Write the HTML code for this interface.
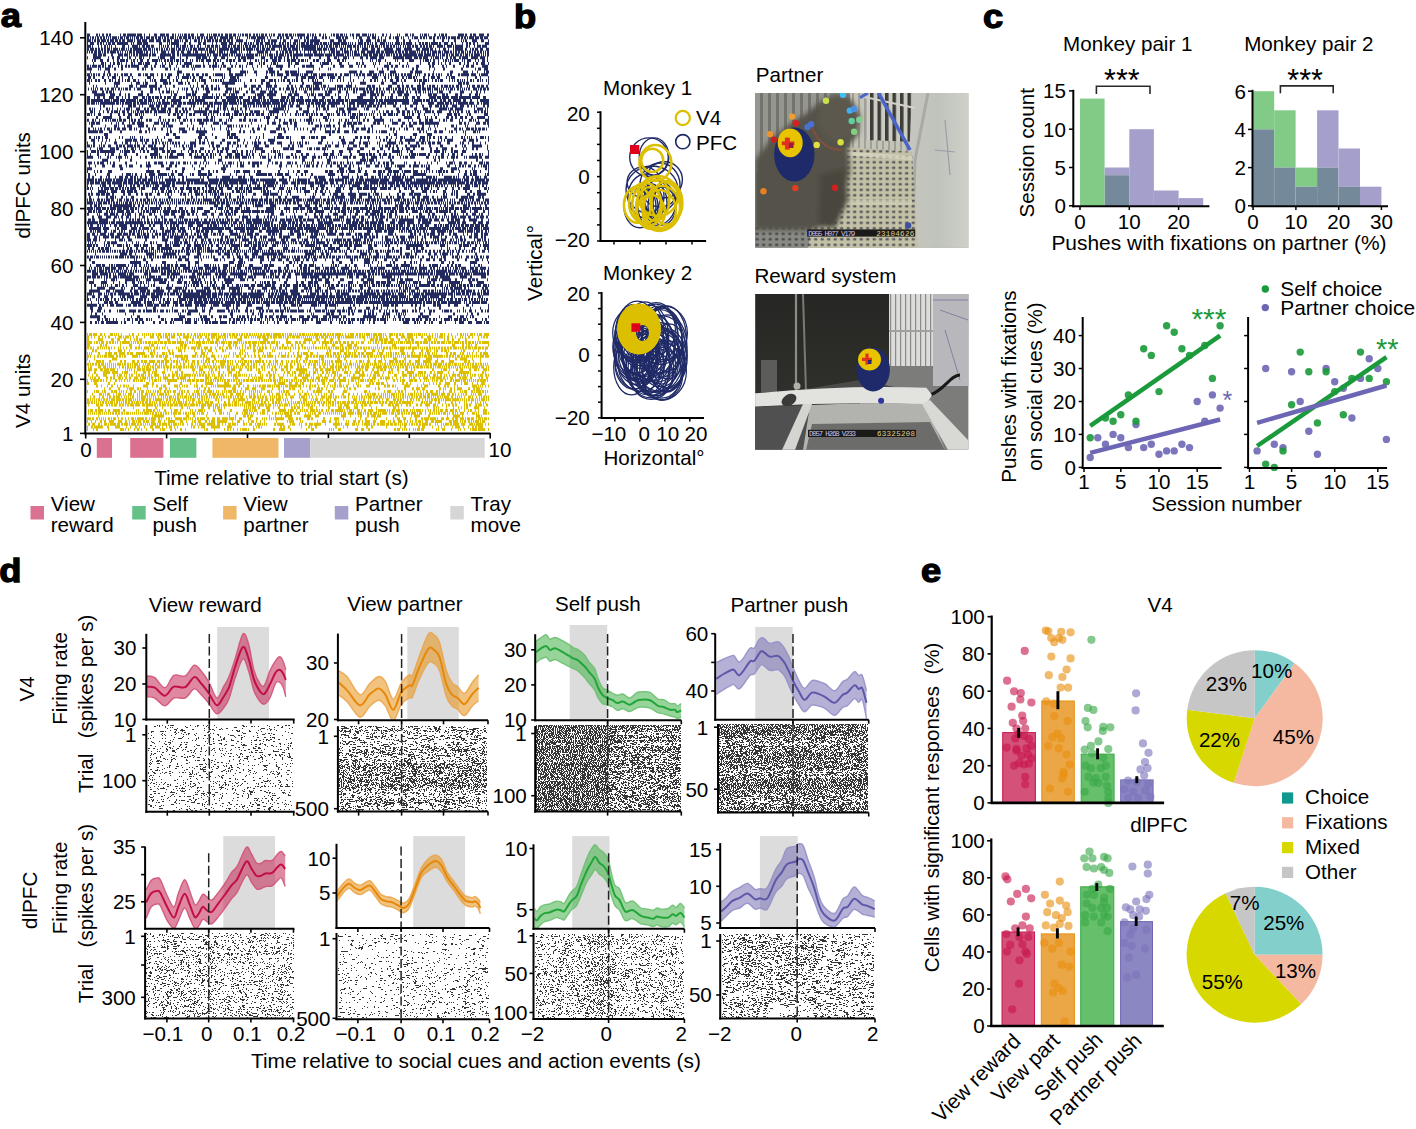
<!DOCTYPE html>
<html><head><meta charset="utf-8"><style>
html,body{margin:0;padding:0;background:#fff;}
body{width:1416px;height:1129px;overflow:hidden;}
svg{display:block;font-family:"Liberation Sans",sans-serif;font-size:20.6px;}
</style></head><body>
<svg width="1416" height="1129" viewBox="0 0 1416 1129">
<text transform="translate(0.7,27) scale(1.1,1)" font-size="33" font-weight="bold" stroke="#000" stroke-width="1.3">a</text>
<path d="M90 322.4h2m3 0h2m1 0h1m2 0h3m2 0h12m3 0h1m2 0h2m6 0h1m5 0h2m2 0h2m9 0h2m4 0h2m4 0h2m3 0h2m1 0h1m8 0h1m2 0h6m3 0h3m5 0h1m2 0h3m1 0h2m1 0h6m2 0h7m2 0h1m2 0h3m1 0h1m3 0h1m3 0h1m5 0h2m8 0h2m1 0h1m3 0h1m6 0h1m2 0h2m6 0h3m3 0h1m10 0h2m1 0h1m10 0h5m9 0h2m7 0h1m1 0h2m1 0h2m2 0h3m1 0h1m7 0h1m1 0h2m5 0h1m3 0h2m9 0h2m17 0h6m5 0h2m1 0h1m1 0h1m4 0h2m3 0h1m1 0h2m6 0h3m3 0h1m9 0h1m3 0h5m4 0h4m4 0h6m2 0h1m1 0h3M97 319.6h3m2 0h1m2 0h3m1 0h1m3 0h1m2 0h1m7 0h1m2 0h3m2 0h1m2 0h3m1 0h4m3 0h2m1 0h1m1 0h1m9 0h3m1 0h1m5 0h2m1 0h9m2 0h1m1 0h4m3 0h1m1 0h1m1 0h1m2 0h2m1 0h6m5 0h1m4 0h1m8 0h2m2 0h2m1 0h4m1 0h2m1 0h2m2 0h1m1 0h3m1 0h2m1 0h3m1 0h1m3 0h1m1 0h1m1 0h1m2 0h2m3 0h1m1 0h3m2 0h1m1 0h1m1 0h1m2 0h5m1 0h1m1 0h1m2 0h7m2 0h2m3 0h2m1 0h1m1 0h6m1 0h1m1 0h1m1 0h1m3 0h1m2 0h2m2 0h1m2 0h1m1 0h2m1 0h4m2 0h2m1 0h5m2 0h1m1 0h2m2 0h3m1 0h2m1 0h6m1 0h1m5 0h1m1 0h1m3 0h2m1 0h2m1 0h5m2 0h3m1 0h3m1 0h2m3 0h3m1 0h2m2 0h2m1 0h1m4 0h1m2 0h6m1 0h1m2 0h4m1 0h3m1 0h3m1 0h1m7 0h2m5 0h1m2 0h2M90 316.7h10m4 0h2m25 0h1m5 0h3m18 0h2m19 0h6m15 0h2m1 0h4m4 0h2m6 0h3m1 0h4m4 0h2m4 0h1m1 0h2m1 0h3m2 0h2m2 0h1m3 0h1m4 0h3m2 0h2m2 0h4m3 0h3m1 0h7m3 0h2m7 0h5m3 0h3m2 0h6m5 0h4m2 0h2m1 0h7m2 0h1m1 0h3m17 0h13m6 0h2m1 0h1m1 0h1m1 0h1m4 0h1m3 0h3m3 0h1m13 0h3m1 0h7m10 0h1m8 0h4m5 0h1m2 0h4m2 0h1m3 0h1m1 0h2m14 0h1M91 313.9h1m3 0h2m5 0h1m22 0h1m7 0h1m44 0h1m1 0h1m6 0h4m8 0h1m9 0h1m20 0h3m14 0h1m4 0h2m4 0h1m1 0h3m10 0h1m7 0h2m28 0h1m1 0h1m12 0h4m1 0h3m5 0h2m7 0h2m2 0h2m10 0h2m2 0h3m1 0h2m2 0h1m6 0h2m1 0h4m6 0h1m1 0h2m1 0h1m1 0h1m1 0h1m14 0h3m6 0h2m22 0h2m12 0h1m3 0h2m4 0h2M91 311h2m4 0h4m3 0h1m4 0h2m6 0h1m1 0h6m4 0h7m2 0h3m2 0h2m1 0h6m1 0h3m1 0h1m2 0h4m2 0h2m1 0h1m2 0h1m1 0h4m4 0h2m1 0h1m2 0h10m4 0h3m4 0h2m6 0h8m3 0h2m1 0h2m1 0h1m1 0h1m1 0h2m5 0h3m2 0h2m1 0h1m5 0h2m1 0h2m2 0h2m1 0h4m2 0h4m1 0h4m1 0h1m1 0h2m1 0h7m1 0h6m3 0h1m1 0h2m4 0h6m1 0h3m1 0h1m1 0h1m1 0h5m2 0h4m1 0h3m1 0h1m1 0h2m1 0h2m1 0h1m3 0h4m2 0h2m2 0h1m1 0h1m1 0h2m5 0h2m3 0h1m1 0h1m2 0h1m2 0h2m1 0h3m4 0h4m1 0h1m4 0h2m1 0h2m2 0h1m4 0h1m4 0h3m1 0h2m7 0h1m1 0h5m1 0h2m5 0h1m1 0h1m3 0h1m1 0h1m3 0h3m3 0h1m5 0h2m2 0h1m1 0h2M90 308.2h3m5 0h4m44 0h1m6 0h3m16 0h1m14 0h1m7 0h2m5 0h1m1 0h1m5 0h3m13 0h3m4 0h1m2 0h2m8 0h2m8 0h7m5 0h1m11 0h1m3 0h2m1 0h1m1 0h1m8 0h1m11 0h1m3 0h1m10 0h2m8 0h1m7 0h1m4 0h4m3 0h1m10 0h4m3 0h2m1 0h2m3 0h1m5 0h1m7 0h1m19 0h1m3 0h2m7 0h1m10 0h2m22 0h1m6 0h1m9 0h1m7 0h1M87 305.3h10m2 0h2m1 0h2m3 0h1m2 0h4m2 0h7m3 0h1m1 0h3m2 0h4m1 0h5m2 0h1m1 0h6m1 0h5m2 0h5m1 0h2m4 0h1m1 0h3m2 0h4m1 0h7m3 0h4m1 0h6m5 0h1m1 0h6m3 0h9m2 0h1m2 0h4m7 0h5m10 0h1m3 0h4m9 0h2m2 0h2m6 0h5m1 0h1m1 0h3m9 0h6m1 0h1m1 0h1m4 0h3m1 0h7m1 0h1m12 0h1m2 0h2m4 0h1m13 0h1m3 0h1m3 0h1m1 0h6m2 0h3m1 0h3m4 0h1m8 0h2m2 0h2m3 0h1m2 0h2m8 0h3m1 0h4m7 0h2m4 0h4m8 0h3m3 0h1m15 0h1M91 302.5h1m6 0h1m5 0h4m1 0h4m2 0h3m13 0h10m3 0h2m1 0h5m1 0h1m5 0h2m2 0h1m1 0h5m3 0h5m1 0h3m3 0h2m1 0h4m2 0h9m1 0h4m1 0h11m1 0h2m2 0h10m1 0h4m1 0h5m1 0h4m1 0h3m1 0h4m1 0h1m1 0h7m1 0h4m1 0h7m1 0h4m1 0h5m1 0h1m1 0h3m1 0h16m1 0h9m1 0h3m1 0h2m1 0h18m1 0h1m1 0h7m1 0h4m1 0h12m1 0h40m1 0h2m1 0h6m1 0h3m1 0h3m1 0h6m1 0h13m3 0h1m1 0h1m2 0h2m1 0h8m1 0h6M87 299.6h2m1 0h1m5 0h1m1 0h1m1 0h2m1 0h1m1 0h4m2 0h1m2 0h2m2 0h1m2 0h2m1 0h2m1 0h1m2 0h1m1 0h2m2 0h2m1 0h4m1 0h2m2 0h1m3 0h3m1 0h1m1 0h1m1 0h1m2 0h2m2 0h2m1 0h1m2 0h1m3 0h1m1 0h7m1 0h1m1 0h4m1 0h3m1 0h4m1 0h4m1 0h1m1 0h3m1 0h1m1 0h2m1 0h2m1 0h1m1 0h1m1 0h1m1 0h1m1 0h4m1 0h2m1 0h4m1 0h3m1 0h1m1 0h1m1 0h1m1 0h2m1 0h2m1 0h1m1 0h2m1 0h1m1 0h2m1 0h1m1 0h1m1 0h2m1 0h2m1 0h5m1 0h2m1 0h3m1 0h4m1 0h4m1 0h1m1 0h1m1 0h1m1 0h1m1 0h1m1 0h2m1 0h5m1 0h4m1 0h1m1 0h1m1 0h2m1 0h1m1 0h1m1 0h3m1 0h3m1 0h7m1 0h2m1 0h8m1 0h2m1 0h1m1 0h1m1 0h1m1 0h1m1 0h1m1 0h2m1 0h4m1 0h3m1 0h2m1 0h1m1 0h3m1 0h2m1 0h1m1 0h1m1 0h2m1 0h4m1 0h2m1 0h1m1 0h5m1 0h2m1 0h2m1 0h1m1 0h1m2 0h1m1 0h5m1 0h1m2 0h2m1 0h3m2 0h2m1 0h3m1 0h1m1 0h3m2 0h1m1 0h2m1 0h2m1 0h1m1 0h1m1 0h2m1 0h1m1 0h2M87 296.8h1m4 0h3m3 0h2m4 0h4m3 0h2m7 0h1m1 0h3m2 0h7m6 0h7m4 0h8m1 0h2m6 0h1m9 0h3m2 0h23m1 0h4m1 0h5m1 0h1m2 0h1m2 0h1m1 0h2m1 0h2m1 0h4m2 0h2m1 0h8m1 0h12m1 0h1m4 0h5m1 0h2m1 0h7m1 0h7m1 0h4m1 0h4m1 0h12m1 0h12m1 0h6m1 0h7m1 0h2m1 0h4m1 0h4m1 0h11m1 0h2m1 0h6m1 0h6m1 0h2m1 0h1m1 0h7m1 0h7m1 0h1m1 0h1m3 0h6m1 0h1m1 0h5m1 0h1m1 0h9m2 0h5m5 0h2m1 0h1m6 0h1m3 0h1m2 0h2m2 0h1m5 0h3m1 0h1M87 293.9h5m1 0h1m4 0h4m2 0h1m1 0h1m1 0h1m1 0h3m1 0h2m2 0h12m1 0h2m1 0h5m1 0h1m1 0h3m1 0h4m1 0h4m1 0h7m1 0h2m1 0h2m1 0h5m1 0h3m1 0h2m1 0h17m1 0h10m1 0h5m1 0h5m1 0h5m1 0h12m1 0h4m1 0h16m4 0h2m1 0h3m1 0h2m1 0h1m1 0h8m3 0h9m7 0h1m2 0h6m1 0h2m3 0h3m1 0h2m2 0h2m4 0h4m1 0h8m11 0h3m1 0h12m1 0h3m2 0h9m1 0h2m1 0h1m2 0h6m1 0h1m3 0h2m1 0h1m1 0h6m1 0h3m1 0h22m1 0h5m1 0h1m1 0h5m1 0h3m1 0h3m1 0h1m1 0h4m1 0h3m1 0h1m1 0h6M89 291.1h11m6 0h4m3 0h1m1 0h9m6 0h2m2 0h4m2 0h6m1 0h3m3 0h11m4 0h2m3 0h5m1 0h1m2 0h4m2 0h2m1 0h2m3 0h10m1 0h4m4 0h1m3 0h2m1 0h1m6 0h1m2 0h4m1 0h3m1 0h1m9 0h2m2 0h1m1 0h4m3 0h1m1 0h1m2 0h1m2 0h1m1 0h1m1 0h2m1 0h2m1 0h3m1 0h1m3 0h8m3 0h3m2 0h1m1 0h1m1 0h2m3 0h4m1 0h1m1 0h1m2 0h3m2 0h1m4 0h1m1 0h3m1 0h1m1 0h2m1 0h1m1 0h3m1 0h2m1 0h2m1 0h2m1 0h1m2 0h2m1 0h3m1 0h2m1 0h1m1 0h3m2 0h1m1 0h2m1 0h1m1 0h2m1 0h2m1 0h1m1 0h2m1 0h1m1 0h1m1 0h3m1 0h1m1 0h1m1 0h4m2 0h1m1 0h1m3 0h4m1 0h2m1 0h3m1 0h1m1 0h1m1 0h2m1 0h1m1 0h1m1 0h1m1 0h1m2 0h4m1 0h1m1 0h2m1 0h4m1 0h6m1 0h2m3 0h1m2 0h1m1 0h3m1 0h2M91 288.3h1m5 0h8m4 0h6m6 0h2m1 0h1m6 0h2m1 0h1m3 0h10m8 0h4m1 0h1m4 0h6m3 0h7m1 0h1m1 0h2m8 0h1m6 0h1m1 0h6m3 0h3m1 0h3m1 0h4m4 0h11m1 0h1m6 0h3m1 0h2m8 0h5m4 0h5m3 0h3m3 0h2m6 0h5m6 0h4m1 0h3m3 0h1m1 0h4m6 0h1m1 0h6m9 0h1m3 0h4m8 0h3m5 0h3m16 0h1m11 0h2m2 0h1m1 0h3m1 0h2m4 0h4m16 0h1m6 0h1m1 0h1m1 0h2m2 0h3m1 0h8m2 0h2m2 0h1m13 0h2m1 0h3M91 285.4h1m2 0h2m5 0h1m1 0h1m1 0h1m1 0h1m3 0h1m3 0h3m1 0h1m2 0h2m2 0h1m6 0h5m2 0h1m3 0h1m3 0h1m2 0h1m1 0h2m12 0h2m3 0h1m11 0h1m1 0h1m1 0h1m2 0h1m1 0h2m1 0h3m2 0h2m4 0h1m2 0h1m1 0h3m1 0h1m5 0h3m2 0h2m3 0h1m3 0h3m1 0h1m1 0h1m1 0h5m2 0h4m2 0h6m2 0h6m1 0h3m5 0h2m1 0h2m1 0h4m3 0h5m1 0h2m1 0h4m2 0h3m1 0h1m1 0h2m1 0h2m4 0h1m1 0h1m2 0h2m1 0h3m2 0h3m2 0h2m1 0h1m1 0h1m1 0h2m1 0h1m1 0h1m1 0h1m3 0h4m1 0h2m1 0h1m1 0h1m2 0h3m1 0h1m1 0h2m1 0h1m1 0h2m1 0h4m1 0h2m1 0h1m1 0h1m1 0h2m1 0h1m1 0h1m1 0h2m1 0h1m1 0h1m1 0h1m1 0h1m1 0h1m2 0h11m1 0h4m2 0h2m1 0h3m2 0h1m1 0h1m1 0h1m1 0h5m1 0h1m1 0h3m1 0h3m1 0h2m1 0h3m1 0h1m1 0h5m2 0h4m1 0h1M89 282.6h5m7 0h6m6 0h1m5 0h1m5 0h2m5 0h3m3 0h1m1 0h2m1 0h1m2 0h1m1 0h1m5 0h1m4 0h7m2 0h1m8 0h5m2 0h3m2 0h1m2 0h7m1 0h2m3 0h1m1 0h1m2 0h2m2 0h2m6 0h1m2 0h7m23 0h1m4 0h1m1 0h1m1 0h2m1 0h3m2 0h4m8 0h3m9 0h2m3 0h3m4 0h5m1 0h4m7 0h5m8 0h2m8 0h5m4 0h1m5 0h5m1 0h1m1 0h3m2 0h4m1 0h5m1 0h4m6 0h1m1 0h6m1 0h1m2 0h1m3 0h5m1 0h2m6 0h4m2 0h2m6 0h2m6 0h11m1 0h1m7 0h3m5 0h7M87 279.7h1m5 0h1m10 0h1m1 0h1m4 0h4m1 0h1m8 0h10m1 0h2m1 0h1m6 0h5m2 0h10m1 0h3m4 0h3m4 0h3m1 0h1m8 0h3m1 0h2m1 0h3m3 0h1m5 0h1m2 0h2m3 0h1m5 0h10m6 0h5m2 0h1m4 0h2m18 0h1m6 0h1m6 0h2m8 0h1m8 0h1m5 0h2m2 0h2m1 0h4m3 0h4m4 0h1m6 0h4m8 0h1m8 0h3m3 0h7m13 0h3m1 0h4m2 0h1m2 0h3m2 0h8m5 0h1m8 0h1m1 0h1m1 0h6m2 0h1m2 0h9m4 0h2m5 0h1m5 0h3m1 0h3m1 0h2m9 0h1M87 276.9h4m1 0h4m1 0h3m1 0h1m2 0h1m1 0h2m1 0h2m2 0h4m1 0h1m1 0h12m1 0h6m2 0h1m1 0h1m1 0h1m1 0h1m1 0h6m1 0h1m1 0h3m6 0h2m1 0h2m1 0h2m1 0h1m3 0h3m1 0h1m1 0h1m2 0h7m1 0h1m1 0h1m2 0h2m2 0h1m3 0h1m2 0h1m2 0h1m1 0h3m1 0h4m2 0h2m4 0h1m1 0h1m1 0h5m2 0h1m2 0h5m1 0h2m7 0h2m1 0h1m1 0h1m1 0h2m1 0h1m1 0h4m3 0h3m2 0h4m5 0h1m5 0h5m1 0h1m1 0h9m3 0h4m2 0h2m1 0h1m4 0h2m9 0h1m1 0h4m3 0h3m4 0h4m1 0h2m1 0h1m1 0h1m8 0h10m2 0h1m3 0h1m1 0h1m6 0h1m10 0h1m2 0h1m1 0h1m4 0h2m3 0h1m1 0h3m2 0h10m10 0h7m3 0h2m9 0h5M92 274h6m2 0h8m1 0h2m2 0h1m1 0h1m2 0h8m1 0h1m1 0h5m10 0h4m1 0h2m10 0h5m1 0h3m1 0h9m12 0h3m2 0h5m1 0h8m4 0h3m1 0h8m3 0h17m4 0h1m1 0h13m4 0h4m1 0h1m2 0h2m3 0h3m2 0h3m4 0h5m1 0h12m1 0h32m1 0h6m1 0h1m1 0h10m2 0h3m1 0h2m1 0h2m1 0h2m1 0h4m1 0h18m1 0h12m1 0h11m1 0h3m1 0h1m1 0h9m1 0h2m1 0h6m1 0h2m1 0h4m1 0h6m1 0h1m1 0h13m1 0h2M87 271.2h4m1 0h4m1 0h1m1 0h5m1 0h2m1 0h2m1 0h2m1 0h1m1 0h3m1 0h1m1 0h1m1 0h3m1 0h1m1 0h2m1 0h1m1 0h2m1 0h1m1 0h2m1 0h1m1 0h3m1 0h1m1 0h7m1 0h1m1 0h2m1 0h2m1 0h5m1 0h3m1 0h1m1 0h1m1 0h1m1 0h1m1 0h2m1 0h4m1 0h5m1 0h1m1 0h1m1 0h1m1 0h2m1 0h1m1 0h5m1 0h1m1 0h3m1 0h4m1 0h1m1 0h1m1 0h1m1 0h2m1 0h1m1 0h1m1 0h3m1 0h1m1 0h1m1 0h1m1 0h2m1 0h1m1 0h2m1 0h1m1 0h1m1 0h3m1 0h3m1 0h3m1 0h3m1 0h4m1 0h1m1 0h3m1 0h1m1 0h2m1 0h2m1 0h1m1 0h1m1 0h1m1 0h4m1 0h2m1 0h3m1 0h1m1 0h1m1 0h1m1 0h2m1 0h2m1 0h2m1 0h2m1 0h3m1 0h2m1 0h1m1 0h3m1 0h1m1 0h4m1 0h4m1 0h3m1 0h2m1 0h1m1 0h3m1 0h4m1 0h1m1 0h2m1 0h1m1 0h1m1 0h2m1 0h2m1 0h1m1 0h2m1 0h1m1 0h2m1 0h5m1 0h2m1 0h1m1 0h1m1 0h2m1 0h1m1 0h3m1 0h2m1 0h1m1 0h2m1 0h2m1 0h1m1 0h11m1 0h3m1 0h1m1 0h3m1 0h1m1 0h1m1 0h2m1 0h2m1 0h1m1 0h1m1 0h6m1 0h1m1 0h2m1 0h1m2 0h2M89 268.3h1m1 0h1m2 0h2m1 0h1m1 0h3m1 0h1m1 0h5m1 0h5m2 0h4m1 0h1m2 0h2m3 0h1m2 0h1m1 0h1m4 0h1m1 0h1m1 0h1m1 0h2m2 0h3m1 0h2m1 0h2m1 0h9m1 0h1m1 0h1m1 0h2m1 0h2m3 0h7m2 0h1m1 0h1m1 0h1m1 0h5m2 0h6m1 0h5m1 0h2m3 0h4m2 0h1m1 0h1m1 0h2m2 0h4m4 0h2m1 0h3m1 0h10m2 0h3m1 0h2m8 0h3m3 0h2m1 0h2m8 0h1m2 0h2m1 0h4m1 0h2m5 0h5m3 0h1m1 0h4m1 0h5m2 0h1m3 0h8m2 0h1m3 0h1m1 0h1m12 0h3m1 0h3m1 0h7m7 0h7m1 0h1m3 0h1m1 0h1m1 0h1m1 0h4m1 0h2m2 0h8m3 0h2m1 0h2m2 0h1m1 0h1m2 0h2m1 0h2m1 0h1m1 0h1m2 0h1m1 0h3m1 0h1m1 0h5m4 0h4m1 0h3m2 0h6m2 0h1M90 265.5h1m5 0h5m1 0h3m4 0h1m1 0h2m1 0h1m1 0h10m2 0h1m3 0h1m1 0h3m2 0h2m3 0h1m1 0h1m1 0h1m1 0h1m5 0h1m4 0h1m2 0h2m1 0h3m1 0h2m2 0h3m2 0h6m2 0h2m5 0h1m2 0h1m5 0h5m1 0h1m2 0h1m1 0h1m2 0h1m4 0h5m1 0h1m5 0h1m1 0h5m1 0h1m5 0h4m9 0h1m1 0h4m1 0h5m12 0h3m4 0h1m5 0h3m2 0h3m2 0h5m1 0h1m6 0h1m8 0h1m1 0h1m1 0h2m1 0h1m6 0h2m2 0h1m4 0h3m7 0h1m3 0h1m1 0h1m6 0h1m3 0h1m4 0h6m2 0h1m1 0h2m3 0h9m1 0h1m7 0h2m2 0h1m5 0h2m1 0h6m2 0h1m6 0h2m2 0h2m2 0h2m1 0h3m9 0h1m3 0h1m3 0h2m1 0h1M92 262.6h3m35 0h11m5 0h2m14 0h4m10 0h1m11 0h2m5 0h4m30 0h5m4 0h5m1 0h1m15 0h2m8 0h1m12 0h1m5 0h3m2 0h1m2 0h1m3 0h2m10 0h1m18 0h2m5 0h3m9 0h2m11 0h6m2 0h1m5 0h1m2 0h1m8 0h1m2 0h2m9 0h2m4 0h2m2 0h1m1 0h1m3 0h1m20 0h3m5 0h1m2 0h2m16 0h7m11 0h1M89 259.8h2m43 0h1m1 0h1m6 0h3m5 0h2m25 0h4m3 0h4m9 0h1m2 0h1m12 0h4m2 0h1m3 0h1m8 0h2m4 0h4m5 0h1m1 0h3m7 0h4m4 0h1m2 0h4m3 0h4m4 0h3m4 0h1m1 0h5m3 0h1m2 0h3m3 0h1m1 0h3m8 0h1m6 0h1m3 0h3m11 0h3m1 0h1m2 0h1m6 0h6m3 0h1m1 0h2m7 0h3m5 0h1m2 0h3m13 0h1m8 0h2m4 0h4m3 0h2m4 0h3m2 0h2m11 0h2m6 0h2m8 0h4m3 0h1m4 0h1M87 256.9h2m1 0h3m1 0h1m1 0h3m1 0h1m1 0h1m1 0h1m1 0h1m1 0h2m1 0h1m1 0h1m1 0h3m1 0h5m1 0h1m1 0h2m1 0h5m1 0h2m1 0h1m1 0h1m2 0h1m2 0h1m1 0h3m1 0h1m1 0h1m1 0h2m1 0h1m1 0h4m1 0h2m1 0h2m1 0h1m1 0h2m2 0h2m1 0h4m2 0h1m5 0h5m1 0h1m2 0h1m2 0h1m1 0h1m2 0h1m1 0h2m7 0h2m3 0h3m3 0h1m3 0h4m1 0h1m2 0h4m3 0h3m1 0h1m1 0h6m3 0h2m2 0h1m1 0h3m1 0h1m1 0h1m1 0h5m1 0h1m1 0h1m2 0h1m1 0h2m1 0h3m1 0h2m1 0h3m1 0h2m1 0h1m1 0h3m1 0h1m1 0h3m1 0h2m1 0h2m1 0h2m1 0h3m1 0h1m1 0h3m1 0h1m1 0h1m1 0h5m1 0h1m1 0h4m1 0h2m1 0h2m1 0h1m1 0h1m1 0h1m1 0h1m1 0h6m1 0h1m1 0h1m1 0h1m1 0h6m1 0h2m1 0h1m1 0h2m1 0h1m1 0h2m1 0h3m1 0h4m1 0h1m2 0h1m3 0h2m5 0h1m1 0h2m1 0h1m2 0h1m3 0h1m1 0h3m6 0h2m1 0h3m1 0h1m1 0h1m4 0h3m2 0h2m1 0h1m1 0h2m2 0h2m1 0h1m2 0h3M95 254.1h1m24 0h7m2 0h3m3 0h1m10 0h8m1 0h1m7 0h13m2 0h1m7 0h4m7 0h4m10 0h1m6 0h3m3 0h6m2 0h1m3 0h2m1 0h1m4 0h3m5 0h6m4 0h15m1 0h5m22 0h9m1 0h1m5 0h3m2 0h3m1 0h1m14 0h2m13 0h7m2 0h2m5 0h3m7 0h3m11 0h2m3 0h5m1 0h1m3 0h2m11 0h3m3 0h3m3 0h1m1 0h6m2 0h1m1 0h1m4 0h2m16 0h2M87 251.3h1m1 0h1m1 0h1m1 0h1m1 0h1m1 0h1m1 0h2m1 0h3m1 0h3m1 0h1m1 0h1m1 0h2m1 0h1m1 0h2m1 0h3m1 0h2m1 0h4m1 0h1m1 0h1m1 0h2m1 0h2m1 0h4m1 0h1m1 0h1m1 0h1m1 0h1m1 0h1m1 0h1m1 0h2m1 0h1m1 0h2m1 0h2m1 0h2m1 0h2m1 0h2m1 0h2m1 0h1m1 0h3m1 0h1m1 0h2m1 0h1m1 0h3m1 0h1m1 0h1m1 0h1m1 0h7m1 0h4m1 0h1m1 0h2m1 0h1m1 0h3m1 0h1m1 0h3m1 0h2m1 0h1m1 0h1m1 0h1m1 0h1m1 0h1m1 0h1m1 0h1m1 0h5m1 0h1m1 0h1m1 0h1m1 0h1m1 0h2m1 0h3m1 0h1m1 0h3m1 0h1m1 0h2m1 0h1m1 0h2m1 0h4m1 0h1m1 0h1m1 0h1m1 0h1m1 0h4m1 0h2m1 0h4m2 0h1m1 0h1m1 0h1m2 0h2m1 0h1m2 0h2m1 0h3m2 0h2m1 0h1m1 0h1m1 0h1m3 0h2m1 0h1m3 0h2m1 0h2m1 0h1m2 0h1m1 0h2m1 0h1m1 0h1m1 0h3m2 0h2m1 0h1m1 0h1m1 0h4m1 0h1m1 0h1m1 0h3m1 0h2m9 0h1m2 0h1m1 0h5m1 0h1m2 0h2m2 0h2m2 0h2m2 0h1m1 0h2m2 0h2m2 0h2m1 0h1m1 0h2m2 0h1m1 0h2m2 0h2m2 0h1m2 0h1m1 0h2m1 0h1m4 0h1m2 0h3m3 0h1M88 248.4h2m2 0h2m4 0h2m1 0h3m1 0h4m1 0h1m12 0h1m3 0h2m1 0h2m4 0h2m3 0h3m2 0h1m2 0h1m1 0h3m3 0h3m1 0h11m10 0h2m2 0h4m2 0h1m1 0h2m1 0h5m1 0h1m1 0h1m1 0h3m1 0h1m6 0h4m2 0h2m4 0h2m2 0h4m1 0h1m9 0h2m1 0h4m2 0h4m7 0h4m10 0h5m4 0h1m1 0h1m3 0h1m12 0h1m1 0h1m1 0h6m3 0h1m3 0h7m1 0h4m7 0h3m4 0h2m12 0h5m15 0h1m3 0h2m6 0h2m4 0h4m3 0h2m1 0h2m3 0h3m17 0h1m5 0h1m1 0h1m5 0h1m3 0h2m3 0h1m7 0h4m3 0h1m4 0h2m1 0h2M87 245.6h5m1 0h2m1 0h2m6 0h1m1 0h1m1 0h2m3 0h1m3 0h5m1 0h1m2 0h2m1 0h1m4 0h5m1 0h1m2 0h5m3 0h1m5 0h5m3 0h4m1 0h1m2 0h7m4 0h1m2 0h4m3 0h7m1 0h2m1 0h1m2 0h1m2 0h2m3 0h3m3 0h1m2 0h1m3 0h1m1 0h9m1 0h1m2 0h5m2 0h1m1 0h4m1 0h3m1 0h2m1 0h2m5 0h4m1 0h1m4 0h1m1 0h1m1 0h1m1 0h1m12 0h2m2 0h10m1 0h1m2 0h1m3 0h5m2 0h2m7 0h4m1 0h4m1 0h3m2 0h8m6 0h4m2 0h3m5 0h1m2 0h2m1 0h2m7 0h1m8 0h17m3 0h3m11 0h5m2 0h1m11 0h3m1 0h6m1 0h1m4 0h2m3 0h1m2 0h6M88 242.7h1m1 0h1m1 0h1m2 0h1m8 0h1m2 0h3m1 0h6m9 0h1m5 0h1m3 0h1m1 0h1m5 0h1m5 0h2m1 0h1m2 0h1m8 0h2m3 0h1m1 0h1m1 0h5m1 0h2m2 0h4m1 0h1m4 0h2m1 0h1m3 0h2m1 0h1m1 0h1m2 0h3m2 0h1m3 0h1m1 0h2m1 0h2m1 0h3m1 0h3m1 0h1m4 0h1m1 0h1m3 0h1m2 0h4m1 0h1m1 0h2m1 0h3m1 0h1m1 0h1m1 0h2m3 0h1m1 0h1m1 0h4m1 0h1m1 0h4m2 0h1m2 0h1m1 0h1m1 0h2m2 0h3m1 0h2m1 0h3m2 0h1m1 0h2m1 0h9m2 0h2m4 0h3m1 0h3m1 0h1m1 0h1m1 0h3m1 0h3m1 0h1m1 0h3m1 0h1m1 0h1m1 0h3m1 0h1m1 0h1m1 0h1m2 0h1m1 0h1m1 0h1m1 0h1m1 0h1m1 0h1m1 0h3m1 0h3m1 0h3m1 0h1m1 0h3m1 0h2m1 0h2m1 0h1m1 0h1m1 0h2m1 0h2m1 0h2m1 0h1m1 0h3m1 0h1m1 0h2m1 0h3m1 0h1m1 0h1m1 0h2m1 0h1m1 0h1m1 0h2m1 0h1m1 0h3m1 0h1m2 0h1m1 0h2m2 0h3m1 0h3m1 0h1m1 0h1m1 0h1m3 0h1m1 0h2m1 0h1M87 239.9h4m2 0h4m2 0h1m5 0h1m9 0h1m3 0h4m1 0h1m3 0h4m13 0h2m15 0h6m6 0h6m3 0h1m1 0h2m2 0h1m2 0h1m2 0h2m4 0h3m1 0h1m2 0h3m2 0h1m1 0h1m1 0h2m1 0h3m2 0h1m1 0h2m1 0h4m1 0h2m2 0h1m2 0h7m2 0h1m2 0h3m2 0h1m1 0h1m1 0h1m1 0h1m2 0h8m5 0h4m1 0h2m3 0h5m2 0h1m3 0h1m1 0h4m4 0h1m1 0h1m1 0h3m2 0h1m4 0h2m1 0h1m2 0h1m1 0h8m1 0h3m1 0h4m2 0h8m3 0h2m1 0h2m1 0h3m9 0h1m2 0h6m1 0h1m1 0h1m2 0h2m2 0h4m1 0h1m2 0h1m1 0h1m3 0h1m1 0h1m3 0h2m2 0h1m7 0h1m1 0h1m1 0h2m2 0h5m4 0h2m1 0h1m2 0h1m1 0h1m1 0h3m1 0h2m8 0h1m2 0h4m1 0h1m1 0h2m2 0h1M87 237h3m4 0h3m2 0h1m3 0h6m2 0h3m1 0h5m2 0h2m3 0h3m5 0h1m1 0h4m1 0h1m1 0h5m3 0h3m2 0h1m4 0h3m2 0h2m1 0h3m1 0h9m1 0h1m2 0h1m1 0h2m1 0h2m3 0h5m2 0h4m13 0h2m2 0h3m1 0h1m5 0h1m1 0h4m1 0h1m1 0h2m4 0h3m1 0h2m4 0h2m1 0h4m4 0h2m1 0h1m4 0h3m1 0h7m7 0h4m6 0h1m2 0h7m5 0h1m1 0h1m12 0h1m4 0h1m9 0h2m2 0h1m1 0h1m1 0h3m1 0h3m2 0h2m1 0h3m1 0h2m4 0h1m2 0h3m5 0h1m2 0h2m2 0h5m3 0h6m1 0h1m1 0h1m4 0h1m1 0h2m4 0h2m1 0h6m2 0h1m3 0h2m5 0h1m2 0h3m2 0h2m2 0h1m4 0h3m2 0h4m3 0h2m1 0h2M87 234.2h3m2 0h3m2 0h1m2 0h6m2 0h1m1 0h4m3 0h5m1 0h5m1 0h2m1 0h3m2 0h3m1 0h1m1 0h3m1 0h2m3 0h1m2 0h3m1 0h2m1 0h5m1 0h1m1 0h1m1 0h2m1 0h1m1 0h1m3 0h3m1 0h3m3 0h1m2 0h2m1 0h2m1 0h1m2 0h5m3 0h1m1 0h3m1 0h1m1 0h2m1 0h2m6 0h8m1 0h1m3 0h1m1 0h1m1 0h6m2 0h4m9 0h3m1 0h3m1 0h1m2 0h3m6 0h1m1 0h4m3 0h4m1 0h2m1 0h1m5 0h2m1 0h4m1 0h1m1 0h1m1 0h1m3 0h9m3 0h5m2 0h5m4 0h2m1 0h4m2 0h6m2 0h1m3 0h2m10 0h5m2 0h1m14 0h3m1 0h2m3 0h2m3 0h2m1 0h2m1 0h5m3 0h2m1 0h3m5 0h2m2 0h4m6 0h1m3 0h1m3 0h1m2 0h4m3 0h2m1 0h4M90 231.3h2m1 0h1m1 0h1m1 0h4m3 0h3m4 0h1m1 0h3m3 0h1m1 0h2m1 0h1m4 0h3m1 0h2m1 0h1m1 0h2m1 0h1m1 0h1m3 0h1m2 0h1m2 0h2m1 0h1m5 0h2m1 0h6m1 0h3m3 0h3m1 0h4m5 0h1m4 0h4m1 0h3m1 0h4m2 0h2m5 0h4m7 0h4m3 0h1m3 0h5m2 0h2m1 0h4m5 0h3m4 0h13m1 0h2m8 0h3m1 0h6m2 0h1m3 0h2m1 0h10m7 0h2m1 0h4m2 0h2m5 0h1m6 0h1m1 0h1m1 0h1m13 0h4m4 0h7m2 0h3m1 0h6m5 0h1m1 0h2m1 0h1m1 0h1m1 0h4m2 0h2m1 0h2m1 0h1m2 0h2m1 0h1m4 0h4m2 0h9m1 0h1m1 0h3m1 0h1m4 0h6m1 0h1m1 0h6m1 0h1m1 0h4m1 0h2m2 0h2m1 0h1M89 228.5h12m2 0h6m6 0h1m1 0h2m2 0h6m4 0h6m2 0h2m1 0h7m2 0h2m7 0h4m3 0h1m2 0h6m1 0h2m1 0h5m3 0h1m1 0h1m2 0h2m1 0h2m1 0h1m2 0h22m1 0h6m3 0h11m1 0h12m1 0h1m2 0h4m1 0h4m1 0h6m1 0h7m1 0h9m1 0h6m1 0h12m1 0h9m1 0h1m1 0h5m1 0h1m1 0h1m1 0h1m1 0h7m1 0h4m1 0h3m1 0h4m1 0h10m1 0h2m1 0h7m1 0h1m1 0h8m1 0h2m1 0h2m1 0h3m1 0h3m1 0h1m1 0h3m1 0h2m1 0h7m1 0h1m1 0h12m1 0h7m1 0h1m1 0h2m1 0h6m1 0h4m1 0h1m1 0h4m1 0h6m1 0h1m1 0h6M88 225.6h1m1 0h3m4 0h2m1 0h1m1 0h1m1 0h2m4 0h1m3 0h3m2 0h8m3 0h2m2 0h2m1 0h1m2 0h4m5 0h2m2 0h2m5 0h3m3 0h1m3 0h2m1 0h2m1 0h3m3 0h1m5 0h5m4 0h6m4 0h2m1 0h2m1 0h4m1 0h1m3 0h1m1 0h2m2 0h1m2 0h2m1 0h1m2 0h1m1 0h1m1 0h2m1 0h1m1 0h1m1 0h1m1 0h4m1 0h2m1 0h1m1 0h1m1 0h1m1 0h6m1 0h2m1 0h2m1 0h1m1 0h1m1 0h6m1 0h1m1 0h1m1 0h2m1 0h3m1 0h3m1 0h2m1 0h4m1 0h2m1 0h1m1 0h1m1 0h6m1 0h1m1 0h4m1 0h2m1 0h2m1 0h3m1 0h1m1 0h2m1 0h1m1 0h8m1 0h2m1 0h3m1 0h1m1 0h2m1 0h2m1 0h3m1 0h4m1 0h2m1 0h1m1 0h3m1 0h1m1 0h2m1 0h2m1 0h4m1 0h1m2 0h3m3 0h2m1 0h1m1 0h1m1 0h3m2 0h4m5 0h3m1 0h1m1 0h2m1 0h1m1 0h4m1 0h2m1 0h2m1 0h1m1 0h2m1 0h3m1 0h4m1 0h4m1 0h5m1 0h3m1 0h3M87 222.8h11m1 0h9m1 0h1m1 0h4m1 0h8m1 0h18m1 0h2m1 0h3m1 0h2m1 0h9m1 0h2m1 0h2m1 0h7m1 0h6m1 0h2m1 0h7m1 0h5m1 0h8m1 0h5m1 0h2m1 0h8m1 0h1m1 0h1m1 0h4m2 0h3m1 0h1m2 0h6m1 0h9m1 0h7m1 0h2m6 0h2m1 0h4m2 0h3m1 0h3m1 0h2m2 0h3m3 0h1m5 0h2m4 0h5m1 0h9m9 0h1m3 0h5m1 0h6m1 0h4m2 0h4m1 0h7m1 0h6m6 0h5m3 0h7m2 0h7m4 0h2m2 0h9m8 0h1m8 0h8m1 0h3m2 0h4m7 0h3m2 0h5m3 0h3M88 219.9h3m1 0h3m4 0h9m5 0h2m4 0h1m2 0h1m3 0h1m2 0h2m1 0h2m1 0h1m1 0h3m1 0h1m2 0h1m2 0h2m2 0h1m2 0h1m1 0h1m1 0h2m2 0h1m1 0h3m2 0h4m3 0h1m1 0h1m1 0h1m1 0h1m1 0h4m1 0h2m1 0h1m1 0h5m2 0h1m2 0h3m2 0h2m1 0h1m1 0h1m1 0h2m1 0h2m1 0h2m1 0h1m1 0h3m1 0h2m2 0h4m3 0h2m2 0h5m1 0h10m1 0h1m1 0h2m1 0h1m1 0h1m1 0h2m1 0h2m3 0h5m1 0h6m1 0h1m1 0h3m1 0h3m1 0h3m1 0h7m3 0h3m1 0h1m1 0h2m1 0h1m2 0h3m1 0h7m1 0h1m1 0h1m2 0h5m2 0h2m1 0h3m2 0h3m1 0h1m1 0h1m4 0h2m2 0h2m1 0h4m3 0h2m4 0h3m1 0h1m2 0h15m4 0h3m1 0h6m1 0h3m2 0h5m2 0h3m3 0h2m2 0h3m1 0h5m3 0h2m4 0h8m4 0h2m5 0h1M92 217.1h2m4 0h4m4 0h5m3 0h3m1 0h1m2 0h2m3 0h3m1 0h1m4 0h1m3 0h1m2 0h3m2 0h1m7 0h2m4 0h2m1 0h1m9 0h2m3 0h5m13 0h1m9 0h1m5 0h1m4 0h1m7 0h2m3 0h1m7 0h1m2 0h6m2 0h1m5 0h3m5 0h1m2 0h2m1 0h2m2 0h1m1 0h1m9 0h1m3 0h1m1 0h1m1 0h2m2 0h5m5 0h1m5 0h4m2 0h3m2 0h6m4 0h1m1 0h1m1 0h5m3 0h1m2 0h1m1 0h4m3 0h1m1 0h3m4 0h2m2 0h2m1 0h2m1 0h1m1 0h5m2 0h1m1 0h3m3 0h1m1 0h1m1 0h1m1 0h2m2 0h1m1 0h1m5 0h1m2 0h2m1 0h6m3 0h1m1 0h1m1 0h2m1 0h2m2 0h1m2 0h1m1 0h1m1 0h1m1 0h1m2 0h6m1 0h1m1 0h6m2 0h3m3 0h1m1 0h3m1 0h4m2 0h2M87 214.3h2m8 0h1m1 0h1m4 0h4m2 0h5m1 0h2m4 0h2m1 0h1m1 0h4m4 0h1m3 0h3m1 0h1m5 0h3m2 0h1m5 0h1m3 0h5m2 0h4m6 0h4m2 0h3m2 0h2m2 0h1m5 0h5m4 0h3m5 0h4m2 0h2m1 0h3m1 0h1m1 0h2m7 0h1m5 0h1m7 0h1m10 0h1m2 0h3m6 0h4m10 0h1m10 0h2m7 0h2m3 0h1m1 0h2m5 0h1m4 0h5m5 0h3m4 0h1m4 0h3m7 0h3m2 0h6m1 0h2m1 0h3m4 0h1m1 0h3m3 0h2m12 0h1m9 0h3m6 0h2m2 0h3m9 0h2m5 0h2m1 0h2m1 0h1m5 0h1m2 0h2m4 0h4m3 0h1m1 0h2m5 0h1M88 211.4h4m1 0h2m1 0h1m1 0h4m4 0h2m1 0h1m1 0h2m1 0h1m2 0h7m2 0h4m1 0h3m4 0h1m2 0h1m1 0h2m1 0h3m1 0h1m1 0h4m1 0h1m2 0h1m2 0h7m1 0h6m1 0h2m1 0h4m1 0h2m3 0h4m2 0h1m6 0h6m5 0h1m5 0h1m2 0h1m1 0h3m2 0h2m1 0h4m3 0h10m1 0h8m1 0h3m1 0h9m7 0h2m3 0h1m2 0h1m3 0h1m2 0h1m4 0h1m5 0h1m1 0h4m2 0h9m6 0h2m3 0h1m2 0h2m1 0h5m2 0h1m1 0h2m1 0h1m2 0h4m2 0h1m3 0h4m2 0h8m1 0h2m1 0h2m2 0h1m1 0h4m1 0h2m2 0h5m2 0h2m4 0h6m2 0h1m2 0h1m1 0h3m1 0h3m4 0h2m1 0h9m1 0h2m3 0h2m5 0h5m4 0h1m3 0h4m5 0h2m3 0h1M87 208.6h6m1 0h1m1 0h5m1 0h4m1 0h2m1 0h6m1 0h5m1 0h6m1 0h4m1 0h2m1 0h1m2 0h2m2 0h2m1 0h1m1 0h10m1 0h1m2 0h2m1 0h4m4 0h1m3 0h4m2 0h1m5 0h2m1 0h1m2 0h6m7 0h3m3 0h1m1 0h5m2 0h1m1 0h1m1 0h4m2 0h5m1 0h1m2 0h1m1 0h4m7 0h1m8 0h8m1 0h1m3 0h1m4 0h6m3 0h6m1 0h5m2 0h5m1 0h5m4 0h1m1 0h6m1 0h2m1 0h6m2 0h4m1 0h3m1 0h1m1 0h6m1 0h8m1 0h3m1 0h2m1 0h1m1 0h5m1 0h7m1 0h4m1 0h1m1 0h5m1 0h2m1 0h2m1 0h4m1 0h1m1 0h5m1 0h1m1 0h5m1 0h1m1 0h4m1 0h1m1 0h1m1 0h1m1 0h3m1 0h5m1 0h4m1 0h2m1 0h6m1 0h1m1 0h10m1 0h1m1 0h4M90 205.7h2m2 0h3m1 0h2m1 0h1m8 0h2m1 0h19m1 0h2m3 0h2m2 0h2m4 0h1m7 0h1m2 0h2m8 0h1m6 0h1m37 0h4m3 0h2m3 0h4m9 0h3m4 0h1m6 0h1m1 0h8m7 0h6m10 0h1m11 0h4m3 0h5m5 0h2m2 0h3m5 0h1m1 0h1m2 0h1m3 0h1m6 0h3m19 0h2m3 0h2m1 0h1m2 0h1m2 0h2m14 0h3m1 0h4m3 0h3m4 0h1m3 0h1m2 0h3m3 0h1m13 0h1m3 0h2m1 0h1m3 0h3m9 0h4m1 0h2m5 0h1m4 0h1m4 0h2M87 202.9h6m1 0h1m1 0h1m1 0h4m1 0h4m1 0h2m1 0h1m1 0h2m1 0h2m1 0h1m1 0h1m1 0h1m1 0h3m1 0h3m1 0h1m1 0h1m1 0h1m1 0h1m1 0h1m1 0h1m1 0h3m1 0h1m1 0h2m1 0h1m1 0h1m1 0h1m1 0h4m1 0h1m1 0h2m1 0h1m1 0h1m1 0h1m1 0h1m1 0h3m1 0h1m1 0h1m1 0h3m1 0h1m1 0h2m1 0h1m1 0h2m1 0h2m1 0h1m1 0h1m1 0h1m1 0h7m1 0h3m1 0h4m1 0h3m1 0h1m1 0h1m1 0h1m1 0h3m1 0h4m1 0h2m1 0h1m1 0h1m1 0h2m1 0h2m1 0h3m1 0h1m1 0h1m1 0h2m1 0h5m1 0h1m1 0h1m1 0h2m1 0h2m1 0h3m1 0h2m2 0h3m1 0h2m5 0h1m1 0h2m1 0h1m1 0h1m1 0h5m1 0h1m1 0h1m1 0h1m2 0h4m1 0h1m2 0h2m3 0h3m1 0h3m1 0h1m2 0h3m1 0h1m1 0h2m1 0h2m1 0h1m2 0h1m1 0h2m1 0h1m1 0h2m1 0h1m1 0h1m1 0h2m3 0h3m1 0h2m1 0h1m3 0h1m2 0h1m1 0h4m1 0h1m1 0h3m1 0h1m1 0h1m1 0h4m1 0h2m1 0h1m1 0h1m1 0h3m1 0h2m1 0h3m1 0h2m1 0h1m1 0h1m1 0h1m1 0h1m1 0h2m1 0h1m1 0h2m1 0h3m1 0h2m1 0h1m1 0h1m1 0h2m1 0h2m1 0h2m1 0h1m1 0h1m1 0h2m1 0h2m1 0h2M87 200h1m1 0h3m1 0h1m3 0h3m1 0h2m1 0h1m1 0h4m1 0h3m3 0h1m1 0h3m2 0h1m1 0h3m1 0h1m1 0h2m2 0h2m2 0h2m1 0h3m1 0h3m1 0h1m1 0h1m1 0h2m2 0h2m1 0h1m1 0h1m1 0h2m1 0h1m1 0h2m1 0h1m1 0h1m1 0h1m1 0h1m1 0h2m1 0h1m1 0h3m1 0h1m1 0h2m1 0h1m1 0h2m1 0h1m1 0h9m1 0h1m1 0h4m1 0h2m1 0h2m1 0h2m1 0h1m1 0h1m1 0h3m1 0h1m1 0h2m1 0h1m1 0h1m1 0h1m1 0h2m1 0h7m1 0h4m1 0h4m1 0h3m1 0h1m1 0h3m1 0h3m1 0h3m1 0h5m1 0h2m1 0h6m1 0h1m1 0h1m1 0h7m1 0h5m1 0h1m1 0h3m1 0h3m1 0h4m1 0h1m1 0h1m1 0h3m1 0h1m1 0h1m1 0h1m1 0h4m1 0h1m1 0h3m1 0h1m1 0h1m1 0h5m1 0h5m1 0h2m1 0h1m1 0h4m1 0h3m1 0h1m2 0h6m1 0h1m1 0h3m1 0h2m1 0h1m1 0h1m2 0h1m1 0h3m1 0h4m1 0h3m1 0h1m2 0h3m1 0h6m1 0h1m2 0h1m2 0h1m1 0h1m1 0h1m4 0h5m1 0h2m1 0h1m1 0h1m1 0h2m2 0h4m3 0h1m1 0h4M89 197.2h2m7 0h1m7 0h2m2 0h4m1 0h1m5 0h2m3 0h1m4 0h3m12 0h2m6 0h1m13 0h3m14 0h1m5 0h2m3 0h1m6 0h1m2 0h1m7 0h2m1 0h3m5 0h2m2 0h2m6 0h2m1 0h1m1 0h2m8 0h1m8 0h1m4 0h2m5 0h1m4 0h3m4 0h2m5 0h7m11 0h1m1 0h3m5 0h1m7 0h1m3 0h2m1 0h10m5 0h6m3 0h3m6 0h4m2 0h1m2 0h1m1 0h1m1 0h1m4 0h2m2 0h2m1 0h1m3 0h4m1 0h2m8 0h3m2 0h3m3 0h6m3 0h2m3 0h1m3 0h1m1 0h4m9 0h2m3 0h7m1 0h5m4 0h3m1 0h2M88 194.3h2m1 0h2m3 0h4m1 0h4m1 0h4m2 0h2m9 0h2m3 0h3m5 0h2m3 0h2m2 0h3m1 0h3m5 0h3m5 0h1m1 0h2m2 0h1m8 0h2m1 0h3m2 0h1m2 0h1m3 0h5m1 0h2m3 0h1m3 0h1m1 0h1m1 0h3m1 0h1m1 0h4m1 0h1m1 0h1m1 0h2m9 0h1m1 0h1m3 0h1m6 0h3m7 0h6m1 0h8m3 0h1m5 0h1m2 0h1m14 0h1m7 0h1m1 0h1m6 0h3m5 0h1m2 0h5m3 0h3m4 0h8m3 0h8m1 0h2m3 0h1m1 0h4m2 0h1m7 0h1m7 0h2m3 0h3m4 0h4m1 0h7m5 0h1m16 0h2m1 0h1m4 0h2m1 0h1m1 0h2m9 0h3m3 0h2m2 0h9M91 191.5h1m6 0h8m1 0h1m3 0h6m4 0h4m2 0h6m1 0h3m4 0h1m10 0h1m2 0h1m2 0h1m2 0h3m2 0h1m1 0h4m2 0h1m3 0h1m2 0h2m6 0h3m2 0h4m1 0h1m3 0h1m1 0h2m1 0h4m1 0h3m1 0h2m2 0h2m9 0h2m2 0h4m1 0h1m1 0h2m1 0h1m1 0h4m9 0h1m1 0h3m1 0h2m1 0h1m7 0h1m2 0h1m4 0h1m1 0h3m6 0h1m2 0h1m3 0h6m5 0h2m3 0h3m2 0h1m3 0h1m5 0h6m9 0h2m6 0h1m12 0h1m2 0h2m23 0h2m10 0h3m8 0h5m3 0h1m2 0h2m1 0h1m6 0h3m6 0h1m1 0h1m1 0h2m7 0h2m3 0h2m5 0h4m6 0h1M87 188.6h2m1 0h1m1 0h1m5 0h1m2 0h2m1 0h5m1 0h4m1 0h3m1 0h2m1 0h2m1 0h1m1 0h2m1 0h6m3 0h1m1 0h4m7 0h6m2 0h5m2 0h2m1 0h1m2 0h1m1 0h2m3 0h4m2 0h6m1 0h3m1 0h3m2 0h2m2 0h1m2 0h5m1 0h2m2 0h4m4 0h5m3 0h3m1 0h4m1 0h1m1 0h3m1 0h2m1 0h9m1 0h2m1 0h2m5 0h2m4 0h5m3 0h1m1 0h1m1 0h1m2 0h1m1 0h2m2 0h1m1 0h4m5 0h1m1 0h1m2 0h2m3 0h3m2 0h2m8 0h5m2 0h1m5 0h4m4 0h5m1 0h6m1 0h7m3 0h7m1 0h3m3 0h2m3 0h1m4 0h3m1 0h1m1 0h2m4 0h2m3 0h2m1 0h5m2 0h1m5 0h2m6 0h2m5 0h2m4 0h2m3 0h7m9 0h1m4 0h3m1 0h1M87 185.8h1m3 0h1m8 0h1m1 0h4m3 0h2m3 0h1m3 0h4m1 0h1m2 0h1m3 0h2m1 0h2m2 0h3m3 0h2m1 0h3m1 0h1m2 0h1m1 0h4m3 0h8m2 0h3m8 0h1m3 0h2m16 0h2m1 0h3m5 0h1m1 0h2m1 0h1m1 0h1m1 0h4m2 0h2m4 0h1m3 0h2m4 0h1m1 0h2m4 0h1m1 0h3m3 0h3m1 0h7m1 0h1m4 0h1m1 0h1m1 0h1m9 0h2m1 0h1m7 0h1m4 0h4m4 0h1m1 0h5m6 0h1m2 0h1m3 0h1m1 0h3m1 0h1m4 0h1m2 0h8m4 0h5m1 0h2m2 0h1m2 0h1m1 0h1m2 0h2m1 0h2m3 0h3m1 0h1m1 0h4m2 0h3m1 0h1m1 0h3m1 0h1m1 0h3m1 0h1m1 0h3m1 0h1m2 0h3m1 0h1m1 0h1m1 0h3m1 0h1m1 0h2m1 0h1m2 0h1m3 0h1m1 0h1m1 0h1m1 0h2m2 0h1m3 0h5m2 0h1m1 0h4m1 0h1m2 0h2m2 0h1M87 183h2m1 0h4m1 0h5m1 0h5m1 0h4m1 0h10m1 0h4m1 0h5m1 0h5m1 0h4m1 0h5m1 0h7m1 0h6m1 0h5m1 0h3m1 0h10m1 0h3m1 0h2m1 0h14m1 0h9m1 0h3m1 0h5m1 0h9m1 0h8m3 0h1m1 0h5m2 0h1m3 0h1m1 0h10m1 0h2m4 0h6m3 0h5m1 0h3m1 0h6m1 0h6m1 0h8m1 0h4m2 0h4m2 0h2m4 0h2m1 0h2m1 0h4m1 0h1m1 0h7m1 0h4m1 0h1m1 0h8m1 0h8m1 0h7m1 0h3m1 0h5m1 0h3m1 0h25m1 0h6m1 0h4m1 0h8m1 0h8m1 0h3m1 0h3m1 0h3m1 0h3m1 0h6M87 180.1h7m1 0h2m1 0h4m1 0h1m1 0h7m1 0h2m1 0h7m1 0h3m1 0h5m1 0h2m1 0h4m1 0h5m1 0h5m1 0h1m1 0h1m2 0h1m2 0h1m2 0h11m2 0h2m2 0h2m2 0h14m1 0h3m4 0h11m1 0h27m1 0h1m1 0h5m1 0h3m1 0h16m3 0h8m2 0h1m3 0h1m1 0h1m1 0h10m1 0h2m5 0h3m1 0h7m3 0h5m1 0h9m1 0h2m1 0h1m1 0h4m2 0h2m1 0h5m1 0h14m1 0h9m3 0h11m2 0h7m2 0h1m1 0h12m1 0h2m1 0h5m1 0h23m1 0h1m1 0h5m2 0h3m1 0h10m1 0h3M88 177.3h2m2 0h2m6 0h2m4 0h1m1 0h2m5 0h1m3 0h4m2 0h3m2 0h3m1 0h2m1 0h1m2 0h2m3 0h2m3 0h3m1 0h1m1 0h1m1 0h1m1 0h1m1 0h1m6 0h2m1 0h1m1 0h1m7 0h2m2 0h1m13 0h1m2 0h1m3 0h2m7 0h1m5 0h8m2 0h1m5 0h4m1 0h2m5 0h3m19 0h1m9 0h2m5 0h2m7 0h1m11 0h1m3 0h3m1 0h7m5 0h1m1 0h1m5 0h1m3 0h7m3 0h1m4 0h2m1 0h3m4 0h1m3 0h3m1 0h1m3 0h2m1 0h1m1 0h3m2 0h1m2 0h9m1 0h2m1 0h1m1 0h1m2 0h4m8 0h1m3 0h6m1 0h2m1 0h1m7 0h8m1 0h2m1 0h1m1 0h1m4 0h2m1 0h3m3 0h1m2 0h4m1 0h1m3 0h3M88 174.4h2m5 0h1m11 0h3m12 0h1m3 0h5m1 0h1m2 0h2m4 0h1m3 0h1m3 0h6m3 0h9m1 0h1m2 0h3m4 0h5m7 0h1m1 0h2m4 0h9m1 0h4m18 0h1m5 0h1m7 0h1m4 0h1m6 0h11m1 0h4m3 0h1m1 0h6m2 0h4m7 0h1m4 0h2m2 0h1m5 0h2m15 0h7m6 0h2m5 0h1m8 0h1m6 0h4m10 0h3m1 0h1m4 0h2m1 0h1m3 0h2m1 0h1m2 0h1m2 0h2m8 0h13m13 0h1m2 0h1m15 0h1m5 0h3m3 0h2m1 0h4m8 0h1m1 0h2M87 171.6h1m6 0h1m2 0h1m2 0h2m6 0h4m34 0h8m3 0h3m12 0h1m2 0h2m5 0h2m14 0h3m7 0h2m3 0h1m2 0h2m5 0h2m9 0h1m1 0h4m3 0h7m4 0h1m2 0h4m17 0h2m8 0h1m4 0h1m3 0h3m4 0h4m17 0h3m1 0h4m4 0h2m1 0h4m2 0h1m2 0h6m3 0h3m4 0h2m6 0h3m2 0h4m1 0h2m3 0h4m1 0h6m3 0h1m1 0h7m2 0h5m3 0h1m2 0h1m1 0h1m2 0h1m2 0h1m3 0h1m1 0h4m1 0h2m1 0h2m3 0h3m5 0h1m5 0h2m3 0h1m2 0h4m3 0h1m7 0h1M87 168.7h5m28 0h3m25 0h1m17 0h4m12 0h3m9 0h1m6 0h3m17 0h5m54 0h1m58 0h5m4 0h3m7 0h2m1 0h1m23 0h6m8 0h3m11 0h1m12 0h4m10 0h3m8 0h6m1 0h1m13 0h1m1 0h1m10 0h2m1 0h1M89 165.9h1m5 0h1m6 0h3m7 0h3m4 0h3m4 0h1m2 0h4m7 0h2m4 0h5m10 0h3m5 0h3m3 0h2m15 0h1m6 0h1m5 0h1m17 0h2m1 0h2m2 0h1m6 0h1m2 0h4m8 0h3m2 0h2m8 0h1m11 0h3m4 0h1m4 0h1m5 0h1m2 0h1m3 0h1m1 0h4m2 0h2m2 0h2m3 0h1m4 0h1m3 0h2m5 0h3m1 0h1m2 0h3m2 0h2m2 0h1m4 0h1m7 0h4m5 0h4m2 0h1m2 0h1m1 0h3m2 0h1m3 0h1m1 0h8m4 0h2m2 0h6m2 0h2m1 0h1m1 0h1m1 0h2m17 0h3m5 0h1m3 0h2m1 0h2m1 0h1m2 0h3m3 0h2m2 0h1m2 0h1m1 0h4m1 0h1M88 163h4m2 0h1m2 0h2m1 0h4m3 0h1m2 0h1m2 0h2m10 0h2m9 0h1m9 0h1m1 0h2m4 0h3m1 0h5m3 0h1m3 0h4m2 0h1m1 0h2m3 0h3m1 0h1m2 0h1m3 0h3m3 0h1m2 0h1m2 0h1m1 0h1m6 0h1m2 0h1m3 0h1m2 0h1m2 0h4m1 0h1m3 0h1m2 0h2m1 0h1m4 0h2m2 0h7m1 0h2m6 0h1m3 0h1m2 0h3m2 0h2m5 0h4m1 0h1m2 0h2m5 0h1m2 0h1m1 0h1m1 0h1m1 0h1m1 0h1m3 0h2m3 0h1m4 0h3m1 0h1m1 0h3m1 0h1m2 0h2m1 0h1m3 0h2m1 0h1m1 0h1m3 0h6m2 0h1m1 0h1m3 0h2m2 0h1m3 0h2m3 0h2m1 0h3m2 0h3m10 0h1m1 0h1m7 0h2m3 0h1m7 0h1m3 0h1m5 0h1m8 0h1m2 0h4m1 0h1m4 0h3m2 0h3m4 0h1m7 0h4m1 0h1m1 0h3M102 160.2h6m11 0h1m10 0h2m72 0h2m12 0h4m17 0h1m28 0h3m31 0h3m7 0h2m13 0h4m16 0h1m12 0h6m1 0h1m1 0h5m2 0h1m13 0h2m42 0h2m3 0h1m13 0h1m22 0h2m4 0h1M87 157.3h6m5 0h1m1 0h1m6 0h2m1 0h1m5 0h1m1 0h4m3 0h1m1 0h1m3 0h1m8 0h1m4 0h2m4 0h2m1 0h2m1 0h1m1 0h3m3 0h1m1 0h1m1 0h9m5 0h1m7 0h1m2 0h8m1 0h3m2 0h1m1 0h2m1 0h1m7 0h1m3 0h3m1 0h3m1 0h1m1 0h5m2 0h5m1 0h1m1 0h1m2 0h1m6 0h1m1 0h4m2 0h1m2 0h1m2 0h2m2 0h1m1 0h1m1 0h1m3 0h4m3 0h1m1 0h2m2 0h1m2 0h5m5 0h4m2 0h2m1 0h1m4 0h1m2 0h2m1 0h1m1 0h1m1 0h1m6 0h5m1 0h2m2 0h3m6 0h3m2 0h1m3 0h6m3 0h1m1 0h1m5 0h3m1 0h2m6 0h1m2 0h1m1 0h3m2 0h5m11 0h3m4 0h1m1 0h1m2 0h2m1 0h3m3 0h1m3 0h4m1 0h2m6 0h1m1 0h1m2 0h9m1 0h3m3 0h4M87 154.5h1m2 0h1m6 0h2m6 0h1m2 0h1m2 0h3m5 0h1m4 0h3m9 0h2m12 0h8m1 0h1m7 0h1m2 0h3m4 0h7m5 0h3m3 0h1m1 0h1m3 0h3m2 0h2m2 0h2m1 0h1m1 0h1m3 0h2m6 0h5m3 0h5m1 0h2m3 0h2m1 0h1m2 0h2m5 0h1m1 0h1m6 0h1m6 0h1m2 0h3m1 0h1m8 0h2m2 0h1m5 0h2m3 0h3m5 0h1m8 0h5m2 0h4m4 0h1m1 0h2m8 0h2m7 0h6m1 0h2m1 0h3m1 0h2m4 0h2m2 0h4m2 0h2m6 0h1m1 0h1m1 0h1m7 0h1m1 0h5m1 0h1m1 0h7m2 0h2m6 0h1m4 0h3m4 0h1m3 0h3m2 0h1m3 0h2m9 0h1m2 0h2m2 0h2m1 0h1m5 0h1M87 151.6h1m3 0h5m1 0h2m1 0h15m5 0h1m1 0h1m1 0h6m2 0h3m5 0h1m2 0h2m2 0h2m5 0h4m4 0h3m2 0h3m1 0h5m5 0h1m6 0h1m2 0h3m1 0h2m2 0h2m4 0h1m2 0h2m2 0h1m4 0h2m1 0h3m3 0h2m4 0h4m1 0h1m3 0h2m3 0h2m2 0h1m1 0h1m2 0h1m5 0h4m6 0h1m1 0h3m1 0h1m1 0h1m16 0h5m23 0h1m7 0h2m5 0h4m6 0h2m6 0h3m9 0h1m7 0h2m5 0h1m7 0h8m1 0h1m5 0h1m2 0h3m17 0h2m2 0h6m2 0h2m1 0h1m5 0h2m1 0h4m4 0h4m22 0h1M90 148.8h1m6 0h1m1 0h4m7 0h5m1 0h3m5 0h2m1 0h1m3 0h3m1 0h1m3 0h1m1 0h3m2 0h1m4 0h7m1 0h5m3 0h1m2 0h1m12 0h2m4 0h4m7 0h4m9 0h2m2 0h1m4 0h2m1 0h4m7 0h1m16 0h1m1 0h8m10 0h1m9 0h6m1 0h4m13 0h1m1 0h3m2 0h1m1 0h4m2 0h4m1 0h1m19 0h6m7 0h4m8 0h3m5 0h3m5 0h2m2 0h2m3 0h2m3 0h1m3 0h4m3 0h2m6 0h3m6 0h2m4 0h2m4 0h5m4 0h2m10 0h1m2 0h1m5 0h2m2 0h2m9 0h1M87 146h3m1 0h1m1 0h2m4 0h1m1 0h1m1 0h2m3 0h3m5 0h2m1 0h3m1 0h2m2 0h6m1 0h2m1 0h3m3 0h2m3 0h5m1 0h2m7 0h2m2 0h1m6 0h1m1 0h1m2 0h1m2 0h2m2 0h1m1 0h1m1 0h3m1 0h2m13 0h1m2 0h2m2 0h4m7 0h2m3 0h1m4 0h2m1 0h1m4 0h2m7 0h5m6 0h4m12 0h1m6 0h2m2 0h2m4 0h1m1 0h3m22 0h2m1 0h3m4 0h4m4 0h1m4 0h1m4 0h4m2 0h1m5 0h3m11 0h1m2 0h1m2 0h3m1 0h2m2 0h1m2 0h2m7 0h2m3 0h7m1 0h2m9 0h2m9 0h3m12 0h2m5 0h1m1 0h2m6 0h10m5 0h1M87 143.1h1m5 0h2m6 0h1m3 0h1m8 0h3m5 0h1m2 0h3m2 0h1m4 0h1m1 0h1m4 0h1m2 0h2m5 0h2m1 0h2m2 0h1m2 0h2m1 0h1m1 0h1m2 0h1m1 0h2m1 0h2m1 0h2m4 0h1m5 0h6m3 0h2m1 0h3m3 0h1m2 0h3m6 0h2m5 0h4m2 0h3m1 0h1m5 0h1m3 0h1m4 0h1m1 0h3m1 0h3m3 0h2m4 0h4m3 0h5m8 0h2m1 0h1m3 0h1m1 0h2m1 0h1m2 0h2m1 0h1m9 0h4m5 0h1m4 0h1m5 0h1m3 0h4m3 0h5m5 0h2m2 0h5m1 0h1m7 0h1m1 0h1m7 0h9m3 0h1m1 0h2m5 0h2m6 0h3m2 0h3m1 0h1m2 0h3m1 0h3m2 0h4m6 0h3m10 0h1m1 0h2m4 0h1m3 0h2m6 0h1m4 0h1M91 140.3h4m3 0h1m3 0h1m3 0h1m2 0h1m5 0h1m9 0h7m1 0h4m3 0h3m1 0h1m1 0h3m3 0h1m2 0h2m1 0h1m2 0h1m6 0h4m23 0h1m3 0h2m3 0h1m2 0h1m14 0h3m12 0h3m4 0h1m10 0h1m2 0h1m9 0h7m15 0h1m11 0h1m18 0h2m18 0h4m8 0h2m5 0h1m7 0h1m11 0h1m2 0h2m1 0h1m2 0h2m4 0h1m4 0h2m3 0h10m4 0h2m1 0h3m2 0h1m1 0h1m8 0h1m2 0h1m2 0h1m2 0h6m10 0h3m3 0h5m2 0h2m10 0h1M89 137.4h2m3 0h1m1 0h1m1 0h2m2 0h1m2 0h3m11 0h1m2 0h1m7 0h1m1 0h1m1 0h1m5 0h1m1 0h1m14 0h1m6 0h1m10 0h5m18 0h4m3 0h2m8 0h2m10 0h1m1 0h4m1 0h4m12 0h1m5 0h1m2 0h1m3 0h1m10 0h1m2 0h7m2 0h3m1 0h1m10 0h4m4 0h1m1 0h4m1 0h2m3 0h5m13 0h2m2 0h1m11 0h3m2 0h2m2 0h2m1 0h3m6 0h1m2 0h1m6 0h2m3 0h1m4 0h1m3 0h3m1 0h1m5 0h2m3 0h1m4 0h5m2 0h1m1 0h2m2 0h2m3 0h1m1 0h2m3 0h2m5 0h1m8 0h2m1 0h1m2 0h1m1 0h1m1 0h1m4 0h1m3 0h4m1 0h1m2 0h1M104 134.6h4m58 0h3m4 0h3m23 0h6m7 0h1m14 0h3m1 0h5m27 0h1m14 0h4m47 0h2m58 0h1m4 0h3m16 0h4m10 0h5m33 0h1M88 131.7h10m1 0h4m6 0h3m8 0h2m17 0h3m3 0h2m2 0h1m17 0h1m2 0h2m7 0h1m2 0h5m9 0h11m20 0h3m9 0h2m2 0h2m5 0h1m2 0h2m15 0h6m8 0h2m24 0h2m2 0h1m10 0h6m1 0h3m2 0h3m4 0h5m3 0h1m1 0h3m10 0h3m2 0h1m3 0h1m2 0h1m1 0h6m6 0h1m2 0h1m22 0h2m2 0h1m2 0h1m7 0h3m2 0h4m6 0h1m1 0h2m3 0h1m6 0h1m1 0h1m7 0h3m1 0h1m1 0h1M88 128.9h2m3 0h1m1 0h1m2 0h1m1 0h2m2 0h1m2 0h3m1 0h1m2 0h2m1 0h3m2 0h4m3 0h3m2 0h1m1 0h1m3 0h1m7 0h2m2 0h1m1 0h2m5 0h2m4 0h1m2 0h1m8 0h6m4 0h1m2 0h2m3 0h1m2 0h1m3 0h1m7 0h1m1 0h1m5 0h1m5 0h1m1 0h1m2 0h1m8 0h1m11 0h2m3 0h3m4 0h2m10 0h4m1 0h1m1 0h2m3 0h1m5 0h1m2 0h1m2 0h1m2 0h1m3 0h1m4 0h4m4 0h1m4 0h1m4 0h1m4 0h1m2 0h2m12 0h2m2 0h3m2 0h5m2 0h2m2 0h1m17 0h2m1 0h2m4 0h1m4 0h1m1 0h2m5 0h1m3 0h3m1 0h3m4 0h1m1 0h1m4 0h1m9 0h1m8 0h3m2 0h2m1 0h1m3 0h4m1 0h3m1 0h2m1 0h3m1 0h3m1 0h1M91 126h2m12 0h1m8 0h3m1 0h1m5 0h1m2 0h5m6 0h6m2 0h2m5 0h1m9 0h2m1 0h1m1 0h5m14 0h1m5 0h1m8 0h1m8 0h1m8 0h1m6 0h5m1 0h1m2 0h1m2 0h1m1 0h2m2 0h1m2 0h1m9 0h1m2 0h1m3 0h1m12 0h3m6 0h1m6 0h3m18 0h4m1 0h2m2 0h1m1 0h5m2 0h2m4 0h1m3 0h3m2 0h1m2 0h3m10 0h1m6 0h2m12 0h1m2 0h1m12 0h2m3 0h1m2 0h4m9 0h2m5 0h1m4 0h1m2 0h1m13 0h3m2 0h1m8 0h1m1 0h1m7 0h1m12 0h1M89 123.2h1m1 0h4m1 0h4m11 0h1m4 0h1m1 0h1m3 0h2m5 0h1m2 0h3m2 0h7m10 0h5m2 0h2m1 0h1m1 0h3m11 0h3m8 0h1m7 0h5m2 0h1m6 0h6m3 0h1m1 0h3m24 0h1m15 0h2m3 0h4m3 0h1m3 0h5m2 0h2m2 0h3m11 0h2m1 0h2m7 0h1m8 0h1m8 0h2m4 0h2m1 0h5m1 0h4m1 0h4m11 0h3m1 0h3m3 0h1m8 0h6m4 0h3m4 0h2m2 0h4m2 0h5m1 0h14m20 0h3m2 0h2m2 0h1m7 0h4m3 0h3m1 0h2M87 120.3h2m3 0h2m1 0h1m3 0h1m2 0h1m2 0h2m1 0h1m1 0h1m1 0h4m1 0h1m1 0h3m1 0h3m3 0h1m1 0h2m1 0h2m2 0h2m1 0h1m4 0h2m1 0h3m6 0h1m1 0h1m2 0h1m1 0h1m2 0h2m2 0h2m1 0h1m3 0h1m3 0h3m1 0h1m2 0h2m2 0h1m2 0h5m1 0h6m1 0h3m1 0h1m4 0h3m4 0h1m1 0h1m1 0h2m7 0h3m1 0h3m3 0h2m1 0h1m1 0h3m3 0h1m6 0h2m5 0h1m4 0h2m3 0h1m4 0h3m1 0h1m1 0h1m4 0h1m3 0h1m1 0h6m1 0h1m2 0h1m2 0h1m5 0h3m2 0h1m2 0h1m5 0h1m1 0h1m3 0h2m1 0h1m3 0h1m4 0h1m1 0h1m3 0h2m2 0h2m5 0h10m6 0h1m1 0h1m5 0h3m7 0h1m3 0h1m6 0h2m4 0h3m1 0h4m6 0h1m3 0h2m1 0h1m3 0h3m6 0h1m2 0h1m6 0h3m1 0h1m1 0h1m2 0h1m6 0h4M96 117.5h2m5 0h9m7 0h2m6 0h3m1 0h1m8 0h3m16 0h2m16 0h4m5 0h1m19 0h2m3 0h2m1 0h1m14 0h1m1 0h2m11 0h2m18 0h1m1 0h4m5 0h3m31 0h3m11 0h4m1 0h1m21 0h5m1 0h2m1 0h1m5 0h1m7 0h2m5 0h2m22 0h8m5 0h3m5 0h1m1 0h1m3 0h1m3 0h2m9 0h3m2 0h2m2 0h2m3 0h3m2 0h2m4 0h2m4 0h8m3 0h1M87 114.6h3m1 0h1m2 0h1m3 0h3m9 0h2m6 0h2m3 0h2m3 0h4m3 0h3m1 0h1m1 0h1m1 0h1m10 0h1m1 0h1m11 0h2m3 0h3m1 0h2m2 0h2m3 0h1m2 0h3m1 0h2m5 0h1m2 0h4m1 0h1m2 0h1m1 0h1m3 0h1m2 0h1m2 0h2m1 0h4m2 0h1m1 0h4m1 0h3m1 0h1m1 0h3m1 0h2m1 0h2m2 0h4m1 0h3m4 0h1m1 0h2m1 0h1m3 0h1m4 0h1m2 0h1m4 0h1m4 0h2m1 0h1m1 0h1m1 0h2m2 0h2m1 0h1m1 0h2m1 0h1m1 0h2m2 0h3m4 0h3m1 0h1m1 0h1m3 0h3m2 0h1m1 0h2m2 0h1m1 0h1m1 0h4m1 0h1m1 0h4m1 0h1m1 0h1m2 0h1m1 0h1m1 0h1m3 0h1m2 0h1m2 0h3m2 0h5m1 0h1m1 0h2m4 0h3m2 0h1m1 0h1m2 0h2m4 0h2m4 0h1m9 0h1m3 0h1m8 0h5m2 0h3m1 0h2m7 0h1m1 0h2m13 0h4M90 111.8h3m1 0h1m4 0h1m3 0h1m3 0h2m2 0h2m1 0h4m1 0h1m2 0h3m2 0h2m2 0h1m1 0h1m1 0h1m1 0h2m1 0h4m1 0h4m1 0h2m2 0h3m1 0h8m1 0h1m1 0h2m4 0h3m1 0h2m2 0h2m1 0h2m6 0h13m2 0h3m1 0h6m5 0h1m3 0h1m5 0h5m3 0h1m2 0h1m4 0h3m1 0h6m3 0h1m5 0h10m5 0h1m2 0h1m8 0h2m5 0h6m4 0h1m2 0h1m9 0h1m9 0h2m1 0h1m2 0h3m3 0h3m8 0h1m12 0h1m1 0h1m4 0h1m3 0h1m2 0h3m2 0h2m4 0h3m2 0h3m2 0h3m2 0h1m2 0h1m1 0h2m1 0h1m4 0h6m1 0h2m3 0h5m7 0h2m2 0h1m1 0h1m1 0h2m2 0h2m3 0h1m1 0h2m4 0h3m1 0h1m2 0h2m1 0h2m1 0h1M89 109h2m1 0h1m1 0h1m5 0h1m5 0h2m1 0h1m2 0h1m4 0h1m2 0h1m3 0h1m1 0h4m1 0h1m4 0h4m4 0h2m1 0h2m2 0h5m1 0h2m2 0h5m2 0h3m4 0h3m4 0h2m1 0h2m2 0h2m2 0h1m5 0h1m1 0h1m3 0h4m5 0h1m2 0h2m1 0h1m2 0h3m1 0h1m3 0h3m1 0h1m1 0h1m2 0h2m3 0h2m2 0h1m16 0h1m1 0h1m4 0h11m1 0h1m2 0h1m10 0h3m5 0h2m7 0h2m1 0h1m3 0h3m1 0h2m8 0h1m1 0h5m3 0h10m7 0h1m1 0h3m7 0h2m18 0h3m6 0h2m7 0h3m6 0h5m2 0h1m8 0h8m1 0h1m1 0h3m2 0h8m11 0h1m2 0h6m2 0h1m1 0h1M100 106.1h1m2 0h2m7 0h1m9 0h1m5 0h4m1 0h3m3 0h1m2 0h1m6 0h5m2 0h4m1 0h1m2 0h3m4 0h3m3 0h4m10 0h1m1 0h2m8 0h1m3 0h3m1 0h2m1 0h1m3 0h1m1 0h1m2 0h4m5 0h1m4 0h1m5 0h4m1 0h1m1 0h1m2 0h2m1 0h1m1 0h1m1 0h2m1 0h3m1 0h2m2 0h1m2 0h1m1 0h1m1 0h2m1 0h5m2 0h1m1 0h3m3 0h4m7 0h3m3 0h1m2 0h1m1 0h2m1 0h4m2 0h2m2 0h4m1 0h1m7 0h1m2 0h1m1 0h2m2 0h2m2 0h2m2 0h3m1 0h1m1 0h5m1 0h3m1 0h2m1 0h2m3 0h1m7 0h3m4 0h1m4 0h1m4 0h3m3 0h1m5 0h2m5 0h3m3 0h4m1 0h2m1 0h2m1 0h2m4 0h5m3 0h4m3 0h2m2 0h1m2 0h1m1 0h1m6 0h2m2 0h2M87 103.3h3m1 0h4m1 0h1m1 0h1m1 0h15m1 0h3m1 0h1m1 0h2m1 0h7m1 0h3m1 0h2m1 0h7m1 0h1m1 0h1m1 0h1m1 0h1m1 0h1m1 0h3m1 0h8m1 0h1m1 0h4m1 0h4m1 0h3m1 0h9m1 0h2m1 0h2m1 0h5m1 0h4m1 0h8m1 0h5m1 0h8m1 0h1m1 0h2m1 0h3m1 0h8m1 0h5m1 0h9m1 0h8m1 0h2m1 0h3m2 0h2m1 0h2m3 0h1m1 0h5m2 0h1m1 0h2m1 0h3m1 0h6m1 0h4m2 0h12m2 0h2m3 0h1m1 0h6m2 0h10m2 0h5m2 0h1m1 0h2m1 0h5m1 0h7m1 0h2m5 0h7m4 0h5m3 0h1m6 0h6m3 0h7m1 0h4m1 0h2m1 0h1m2 0h1m1 0h10m1 0h5m3 0h2m2 0h1m1 0h6M87 100.4h3m1 0h12m1 0h6m1 0h1m1 0h6m1 0h5m1 0h10m1 0h1m1 0h4m1 0h3m1 0h4m1 0h1m3 0h1m1 0h1m2 0h3m2 0h1m3 0h10m8 0h2m1 0h2m1 0h10m10 0h2m5 0h4m1 0h9m1 0h2m1 0h1m2 0h7m2 0h8m1 0h1m1 0h3m1 0h2m1 0h9m1 0h5m1 0h2m1 0h1m1 0h4m1 0h8m1 0h6m1 0h6m1 0h5m1 0h1m1 0h4m1 0h3m1 0h8m1 0h3m1 0h1m1 0h24m1 0h2m1 0h4m1 0h25m3 0h1m1 0h8m1 0h2m1 0h4m1 0h2m1 0h3m3 0h2m1 0h3m2 0h3m2 0h8m2 0h3m4 0h2m5 0h1m2 0h9M87 97.6h3m4 0h1m2 0h3m3 0h2m4 0h5m2 0h3m3 0h1m2 0h1m2 0h2m3 0h5m4 0h3m1 0h1m1 0h3m1 0h2m1 0h4m1 0h2m2 0h2m1 0h4m2 0h3m3 0h3m1 0h2m1 0h2m3 0h1m1 0h1m1 0h2m1 0h2m2 0h11m1 0h1m1 0h3m2 0h1m4 0h12m1 0h4m5 0h2m1 0h1m1 0h3m2 0h4m1 0h2m4 0h4m8 0h5m1 0h2m2 0h4m3 0h1m1 0h3m5 0h1m5 0h2m6 0h3m6 0h2m5 0h3m4 0h1m2 0h1m8 0h6m7 0h3m2 0h2m4 0h1m3 0h1m2 0h1m1 0h3m3 0h1m6 0h1m1 0h3m4 0h3m2 0h3m9 0h7m1 0h4m1 0h7m2 0h7m1 0h12m1 0h8m3 0h3M94 94.7h11m5 0h5m4 0h2m4 0h1m2 0h2m8 0h5m4 0h2m11 0h1m10 0h1m2 0h3m9 0h5m1 0h4m7 0h5m4 0h1m3 0h1m2 0h1m3 0h3m3 0h1m1 0h4m1 0h1m6 0h2m10 0h1m1 0h7m3 0h9m5 0h1m6 0h4m2 0h5m8 0h1m1 0h1m1 0h3m1 0h1m2 0h5m2 0h5m5 0h1m2 0h1m7 0h1m1 0h1m11 0h6m4 0h6m1 0h2m2 0h3m7 0h2m5 0h4m2 0h5m7 0h1m3 0h1m7 0h4m1 0h4m5 0h3m1 0h2m7 0h3m2 0h2m7 0h2m4 0h3m1 0h1M92 91.9h5m5 0h2m2 0h2m1 0h3m1 0h1m6 0h1m20 0h2m7 0h3m6 0h1m2 0h2m2 0h4m1 0h1m1 0h1m3 0h1m8 0h1m5 0h2m1 0h2m9 0h4m15 0h3m2 0h1m2 0h1m1 0h4m7 0h2m3 0h4m5 0h6m3 0h4m1 0h3m8 0h1m4 0h1m1 0h2m1 0h2m7 0h3m4 0h1m1 0h1m11 0h2m1 0h4m6 0h3m5 0h2m5 0h2m1 0h1m6 0h3m1 0h2m1 0h4m2 0h2m1 0h1m1 0h2m1 0h1m4 0h1m3 0h2m2 0h7m2 0h2m2 0h1m4 0h2m1 0h3m2 0h1m1 0h1m2 0h1m1 0h1m1 0h1m4 0h1m1 0h4m6 0h2m9 0h4m7 0h1m4 0h2m2 0h1m3 0h1M88 89h1m2 0h1m1 0h1m1 0h1m1 0h1m2 0h3m2 0h1m1 0h2m2 0h3m1 0h1m2 0h2m1 0h1m1 0h1m1 0h3m1 0h2m3 0h1m2 0h4m9 0h3m2 0h2m1 0h2m6 0h1m2 0h1m8 0h1m3 0h1m1 0h1m1 0h2m3 0h2m3 0h1m1 0h1m4 0h1m1 0h4m2 0h2m1 0h3m1 0h2m6 0h6m1 0h1m1 0h1m3 0h1m1 0h1m7 0h1m1 0h2m3 0h3m2 0h1m4 0h1m1 0h1m1 0h1m1 0h3m4 0h2m2 0h1m2 0h4m1 0h3m2 0h1m2 0h1m1 0h1m1 0h1m1 0h1m1 0h1m1 0h3m1 0h7m2 0h1m1 0h1m2 0h1m1 0h7m1 0h1m1 0h2m1 0h1m1 0h2m1 0h1m1 0h1m1 0h1m1 0h2m1 0h2m1 0h6m1 0h2m1 0h3m1 0h2m1 0h2m1 0h2m2 0h1m2 0h4m1 0h1m1 0h1m1 0h2m1 0h3m1 0h2m1 0h1m1 0h1m1 0h1m2 0h4m1 0h4m1 0h4m1 0h4m1 0h1m1 0h4m1 0h1m1 0h1m1 0h1m2 0h1m1 0h1m1 0h3m1 0h1m2 0h2m1 0h1m1 0h1m1 0h1m1 0h1m1 0h2m3 0h4m1 0h1m1 0h2m1 0h3m1 0h2M93 86.2h1m2 0h1m17 0h1m1 0h2m11 0h4m3 0h1m3 0h7m2 0h8m3 0h2m3 0h1m7 0h2m15 0h1m2 0h1m3 0h1m3 0h3m2 0h2m3 0h2m3 0h1m1 0h1m6 0h3m16 0h3m4 0h5m2 0h3m5 0h6m2 0h3m10 0h2m2 0h2m2 0h1m4 0h3m3 0h4m1 0h1m1 0h1m1 0h4m2 0h1m1 0h3m2 0h1m6 0h1m1 0h6m3 0h6m3 0h1m11 0h4m1 0h3m4 0h1m8 0h4m5 0h3m2 0h2m2 0h3m2 0h2m4 0h4m1 0h2m3 0h1m1 0h2m1 0h3m2 0h1m3 0h2m1 0h4m1 0h2m1 0h2m2 0h3m1 0h2m5 0h1m1 0h1m2 0h3m2 0h3m1 0h3m2 0h2M89 83.3h1m15 0h1m8 0h6m11 0h1m4 0h4m3 0h1m1 0h3m7 0h2m6 0h5m1 0h2m7 0h5m2 0h1m2 0h2m7 0h1m6 0h2m16 0h13m9 0h1m16 0h2m3 0h4m5 0h1m13 0h2m11 0h2m9 0h9m26 0h1m2 0h1m8 0h6m15 0h3m8 0h5m5 0h1m16 0h1m2 0h3m33 0h4m1 0h2m1 0h3m19 0h1M87 80.5h3m1 0h1m3 0h2m1 0h2m4 0h2m3 0h2m1 0h1m2 0h1m2 0h2m2 0h1m2 0h1m1 0h3m3 0h3m2 0h1m6 0h1m4 0h1m1 0h1m1 0h2m4 0h7m2 0h1m3 0h1m2 0h2m3 0h1m5 0h1m4 0h2m1 0h1m3 0h1m1 0h5m5 0h1m1 0h1m1 0h2m1 0h1m1 0h2m1 0h1m5 0h8m1 0h1m1 0h1m9 0h2m3 0h1m5 0h4m4 0h4m1 0h2m2 0h1m2 0h1m1 0h2m2 0h3m2 0h1m1 0h1m1 0h2m3 0h2m5 0h1m3 0h2m1 0h1m1 0h1m5 0h1m6 0h1m1 0h1m4 0h1m2 0h1m2 0h1m6 0h1m2 0h1m9 0h1m6 0h2m2 0h2m1 0h1m4 0h1m2 0h1m4 0h3m3 0h3m2 0h1m2 0h2m8 0h2m1 0h1m1 0h3m1 0h4m1 0h1m3 0h1m2 0h2m1 0h1m1 0h3m6 0h1m2 0h1m1 0h1m2 0h2m1 0h1m1 0h1m1 0h1m2 0h1m2 0h2m1 0h1m3 0h2m1 0h1m1 0h1m3 0h1m1 0h1M88 77.6h3m2 0h2m7 0h2m4 0h1m3 0h4m3 0h1m2 0h1m5 0h2m2 0h1m14 0h4m2 0h1m7 0h2m4 0h3m6 0h1m1 0h1m3 0h7m1 0h1m2 0h2m4 0h4m6 0h2m11 0h1m1 0h1m5 0h6m1 0h2m26 0h3m13 0h1m2 0h3m9 0h2m3 0h5m2 0h7m1 0h1m2 0h4m5 0h1m1 0h5m3 0h3m2 0h1m6 0h1m7 0h1m5 0h1m7 0h6m6 0h2m2 0h1m2 0h1m3 0h4m3 0h2m2 0h1m1 0h4m1 0h2m1 0h1m6 0h2m3 0h1m2 0h4m2 0h3m6 0h1m2 0h1m1 0h4m12 0h1m7 0h2m3 0h1m7 0h1M87 74.8h3m1 0h1m1 0h2m1 0h1m1 0h2m3 0h2m2 0h1m1 0h2m3 0h2m1 0h1m3 0h2m1 0h4m2 0h2m6 0h3m2 0h1m1 0h3m2 0h4m3 0h1m3 0h2m2 0h1m2 0h4m5 0h2m4 0h1m2 0h4m2 0h2m2 0h3m3 0h2m1 0h3m5 0h1m1 0h8m1 0h1m4 0h4m2 0h8m2 0h1m10 0h1m9 0h1m4 0h2m1 0h1m2 0h6m3 0h3m2 0h8m1 0h1m1 0h1m1 0h4m3 0h1m1 0h4m2 0h1m1 0h5m1 0h7m1 0h2m3 0h2m2 0h5m1 0h1m3 0h1m1 0h2m1 0h2m1 0h3m2 0h5m1 0h4m1 0h1m1 0h1m2 0h1m1 0h1m2 0h1m1 0h2m1 0h1m1 0h2m1 0h1m2 0h2m1 0h2m1 0h5m3 0h1m1 0h1m1 0h1m4 0h2m2 0h2m2 0h2m2 0h1m1 0h2m1 0h1m5 0h2m1 0h2m6 0h2m1 0h8m2 0h5m3 0h1m1 0h7M90 72h1m13 0h1m3 0h2m67 0h5m47 0h2m9 0h6m1 0h1m6 0h3m9 0h2m1 0h6m2 0h2m6 0h4m1 0h7m1 0h1m7 0h7m36 0h8m3 0h2m7 0h5m5 0h5m6 0h6m14 0h3m2 0h7m11 0h1m16 0h3m10 0h5m4 0h1m4 0h1m6 0h1m1 0h3M87 69.1h5m6 0h1m1 0h1m4 0h5m4 0h2m5 0h2m14 0h2m3 0h2m1 0h1m5 0h2m12 0h3m2 0h1m3 0h1m3 0h1m13 0h1m1 0h1m18 0h1m6 0h1m6 0h4m11 0h1m10 0h1m14 0h5m7 0h2m16 0h1m14 0h1m5 0h1m8 0h1m1 0h1m46 0h1m4 0h1m4 0h2m5 0h1m17 0h2m2 0h2m11 0h1m4 0h1m8 0h2m16 0h2m12 0h1m2 0h3m3 0h4M87 66.3h2m1 0h1m1 0h5m1 0h3m1 0h2m1 0h1m2 0h3m1 0h1m5 0h1m2 0h2m2 0h2m1 0h2m1 0h8m5 0h4m3 0h1m2 0h2m4 0h1m1 0h3m4 0h2m5 0h1m5 0h3m1 0h3m2 0h1m1 0h1m1 0h6m2 0h2m4 0h2m1 0h5m1 0h1m2 0h1m1 0h3m5 0h2m2 0h1m3 0h2m1 0h1m3 0h1m5 0h1m4 0h1m3 0h1m5 0h1m2 0h1m5 0h7m5 0h2m4 0h1m7 0h3m1 0h8m7 0h2m10 0h2m5 0h4m5 0h4m5 0h1m2 0h1m2 0h2m8 0h1m9 0h5m2 0h2m2 0h3m4 0h2m2 0h1m1 0h1m7 0h3m10 0h2m1 0h2m8 0h2m2 0h1m6 0h2m8 0h1m2 0h3m2 0h3m8 0h6M93 63.4h1m7 0h3m1 0h1m4 0h1m2 0h2m2 0h3m1 0h1m4 0h1m4 0h2m1 0h1m3 0h4m1 0h1m1 0h5m5 0h2m5 0h1m2 0h1m3 0h1m1 0h2m4 0h1m2 0h1m3 0h8m11 0h1m4 0h1m4 0h1m1 0h2m5 0h2m6 0h1m5 0h1m10 0h1m1 0h4m6 0h1m1 0h1m1 0h2m6 0h1m1 0h3m1 0h1m10 0h2m1 0h1m3 0h4m11 0h2m8 0h1m1 0h7m2 0h1m7 0h3m6 0h1m7 0h2m1 0h1m2 0h2m9 0h1m1 0h1m3 0h1m7 0h1m1 0h2m8 0h1m7 0h1m12 0h1m7 0h2m2 0h3m3 0h1m2 0h1m3 0h1m3 0h2m8 0h2m3 0h1m2 0h2m4 0h1m2 0h2m3 0h4m3 0h1M92 60.6h1m1 0h2m4 0h3m4 0h2m4 0h1m3 0h2m1 0h5m1 0h2m3 0h1m1 0h2m2 0h1m2 0h3m4 0h2m3 0h6m1 0h1m1 0h1m2 0h2m1 0h2m1 0h3m1 0h1m1 0h3m1 0h1m1 0h2m2 0h1m3 0h1m1 0h1m3 0h2m1 0h1m1 0h3m2 0h5m2 0h3m1 0h2m1 0h1m5 0h2m1 0h3m1 0h2m3 0h3m2 0h3m4 0h1m4 0h2m1 0h1m2 0h1m2 0h1m1 0h2m4 0h5m1 0h3m3 0h1m2 0h3m1 0h5m2 0h2m1 0h3m1 0h1m1 0h1m5 0h2m1 0h3m5 0h1m2 0h4m6 0h3m2 0h2m1 0h1m16 0h1m7 0h1m1 0h1m3 0h1m1 0h3m4 0h1m9 0h1m1 0h1m4 0h2m5 0h5m6 0h1m2 0h1m1 0h4m1 0h1m2 0h2m3 0h1m4 0h1m1 0h2m1 0h1m1 0h1m1 0h1m1 0h5m3 0h1m1 0h1m2 0h4m4 0h1m2 0h1m3 0h3m2 0h1M87 57.7h1m5 0h8m7 0h1m3 0h2m3 0h3m2 0h1m4 0h1m1 0h2m4 0h1m3 0h3m1 0h1m5 0h1m8 0h1m1 0h5m5 0h5m5 0h1m5 0h2m8 0h5m1 0h5m2 0h1m4 0h3m4 0h4m2 0h1m7 0h1m2 0h2m1 0h5m1 0h7m7 0h4m5 0h3m1 0h3m1 0h4m2 0h1m2 0h2m2 0h1m1 0h2m1 0h2m11 0h2m8 0h2m6 0h3m4 0h3m1 0h1m4 0h4m1 0h1m4 0h1m6 0h3m3 0h2m2 0h7m2 0h5m9 0h11m1 0h7m2 0h4m1 0h3m1 0h5m3 0h1m1 0h1m1 0h4m1 0h1m1 0h1m3 0h2m2 0h2m1 0h3m3 0h2m1 0h6m3 0h7m2 0h5m2 0h1M93 54.9h4m1 0h4m1 0h3m5 0h2m5 0h5m1 0h4m1 0h1m1 0h1m1 0h2m1 0h2m1 0h9m1 0h2m1 0h4m4 0h11m1 0h3m2 0h2m1 0h1m1 0h24m1 0h2m1 0h1m2 0h5m1 0h2m1 0h6m1 0h1m1 0h2m1 0h1m1 0h5m1 0h1m1 0h1m1 0h8m1 0h3m1 0h1m1 0h1m1 0h1m1 0h1m1 0h1m1 0h4m1 0h1m1 0h2m1 0h5m1 0h1m1 0h2m1 0h2m1 0h10m1 0h9m1 0h10m1 0h7m1 0h2m1 0h8m1 0h1m1 0h2m1 0h1m1 0h1m1 0h6m1 0h1m1 0h5m1 0h3m1 0h5m1 0h4m1 0h1m1 0h4m1 0h1m1 0h2m1 0h2m1 0h3m1 0h14m1 0h5m1 0h7m1 0h3m1 0h1m1 0h1m1 0h1m1 0h3m1 0h2m1 0h1m1 0h3m1 0h4m1 0h2m1 0h1m1 0h3m1 0h1m1 0h2m1 0h6m1 0h1m1 0h1m1 0h1m1 0h2M87 52h1m1 0h1m1 0h2m1 0h3m1 0h3m1 0h1m1 0h2m1 0h2m1 0h6m1 0h2m1 0h1m1 0h1m2 0h1m1 0h1m1 0h3m1 0h2m1 0h7m1 0h1m1 0h2m2 0h1m1 0h1m1 0h1m2 0h1m3 0h5m2 0h1m2 0h4m2 0h2m2 0h3m3 0h4m2 0h1m1 0h3m3 0h1m3 0h1m1 0h1m1 0h6m2 0h1m1 0h4m1 0h1m2 0h1m2 0h7m2 0h1m1 0h1m5 0h1m1 0h2m6 0h7m1 0h3m2 0h1m5 0h2m2 0h1m1 0h2m1 0h3m1 0h3m1 0h1m2 0h2m2 0h1m3 0h1m3 0h1m1 0h1m2 0h4m2 0h1m1 0h1m2 0h1m4 0h1m1 0h4m1 0h4m2 0h1m1 0h5m1 0h1m1 0h1m1 0h3m1 0h1m2 0h4m2 0h8m1 0h4m1 0h3m1 0h9m1 0h2m1 0h3m1 0h2m1 0h3m1 0h7m1 0h1m1 0h1m1 0h2m1 0h2m1 0h2m1 0h1m1 0h5m1 0h3m1 0h1m1 0h5m1 0h2m1 0h1m1 0h2m1 0h2m1 0h3m1 0h1m1 0h1m1 0h2m1 0h1m1 0h2m1 0h2m1 0h2m1 0h1m1 0h1m1 0h2M87 49.2h2m1 0h4m1 0h2m1 0h2m1 0h2m1 0h2m1 0h3m1 0h1m1 0h5m1 0h1m1 0h4m1 0h1m1 0h1m1 0h2m1 0h9m1 0h4m1 0h3m1 0h1m1 0h1m1 0h2m1 0h1m1 0h2m1 0h1m1 0h2m1 0h1m1 0h4m1 0h1m1 0h3m1 0h3m1 0h1m1 0h1m1 0h2m1 0h4m1 0h7m1 0h2m1 0h3m1 0h1m1 0h1m1 0h1m1 0h10m1 0h3m1 0h6m1 0h1m1 0h2m1 0h7m1 0h1m1 0h3m1 0h1m1 0h3m1 0h4m1 0h4m4 0h1m1 0h1m1 0h4m1 0h3m1 0h6m1 0h1m2 0h1m1 0h12m1 0h5m1 0h4m1 0h1m1 0h5m1 0h1m3 0h3m1 0h2m1 0h1m2 0h2m3 0h1m1 0h2m3 0h6m3 0h4m2 0h3m4 0h9m3 0h5m3 0h8m4 0h4m2 0h7m1 0h3m2 0h1m3 0h1m3 0h3m2 0h1m4 0h1m1 0h8m2 0h2m3 0h1m1 0h2m1 0h3m2 0h3m3 0h3M87 46.3h4m1 0h1m5 0h1m2 0h1m2 0h2m1 0h1m1 0h1m1 0h1m3 0h1m6 0h3m3 0h1m3 0h6m1 0h1m2 0h3m1 0h4m1 0h3m5 0h1m1 0h1m1 0h1m1 0h1m1 0h2m2 0h1m2 0h1m1 0h3m1 0h1m1 0h4m1 0h1m2 0h3m1 0h1m2 0h2m1 0h1m4 0h1m1 0h3m1 0h3m1 0h3m1 0h1m2 0h5m1 0h2m1 0h1m1 0h3m1 0h3m1 0h1m1 0h1m1 0h3m1 0h2m1 0h4m1 0h2m1 0h1m1 0h2m1 0h1m1 0h1m1 0h2m1 0h10m1 0h3m1 0h2m1 0h5m1 0h2m1 0h1m1 0h15m1 0h1m1 0h1m1 0h2m1 0h1m1 0h2m1 0h3m1 0h1m1 0h3m1 0h1m1 0h1m1 0h1m1 0h1m1 0h5m1 0h3m1 0h2m1 0h1m1 0h1m1 0h2m1 0h1m1 0h1m1 0h3m1 0h3m1 0h1m1 0h1m1 0h2m1 0h3m1 0h2m1 0h2m1 0h1m1 0h1m1 0h1m2 0h1m1 0h1m1 0h4m1 0h2m1 0h3m2 0h2m1 0h2m1 0h2m1 0h3m1 0h1m3 0h6m1 0h1m2 0h5m1 0h1m1 0h8m3 0h2m1 0h1m4 0h1m2 0h4m1 0h5M87 43.5h1m2 0h4m3 0h2m1 0h2m1 0h1m2 0h1m1 0h3m1 0h3m2 0h11m3 0h1m1 0h1m3 0h5m1 0h5m11 0h3m5 0h1m1 0h1m1 0h8m5 0h2m3 0h2m7 0h3m2 0h3m6 0h1m3 0h1m4 0h6m2 0h4m2 0h1m3 0h1m1 0h1m2 0h3m1 0h1m1 0h2m1 0h1m2 0h3m1 0h3m2 0h5m1 0h2m1 0h2m3 0h2m1 0h2m1 0h1m1 0h2m1 0h1m2 0h3m1 0h1m1 0h1m1 0h4m1 0h3m1 0h3m1 0h5m1 0h2m1 0h4m1 0h1m1 0h2m1 0h7m1 0h6m1 0h1m1 0h1m1 0h1m2 0h1m2 0h5m1 0h2m1 0h2m1 0h1m1 0h1m2 0h2m3 0h5m1 0h1m1 0h1m1 0h1m1 0h1m2 0h5m1 0h1m1 0h2m1 0h6m3 0h1m3 0h2m1 0h2m1 0h3m1 0h1m1 0h7m1 0h2m3 0h4m3 0h2m2 0h1m6 0h1m3 0h2m1 0h2m2 0h2m2 0h1m7 0h4M87 40.7h4m1 0h1m1 0h2m1 0h3m1 0h5m1 0h2m1 0h4m1 0h3m1 0h2m1 0h3m2 0h6m1 0h1m2 0h4m1 0h5m2 0h5m2 0h5m2 0h3m1 0h3m1 0h1m2 0h5m1 0h1m1 0h1m2 0h3m2 0h1m3 0h3m1 0h2m1 0h1m2 0h2m1 0h4m1 0h2m1 0h3m1 0h3m1 0h3m1 0h3m1 0h2m3 0h7m3 0h1m7 0h1m1 0h4m1 0h2m1 0h1m3 0h2m1 0h6m3 0h1m2 0h3m4 0h1m3 0h4m1 0h1m4 0h2m1 0h2m1 0h10m10 0h4m4 0h4m1 0h3m12 0h1m1 0h3m3 0h5m4 0h1m1 0h3m1 0h1m1 0h3m10 0h3m4 0h2m4 0h2m7 0h1m14 0h2m7 0h2m4 0h1m5 0h2m5 0h1m1 0h1m1 0h2m5 0h5m4 0h3m4 0h1M87 37.8h2m1 0h1m1 0h2m1 0h1m1 0h2m1 0h2m1 0h2m1 0h1m1 0h1m1 0h1m1 0h5m1 0h1m1 0h3m1 0h1m1 0h3m1 0h1m1 0h1m1 0h1m1 0h3m1 0h3m1 0h1m1 0h4m1 0h3m1 0h2m1 0h3m1 0h1m1 0h2m1 0h2m1 0h4m1 0h1m1 0h1m1 0h3m1 0h4m1 0h3m1 0h2m1 0h1m1 0h3m1 0h2m1 0h1m1 0h2m1 0h4m1 0h2m1 0h1m2 0h8m1 0h4m2 0h1m1 0h1m1 0h1m7 0h1m1 0h1m1 0h5m1 0h8m2 0h1m2 0h1m6 0h2m1 0h2m1 0h1m2 0h3m2 0h2m5 0h1m1 0h2m2 0h1m1 0h3m3 0h1m1 0h3m5 0h2m1 0h2m2 0h1m6 0h5m1 0h2m1 0h3m5 0h1m2 0h1m2 0h3m5 0h3m2 0h4m2 0h1m2 0h1m3 0h1m3 0h2m2 0h1m1 0h4m2 0h1m1 0h1m4 0h1m3 0h1m1 0h4m2 0h2m1 0h2m1 0h1m2 0h3m1 0h2m2 0h2m1 0h1m1 0h3m1 0h1m1 0h2m1 0h5m1 0h3m1 0h2m1 0h2m1 0h1m1 0h5m1 0h4m1 0h3m1 0h4M87 35h3m6 0h2m1 0h1m2 0h2m2 0h2m1 0h2m9 0h1m2 0h3m1 0h9m1 0h5m2 0h1m4 0h1m4 0h3m3 0h5m1 0h3m3 0h2m1 0h1m2 0h1m1 0h1m1 0h1m1 0h3m1 0h2m1 0h3m3 0h1m2 0h4m3 0h1m1 0h1m1 0h1m1 0h4m1 0h2m1 0h2m2 0h3m1 0h3m1 0h3m2 0h1m1 0h1m1 0h2m1 0h3m1 0h2m2 0h2m1 0h2m1 0h1m1 0h3m1 0h2m2 0h1m1 0h1m1 0h2m3 0h3m1 0h2m1 0h3m1 0h3m1 0h1m1 0h1m1 0h8m2 0h2m1 0h1m1 0h2m1 0h1m3 0h2m2 0h1m1 0h1m5 0h1m1 0h2m1 0h3m1 0h3m1 0h1m1 0h1m3 0h1m1 0h2m2 0h4m2 0h5m1 0h1m1 0h1m1 0h2m1 0h1m6 0h2m2 0h1m3 0h1m6 0h1m1 0h1m5 0h3m2 0h1m1 0h2m6 0h1m1 0h1m1 0h3m1 0h1m5 0h2m3 0h1m1 0h3m1 0h2m11 0h6m1 0h2m3 0h2m1 0h3m3 0h5m3 0h2" stroke="#232a5e" stroke-width="3" fill="none"/>
<path d="M87 429.6h1m5 0h1m2 0h2m10 0h1m11 0h4m1 0h1m2 0h1m5 0h1m2 0h2m2 0h1m4 0h1m5 0h2m6 0h1m1 0h3m5 0h2m3 0h1m4 0h2m3 0h1m18 0h1m1 0h2m6 0h1m9 0h1m2 0h2m1 0h1m2 0h1m3 0h1m2 0h1m1 0h5m1 0h1m4 0h2m18 0h2m4 0h6m5 0h1m15 0h1m4 0h3m15 0h1m1 0h1m1 0h1m4 0h3m14 0h3m3 0h3m4 0h2m24 0h2m1 0h3m2 0h1m1 0h1m1 0h1m2 0h1m3 0h1m1 0h1m1 0h3m1 0h3m12 0h1m1 0h1m3 0h3m6 0h1m6 0h1m1 0h1m3 0h1m5 0h1m1 0h5m1 0h7m3 0h1M87 426.9h1m3 0h2m1 0h9m4 0h2m6 0h5m6 0h1m3 0h1m4 0h2m2 0h1m4 0h1m5 0h3m2 0h5m2 0h1m3 0h1m2 0h3m2 0h1m2 0h1m13 0h1m1 0h2m3 0h1m2 0h4m6 0h9m7 0h5m21 0h1m2 0h1m1 0h2m1 0h1m18 0h2m1 0h2m3 0h2m11 0h1m6 0h2m1 0h1m3 0h2m18 0h2m6 0h1m3 0h1m9 0h1m8 0h2m3 0h2m13 0h1m13 0h1m3 0h2m12 0h2m2 0h3m7 0h1m5 0h1m2 0h1m2 0h1m7 0h1m2 0h5m3 0h1m4 0h1m3 0h2m1 0h2m1 0h5M88 424.2h2m2 0h3m3 0h2m1 0h1m2 0h3m1 0h1m1 0h6m1 0h3m1 0h2m1 0h4m1 0h1m1 0h5m1 0h2m1 0h2m1 0h1m1 0h1m1 0h1m1 0h1m1 0h5m1 0h1m1 0h2m1 0h5m1 0h2m1 0h1m1 0h4m1 0h1m1 0h1m1 0h2m3 0h1m3 0h2m2 0h1m1 0h1m1 0h6m2 0h8m2 0h3m2 0h1m2 0h1m2 0h3m1 0h4m1 0h1m5 0h2m1 0h1m2 0h3m3 0h1m1 0h4m1 0h1m1 0h1m1 0h1m7 0h2m1 0h7m6 0h1m1 0h3m4 0h1m1 0h1m3 0h2m2 0h4m1 0h7m4 0h1m7 0h7m1 0h1m3 0h4m3 0h3m1 0h1m1 0h1m3 0h1m1 0h6m1 0h1m1 0h2m2 0h2m1 0h5m1 0h3m1 0h3m1 0h3m1 0h1m1 0h1m1 0h1m1 0h3m2 0h1m1 0h2m1 0h1m1 0h2m1 0h2m1 0h6m1 0h2m4 0h1m1 0h1m3 0h1m1 0h1m1 0h4m1 0h2m1 0h6m2 0h4m4 0h4m1 0h1m1 0h7m2 0h1m2 0h1M87 421.4h1m3 0h1m3 0h1m4 0h2m2 0h2m3 0h5m4 0h4m3 0h2m2 0h1m2 0h3m1 0h1m1 0h3m2 0h2m1 0h3m2 0h4m3 0h3m3 0h1m3 0h7m5 0h3m3 0h1m5 0h1m1 0h2m2 0h3m4 0h2m2 0h1m1 0h4m2 0h10m5 0h1m4 0h3m3 0h1m4 0h1m2 0h3m2 0h1m3 0h1m3 0h1m11 0h1m10 0h1m1 0h5m6 0h1m1 0h1m14 0h1m4 0h4m3 0h2m4 0h2m1 0h1m7 0h1m1 0h1m4 0h3m2 0h2m2 0h1m2 0h5m3 0h3m4 0h5m3 0h1m1 0h1m2 0h2m3 0h4m2 0h1m2 0h1m2 0h1m1 0h1m2 0h2m1 0h3m1 0h1m2 0h3m3 0h3m1 0h7m7 0h3m1 0h5m2 0h1m1 0h1m1 0h2m2 0h2m1 0h1m1 0h1m1 0h4m1 0h1m1 0h3M87 418.7h4m1 0h2m2 0h2m1 0h1m1 0h1m1 0h1m1 0h1m2 0h2m1 0h1m1 0h3m2 0h1m2 0h2m2 0h1m2 0h1m2 0h3m1 0h1m1 0h7m1 0h2m2 0h1m1 0h5m2 0h2m1 0h1m4 0h1m1 0h2m1 0h1m3 0h7m1 0h4m1 0h1m1 0h1m1 0h1m2 0h1m1 0h2m1 0h5m2 0h2m3 0h3m2 0h3m2 0h6m1 0h5m1 0h1m3 0h3m6 0h3m5 0h2m4 0h1m1 0h1m1 0h1m2 0h1m1 0h1m1 0h1m1 0h9m4 0h5m3 0h2m1 0h2m6 0h3m1 0h2m10 0h2m5 0h1m3 0h5m4 0h1m11 0h1m4 0h1m4 0h2m7 0h1m1 0h1m9 0h1m6 0h1m3 0h3m3 0h3m4 0h1m4 0h2m4 0h2m1 0h5m1 0h6m1 0h1m3 0h3m2 0h3m3 0h2m1 0h3m2 0h4m1 0h1m1 0h3m1 0h3m2 0h1m1 0h3m1 0h1m1 0h3m1 0h1M98 416h1m18 0h1m34 0h1m1 0h10m10 0h1m11 0h3m4 0h2m11 0h1m22 0h1m5 0h1m7 0h3m1 0h2m1 0h3m16 0h1m5 0h1m5 0h1m3 0h7m12 0h7m4 0h4m22 0h5m4 0h1m7 0h1m1 0h2m5 0h2m2 0h5m1 0h4m14 0h2m5 0h1m8 0h1m2 0h6m8 0h2m17 0h1m5 0h7m2 0h1m13 0h4m1 0h1M88 413.3h1m1 0h1m1 0h1m1 0h1m1 0h1m1 0h3m1 0h1m1 0h1m1 0h1m1 0h1m1 0h1m1 0h2m1 0h2m1 0h2m1 0h2m1 0h1m1 0h3m1 0h1m1 0h1m1 0h1m1 0h1m1 0h1m1 0h1m1 0h1m1 0h5m1 0h1m1 0h2m1 0h2m1 0h1m1 0h2m1 0h1m1 0h2m1 0h1m2 0h1m1 0h4m1 0h3m2 0h1m1 0h2m1 0h1m1 0h1m1 0h3m2 0h1m1 0h1m1 0h3m3 0h1m7 0h1m3 0h3m1 0h1m3 0h1m1 0h1m6 0h2m4 0h1m1 0h4m1 0h1m1 0h1m1 0h1m3 0h1m2 0h1m1 0h3m2 0h1m4 0h1m2 0h2m1 0h1m1 0h1m1 0h1m1 0h5m1 0h2m2 0h2m1 0h3m5 0h1m2 0h1m1 0h1m1 0h1m1 0h2m2 0h3m2 0h1m1 0h1m1 0h1m1 0h1m1 0h1m1 0h1m1 0h1m1 0h1m1 0h1m1 0h1m1 0h3m2 0h6m1 0h1m1 0h5m1 0h1m1 0h1m1 0h2m1 0h2m1 0h4m1 0h1m1 0h1m1 0h5m2 0h1m1 0h3m1 0h1m1 0h3m1 0h2m1 0h1m1 0h1m1 0h2m1 0h5m1 0h1m1 0h3m3 0h1m3 0h2m1 0h1m1 0h1m1 0h1m1 0h2m1 0h1m1 0h3m1 0h1m1 0h1m2 0h2m1 0h1m1 0h1m2 0h4m3 0h1m4 0h3m1 0h1m1 0h1m4 0h4m1 0h1M88 410.6h1m1 0h3m2 0h2m1 0h5m2 0h1m2 0h2m3 0h7m3 0h2m11 0h1m1 0h1m4 0h2m1 0h6m1 0h2m2 0h1m1 0h1m4 0h2m5 0h1m2 0h4m2 0h1m9 0h1m1 0h1m2 0h1m2 0h5m1 0h1m8 0h2m3 0h4m8 0h2m11 0h5m1 0h2m1 0h1m1 0h3m5 0h3m2 0h3m9 0h7m2 0h1m1 0h4m2 0h1m3 0h1m1 0h1m1 0h1m1 0h2m2 0h5m1 0h2m1 0h1m1 0h2m3 0h1m1 0h1m2 0h3m1 0h8m1 0h1m2 0h1m1 0h3m1 0h1m3 0h3m1 0h1m2 0h2m2 0h5m3 0h1m1 0h8m1 0h1m1 0h1m2 0h3m1 0h4m1 0h1m1 0h2m1 0h2m2 0h1m1 0h1m1 0h1m1 0h5m1 0h1m2 0h1m2 0h1m1 0h1m2 0h2m1 0h1m1 0h1m1 0h3m2 0h3m2 0h4m1 0h2m2 0h1m4 0h1m3 0h1m1 0h2m3 0h1m2 0h1m4 0h4M98 407.8h2m21 0h1m11 0h1m12 0h2m7 0h2m5 0h1m7 0h1m10 0h2m4 0h1m1 0h1m11 0h3m4 0h2m3 0h1m1 0h1m1 0h3m1 0h1m2 0h1m19 0h1m1 0h1m1 0h1m1 0h1m1 0h4m2 0h2m6 0h4m3 0h1m4 0h2m4 0h1m6 0h2m1 0h2m1 0h3m2 0h1m5 0h1m1 0h3m3 0h1m11 0h2m8 0h4m1 0h1m2 0h4m4 0h4m4 0h1m8 0h1m4 0h1m16 0h3m2 0h1m14 0h1m13 0h1m5 0h2m1 0h1m1 0h1m7 0h1m6 0h1m4 0h1m2 0h1m2 0h1m1 0h2m6 0h5m5 0h1M88 405.1h1m7 0h3m1 0h3m3 0h2m1 0h1m1 0h2m1 0h3m2 0h2m1 0h2m1 0h1m1 0h2m1 0h4m1 0h5m2 0h3m1 0h7m1 0h2m1 0h1m1 0h2m1 0h4m1 0h2m1 0h3m1 0h4m1 0h4m1 0h3m1 0h1m1 0h5m1 0h2m1 0h1m1 0h5m1 0h5m1 0h1m1 0h3m1 0h1m1 0h1m1 0h4m1 0h3m1 0h1m1 0h3m1 0h1m1 0h1m1 0h1m1 0h1m1 0h1m1 0h3m1 0h2m1 0h1m1 0h1m1 0h5m1 0h2m1 0h3m2 0h1m1 0h1m1 0h1m1 0h2m1 0h1m1 0h4m1 0h1m1 0h1m2 0h1m1 0h1m2 0h1m2 0h1m1 0h1m1 0h4m1 0h2m1 0h1m4 0h1m2 0h2m2 0h1m1 0h1m1 0h1m1 0h2m1 0h1m2 0h1m1 0h2m2 0h5m5 0h1m1 0h2m3 0h2m1 0h3m2 0h2m10 0h2m5 0h3m1 0h2m1 0h4m2 0h1m4 0h2m1 0h2m5 0h2m2 0h2m3 0h5m3 0h3m1 0h1m4 0h1m3 0h1m1 0h2m2 0h2m1 0h2m7 0h1m1 0h2m1 0h2m4 0h2m1 0h4m1 0h1m2 0h2M87 402.4h3m1 0h2m1 0h1m1 0h1m1 0h1m1 0h1m1 0h2m1 0h2m1 0h1m1 0h3m1 0h1m1 0h2m1 0h1m1 0h1m1 0h1m1 0h2m1 0h2m1 0h2m1 0h1m1 0h3m1 0h1m1 0h2m1 0h3m1 0h2m1 0h1m1 0h1m1 0h1m2 0h2m1 0h1m1 0h1m1 0h1m1 0h1m1 0h1m2 0h2m1 0h1m1 0h4m1 0h1m1 0h2m2 0h1m2 0h2m2 0h1m1 0h3m1 0h1m2 0h4m1 0h3m5 0h1m5 0h2m2 0h2m2 0h1m1 0h3m1 0h1m3 0h1m2 0h6m1 0h1m1 0h1m1 0h1m1 0h1m2 0h2m1 0h2m2 0h1m3 0h2m1 0h2m1 0h2m1 0h1m3 0h1m2 0h1m2 0h1m1 0h1m1 0h1m1 0h3m1 0h1m1 0h2m1 0h1m1 0h1m1 0h1m1 0h1m1 0h2m1 0h3m1 0h1m1 0h2m1 0h1m1 0h3m1 0h2m1 0h1m1 0h2m1 0h1m1 0h4m1 0h3m1 0h3m1 0h2m1 0h1m1 0h1m1 0h4m1 0h2m1 0h3m1 0h4m1 0h2m1 0h2m1 0h2m2 0h4m1 0h1m1 0h2m1 0h2m1 0h9m1 0h1m8 0h2m1 0h1m1 0h2m1 0h3m3 0h1m2 0h2m5 0h1m5 0h2m2 0h1m3 0h1m4 0h1m1 0h1m4 0h1m3 0h1m1 0h1m2 0h1m2 0h1m1 0h1M87 399.7h2m1 0h1m1 0h1m1 0h1m1 0h1m1 0h2m1 0h1m1 0h2m1 0h2m1 0h1m1 0h4m1 0h5m1 0h2m1 0h2m1 0h4m1 0h1m1 0h1m1 0h1m1 0h1m1 0h4m1 0h2m1 0h2m2 0h1m1 0h7m1 0h1m2 0h2m1 0h2m1 0h1m1 0h2m1 0h3m3 0h1m2 0h1m1 0h1m1 0h1m1 0h3m3 0h2m1 0h2m1 0h1m1 0h1m1 0h1m6 0h2m1 0h1m2 0h1m6 0h2m3 0h2m1 0h1m1 0h7m2 0h1m4 0h3m3 0h2m1 0h2m2 0h3m2 0h1m1 0h2m2 0h5m2 0h1m1 0h1m1 0h1m3 0h1m8 0h1m2 0h4m4 0h1m1 0h1m1 0h3m2 0h1m1 0h1m3 0h3m1 0h1m3 0h2m12 0h1m4 0h4m2 0h1m1 0h1m1 0h2m3 0h1m1 0h1m2 0h1m1 0h1m2 0h2m2 0h1m3 0h3m4 0h3m1 0h2m1 0h2m1 0h1m3 0h1m2 0h2m1 0h1m2 0h1m1 0h2m2 0h1m2 0h1m1 0h1m1 0h1m1 0h2m1 0h3m1 0h2m1 0h1m1 0h1m1 0h6m1 0h7m1 0h1m1 0h1m1 0h1m1 0h1m1 0h2m1 0h3m1 0h1m1 0h1m1 0h1m1 0h4m1 0h1m1 0h1M90 397h1m2 0h2m4 0h1m2 0h2m3 0h1m1 0h2m2 0h2m1 0h4m1 0h1m2 0h1m1 0h1m1 0h1m1 0h1m1 0h2m3 0h1m1 0h1m1 0h5m1 0h1m1 0h1m1 0h1m1 0h1m1 0h1m2 0h1m2 0h1m1 0h1m1 0h1m1 0h1m1 0h3m1 0h1m1 0h1m1 0h2m1 0h1m1 0h1m1 0h3m1 0h1m1 0h2m1 0h1m1 0h1m1 0h1m1 0h1m1 0h2m1 0h1m1 0h2m1 0h1m1 0h1m1 0h2m1 0h2m1 0h1m1 0h1m1 0h2m1 0h1m1 0h1m1 0h2m1 0h1m1 0h1m1 0h2m1 0h3m3 0h1m2 0h3m1 0h3m1 0h2m1 0h1m1 0h2m1 0h2m3 0h1m1 0h1m1 0h1m1 0h1m1 0h3m1 0h1m3 0h1m3 0h4m5 0h1m1 0h4m1 0h1m2 0h1m2 0h1m3 0h1m4 0h4m1 0h1m1 0h4m1 0h1m1 0h2m1 0h1m2 0h1m1 0h3m2 0h1m3 0h1m1 0h1m1 0h1m2 0h1m1 0h2m1 0h1m1 0h1m1 0h4m1 0h2m1 0h2m1 0h3m1 0h1m1 0h1m1 0h1m1 0h1m1 0h1m1 0h2m1 0h1m1 0h1m1 0h1m1 0h2m1 0h1m1 0h1m1 0h1m1 0h2m1 0h1m1 0h2m1 0h3m1 0h3m1 0h3m1 0h1m1 0h1m1 0h1m1 0h2m1 0h1m1 0h1m1 0h5m2 0h2m2 0h1m1 0h1m1 0h1m1 0h1m2 0h1m3 0h3m1 0h1m3 0h1m2 0h1m1 0h1m1 0h2m1 0h1m1 0h1M92 394.2h1m6 0h3m1 0h1m1 0h1m1 0h3m3 0h1m2 0h1m1 0h3m2 0h1m1 0h1m2 0h4m1 0h1m3 0h1m1 0h1m1 0h2m2 0h3m1 0h1m1 0h2m1 0h1m2 0h1m1 0h5m1 0h2m1 0h1m5 0h1m2 0h3m1 0h2m3 0h1m2 0h1m2 0h2m1 0h1m1 0h3m1 0h1m1 0h1m1 0h2m2 0h2m1 0h4m1 0h2m1 0h1m1 0h2m2 0h1m3 0h3m3 0h5m1 0h2m5 0h1m1 0h1m1 0h2m2 0h1m2 0h1m3 0h1m4 0h1m2 0h1m3 0h4m2 0h1m2 0h2m1 0h2m4 0h1m4 0h2m3 0h3m1 0h1m2 0h1m3 0h1m2 0h1m2 0h1m2 0h1m1 0h1m3 0h2m1 0h1m8 0h2m4 0h2m3 0h1m3 0h1m3 0h1m3 0h1m1 0h2m1 0h1m1 0h4m2 0h1m2 0h1m1 0h1m1 0h1m1 0h1m1 0h1m1 0h4m1 0h1m1 0h1m1 0h1m1 0h2m1 0h1m2 0h1m1 0h3m1 0h1m1 0h1m1 0h1m1 0h2m1 0h1m1 0h1m1 0h3m1 0h7m1 0h1m1 0h4m2 0h3m2 0h2m1 0h1m2 0h1m2 0h1m1 0h1m1 0h2m4 0h1m1 0h1m1 0h1m2 0h4m3 0h1M87 391.5h1m6 0h1m1 0h3m3 0h1m1 0h2m5 0h2m1 0h3m2 0h1m1 0h1m1 0h1m2 0h1m3 0h2m2 0h2m3 0h1m1 0h3m2 0h1m1 0h1m1 0h1m2 0h1m1 0h1m1 0h2m1 0h1m3 0h2m1 0h2m1 0h1m2 0h3m3 0h1m1 0h2m1 0h1m2 0h2m5 0h1m1 0h3m2 0h1m1 0h2m2 0h5m1 0h1m2 0h1m1 0h1m3 0h1m1 0h1m1 0h1m1 0h4m1 0h3m1 0h1m2 0h1m2 0h1m1 0h1m3 0h1m1 0h1m1 0h1m1 0h1m1 0h1m1 0h1m1 0h1m5 0h3m1 0h1m7 0h1m1 0h1m1 0h2m1 0h3m9 0h1m3 0h1m4 0h1m5 0h2m1 0h6m6 0h2m1 0h2m10 0h4m17 0h3m2 0h1m14 0h1m2 0h4m4 0h1m2 0h2m1 0h2m2 0h1m8 0h1m2 0h1m2 0h1m2 0h1m2 0h2m2 0h3m3 0h2m1 0h1m3 0h1m5 0h3m2 0h1m5 0h1m1 0h1m1 0h3m4 0h2m1 0h1m1 0h5m1 0h2m1 0h1m1 0h1M104 388.8h1m4 0h2m7 0h2m7 0h1m1 0h5m3 0h2m1 0h1m6 0h1m11 0h3m3 0h2m2 0h1m7 0h1m2 0h1m16 0h1m1 0h1m4 0h2m2 0h2m14 0h2m6 0h4m5 0h1m3 0h4m3 0h4m5 0h4m7 0h1m5 0h2m3 0h1m5 0h2m1 0h3m5 0h1m8 0h2m6 0h3m1 0h2m3 0h1m6 0h2m9 0h1m2 0h1m1 0h2m3 0h2m19 0h1m2 0h2m17 0h1m6 0h2m6 0h2m2 0h4m2 0h3m14 0h2m2 0h1m1 0h1m4 0h2m2 0h1m2 0h5m6 0h2m3 0h2m1 0h4m1 0h1M96 386.1h2m3 0h1m5 0h1m3 0h2m4 0h1m2 0h1m2 0h2m1 0h1m1 0h1m4 0h1m9 0h5m4 0h1m3 0h2m3 0h1m1 0h3m8 0h4m1 0h1m2 0h1m1 0h1m1 0h2m6 0h1m1 0h2m3 0h2m3 0h1m4 0h1m1 0h1m1 0h1m1 0h14m2 0h3m2 0h2m3 0h1m3 0h2m4 0h1m1 0h1m1 0h1m1 0h2m1 0h4m1 0h4m1 0h1m1 0h1m1 0h4m1 0h1m1 0h1m1 0h3m1 0h8m1 0h3m2 0h1m2 0h1m2 0h2m1 0h1m1 0h2m2 0h1m5 0h1m2 0h1m2 0h1m1 0h1m1 0h2m1 0h1m1 0h3m1 0h1m2 0h2m5 0h1m3 0h2m1 0h1m5 0h4m8 0h1m5 0h2m1 0h3m2 0h2m1 0h1m8 0h6m7 0h1m3 0h1m2 0h4m10 0h2m4 0h2m1 0h2m5 0h1m2 0h1m14 0h5m1 0h1m1 0h1m1 0h1m2 0h1m2 0h1M87 383.4h2m5 0h3m11 0h2m4 0h1m31 0h3m3 0h2m14 0h2m10 0h2m8 0h1m5 0h1m8 0h8m4 0h1m6 0h5m7 0h2m1 0h3m32 0h2m2 0h7m4 0h3m3 0h3m2 0h1m1 0h2m6 0h1m6 0h1m4 0h3m3 0h1m5 0h2m3 0h2m7 0h1m7 0h1m1 0h1m10 0h2m1 0h2m2 0h4m1 0h3m3 0h1m14 0h2m2 0h2m2 0h1m12 0h1m5 0h1m3 0h1m2 0h1m2 0h2m4 0h5m4 0h2m5 0h1m2 0h4m4 0h1m4 0h1m3 0h4M87 380.6h1m3 0h1m1 0h6m1 0h2m1 0h1m2 0h1m3 0h1m4 0h2m2 0h1m1 0h1m2 0h1m2 0h1m1 0h1m3 0h2m1 0h1m1 0h1m1 0h3m1 0h1m4 0h1m2 0h1m1 0h3m1 0h1m1 0h1m4 0h1m1 0h10m4 0h1m1 0h1m1 0h1m1 0h4m1 0h3m1 0h3m1 0h4m1 0h2m1 0h1m1 0h2m1 0h1m1 0h1m1 0h2m1 0h1m1 0h1m1 0h2m1 0h3m1 0h1m1 0h2m1 0h1m1 0h2m1 0h1m1 0h2m1 0h3m1 0h4m1 0h2m1 0h2m1 0h2m1 0h1m1 0h1m1 0h1m1 0h2m1 0h3m1 0h1m1 0h2m1 0h1m1 0h1m1 0h2m1 0h1m1 0h2m1 0h1m1 0h1m1 0h1m1 0h2m1 0h3m1 0h2m1 0h1m1 0h2m1 0h1m2 0h2m1 0h4m1 0h1m2 0h5m1 0h1m1 0h1m1 0h7m2 0h1m2 0h3m1 0h1m2 0h1m1 0h4m1 0h1m1 0h2m1 0h3m1 0h1m3 0h1m7 0h1m6 0h2m2 0h1m2 0h1m1 0h3m4 0h4m1 0h3m3 0h1m3 0h1m1 0h1m1 0h1m3 0h1m1 0h1m1 0h2m2 0h3m2 0h1m4 0h2m1 0h1m1 0h5m1 0h1m1 0h3m1 0h1m1 0h1m1 0h1m1 0h1m1 0h1m1 0h2m1 0h6m1 0h1M90 377.9h1m1 0h1m1 0h2m2 0h2m6 0h2m2 0h2m1 0h2m3 0h3m1 0h1m2 0h2m2 0h2m3 0h4m2 0h1m1 0h4m1 0h1m1 0h1m1 0h2m2 0h1m2 0h1m1 0h1m2 0h5m4 0h2m3 0h2m1 0h6m3 0h1m4 0h1m10 0h4m1 0h1m3 0h3m1 0h1m1 0h2m1 0h1m9 0h1m1 0h3m10 0h1m3 0h1m1 0h1m1 0h1m1 0h5m6 0h2m2 0h2m4 0h4m11 0h3m5 0h6m3 0h1m1 0h1m2 0h4m2 0h1m1 0h4m5 0h2m3 0h2m3 0h3m5 0h9m2 0h1m6 0h1m2 0h4m4 0h2m1 0h1m1 0h5m2 0h1m3 0h1m3 0h1m2 0h1m5 0h1m1 0h1m1 0h2m4 0h1m3 0h5m2 0h1m1 0h3m1 0h6m1 0h2m2 0h1m2 0h3m2 0h1m3 0h2m1 0h5m3 0h2m7 0h1m1 0h2m3 0h2M88 375.2h1m3 0h1m3 0h2m5 0h4m6 0h2m2 0h1m1 0h3m2 0h1m1 0h1m2 0h1m1 0h2m3 0h1m1 0h2m1 0h3m1 0h1m2 0h2m1 0h1m2 0h5m4 0h1m1 0h1m2 0h2m2 0h3m1 0h2m1 0h1m1 0h2m1 0h7m1 0h1m1 0h2m1 0h1m1 0h2m1 0h2m1 0h2m1 0h2m2 0h1m1 0h1m3 0h2m1 0h2m2 0h1m2 0h1m2 0h1m1 0h4m1 0h3m1 0h1m1 0h1m1 0h1m2 0h1m1 0h1m3 0h1m4 0h1m1 0h1m3 0h2m1 0h3m1 0h2m3 0h1m4 0h1m3 0h1m2 0h1m1 0h1m2 0h1m2 0h4m1 0h1m1 0h5m3 0h1m4 0h1m1 0h2m3 0h1m2 0h1m2 0h1m2 0h2m1 0h1m1 0h3m5 0h1m1 0h1m3 0h2m4 0h6m2 0h1m2 0h1m2 0h3m1 0h3m2 0h1m5 0h1m5 0h3m5 0h5m2 0h3m1 0h1m1 0h2m1 0h1m1 0h1m1 0h1m1 0h1m2 0h1m1 0h1m3 0h3m1 0h1m2 0h2m2 0h1m1 0h1m2 0h1m2 0h4m1 0h3m1 0h1m1 0h3m1 0h1m2 0h1m1 0h1m1 0h2m2 0h1m1 0h3m2 0h2m1 0h1M89 372.5h1m4 0h2m7 0h7m2 0h6m4 0h1m1 0h4m6 0h1m1 0h1m6 0h3m2 0h2m2 0h1m1 0h3m5 0h3m7 0h1m2 0h3m3 0h2m10 0h1m2 0h1m2 0h1m1 0h1m1 0h2m3 0h1m2 0h1m1 0h1m4 0h2m3 0h1m4 0h4m4 0h1m1 0h2m18 0h3m7 0h2m3 0h1m1 0h1m8 0h1m2 0h3m2 0h1m1 0h2m3 0h6m1 0h1m2 0h1m3 0h3m1 0h1m4 0h2m2 0h2m1 0h1m2 0h4m1 0h1m6 0h4m2 0h1m4 0h5m2 0h2m7 0h1m2 0h5m4 0h1m4 0h3m1 0h1m5 0h1m3 0h2m3 0h7m4 0h5m1 0h2m4 0h2m2 0h1m2 0h6m5 0h1m4 0h1m5 0h10m1 0h1m11 0h2m1 0h1M88 369.8h4m2 0h3m3 0h3m1 0h5m1 0h5m2 0h1m7 0h1m1 0h1m1 0h1m1 0h1m2 0h1m2 0h4m1 0h3m1 0h5m2 0h1m1 0h2m7 0h1m2 0h1m2 0h1m6 0h1m1 0h2m11 0h3m4 0h4m6 0h1m1 0h2m2 0h2m2 0h1m7 0h3m1 0h4m4 0h3m5 0h2m1 0h2m4 0h1m1 0h2m2 0h1m1 0h1m6 0h2m2 0h2m4 0h3m2 0h2m2 0h1m5 0h11m6 0h1m1 0h3m2 0h3m2 0h6m1 0h2m2 0h1m1 0h2m2 0h2m1 0h1m2 0h1m7 0h2m1 0h2m1 0h1m2 0h3m4 0h2m3 0h2m1 0h3m1 0h2m3 0h1m1 0h2m4 0h2m6 0h3m3 0h1m2 0h1m17 0h2m7 0h1m1 0h4m2 0h1m6 0h2m2 0h3m6 0h2m3 0h3m1 0h1m4 0h4m1 0h1M88 367h1m1 0h2m6 0h3m2 0h3m1 0h1m1 0h1m1 0h1m1 0h1m1 0h1m3 0h1m2 0h2m1 0h1m1 0h2m1 0h1m1 0h1m1 0h2m1 0h3m2 0h1m1 0h1m1 0h3m1 0h1m1 0h2m1 0h1m1 0h3m1 0h1m1 0h2m1 0h3m1 0h2m1 0h2m1 0h1m1 0h4m1 0h2m1 0h1m1 0h1m1 0h4m1 0h1m1 0h1m1 0h2m1 0h1m1 0h3m1 0h1m1 0h2m1 0h2m1 0h1m1 0h2m1 0h3m1 0h1m1 0h3m1 0h1m1 0h2m1 0h1m1 0h1m1 0h1m1 0h1m2 0h2m1 0h1m1 0h2m1 0h2m1 0h1m4 0h2m1 0h1m2 0h1m1 0h1m2 0h1m1 0h2m3 0h1m1 0h1m2 0h4m2 0h3m4 0h2m1 0h2m1 0h1m4 0h1m4 0h3m3 0h2m2 0h2m2 0h1m2 0h4m1 0h2m1 0h4m2 0h3m1 0h1m2 0h1m3 0h1m1 0h3m1 0h3m1 0h4m4 0h2m1 0h6m1 0h4m1 0h1m1 0h2m1 0h1m1 0h1m1 0h2m1 0h1m1 0h2m1 0h3m1 0h1m1 0h1m1 0h2m1 0h3m1 0h3m1 0h1m1 0h3m1 0h2m1 0h1m1 0h1m1 0h4m1 0h1m1 0h1m1 0h1m1 0h2m1 0h1m1 0h1m1 0h1m1 0h1m1 0h2m1 0h1m1 0h1m1 0h1m1 0h1m1 0h1m1 0h6m1 0h1m1 0h3m2 0h1m1 0h1M87 364.3h2m1 0h1m1 0h2m1 0h2m1 0h2m1 0h3m1 0h1m1 0h1m1 0h1m1 0h1m1 0h1m1 0h1m1 0h4m1 0h1m1 0h2m1 0h2m1 0h1m1 0h1m1 0h4m1 0h1m3 0h1m1 0h1m1 0h3m3 0h1m1 0h2m2 0h1m1 0h1m1 0h1m1 0h2m3 0h2m4 0h2m2 0h1m2 0h2m3 0h1m2 0h2m1 0h1m2 0h2m4 0h2m2 0h1m1 0h1m3 0h1m1 0h1m4 0h5m2 0h2m1 0h1m1 0h1m3 0h2m3 0h4m2 0h2m2 0h1m1 0h2m1 0h1m2 0h1m3 0h2m3 0h2m1 0h1m1 0h1m1 0h1m1 0h1m2 0h1m1 0h1m3 0h2m2 0h2m2 0h1m2 0h2m1 0h1m4 0h1m2 0h2m1 0h1m1 0h3m1 0h1m1 0h1m2 0h1m1 0h2m1 0h1m1 0h1m2 0h2m2 0h1m1 0h1m1 0h2m1 0h1m1 0h1m1 0h1m1 0h3m1 0h1m1 0h1m1 0h1m1 0h1m2 0h1m1 0h1m1 0h3m1 0h1m1 0h1m1 0h3m1 0h1m1 0h1m1 0h1m1 0h2m1 0h1m1 0h2m1 0h1m1 0h1m1 0h1m1 0h1m1 0h3m1 0h2m1 0h2m1 0h1m1 0h2m1 0h1m1 0h3m1 0h1m1 0h1m1 0h2m1 0h1m1 0h2m1 0h4m1 0h4m1 0h1m1 0h2m1 0h3m1 0h1m1 0h3m1 0h1m1 0h1m1 0h2m1 0h1m1 0h2m1 0h1m1 0h2m1 0h2m1 0h1m1 0h2m1 0h1m1 0h1m1 0h1M89 361.6h1m6 0h5m1 0h2m5 0h2m9 0h2m2 0h2m6 0h3m2 0h2m2 0h2m1 0h3m2 0h6m2 0h3m1 0h3m1 0h4m2 0h1m1 0h2m1 0h2m1 0h1m3 0h1m1 0h2m1 0h1m3 0h3m2 0h2m2 0h1m1 0h1m1 0h2m1 0h2m2 0h2m2 0h1m1 0h1m1 0h6m1 0h2m1 0h1m1 0h1m2 0h1m2 0h1m1 0h1m1 0h1m1 0h3m1 0h1m1 0h2m1 0h1m1 0h6m1 0h2m2 0h1m2 0h2m2 0h1m1 0h3m3 0h2m3 0h1m1 0h1m2 0h2m1 0h1m1 0h2m1 0h1m3 0h2m1 0h1m2 0h2m1 0h1m1 0h4m1 0h1m2 0h2m1 0h1m1 0h1m1 0h1m1 0h2m2 0h7m4 0h1m3 0h1m5 0h1m2 0h3m1 0h1m3 0h3m4 0h2m2 0h4m3 0h1m3 0h5m1 0h3m1 0h2m1 0h2m1 0h1m3 0h2m4 0h5m3 0h8m4 0h3m3 0h3m5 0h5m10 0h3m1 0h2m3 0h1m6 0h1M87 358.9h1m6 0h1m17 0h5m47 0h3m3 0h1m6 0h1m3 0h4m1 0h2m15 0h1m2 0h4m4 0h2m7 0h1m1 0h1m15 0h3m15 0h2m14 0h1m20 0h2m2 0h1m4 0h3m11 0h1m1 0h3m13 0h3m4 0h2m22 0h1m6 0h1m5 0h1m2 0h1m8 0h4m7 0h2m12 0h2m6 0h6m5 0h1m11 0h1m5 0h2m3 0h7m5 0h1m7 0h1M87 356.2h2m1 0h1m3 0h1m2 0h2m1 0h1m1 0h1m1 0h3m1 0h6m2 0h2m1 0h2m1 0h1m1 0h2m6 0h6m1 0h1m2 0h1m1 0h3m1 0h1m2 0h3m2 0h2m1 0h3m1 0h1m1 0h3m5 0h1m1 0h8m1 0h4m4 0h4m1 0h1m2 0h2m1 0h2m1 0h1m4 0h4m3 0h1m2 0h1m2 0h1m1 0h1m1 0h1m4 0h1m2 0h3m1 0h1m3 0h2m2 0h1m2 0h1m2 0h2m2 0h2m2 0h1m1 0h2m1 0h6m2 0h1m2 0h1m2 0h5m1 0h2m2 0h1m2 0h1m2 0h5m4 0h3m1 0h2m1 0h2m1 0h2m1 0h5m1 0h1m1 0h2m1 0h2m1 0h1m1 0h2m1 0h2m1 0h1m1 0h1m1 0h5m1 0h2m1 0h4m1 0h1m1 0h1m1 0h3m1 0h2m1 0h3m1 0h1m1 0h1m1 0h1m1 0h2m1 0h2m1 0h1m1 0h1m1 0h2m1 0h1m1 0h1m1 0h1m1 0h1m1 0h1m1 0h1m1 0h1m1 0h3m1 0h10m1 0h1m1 0h3m1 0h4m1 0h10m1 0h1m1 0h2m1 0h2m1 0h2m1 0h1m1 0h3m1 0h2m1 0h1m1 0h3m1 0h1m1 0h1m1 0h1m1 0h1m1 0h1m1 0h4m1 0h4M87 353.4h1m1 0h1m1 0h1m6 0h2m5 0h2m1 0h4m2 0h3m2 0h6m2 0h2m1 0h3m3 0h9m5 0h3m1 0h1m2 0h1m4 0h3m1 0h1m2 0h2m1 0h2m7 0h1m13 0h2m4 0h4m2 0h1m4 0h1m16 0h1m3 0h1m1 0h1m3 0h2m1 0h1m2 0h1m1 0h1m6 0h1m3 0h1m4 0h1m3 0h1m1 0h2m8 0h1m1 0h1m3 0h1m2 0h1m4 0h1m3 0h2m2 0h1m1 0h5m2 0h3m4 0h1m8 0h3m1 0h1m2 0h3m1 0h2m1 0h1m3 0h3m1 0h3m1 0h1m1 0h2m2 0h2m1 0h3m2 0h7m4 0h1m1 0h4m3 0h1m1 0h1m1 0h2m1 0h1m1 0h2m1 0h1m2 0h4m2 0h1m3 0h2m1 0h1m4 0h2m1 0h1m2 0h1m1 0h3m2 0h1m1 0h1m1 0h1m9 0h2m2 0h2m1 0h3m4 0h1m1 0h2m3 0h1m1 0h1m2 0h1m3 0h1m3 0h2m1 0h5M92 350.7h2m1 0h2m12 0h1m8 0h4m2 0h1m4 0h1m13 0h1m4 0h1m2 0h1m1 0h2m13 0h2m2 0h1m5 0h4m2 0h1m9 0h1m6 0h2m2 0h1m2 0h4m4 0h1m5 0h2m1 0h1m14 0h1m1 0h1m1 0h1m8 0h3m2 0h5m9 0h1m1 0h1m15 0h1m7 0h1m9 0h1m18 0h1m1 0h2m9 0h4m2 0h1m1 0h1m5 0h1m1 0h1m7 0h2m6 0h3m3 0h1m3 0h2m6 0h1m9 0h4m8 0h2m7 0h2m3 0h3m1 0h1m3 0h1m1 0h2m3 0h2m1 0h3m1 0h1m12 0h1m1 0h2m8 0h1m4 0h1m6 0h1M87 348h2m1 0h2m1 0h1m3 0h2m1 0h1m1 0h1m1 0h1m1 0h1m1 0h2m1 0h1m2 0h1m3 0h1m1 0h1m2 0h1m2 0h1m3 0h2m3 0h2m1 0h2m1 0h1m2 0h5m1 0h1m3 0h1m1 0h2m1 0h1m2 0h1m1 0h1m2 0h1m8 0h1m1 0h1m1 0h1m1 0h1m1 0h2m2 0h1m2 0h5m1 0h3m1 0h1m2 0h4m2 0h2m3 0h1m3 0h2m1 0h1m3 0h2m1 0h3m3 0h1m1 0h1m1 0h1m2 0h1m2 0h1m1 0h2m1 0h1m2 0h2m2 0h1m1 0h2m1 0h2m1 0h2m3 0h1m2 0h1m1 0h1m1 0h1m1 0h2m1 0h1m1 0h3m1 0h1m1 0h1m2 0h1m1 0h1m2 0h2m2 0h1m1 0h2m1 0h1m1 0h1m1 0h1m1 0h1m1 0h2m1 0h1m1 0h1m1 0h1m1 0h1m1 0h1m1 0h2m1 0h1m1 0h1m1 0h4m1 0h1m1 0h2m1 0h2m1 0h4m1 0h1m1 0h1m1 0h2m1 0h2m1 0h2m1 0h1m1 0h2m1 0h1m1 0h1m1 0h1m1 0h1m1 0h1m1 0h1m1 0h2m1 0h2m1 0h2m1 0h1m1 0h3m1 0h1m1 0h5m1 0h1m1 0h3m1 0h5m1 0h1m1 0h1m1 0h1m1 0h1m1 0h2m1 0h2m1 0h1m1 0h1m1 0h1m1 0h2m1 0h2m1 0h2m1 0h2m1 0h2m1 0h4m1 0h1m1 0h1m1 0h2m1 0h2m1 0h3m1 0h1m1 0h3m1 0h3m1 0h2m1 0h3M87 345.3h3m10 0h2m1 0h1m1 0h2m13 0h1m8 0h3m7 0h1m9 0h1m1 0h3m3 0h1m7 0h1m14 0h3m1 0h3m9 0h1m1 0h3m16 0h1m5 0h1m4 0h3m2 0h1m1 0h2m5 0h1m2 0h1m3 0h2m2 0h3m2 0h1m3 0h1m2 0h1m4 0h1m5 0h2m4 0h2m3 0h1m3 0h2m2 0h1m2 0h1m2 0h2m10 0h1m8 0h1m2 0h2m5 0h3m5 0h3m4 0h5m2 0h3m20 0h1m3 0h1m10 0h4m14 0h1m6 0h2m10 0h1m22 0h3m7 0h2m2 0h1m1 0h2m1 0h1m3 0h2m11 0h1M87 342.6h5m2 0h1m1 0h2m1 0h1m1 0h3m2 0h2m1 0h2m1 0h2m1 0h1m1 0h1m2 0h1m1 0h8m1 0h1m1 0h1m1 0h1m1 0h2m1 0h2m1 0h1m1 0h2m1 0h3m1 0h1m1 0h3m1 0h1m1 0h3m1 0h3m1 0h3m1 0h4m1 0h7m1 0h1m1 0h1m1 0h2m1 0h1m1 0h1m1 0h5m1 0h3m1 0h1m1 0h1m1 0h4m1 0h3m1 0h1m1 0h4m1 0h1m1 0h4m1 0h5m1 0h1m1 0h1m1 0h1m1 0h2m1 0h3m1 0h5m1 0h1m1 0h6m1 0h3m1 0h4m1 0h2m1 0h1m6 0h5m4 0h3m1 0h2m2 0h3m3 0h1m2 0h1m1 0h2m3 0h1m2 0h7m1 0h2m1 0h1m1 0h3m1 0h2m2 0h3m1 0h2m2 0h3m2 0h1m1 0h1m2 0h3m4 0h1m1 0h1m2 0h1m1 0h2m1 0h1m2 0h2m1 0h3m1 0h5m1 0h1m1 0h1m1 0h1m1 0h3m1 0h1m1 0h5m1 0h2m1 0h4m1 0h2m1 0h5m1 0h1m1 0h2m1 0h2m1 0h3m1 0h4m1 0h1m1 0h3m1 0h1m1 0h5m1 0h1m1 0h2m1 0h2m1 0h3m1 0h2m1 0h1m1 0h1m1 0h2m1 0h7M87 339.8h2m9 0h5m8 0h3m3 0h3m4 0h2m4 0h1m3 0h1m1 0h2m1 0h3m16 0h2m7 0h3m7 0h1m2 0h1m5 0h2m4 0h2m5 0h1m3 0h1m3 0h3m2 0h1m3 0h3m4 0h1m1 0h1m11 0h5m17 0h1m3 0h5m6 0h1m11 0h2m16 0h8m4 0h3m5 0h2m4 0h3m5 0h2m24 0h1m5 0h4m1 0h3m1 0h4m1 0h4m2 0h4m4 0h2m5 0h2m1 0h2m1 0h3m10 0h3m1 0h3m3 0h1m1 0h1m7 0h1m2 0h2m3 0h2m4 0h2m5 0h2m11 0h1M87 337.1h2m2 0h1m2 0h1m3 0h2m2 0h1m2 0h1m2 0h2m5 0h1m2 0h4m1 0h1m1 0h4m1 0h1m2 0h1m2 0h2m6 0h1m5 0h4m3 0h2m1 0h2m1 0h1m1 0h3m1 0h1m1 0h4m4 0h1m3 0h6m1 0h1m2 0h1m1 0h1m1 0h2m1 0h2m3 0h2m1 0h1m2 0h4m1 0h1m1 0h3m1 0h1m1 0h2m1 0h1m2 0h1m1 0h1m1 0h3m3 0h2m2 0h3m1 0h1m2 0h1m1 0h1m1 0h1m1 0h4m1 0h4m1 0h2m1 0h2m1 0h4m1 0h4m1 0h1m1 0h1m1 0h2m1 0h1m1 0h3m1 0h4m1 0h1m1 0h1m1 0h1m1 0h1m1 0h1m1 0h1m1 0h1m1 0h3m1 0h1m1 0h3m1 0h3m1 0h1m1 0h1m1 0h1m1 0h1m1 0h3m1 0h1m1 0h1m1 0h9m1 0h1m1 0h1m1 0h2m1 0h3m2 0h1m1 0h1m1 0h1m1 0h2m1 0h2m1 0h3m1 0h1m2 0h1m2 0h2m5 0h2m3 0h4m2 0h6m3 0h1m4 0h2m4 0h4m1 0h1m2 0h1m1 0h1m1 0h4m1 0h1m2 0h2m3 0h1m2 0h1m4 0h1m1 0h1m2 0h1m2 0h2m2 0h1m5 0h1m2 0h1m1 0h2m1 0h2M87 334.4h1m1 0h3m1 0h4m3 0h2m2 0h1m5 0h3m1 0h1m1 0h1m1 0h1m2 0h1m7 0h1m2 0h2m4 0h1m3 0h1m1 0h1m1 0h1m1 0h1m1 0h1m1 0h2m2 0h1m1 0h3m2 0h1m1 0h2m1 0h2m1 0h1m1 0h2m2 0h2m1 0h2m1 0h2m2 0h2m2 0h1m2 0h2m1 0h1m1 0h2m1 0h1m1 0h1m1 0h1m1 0h2m1 0h6m1 0h1m2 0h1m1 0h3m1 0h1m1 0h2m1 0h3m1 0h2m1 0h1m1 0h2m1 0h1m1 0h2m1 0h2m1 0h1m1 0h1m1 0h1m1 0h1m1 0h2m1 0h2m1 0h4m1 0h1m1 0h8m1 0h2m1 0h1m1 0h1m1 0h3m1 0h1m1 0h1m1 0h1m1 0h2m1 0h3m1 0h1m1 0h1m1 0h1m1 0h1m1 0h5m1 0h2m1 0h3m1 0h2m1 0h1m1 0h2m1 0h6m1 0h1m2 0h1m2 0h1m1 0h4m2 0h2m1 0h2m1 0h1m1 0h1m1 0h4m1 0h1m1 0h4m1 0h4m1 0h1m1 0h1m3 0h4m1 0h1m1 0h2m1 0h2m1 0h2m3 0h6m1 0h1m1 0h1m1 0h3m1 0h1m1 0h1m1 0h1m2 0h1m2 0h1m2 0h1m1 0h1m2 0h3m1 0h1m3 0h1m2 0h1m5 0h1m2 0h2m1 0h1m1 0h1m1 0h1m2 0h3m1 0h1m2 0h1m1 0h3m2 0h5" stroke="#dcbf00" stroke-width="3" fill="none"/>
<path d="M85.3 22L85.3 434.4" stroke="#000" stroke-width="2"/>
<path d="M84.3 433.4L490.3 433.4" stroke="#000" stroke-width="2"/>
<path d="M80 433.4L85 433.4" stroke="#000" stroke-width="1.6"/>
<text x="73.5" y="440.8" text-anchor="end">1</text>
<path d="M80 379.3L85 379.3" stroke="#000" stroke-width="1.6"/>
<text x="73.5" y="386.7" text-anchor="end">20</text>
<path d="M80 322.4L85 322.4" stroke="#000" stroke-width="1.6"/>
<text x="73.5" y="329.8" text-anchor="end">40</text>
<path d="M80 265.5L85 265.5" stroke="#000" stroke-width="1.6"/>
<text x="73.5" y="272.9" text-anchor="end">60</text>
<path d="M80 208.6L85 208.6" stroke="#000" stroke-width="1.6"/>
<text x="73.5" y="216" text-anchor="end">80</text>
<path d="M80 151.6L85 151.6" stroke="#000" stroke-width="1.6"/>
<text x="73.5" y="159" text-anchor="end">100</text>
<path d="M80 94.7L85 94.7" stroke="#000" stroke-width="1.6"/>
<text x="73.5" y="102.1" text-anchor="end">120</text>
<path d="M80 37.8L85 37.8" stroke="#000" stroke-width="1.6"/>
<text x="73.5" y="45.2" text-anchor="end">140</text>
<path d="M85.7 433L85.7 438.5" stroke="#000" stroke-width="1.6"/>
<path d="M166.6 433L166.6 438.5" stroke="#000" stroke-width="1.6"/>
<path d="M247.5 433L247.5 438.5" stroke="#000" stroke-width="1.6"/>
<path d="M328.4 433L328.4 438.5" stroke="#000" stroke-width="1.6"/>
<path d="M409.3 433L409.3 438.5" stroke="#000" stroke-width="1.6"/>
<path d="M490.2 433L490.2 438.5" stroke="#000" stroke-width="1.6"/>
<text x="80.2" y="456.5">0</text>
<text x="488.5" y="456.5">10</text>
<rect x="96.8" y="438" width="15.2" height="19.8" fill="#db7190"/>
<rect x="130.2" y="438" width="33.2" height="19.8" fill="#db7190"/>
<rect x="170" y="438" width="26.4" height="19.8" fill="#66c189"/>
<rect x="212.4" y="438" width="66.1" height="19.8" fill="#f0b768"/>
<rect x="284" y="438" width="26.3" height="19.8" fill="#a6a0cc"/>
<rect x="310.3" y="438" width="174.4" height="19.8" fill="#d6d6d6"/>
<text x="154.2" y="484.6">Time relative to trial start (s)</text>
<text transform="translate(30,185.3) rotate(-90)" text-anchor="middle">dlPFC units</text>
<text transform="translate(30,390.8) rotate(-90)" text-anchor="middle">V4 units</text>
<rect x="30.5" y="506" width="13.5" height="13.5" fill="#db7190"/>
<text x="50.7" y="511">View</text>
<text x="50.7" y="531.6">reward</text>
<rect x="132.2" y="506" width="13.5" height="13.5" fill="#66c189"/>
<text x="152.4" y="511">Self</text>
<text x="152.4" y="531.6">push</text>
<rect x="223.1" y="506" width="13.5" height="13.5" fill="#f0b768"/>
<text x="243.3" y="511">View</text>
<text x="243.3" y="531.6">partner</text>
<rect x="334.8" y="506" width="13.5" height="13.5" fill="#a6a0cc"/>
<text x="355" y="511">Partner</text>
<text x="355" y="531.6">push</text>
<rect x="450.3" y="506" width="13.5" height="13.5" fill="#d6d6d6"/>
<text x="470.5" y="511">Tray</text>
<text x="470.5" y="531.6">move</text>
<text transform="translate(514.1,27.8) scale(1.1,1)" font-size="33" font-weight="bold" stroke="#000" stroke-width="1.3">b</text>
<text x="603" y="94.8">Monkey 1</text>
<text x="603" y="280.4">Monkey 2</text>
<text transform="translate(542,263) rotate(-90)" text-anchor="middle">Vertical°</text>
<path d="M600.5 111.2L600.5 241" stroke="#000" stroke-width="2"/>
<path d="M599.5 241L706.1 241" stroke="#000" stroke-width="2"/>
<path d="M597 112.2L600 112.2" stroke="#000" stroke-width="1.5"/>
<path d="M597 128.3L600 128.3" stroke="#000" stroke-width="1.5"/>
<path d="M597 144.4L600 144.4" stroke="#000" stroke-width="1.5"/>
<path d="M597 160.5L600 160.5" stroke="#000" stroke-width="1.5"/>
<path d="M597 176.6L600 176.6" stroke="#000" stroke-width="1.5"/>
<path d="M597 192.7L600 192.7" stroke="#000" stroke-width="1.5"/>
<path d="M597 208.8L600 208.8" stroke="#000" stroke-width="1.5"/>
<path d="M597 224.9L600 224.9" stroke="#000" stroke-width="1.5"/>
<path d="M597 241L600 241" stroke="#000" stroke-width="1.5"/>
<path d="M614 241L614 244.5" stroke="#000" stroke-width="1.5"/>
<path d="M640 241L640 244.5" stroke="#000" stroke-width="1.5"/>
<path d="M666 241L666 244.5" stroke="#000" stroke-width="1.5"/>
<path d="M692 241L692 244.5" stroke="#000" stroke-width="1.5"/>
<text x="589.8" y="120.8" text-anchor="end">20</text>
<text x="589.8" y="183.8" text-anchor="end">0</text>
<text x="589.8" y="247.4" text-anchor="end">−20</text>
<path d="M601.6 292L601.6 418" stroke="#000" stroke-width="2"/>
<path d="M600.6 418L704 418" stroke="#000" stroke-width="2"/>
<path d="M598 293L601 293" stroke="#000" stroke-width="1.5"/>
<path d="M598 308.6L601 308.6" stroke="#000" stroke-width="1.5"/>
<path d="M598 324.2L601 324.2" stroke="#000" stroke-width="1.5"/>
<path d="M598 339.8L601 339.8" stroke="#000" stroke-width="1.5"/>
<path d="M598 355.4L601 355.4" stroke="#000" stroke-width="1.5"/>
<path d="M598 371L601 371" stroke="#000" stroke-width="1.5"/>
<path d="M598 386.6L601 386.6" stroke="#000" stroke-width="1.5"/>
<path d="M598 402.2L601 402.2" stroke="#000" stroke-width="1.5"/>
<path d="M598 417.8L601 417.8" stroke="#000" stroke-width="1.5"/>
<path d="M614.8 418L614.8 421.5" stroke="#000" stroke-width="1.5"/>
<path d="M639.7 418L639.7 421.5" stroke="#000" stroke-width="1.5"/>
<path d="M664.8 418L664.8 421.5" stroke="#000" stroke-width="1.5"/>
<path d="M689.8 418L689.8 421.5" stroke="#000" stroke-width="1.5"/>
<text x="589.8" y="301" text-anchor="end">20</text>
<text x="589.8" y="362.1" text-anchor="end">0</text>
<text x="589.8" y="425.1" text-anchor="end">−20</text>
<text x="591.4" y="441">−10</text>
<text x="638.6" y="441">0</text>
<text x="656.2" y="441">10</text>
<text x="684.5" y="441">20</text>
<text x="603.5" y="465.3">Horizontal°</text>
<ellipse cx="682.8" cy="118" rx="7.1" ry="7.1" stroke="#dcbf00" stroke-width="2.2" fill="none"/>
<ellipse cx="682.8" cy="141.7" rx="7.1" ry="7.1" stroke="#1f2a66" stroke-width="1.6" fill="none"/>
<text x="696" y="125.1">V4</text>
<text x="696" y="149.5">PFC</text>
<ellipse cx="649" cy="157.2" rx="19.3" ry="19.3" stroke="#1f2a66" stroke-width="1.4" fill="none"/>
<ellipse cx="654.1" cy="156.5" rx="14.8" ry="18.6" stroke="#1f2a66" stroke-width="1.4" fill="none"/>
<ellipse cx="664.4" cy="179.7" rx="18" ry="18" stroke="#1f2a66" stroke-width="1.4" fill="none"/>
<ellipse cx="643.8" cy="182.2" rx="16.7" ry="15.4" stroke="#1f2a66" stroke-width="1.4" fill="none"/>
<ellipse cx="640" cy="206.6" rx="16" ry="21.2" stroke="#1f2a66" stroke-width="1.4" fill="none"/>
<ellipse cx="654.1" cy="202.8" rx="21.8" ry="23.1" stroke="#1f2a66" stroke-width="1.4" fill="none"/>
<ellipse cx="654" cy="205" rx="9" ry="18" stroke="#1f2a66" stroke-width="1.4" fill="none"/>
<ellipse cx="660" cy="203" rx="7" ry="16" stroke="#1f2a66" stroke-width="1.4" fill="none"/>
<ellipse cx="648" cy="207" rx="10" ry="17" stroke="#1f2a66" stroke-width="1.4" fill="none"/>
<ellipse cx="657" cy="200" rx="12" ry="20" stroke="#1f2a66" stroke-width="1.4" fill="none"/>
<ellipse cx="662" cy="206" rx="14" ry="19" stroke="#1f2a66" stroke-width="1.4" fill="none"/>
<ellipse cx="652" cy="198" rx="8" ry="14" stroke="#1f2a66" stroke-width="1.4" fill="none"/>
<ellipse cx="652" cy="190" rx="26" ry="24" stroke="#1f2a66" stroke-width="1.4" fill="none"/>
<ellipse cx="660" cy="185" rx="20" ry="22" stroke="#1f2a66" stroke-width="1.4" fill="none"/>
<ellipse cx="646" cy="196" rx="18" ry="22" stroke="#1f2a66" stroke-width="1.4" fill="none"/>
<ellipse cx="655.4" cy="163" rx="16" ry="18" stroke="#dcbf00" stroke-width="2.5" fill="none"/>
<ellipse cx="652.2" cy="160.4" rx="11" ry="11.6" stroke="#dcbf00" stroke-width="2.5" fill="none"/>
<ellipse cx="637.4" cy="204.7" rx="13.5" ry="18" stroke="#dcbf00" stroke-width="2.5" fill="none"/>
<ellipse cx="656.7" cy="204.1" rx="24.4" ry="24.4" stroke="#dcbf00" stroke-width="2.5" fill="none"/>
<ellipse cx="659.2" cy="210.5" rx="16.7" ry="20.6" stroke="#dcbf00" stroke-width="2.5" fill="none"/>
<ellipse cx="655.4" cy="199" rx="14" ry="21.8" stroke="#dcbf00" stroke-width="2.5" fill="none"/>
<ellipse cx="667" cy="202.8" rx="15.4" ry="21.8" stroke="#dcbf00" stroke-width="2.5" fill="none"/>
<ellipse cx="649" cy="206.6" rx="12.8" ry="19.3" stroke="#dcbf00" stroke-width="2.5" fill="none"/>
<ellipse cx="645" cy="203" rx="16" ry="20" stroke="#dcbf00" stroke-width="2.5" fill="none"/>
<ellipse cx="662" cy="208" rx="18" ry="22" stroke="#dcbf00" stroke-width="2.5" fill="none"/>
<ellipse cx="651" cy="212" rx="14" ry="17" stroke="#dcbf00" stroke-width="2.5" fill="none"/>
<ellipse cx="658" cy="196" rx="20" ry="20" stroke="#dcbf00" stroke-width="2.5" fill="none"/>
<rect x="630" y="145" width="9.3" height="9" fill="#e0001b"/>
<ellipse cx="655.8" cy="329.6" rx="19.6" ry="25.5" stroke="#1f2a66" stroke-width="1.25" fill="none"/>
<ellipse cx="635.9" cy="350.9" rx="21.3" ry="27.7" stroke="#1f2a66" stroke-width="1.25" fill="none"/>
<ellipse cx="632.8" cy="332.9" rx="17.3" ry="28.3" stroke="#1f2a66" stroke-width="1.25" fill="none"/>
<ellipse cx="637.4" cy="340.8" rx="20.4" ry="32.3" stroke="#1f2a66" stroke-width="1.25" fill="none"/>
<ellipse cx="652.8" cy="347.1" rx="22" ry="33.5" stroke="#1f2a66" stroke-width="1.25" fill="none"/>
<ellipse cx="659.6" cy="339.8" rx="24.8" ry="24.5" stroke="#1f2a66" stroke-width="1.25" fill="none"/>
<ellipse cx="642.9" cy="366.2" rx="18.2" ry="25.2" stroke="#1f2a66" stroke-width="1.25" fill="none"/>
<ellipse cx="655.7" cy="345.4" rx="18.4" ry="29.8" stroke="#1f2a66" stroke-width="1.25" fill="none"/>
<ellipse cx="636" cy="335.7" rx="21.4" ry="24.6" stroke="#1f2a66" stroke-width="1.25" fill="none"/>
<ellipse cx="644.7" cy="354.3" rx="22.4" ry="28.3" stroke="#1f2a66" stroke-width="1.25" fill="none"/>
<ellipse cx="660.4" cy="359.7" rx="20.6" ry="27" stroke="#1f2a66" stroke-width="1.25" fill="none"/>
<ellipse cx="651.3" cy="365.7" rx="19" ry="29.7" stroke="#1f2a66" stroke-width="1.25" fill="none"/>
<ellipse cx="664.6" cy="332.9" rx="22.8" ry="26.9" stroke="#1f2a66" stroke-width="1.25" fill="none"/>
<ellipse cx="638.3" cy="350.1" rx="20.3" ry="31.6" stroke="#1f2a66" stroke-width="1.25" fill="none"/>
<ellipse cx="661.1" cy="353.4" rx="17.3" ry="30.7" stroke="#1f2a66" stroke-width="1.25" fill="none"/>
<ellipse cx="655.7" cy="354.9" rx="24" ry="27.1" stroke="#1f2a66" stroke-width="1.25" fill="none"/>
<ellipse cx="661.2" cy="369.6" rx="21.6" ry="28.6" stroke="#1f2a66" stroke-width="1.25" fill="none"/>
<ellipse cx="635.5" cy="358.3" rx="20.8" ry="30.6" stroke="#1f2a66" stroke-width="1.25" fill="none"/>
<ellipse cx="660.3" cy="343.6" rx="22.2" ry="33.9" stroke="#1f2a66" stroke-width="1.25" fill="none"/>
<ellipse cx="633.6" cy="349.1" rx="20.1" ry="30.7" stroke="#1f2a66" stroke-width="1.25" fill="none"/>
<ellipse cx="633.3" cy="363.8" rx="18.3" ry="25.2" stroke="#1f2a66" stroke-width="1.25" fill="none"/>
<ellipse cx="646.1" cy="368" rx="18" ry="26.5" stroke="#1f2a66" stroke-width="1.25" fill="none"/>
<ellipse cx="652.3" cy="367" rx="17.6" ry="28.5" stroke="#1f2a66" stroke-width="1.25" fill="none"/>
<ellipse cx="644.1" cy="347.6" rx="23.6" ry="32.6" stroke="#1f2a66" stroke-width="1.25" fill="none"/>
<ellipse cx="666.6" cy="338.6" rx="19.9" ry="32.8" stroke="#1f2a66" stroke-width="1.25" fill="none"/>
<ellipse cx="640.1" cy="349.8" rx="18.4" ry="26.3" stroke="#1f2a66" stroke-width="1.25" fill="none"/>
<ellipse cx="634.5" cy="346.8" rx="21.7" ry="26.6" stroke="#1f2a66" stroke-width="1.25" fill="none"/>
<ellipse cx="666.4" cy="358.3" rx="20" ry="29.7" stroke="#1f2a66" stroke-width="1.25" fill="none"/>
<ellipse cx="656.2" cy="332.9" rx="21.1" ry="30.2" stroke="#1f2a66" stroke-width="1.25" fill="none"/>
<ellipse cx="660.4" cy="361.4" rx="24.2" ry="31.8" stroke="#1f2a66" stroke-width="1.25" fill="none"/>
<ellipse cx="636.5" cy="356.4" rx="20.1" ry="28" stroke="#1f2a66" stroke-width="1.25" fill="none"/>
<ellipse cx="638.6" cy="333.5" rx="17.5" ry="24.7" stroke="#1f2a66" stroke-width="1.25" fill="none"/>
<ellipse cx="632.4" cy="332.8" rx="19.7" ry="24.5" stroke="#1f2a66" stroke-width="1.25" fill="none"/>
<ellipse cx="631.5" cy="367.3" rx="17.8" ry="27.6" stroke="#1f2a66" stroke-width="1.25" fill="none"/>
<ellipse cx="642.6" cy="343.1" rx="21.9" ry="25.5" stroke="#1f2a66" stroke-width="1.25" fill="none"/>
<ellipse cx="662.7" cy="374.9" rx="19.9" ry="25.2" stroke="#1f2a66" stroke-width="1.25" fill="none"/>
<ellipse cx="636.3" cy="333.8" rx="20.7" ry="28.8" stroke="#1f2a66" stroke-width="1.25" fill="none"/>
<ellipse cx="662.1" cy="334.8" rx="19.7" ry="26.6" stroke="#1f2a66" stroke-width="1.25" fill="none"/>
<ellipse cx="651.5" cy="338.9" rx="17.2" ry="33.5" stroke="#1f2a66" stroke-width="1.25" fill="none"/>
<ellipse cx="651.3" cy="375.1" rx="21.3" ry="24.3" stroke="#1f2a66" stroke-width="1.25" fill="none"/>
<ellipse cx="643.8" cy="345.5" rx="23.9" ry="31" stroke="#1f2a66" stroke-width="1.25" fill="none"/>
<ellipse cx="651.6" cy="360.7" rx="18.3" ry="31.7" stroke="#1f2a66" stroke-width="1.25" fill="none"/>
<ellipse cx="661.6" cy="373.6" rx="19.6" ry="26.2" stroke="#1f2a66" stroke-width="1.25" fill="none"/>
<ellipse cx="659.2" cy="359.1" rx="23.8" ry="32.1" stroke="#1f2a66" stroke-width="1.25" fill="none"/>
<ellipse cx="644.9" cy="331" rx="18.8" ry="29.2" stroke="#1f2a66" stroke-width="1.25" fill="none"/>
<ellipse cx="640.5" cy="359.5" rx="17.2" ry="26.8" stroke="#1f2a66" stroke-width="1.25" fill="none"/>
<ellipse cx="661.7" cy="371.5" rx="24.7" ry="28.5" stroke="#1f2a66" stroke-width="1.25" fill="none"/>
<ellipse cx="643.1" cy="338.4" rx="24.6" ry="27.6" stroke="#1f2a66" stroke-width="1.25" fill="none"/>
<ellipse cx="655.1" cy="369.7" rx="18.6" ry="26" stroke="#1f2a66" stroke-width="1.25" fill="none"/>
<ellipse cx="654.6" cy="363.2" rx="23.7" ry="28.8" stroke="#1f2a66" stroke-width="1.25" fill="none"/>
<ellipse cx="666.7" cy="361.5" rx="17.7" ry="30.6" stroke="#1f2a66" stroke-width="1.25" fill="none"/>
<ellipse cx="640.9" cy="362.8" rx="23" ry="28.8" stroke="#1f2a66" stroke-width="1.25" fill="none"/>
<ellipse cx="667.3" cy="346.8" rx="19.7" ry="32" stroke="#1f2a66" stroke-width="1.25" fill="none"/>
<ellipse cx="658.2" cy="339.7" rx="20.2" ry="33.5" stroke="#1f2a66" stroke-width="1.25" fill="none"/>
<ellipse cx="666.2" cy="365.5" rx="18" ry="25.5" stroke="#1f2a66" stroke-width="1.25" fill="none"/>
<ellipse cx="669.1" cy="356.1" rx="18.2" ry="32.3" stroke="#1f2a66" stroke-width="1.25" fill="none"/>
<ellipse cx="637.2" cy="330.7" rx="19.8" ry="29.5" stroke="#1f2a66" stroke-width="1.25" fill="none"/>
<ellipse cx="651" cy="367.4" rx="24.8" ry="30.5" stroke="#1f2a66" stroke-width="1.25" fill="none"/>
<ellipse cx="661.6" cy="340.6" rx="20.5" ry="32.7" stroke="#1f2a66" stroke-width="1.25" fill="none"/>
<ellipse cx="640.7" cy="354.5" rx="19" ry="26.9" stroke="#1f2a66" stroke-width="1.25" fill="none"/>
<path d="M617 329a22 25.5 0 1 0 44 0a22 25.5 0 1 0 -44 0ZM636 333a6.5 8 0 1 1 13 0a6.5 8 0 1 1 -13 0Z" fill="#dcbf00" fill-rule="evenodd"/>
<ellipse cx="636" cy="328.7" rx="15.7" ry="23.6" stroke="#dcbf00" stroke-width="2" fill="none"/>
<ellipse cx="636.4" cy="328.8" rx="17.9" ry="23.5" stroke="#dcbf00" stroke-width="2" fill="none"/>
<ellipse cx="636.7" cy="330.7" rx="17.5" ry="21.7" stroke="#dcbf00" stroke-width="2" fill="none"/>
<ellipse cx="637.1" cy="327.1" rx="17.2" ry="19.9" stroke="#dcbf00" stroke-width="2" fill="none"/>
<ellipse cx="635" cy="330.2" rx="15.9" ry="21.4" stroke="#dcbf00" stroke-width="2" fill="none"/>
<ellipse cx="637.9" cy="329.2" rx="16.6" ry="21.6" stroke="#dcbf00" stroke-width="2" fill="none"/>
<rect x="631.4" y="323.3" width="8.9" height="8.5" fill="#e0001b"/>
<text x="755.8" y="82">Partner</text>
<text x="754.5" y="283.3">Reward system</text>
<defs><clipPath id="cp1"><rect x="755.1" y="93.1" width="213.4" height="154.6"/></clipPath><pattern id="grid1" width="6.5" height="5.5" patternUnits="userSpaceOnUse"><rect width="6.5" height="5.5" fill="#c4c2a6"/><rect x="1.6" y="1.6" width="3.2" height="2.4" fill="#5e5c62"/></pattern><pattern id="grid0" width="6.5" height="5.5" patternUnits="userSpaceOnUse"><rect width="6.5" height="5.5" fill="#8a8a84"/><rect x="1.6" y="1.6" width="3.2" height="2.4" fill="#4e4c50"/></pattern><pattern id="bars1" width="7.5" height="10" patternUnits="userSpaceOnUse"><rect width="7.5" height="10" fill="#ccccc2"/><rect x="0" width="3.5" height="10" fill="#3c3c38"/></pattern><pattern id="bars2" width="6" height="10" patternUnits="userSpaceOnUse"><rect width="6" height="10" fill="#c4c4b8"/><rect x="0" width="2" height="10" fill="#a0a096"/></pattern><pattern id="bars0" width="8" height="10" patternUnits="userSpaceOnUse"><rect width="8" height="10" fill="#96968f"/><rect x="0" width="3" height="10" fill="#74746e"/></pattern><linearGradient id="wall1" x1="0" x2="1"><stop offset="0" stop-color="#c6c8be"/><stop offset="0.5" stop-color="#c0c2bc"/><stop offset="1" stop-color="#cfd0ca"/></linearGradient><filter id="bl1" x="-0.2" y="-0.2" width="1.4" height="1.4"><feGaussianBlur stdDeviation="2.5"/></filter></defs>
<g clip-path="url(#cp1)">
<rect x="755.1" y="93.1" width="213.4" height="154.6" fill="#7c7c74"/>
<rect x="755" y="93" width="75" height="80" fill="url(#bars0)"/>
<rect x="850" y="93" width="70" height="80" fill="url(#bars2)"/>
<path d="M866 93L922 93L918 142L866 140Z" fill="url(#bars1)"/>
<path d="M912 93L969 93L969 248L905 248Z" fill="url(#wall1)"/>
<path d="M928 93L915 160L912 248" stroke="#a8aaa4" stroke-width="3" fill="none"/><path d="M935 150L955 152M945 120L950 175" stroke="#9a9ca8" stroke-width="1.2" fill="none"/>
<path d="M832 146L912 152L918 248L806 248Z" fill="url(#grid1)"/>
<path d="M826 150L912 156L912 160L826 154Z" fill="#d8d6c0" opacity="0.8"/><path d="M830 200L912 200L912 205L830 205Z" fill="#d0ceb8" opacity="0.7"/>
<path d="M755 224L812 226L808 248L755 248Z" fill="url(#grid0)"/>
<g filter="url(#bl1)" fill="#55524a"><path d="M755 160L770 140L790 124L808 112L822 100L836 95L852 100L860 115L858 135L848 146L850 170L846 190L838 210L830 224L812 230L755 230Z"/><ellipse cx="838" cy="118" rx="20" ry="23" fill="#5c584e"/><path d="M820 175L845 168L848 200L835 228L818 226Z" fill="#48463e"/></g>
<path d="M812 128C820 145 832 150 842 150" stroke="#8a5040" stroke-width="2" fill="none" opacity="0.8"/>
<path d="M860 96L915 108" stroke="#d2d2ca" stroke-width="2" fill="none"/>
<path d="M878.5 93L910 150" stroke="#4a64c8" stroke-width="3.6"/>
<path d="M860 97.6L868 93" stroke="#4a64c8" stroke-width="3"/>
<ellipse cx="794.3" cy="154.5" rx="20.2" ry="27" fill="#1f2a6a"/>
<ellipse cx="790.2" cy="142.8" rx="12.5" ry="14.4" fill="#e8c400"/>
<rect x="781.8" y="141.4" width="12.5" height="3.8" fill="#e03020"/>
<rect x="784.9" y="137.6" width="4.9" height="12" fill="#e03020"/>
<rect x="789" y="143" width="4.5" height="5" fill="#9a1a40"/>
<circle cx="792.1" cy="116.6" r="3.2" fill="#f0a030"/>
<circle cx="795.8" cy="123.3" r="3.2" fill="#d82020"/>
<circle cx="811.2" cy="124.2" r="3.2" fill="#4a70d0"/>
<circle cx="807.5" cy="126.9" r="3.2" fill="#4a70d0"/>
<circle cx="769.9" cy="134.1" r="3.2" fill="#f0922a"/>
<circle cx="773.8" cy="139.6" r="3.2" fill="#c82020"/>
<circle cx="816.7" cy="144.9" r="3.2" fill="#e0e040"/>
<circle cx="826" cy="100.7" r="3.2" fill="#c8e050"/>
<circle cx="843" cy="94.7" r="3.2" fill="#40c0f0"/>
<circle cx="849.8" cy="110.6" r="3.2" fill="#40b0f0"/>
<circle cx="854.1" cy="109" r="3.2" fill="#5090e0"/>
<circle cx="851.7" cy="121" r="3.2" fill="#60d0a0"/>
<circle cx="859.3" cy="119.8" r="3.2" fill="#80d090"/>
<circle cx="854.1" cy="131.7" r="3.2" fill="#80d080"/>
<circle cx="840.6" cy="142.3" r="3.2" fill="#d8e040"/>
<circle cx="763.5" cy="191.3" r="3.2" fill="#e88020"/>
<circle cx="795.3" cy="188.1" r="3.2" fill="#e04020"/>
<circle cx="835" cy="187.8" r="3.2" fill="#d02020"/>
<circle cx="908.1" cy="225.5" r="3.2" fill="#4050a0"/>
<rect x="807.2" y="229.4" width="108" height="7.2" fill="#1a1a18"/>
<text x="808.2" y="235.7" font-size="7.5" font-family="Liberation Mono" fill="#c8c0f0" textLength="47">D055 H077 V179</text>
<text x="876.2" y="235.7" font-size="7.5" font-family="Liberation Mono" fill="#e0d090" textLength="38">23104626</text>
</g>
<defs><clipPath id="cp2"><rect x="755.1" y="294" width="213.4" height="155.7"/></clipPath><pattern id="cage2" width="5" height="10" patternUnits="userSpaceOnUse"><rect width="5" height="10" fill="#dcdcda"/><rect width="1.2" height="10" fill="#8a8a88"/></pattern><linearGradient id="dk2" x1="0" x2="0" y1="0" y2="1"><stop offset="0" stop-color="#262624"/><stop offset="1" stop-color="#34342f"/></linearGradient></defs>
<g clip-path="url(#cp2)">
<rect x="755.1" y="294" width="213.4" height="155.7" fill="url(#dk2)"/>
<rect x="889" y="294" width="44" height="72" fill="url(#cage2)"/>
<rect x="889" y="330" width="44" height="2" fill="#a0a0a0"/>
<rect x="933" y="294" width="36" height="92" fill="#b8b8bc"/>
<path d="M933 300L968 300M940 310L968 320M945 330L960 380" stroke="#8080a0" stroke-width="1" fill="none"/>
<path d="M860 388L889 366L933 366L933 386L968 386L968 450L860 450Z" fill="#7c7c7a"/>
<path d="M770 395L860 380L900 388L900 398Z" fill="#4a4a48"/>
<path d="M930 395C945 390 950 375 960 375" stroke="#181818" stroke-width="3" fill="none"/>
<path d="M796 294L796 392" stroke="#8c8c84" stroke-width="2.2"/>
<path d="M803 294L806 392" stroke="#7a7a72" stroke-width="2"/>
<rect x="761" y="360" width="16" height="32" fill="#5c5c5a"/>
<path d="M755 393.3Q840 385 926.4 387.7L932 395L926.4 404.4Q840 401 755 406.8Z" fill="#e2e2de"/>
<path d="M755 406.8L810 405L803 450L755 450Z" fill="#505050"/>
<path d="M810 405Q870 402 926 404L945 450L803 450Z" fill="#b2b2ae"/>
<path d="M812 424L930 422L945 450L806 450Z" fill="#6c6c6a"/>
<path d="M803 404L812 404L795 450L782 450Z" fill="#d4d4d0"/>
<path d="M922 404L930 400L968 440L968 450L948 450Z" fill="#d8d8d4"/>
<ellipse cx="789" cy="400" rx="8" ry="5.5" transform="rotate(-30 789 400)" fill="#3a3a38"/>
<circle cx="797" cy="386" r="3.5" fill="#b0b0a8"/>
<ellipse cx="873.2" cy="369.5" rx="16.7" ry="22" fill="#1f2a6a"/>
<ellipse cx="869.5" cy="359.5" rx="11.5" ry="11" fill="#e8c400"/>
<rect x="862" y="357.8" width="10" height="3.2" fill="#e03020"/>
<rect x="865.4" y="353.6" width="3.2" height="11" fill="#e03020"/>
<rect x="868" y="360" width="3.5" height="4" fill="#1f2a6a"/>
<circle cx="881.1" cy="400.8" r="3" fill="#3038a0"/>
<rect x="808" y="429.8" width="108" height="7.2" fill="#1a1a18"/>
<text x="809" y="436.1" font-size="7.5" font-family="Liberation Mono" fill="#c8c0f0" textLength="47">D057 H268 V233</text>
<text x="877" y="436.1" font-size="7.5" font-family="Liberation Mono" fill="#e0d090" textLength="38">63325208</text>
</g>
<text transform="translate(983.1,27.7) scale(1.1,1)" font-size="33" font-weight="bold" stroke="#000" stroke-width="1.3">c</text>
<text x="1063.1" y="50.8">Monkey pair 1</text>
<text x="1244.2" y="50.8">Monkey pair 2</text>
<text transform="translate(1034,152.8) rotate(-90)" text-anchor="middle">Session count</text>
<rect x="1080" y="98.6" width="24.6" height="107.2" fill="#82cb87"/>
<rect x="1104.7" y="167.5" width="24.6" height="7.7" fill="#a59fcc"/>
<rect x="1104.7" y="175.2" width="24.6" height="30.6" fill="#748a9a"/>
<rect x="1129.3" y="129.2" width="24.6" height="76.6" fill="#a59fcc"/>
<rect x="1154" y="190.5" width="24.6" height="15.3" fill="#a59fcc"/>
<rect x="1178.6" y="198.1" width="24.6" height="7.7" fill="#a59fcc"/>
<path d="M1073.3 89.8L1073.3 207.3" stroke="#000" stroke-width="2"/>
<path d="M1072.3 206.3L1209.4 206.3" stroke="#000" stroke-width="2"/>
<path d="M1069 205.8L1073 205.8" stroke="#000" stroke-width="1.5"/>
<text x="1066" y="213.2" text-anchor="end">0</text>
<path d="M1069 167.5L1073 167.5" stroke="#000" stroke-width="1.5"/>
<text x="1066" y="174.9" text-anchor="end">5</text>
<path d="M1069 129.2L1073 129.2" stroke="#000" stroke-width="1.5"/>
<text x="1066" y="136.6" text-anchor="end">10</text>
<path d="M1069 90.9L1073 90.9" stroke="#000" stroke-width="1.5"/>
<text x="1066" y="98.3" text-anchor="end">15</text>
<path d="M1080 206L1080 210" stroke="#000" stroke-width="1.5"/>
<text x="1080" y="229.4" text-anchor="middle">0</text>
<path d="M1129.3 206L1129.3 210" stroke="#000" stroke-width="1.5"/>
<text x="1129.3" y="229.4" text-anchor="middle">10</text>
<path d="M1178.6 206L1178.6 210" stroke="#000" stroke-width="1.5"/>
<text x="1178.6" y="229.4" text-anchor="middle">20</text>
<rect x="1252.8" y="91.2" width="21.4" height="38.2" fill="#82cb87"/>
<rect x="1252.8" y="129.4" width="21.4" height="76.4" fill="#748a9a"/>
<rect x="1274.2" y="110.3" width="21.4" height="57.3" fill="#82cb87"/>
<rect x="1274.2" y="167.6" width="21.4" height="38.2" fill="#748a9a"/>
<rect x="1295.7" y="167.6" width="21.4" height="19.1" fill="#82cb87"/>
<rect x="1295.7" y="186.7" width="21.4" height="19.1" fill="#748a9a"/>
<rect x="1317.1" y="110.3" width="21.4" height="57.3" fill="#a59fcc"/>
<rect x="1317.1" y="167.6" width="21.4" height="38.2" fill="#748a9a"/>
<rect x="1338.6" y="148.5" width="21.4" height="38.2" fill="#a59fcc"/>
<rect x="1338.6" y="186.7" width="21.4" height="19.1" fill="#748a9a"/>
<rect x="1360" y="186.7" width="21.4" height="19.1" fill="#a59fcc"/>
<path d="M1252.5 89.8L1252.5 207.3" stroke="#000" stroke-width="2"/>
<path d="M1251.5 206.3L1388 206.3" stroke="#000" stroke-width="2"/>
<path d="M1248 205.8L1252 205.8" stroke="#000" stroke-width="1.5"/>
<text x="1246" y="213.2" text-anchor="end">0</text>
<path d="M1248 167.6L1252 167.6" stroke="#000" stroke-width="1.5"/>
<text x="1246" y="175" text-anchor="end">2</text>
<path d="M1248 129.4L1252 129.4" stroke="#000" stroke-width="1.5"/>
<text x="1246" y="136.8" text-anchor="end">4</text>
<path d="M1248 91.2L1252 91.2" stroke="#000" stroke-width="1.5"/>
<text x="1246" y="98.6" text-anchor="end">6</text>
<path d="M1253.1 206L1253.1 210" stroke="#000" stroke-width="1.5"/>
<text x="1253.1" y="229.4" text-anchor="middle">0</text>
<path d="M1295.9 206L1295.9 210" stroke="#000" stroke-width="1.5"/>
<text x="1295.9" y="229.4" text-anchor="middle">10</text>
<path d="M1338.7 206L1338.7 210" stroke="#000" stroke-width="1.5"/>
<text x="1338.7" y="229.4" text-anchor="middle">20</text>
<path d="M1381.4 206L1381.4 210" stroke="#000" stroke-width="1.5"/>
<text x="1381.4" y="229.4" text-anchor="middle">30</text>
<path d="M1096.4 93.9V86.2H1150V93.9M1280.4 93.3V85.9H1333.2V93.3" stroke="#2a2a2a" stroke-width="1.6" fill="none"/>
<text x="1104.1" y="91" font-size="30.5">***</text>
<text x="1287.3" y="91" font-size="30.5">***</text>
<text x="1051.4" y="250" font-size="20.95">Pushes with fixations on partner (%)</text>
<circle cx="1090.2" cy="457.5" r="3.7" fill="#6d66b4" fill-opacity="0.9"/>
<circle cx="1097.8" cy="437.7" r="3.7" fill="#6d66b4" fill-opacity="0.9"/>
<circle cx="1105.5" cy="444.3" r="3.7" fill="#6d66b4" fill-opacity="0.9"/>
<circle cx="1113.1" cy="434.4" r="3.7" fill="#6d66b4" fill-opacity="0.9"/>
<circle cx="1120.8" cy="437.7" r="3.7" fill="#6d66b4" fill-opacity="0.9"/>
<circle cx="1128.4" cy="447.6" r="3.7" fill="#6d66b4" fill-opacity="0.9"/>
<circle cx="1136" cy="424.6" r="3.7" fill="#6d66b4" fill-opacity="0.9"/>
<circle cx="1143.7" cy="447.6" r="3.7" fill="#6d66b4" fill-opacity="0.9"/>
<circle cx="1151.3" cy="444.3" r="3.7" fill="#6d66b4" fill-opacity="0.9"/>
<circle cx="1159" cy="454.2" r="3.7" fill="#6d66b4" fill-opacity="0.9"/>
<circle cx="1166.6" cy="450.9" r="3.7" fill="#6d66b4" fill-opacity="0.9"/>
<circle cx="1174.2" cy="450.9" r="3.7" fill="#6d66b4" fill-opacity="0.9"/>
<circle cx="1181.9" cy="444.3" r="3.7" fill="#6d66b4" fill-opacity="0.9"/>
<circle cx="1189.5" cy="447.6" r="3.7" fill="#6d66b4" fill-opacity="0.9"/>
<circle cx="1197.2" cy="401.5" r="3.7" fill="#6d66b4" fill-opacity="0.9"/>
<circle cx="1204.8" cy="421.3" r="3.7" fill="#6d66b4" fill-opacity="0.9"/>
<circle cx="1212.4" cy="394.9" r="3.7" fill="#6d66b4" fill-opacity="0.9"/>
<circle cx="1220.1" cy="408.1" r="3.7" fill="#6d66b4" fill-opacity="0.9"/>
<circle cx="1090.2" cy="437.7" r="3.7" fill="#1a9a3a" fill-opacity="0.9"/>
<circle cx="1105.5" cy="418" r="3.7" fill="#1a9a3a" fill-opacity="0.9"/>
<circle cx="1113.1" cy="421.3" r="3.7" fill="#1a9a3a" fill-opacity="0.9"/>
<circle cx="1120.8" cy="414.7" r="3.7" fill="#1a9a3a" fill-opacity="0.9"/>
<circle cx="1128.4" cy="394.9" r="3.7" fill="#1a9a3a" fill-opacity="0.9"/>
<circle cx="1136" cy="421.3" r="3.7" fill="#1a9a3a" fill-opacity="0.9"/>
<circle cx="1143.7" cy="348.8" r="3.7" fill="#1a9a3a" fill-opacity="0.9"/>
<circle cx="1151.3" cy="355.4" r="3.7" fill="#1a9a3a" fill-opacity="0.9"/>
<circle cx="1159" cy="391.6" r="3.7" fill="#1a9a3a" fill-opacity="0.9"/>
<circle cx="1166.6" cy="325.7" r="3.7" fill="#1a9a3a" fill-opacity="0.9"/>
<circle cx="1174.2" cy="332.3" r="3.7" fill="#1a9a3a" fill-opacity="0.9"/>
<circle cx="1181.9" cy="348.8" r="3.7" fill="#1a9a3a" fill-opacity="0.9"/>
<circle cx="1189.5" cy="355.4" r="3.7" fill="#1a9a3a" fill-opacity="0.9"/>
<circle cx="1204.8" cy="345.5" r="3.7" fill="#1a9a3a" fill-opacity="0.9"/>
<circle cx="1212.4" cy="378.4" r="3.7" fill="#1a9a3a" fill-opacity="0.9"/>
<circle cx="1220.1" cy="325.7" r="3.7" fill="#1a9a3a" fill-opacity="0.9"/>
<circle cx="1257.1" cy="450.9" r="3.7" fill="#6d66b4" fill-opacity="0.9"/>
<circle cx="1265.7" cy="368.5" r="3.7" fill="#6d66b4" fill-opacity="0.9"/>
<circle cx="1274.3" cy="444.3" r="3.7" fill="#6d66b4" fill-opacity="0.9"/>
<circle cx="1283" cy="447.6" r="3.7" fill="#6d66b4" fill-opacity="0.9"/>
<circle cx="1291.6" cy="371.8" r="3.7" fill="#6d66b4" fill-opacity="0.9"/>
<circle cx="1300.2" cy="401.5" r="3.7" fill="#6d66b4" fill-opacity="0.9"/>
<circle cx="1308.8" cy="431.2" r="3.7" fill="#6d66b4" fill-opacity="0.9"/>
<circle cx="1317.4" cy="454.2" r="3.7" fill="#6d66b4" fill-opacity="0.9"/>
<circle cx="1326.1" cy="368.5" r="3.7" fill="#6d66b4" fill-opacity="0.9"/>
<circle cx="1334.7" cy="381.7" r="3.7" fill="#6d66b4" fill-opacity="0.9"/>
<circle cx="1343.3" cy="388.3" r="3.7" fill="#6d66b4" fill-opacity="0.9"/>
<circle cx="1351.9" cy="418" r="3.7" fill="#6d66b4" fill-opacity="0.9"/>
<circle cx="1360.5" cy="378.4" r="3.7" fill="#6d66b4" fill-opacity="0.9"/>
<circle cx="1369.2" cy="358.7" r="3.7" fill="#6d66b4" fill-opacity="0.9"/>
<circle cx="1377.8" cy="368.5" r="3.7" fill="#6d66b4" fill-opacity="0.9"/>
<circle cx="1386.4" cy="439.4" r="3.7" fill="#6d66b4" fill-opacity="0.9"/>
<circle cx="1265.7" cy="464.1" r="3.7" fill="#1a9a3a" fill-opacity="0.9"/>
<circle cx="1274.3" cy="467.4" r="3.7" fill="#1a9a3a" fill-opacity="0.9"/>
<circle cx="1283" cy="450.9" r="3.7" fill="#1a9a3a" fill-opacity="0.9"/>
<circle cx="1291.6" cy="404.8" r="3.7" fill="#1a9a3a" fill-opacity="0.9"/>
<circle cx="1300.2" cy="352.1" r="3.7" fill="#1a9a3a" fill-opacity="0.9"/>
<circle cx="1308.8" cy="371.8" r="3.7" fill="#1a9a3a" fill-opacity="0.9"/>
<circle cx="1317.4" cy="422.9" r="3.7" fill="#1a9a3a" fill-opacity="0.9"/>
<circle cx="1326.1" cy="371.8" r="3.7" fill="#1a9a3a" fill-opacity="0.9"/>
<circle cx="1334.7" cy="391.6" r="3.7" fill="#1a9a3a" fill-opacity="0.9"/>
<circle cx="1343.3" cy="414.7" r="3.7" fill="#1a9a3a" fill-opacity="0.9"/>
<circle cx="1351.9" cy="378.4" r="3.7" fill="#1a9a3a" fill-opacity="0.9"/>
<circle cx="1360.5" cy="352.1" r="3.7" fill="#1a9a3a" fill-opacity="0.9"/>
<circle cx="1369.2" cy="378.4" r="3.7" fill="#1a9a3a" fill-opacity="0.9"/>
<circle cx="1386.4" cy="381.7" r="3.7" fill="#1a9a3a" fill-opacity="0.9"/>
<path d="M1090.2 425.8L1220.1 335.6" stroke="#1a9a3a" stroke-width="4.5"/>
<path d="M1090.2 452.9L1220.1 419.5" stroke="#6d66b4" stroke-width="4.5"/>
<path d="M1257.1 446L1386.5 357.2" stroke="#1a9a3a" stroke-width="4.5"/>
<path d="M1257.1 422.8L1386.5 385.5" stroke="#6d66b4" stroke-width="4.5"/>
<path d="M1082.7 317L1082.7 469" stroke="#000" stroke-width="2"/>
<path d="M1081.7 468L1221.6 468" stroke="#000" stroke-width="2"/>
<path d="M1078.7 467.4L1082.7 467.4" stroke="#000" stroke-width="1.5"/>
<path d="M1078.7 434.4L1082.7 434.4" stroke="#000" stroke-width="1.5"/>
<path d="M1078.7 401.5L1082.7 401.5" stroke="#000" stroke-width="1.5"/>
<path d="M1078.7 368.5L1082.7 368.5" stroke="#000" stroke-width="1.5"/>
<path d="M1078.7 335.6L1082.7 335.6" stroke="#000" stroke-width="1.5"/>
<path d="M1248.1 317L1248.1 469" stroke="#000" stroke-width="2"/>
<path d="M1247.1 468L1387.1 468" stroke="#000" stroke-width="2"/>
<path d="M1244.1 467.4L1248.1 467.4" stroke="#000" stroke-width="1.5"/>
<path d="M1244.1 434.4L1248.1 434.4" stroke="#000" stroke-width="1.5"/>
<path d="M1244.1 401.5L1248.1 401.5" stroke="#000" stroke-width="1.5"/>
<path d="M1244.1 368.5L1248.1 368.5" stroke="#000" stroke-width="1.5"/>
<path d="M1244.1 335.6L1248.1 335.6" stroke="#000" stroke-width="1.5"/>
<text x="1076" y="474.8" text-anchor="end">0</text>
<text x="1076" y="441.8" text-anchor="end">10</text>
<text x="1076" y="408.9" text-anchor="end">20</text>
<text x="1076" y="375.9" text-anchor="end">30</text>
<text x="1076" y="343" text-anchor="end">40</text>
<path d="M1084 468L1084 472" stroke="#000" stroke-width="1.5"/>
<text x="1084" y="488.7" text-anchor="middle">1</text>
<path d="M1249.5 468L1249.5 472" stroke="#000" stroke-width="1.5"/>
<text x="1249.5" y="488.7" text-anchor="middle">1</text>
<path d="M1120.8 468L1120.8 472" stroke="#000" stroke-width="1.5"/>
<text x="1120.8" y="488.7" text-anchor="middle">5</text>
<path d="M1291.6 468L1291.6 472" stroke="#000" stroke-width="1.5"/>
<text x="1291.6" y="488.7" text-anchor="middle">5</text>
<path d="M1159 468L1159 472" stroke="#000" stroke-width="1.5"/>
<text x="1159" y="488.7" text-anchor="middle">10</text>
<path d="M1334.7 468L1334.7 472" stroke="#000" stroke-width="1.5"/>
<text x="1334.7" y="488.7" text-anchor="middle">10</text>
<path d="M1197.2 468L1197.2 472" stroke="#000" stroke-width="1.5"/>
<text x="1197.2" y="488.7" text-anchor="middle">15</text>
<path d="M1377.8 468L1377.8 472" stroke="#000" stroke-width="1.5"/>
<text x="1377.8" y="488.7" text-anchor="middle">15</text>
<text x="1191.4" y="328.5" fill="#1a9a3a" font-size="30">***</text>
<text x="1222.5" y="408.7" fill="#6d66b4" font-size="25">*</text>
<text x="1376" y="358.9" fill="#1a9a3a" font-size="28.8">**</text>
<circle cx="1265.3" cy="289" r="3.7" fill="#1a9a3a"/><circle cx="1265.3" cy="307.6" r="3.7" fill="#6d66b4"/>
<text x="1280.3" y="295.6" font-size="20.9">Self choice</text>
<text x="1280.3" y="314.5" font-size="20.9">Partner choice</text>
<text transform="translate(1015.5,386.5) rotate(-90)" text-anchor="middle">Pushes with fixations</text>
<text transform="translate(1041.5,386.5) rotate(-90)" text-anchor="middle">on social cues (%)</text>
<text x="1151.6" y="510.7" font-size="20.8">Session number</text>
<text transform="translate(-0.8,581.7) scale(1.1,1)" font-size="33" font-weight="bold" stroke="#000" stroke-width="1.3">d</text>
<text x="148.8" y="611.5">View reward</text>
<text x="347.3" y="611.3">View partner</text>
<text x="554.9" y="611.3">Self push</text>
<text x="730.4" y="612.1">Partner push</text>
<text transform="translate(33.5,689) rotate(-90)" text-anchor="middle">V4</text>
<text transform="translate(66.5,678.5) rotate(-90)" text-anchor="middle">Firing rate</text>
<text transform="translate(92.5,676.5) rotate(-90)" text-anchor="middle">(spikes per s)</text>
<text transform="translate(92.5,773.3) rotate(-90)" text-anchor="middle">Trial</text>
<text transform="translate(36.5,900.3) rotate(-90)" text-anchor="middle">dlPFC</text>
<text transform="translate(66.5,888) rotate(-90)" text-anchor="middle">Firing rate</text>
<text transform="translate(92.5,885.6) rotate(-90)" text-anchor="middle">(spikes per s)</text>
<text transform="translate(92.5,983.5) rotate(-90)" text-anchor="middle">Trial</text>
<text x="251" y="1068.4" font-size="20.85">Time relative to social cues and action events (s)</text>
<rect x="217.2" y="627" width="51.8" height="92.4" fill="#dcdcdc"/>
<clipPath id="cl1"><rect x="147" y="620" width="153" height="99"/></clipPath><g clip-path="url(#cl1)">
<path d="M146.8 675.9C148.1 676.2 151.7 675.6 154.7 677.6C157.7 679.6 161.7 688.2 164.9 687.8C168.1 687.4 170.5 677.3 173.9 675.4C177.3 673.4 181.8 677.6 185.2 675.9C188.6 674.2 191.6 666 194.2 665.2C196.9 664.4 198.6 668 201 670.8C203.5 673.7 206.3 677.6 208.9 682.1C211.6 686.7 214.4 697.2 216.8 698C219.3 698.7 221.5 690.3 223.6 686.7C225.7 683 227.4 680.5 229.3 675.9C231.1 671.4 232.7 666.5 234.9 659.5C237.2 652.6 240.6 636.8 242.8 634.1C245.1 631.5 246.6 637.6 248.5 643.7C250.4 649.8 252.2 664.3 254.1 670.8C256 677.4 258.1 680.8 259.8 683.3C261.5 685.7 262.6 687.6 264.3 685.5C266 683.5 268.1 675 269.9 670.8C271.8 666.7 274 663 275.6 660.7C277.2 658.3 278.3 656.7 279.5 656.7C280.8 656.7 281.9 658.5 282.9 660.7C284 662.8 285.3 668.2 285.8 669.7L285.8 696.8C285.3 695.1 284 689.1 282.9 686.7C281.9 684.2 280.8 682.7 279.5 682.1C278.3 681.6 277.2 680.6 275.6 683.3C274 685.9 271.8 694.5 269.9 698C268.1 701.5 266 703.6 264.3 704.2C262.6 704.7 261.5 703.5 259.8 701.4C258.1 699.2 256 696.3 254.1 691.2C252.2 686.1 250.4 676.2 248.5 670.8C246.6 665.5 245.1 657.7 242.8 659C240.6 660.3 237.2 672.3 234.9 678.8C232.7 685.3 231.1 693.1 229.3 698C227.4 702.9 225.7 705.5 223.6 708.1C221.5 710.8 219.3 714.5 216.8 713.8C214.4 713 211.6 706.8 208.9 703.6C206.3 700.4 203.5 697 201 694.6C198.6 692.1 196.9 688.4 194.2 688.9C191.6 689.5 188.6 696.5 185.2 698C181.8 699.5 177.3 696.6 173.9 698C170.5 699.3 168.1 705.9 164.9 705.9C161.7 705.9 157.7 699.5 154.7 698C151.7 696.5 148.1 697 146.8 696.8Z" fill="#c52654" fill-opacity="0.55"/>
<path d="M146.8 675.9C148.1 676.2 151.7 675.6 154.7 677.6C157.7 679.6 161.7 688.2 164.9 687.8C168.1 687.4 170.5 677.3 173.9 675.4C177.3 673.4 181.8 677.6 185.2 675.9C188.6 674.2 191.6 666 194.2 665.2C196.9 664.4 198.6 668 201 670.8C203.5 673.7 206.3 677.6 208.9 682.1C211.6 686.7 214.4 697.2 216.8 698C219.3 698.7 221.5 690.3 223.6 686.7C225.7 683 227.4 680.5 229.3 675.9C231.1 671.4 232.7 666.5 234.9 659.5C237.2 652.6 240.6 636.8 242.8 634.1C245.1 631.5 246.6 637.6 248.5 643.7C250.4 649.8 252.2 664.3 254.1 670.8C256 677.4 258.1 680.8 259.8 683.3C261.5 685.7 262.6 687.6 264.3 685.5C266 683.5 268.1 675 269.9 670.8C271.8 666.7 274 663 275.6 660.7C277.2 658.3 278.3 656.7 279.5 656.7C280.8 656.7 281.9 658.5 282.9 660.7C284 662.8 285.3 668.2 285.8 669.7M285.8 696.8C285.3 695.1 284 689.1 282.9 686.7C281.9 684.2 280.8 682.7 279.5 682.1C278.3 681.6 277.2 680.6 275.6 683.3C274 685.9 271.8 694.5 269.9 698C268.1 701.5 266 703.6 264.3 704.2C262.6 704.7 261.5 703.5 259.8 701.4C258.1 699.2 256 696.3 254.1 691.2C252.2 686.1 250.4 676.2 248.5 670.8C246.6 665.5 245.1 657.7 242.8 659C240.6 660.3 237.2 672.3 234.9 678.8C232.7 685.3 231.1 693.1 229.3 698C227.4 702.9 225.7 705.5 223.6 708.1C221.5 710.8 219.3 714.5 216.8 713.8C214.4 713 211.6 706.8 208.9 703.6C206.3 700.4 203.5 697 201 694.6C198.6 692.1 196.9 688.4 194.2 688.9C191.6 689.5 188.6 696.5 185.2 698C181.8 699.5 177.3 696.6 173.9 698C170.5 699.3 168.1 705.9 164.9 705.9C161.7 705.9 157.7 699.5 154.7 698C151.7 696.5 148.1 697 146.8 696.8" stroke="#d25278" stroke-width="1.4" fill="none" stroke-opacity="0.9"/>
<path d="M146.8 686.7C148.1 686.8 151.7 686.1 154.7 687.6C157.7 689.1 161.7 695.9 164.9 695.7C168.1 695.6 170.5 688.1 173.9 686.7C177.3 685.3 181.8 688.8 185.2 687.2C188.6 685.6 191.6 677.7 194.2 677.1C196.9 676.4 198.6 680.5 201 683.3C203.5 686 206.3 689.8 208.9 693.4C211.6 697.1 214.4 704.7 216.8 705.3C219.3 705.9 221.5 699.9 223.6 696.8C225.7 693.7 227.4 691.6 229.3 686.7C231.1 681.8 232.7 674 234.9 667.5C237.2 660.9 240.6 648.6 242.8 647.1C245.1 645.6 246.6 653 248.5 658.4C250.4 663.9 252.2 674.4 254.1 679.9C256 685.3 258.1 688.8 259.8 691.2C261.5 693.5 262.6 695.1 264.3 694C266 692.9 268.1 688 269.9 684.4C271.8 680.8 274 675 275.6 672.5C277.2 670.1 278.3 669.6 279.5 669.7C280.8 669.8 281.9 671.4 282.9 673.1C284 674.8 285.3 678.8 285.8 679.9" stroke="#c20f48" stroke-width="2" fill="none"/>
</g>
<path d="M209.3 634V811" stroke="#222" stroke-width="1.5" stroke-dasharray="9 3.5"/>
<path d="M146.3 633.8L146.3 720.6" stroke="#000" stroke-width="2"/>
<path d="M145.3 719.6L294.7 719.6" stroke="#000" stroke-width="2"/>
<path d="M142.3 648L146.3 648" stroke="#000" stroke-width="1.6"/>
<text x="136.4" y="655.4" text-anchor="end">30</text>
<path d="M142.3 684L146.3 684" stroke="#000" stroke-width="1.6"/>
<text x="136.4" y="691.4" text-anchor="end">20</text>
<path d="M142.3 719.4L146.3 719.4" stroke="#000" stroke-width="1.6"/>
<text x="136.4" y="726.8" text-anchor="end">10</text>
<path d="M167.3 719.6L167.3 723.6" stroke="#000" stroke-width="1.6"/>
<path d="M209.3 719.6L209.3 723.6" stroke="#000" stroke-width="1.6"/>
<path d="M251 719.6L251 723.6" stroke="#000" stroke-width="1.6"/>
<path d="M293.7 719.6L293.7 723.6" stroke="#000" stroke-width="1.6"/>
<path d="M157 725.5h1m1 0h1m2 0h1m5 0h1m1 0h4m16 0h1m6 0h2m4 0h1m3 0h1m6 0h1m27 0h2m23 0h1m9 0h2m6 0h2m1 0h2M154 726.5h2m3 0h1m5 0h1m19 0h1m9 0h1m1 0h1m8 0h1m36 0h2m1 0h1m4 0h2m1 0h1m3 0h1m10 0h1m12 0h1M165 727.5h1m4 0h1m1 0h1m13 0h2m20 0h1m7 0h1m17 0h3m37 0h1m6 0h2m9 0h1M167 728.5h1m9 0h1m26 0h1m16 0h1m4 0h2m14 0h1m18 0h4m4 0h1m19 0h1M174 729.5h3m4 0h2m9 0h2m16 0h1m1 0h2m5 0h2m1 0h1m37 0h1m6 0h1m2 0h2m2 0h1M170 730.5h1m5 0h1m3 0h5m19 0h1m9 0h1m17 0h1m3 0h2m1 0h1m9 0h1m8 0h1m11 0h1m5 0h1M151 731.5h3m6 0h4m1 0h1m9 0h1m6 0h1m25 0h2m27 0h3m9 0h2m10 0h1m23 0h1M151 732.5h1m22 0h2m2 0h1m5 0h2m21 0h2m33 0h1m13 0h1m31 0h1M148 733.5h1m13 0h1m13 0h1m4 0h1m6 0h2m6 0h1m13 0h1m2 0h1m29 0h3m11 0h1m7 0h1m2 0h2m1 0h1m19 0h2M161 734.5h1m2 0h1m10 0h1m7 0h1m2 0h1m1 0h1m5 0h1m22 0h2m9 0h1m33 0h3m8 0h2M151 735.5h1m10 0h1m2 0h1m5 0h1m23 0h1m8 0h2m2 0h2m8 0h1m11 0h4m4 0h2m1 0h1m15 0h1m12 0h1m11 0h1M183 736.5h1m25 0h1m10 0h1m13 0h1m9 0h1m8 0h1M153 737.5h1m20 0h1m7 0h1m15 0h1m10 0h2m9 0h1m3 0h1m10 0h1m5 0h2m14 0h2m5 0h2m4 0h1m1 0h3M148 738.5h1m1 0h1m11 0h1m2 0h1m12 0h4m6 0h1m7 0h1m1 0h1m4 0h1m3 0h1m5 0h1m9 0h2m16 0h1m32 0h1m15 0h1M173 739.5h1m22 0h1m16 0h1m7 0h1m1 0h2m6 0h1m9 0h1m14 0h1m6 0h1m2 0h2m2 0h2m6 0h2m6 0h1M170 740.5h1m21 0h1m2 0h1m22 0h2m1 0h1m9 0h3m17 0h1m2 0h3m2 0h2m5 0h1m1 0h2M151 741.5h1m7 0h1m5 0h1m6 0h1m32 0h1m7 0h1m12 0h1m10 0h2m24 0h1m9 0h2M152 742.5h2m14 0h3m10 0h1m2 0h1m1 0h2m53 0h1m9 0h1m39 0h1M154 743.5h1m9 0h1m5 0h1m36 0h1m1 0h1m3 0h2m4 0h3m14 0h1m23 0h1m1 0h1m16 0h2m7 0h1m1 0h2M165 744.5h2m2 0h1m10 0h2m3 0h2m9 0h1m12 0h3m9 0h1m3 0h2m14 0h1m1 0h2m6 0h1m3 0h2m2 0h2m3 0h2m14 0h1m3 0h1M150 745.5h2m28 0h1m16 0h3m4 0h1m19 0h1m6 0h3m8 0h5m18 0h1m5 0h2m15 0h1m1 0h1M155 746.5h1m6 0h1m4 0h1m5 0h1m5 0h1m6 0h1m7 0h1m60 0h2m10 0h1m5 0h1m2 0h1m3 0h1m9 0h1M169 747.5h2m10 0h1m3 0h2m14 0h1m33 0h1m2 0h2m3 0h1m9 0h1m4 0h2m27 0h2M148 748.5h2m3 0h2m5 0h1m5 0h1m3 0h1m1 0h1m4 0h2m17 0h1m4 0h1m11 0h2m4 0h1m2 0h1m2 0h1m27 0h3m2 0h3m27 0h1m3 0h1M157 749.5h1m8 0h2m8 0h1m6 0h1m1 0h1m9 0h1m5 0h1m10 0h1m6 0h1m11 0h1m7 0h1m8 0h2m14 0h1m13 0h1m1 0h2m4 0h1m1 0h1M148 750.5h1m18 0h1m4 0h3m7 0h1m7 0h2m2 0h1m11 0h1m2 0h1m1 0h1m2 0h1m5 0h1m1 0h1m7 0h1m10 0h1m2 0h2m9 0h3m3 0h1m11 0h1m10 0h1M151 751.5h1m5 0h1m1 0h1m6 0h1m5 0h3m12 0h2m5 0h1m5 0h2m3 0h1m20 0h1m24 0h1m21 0h6M162 752.5h2m11 0h1m15 0h1m1 0h1m21 0h1m33 0h1m1 0h2m2 0h2m2 0h4m19 0h3M151 753.5h1m2 0h2m39 0h1m25 0h1m3 0h1m2 0h1m1 0h2m8 0h2m46 0h2M151 754.5h1m1 0h1m7 0h1m7 0h1m14 0h1m15 0h1m22 0h1m12 0h1m3 0h1m1 0h1m19 0h1m5 0h3m4 0h1m3 0h1m1 0h2m6 0h1M150 755.5h1m11 0h1m9 0h3m17 0h2m11 0h1m7 0h1m10 0h1m12 0h1m12 0h1m9 0h1m3 0h1m4 0h1m5 0h2m2 0h2m3 0h1m4 0h1M160 756.5h1m15 0h1m4 0h2m4 0h1m1 0h2m3 0h1m26 0h1m7 0h2m2 0h1m5 0h1m2 0h1m3 0h3m4 0h1m7 0h1m3 0h1m14 0h1m6 0h1m1 0h2M150 757.5h1m5 0h1m3 0h1m10 0h1m12 0h2m1 0h1m5 0h1m3 0h3m38 0h2m7 0h1m12 0h3m9 0h1m9 0h1m5 0h3M156 758.5h1m6 0h2m8 0h2m28 0h1m4 0h1m35 0h4m10 0h2m2 0h1m19 0h1m8 0h2M151 759.5h1m13 0h1m1 0h1m3 0h2m2 0h1m10 0h1m17 0h1m3 0h1m6 0h1m17 0h1m6 0h1m6 0h1m6 0h2m6 0h1m11 0h1m7 0h1M150 760.5h1m6 0h3m11 0h1m14 0h2m7 0h1m1 0h3m3 0h2m6 0h2m16 0h1m9 0h1m3 0h1m22 0h1m24 0h1M152 761.5h1m3 0h3m1 0h2m9 0h1m42 0h1m14 0h1m9 0h1m8 0h1m13 0h1M150 762.5h1m19 0h1m18 0h1m21 0h1m5 0h2m2 0h2m37 0h1m15 0h1M149 763.5h1m1 0h1m5 0h3m17 0h1m8 0h2m17 0h1m20 0h1m1 0h1m10 0h2m28 0h1m15 0h1m4 0h1m1 0h1M150 764.5h1m26 0h1m21 0h4m3 0h1m1 0h1m5 0h2m21 0h1m5 0h1m14 0h1m17 0h1m5 0h1m4 0h1M162 765.5h1m6 0h2m10 0h1m41 0h1m2 0h1m3 0h2m16 0h1m3 0h1m1 0h1m8 0h5m8 0h1M149 766.5h1m19 0h1m6 0h3m17 0h2m2 0h1m4 0h1m7 0h1m3 0h2m5 0h1m1 0h1m4 0h1m32 0h2m10 0h2m8 0h1m3 0h1M157 767.5h2m8 0h1m1 0h1m12 0h1m6 0h1m2 0h1m10 0h3m5 0h1m6 0h1m10 0h1m1 0h2m4 0h2m27 0h1m11 0h2M164 768.5h1m10 0h2m17 0h1m5 0h1m1 0h1m6 0h1m6 0h2m10 0h2m9 0h1m12 0h1m25 0h1M150 769.5h2m5 0h1m4 0h1m23 0h2m12 0h6m6 0h1m12 0h1m5 0h2m10 0h1m4 0h1m15 0h3m11 0h1m2 0h1M155 770.5h3m1 0h1m24 0h1m7 0h1m10 0h1m19 0h2m3 0h1m1 0h1m5 0h1m6 0h1m5 0h2m12 0h1m2 0h1m20 0h3M152 771.5h1m16 0h2m21 0h1m10 0h3m5 0h2m8 0h2m3 0h1m1 0h1m1 0h1m17 0h1m5 0h1m16 0h1m1 0h1m2 0h1M148 772.5h1m4 0h2m7 0h1m2 0h2m5 0h1m6 0h1m2 0h2m1 0h1m3 0h1m2 0h1m5 0h1m11 0h2m27 0h2m9 0h1m5 0h1m13 0h1m6 0h1m1 0h1m6 0h1m4 0h1M148 773.5h1m5 0h2m4 0h1m3 0h1m4 0h2m19 0h1m1 0h1m3 0h1m9 0h1m19 0h1m8 0h1m17 0h1m1 0h1m16 0h2m4 0h2M189 774.5h3m2 0h1m1 0h1m10 0h1m41 0h1m17 0h1m1 0h1m4 0h1m2 0h2m8 0h2M150 775.5h2m1 0h1m16 0h1m28 0h2m17 0h1m3 0h2m9 0h1m12 0h1m34 0h1M149 776.5h1m9 0h1m19 0h1m1 0h1m7 0h3m1 0h1m16 0h1m8 0h1m1 0h1m23 0h1m16 0h1m14 0h1m3 0h1M152 777.5h1m48 0h2m3 0h2m7 0h1m5 0h2m30 0h1m21 0h1m14 0h1M149 778.5h1m40 0h1m5 0h1m25 0h1m6 0h2m4 0h1m23 0h2m6 0h1M150 779.5h1m1 0h1m1 0h1m6 0h1m15 0h1m9 0h1m9 0h1m37 0h1m1 0h1m4 0h2m42 0h1M148 780.5h1m3 0h1m21 0h2m7 0h1m41 0h1m27 0h2m8 0h1m3 0h2m1 0h1m7 0h2m7 0h1M190 781.5h2m11 0h1m6 0h1m2 0h1m3 0h1m1 0h1m9 0h2m13 0h2m18 0h4m1 0h1m10 0h1m11 0h1M151 782.5h1m4 0h1m4 0h1m3 0h1m17 0h1m1 0h1m12 0h1m16 0h1m8 0h2m9 0h1m2 0h1m22 0h2m16 0h2M150 783.5h1m2 0h2m9 0h1m12 0h1m7 0h1m4 0h1m2 0h2m4 0h1m13 0h1m2 0h1m8 0h1m6 0h1m3 0h2m4 0h1m4 0h1m8 0h1m1 0h1m6 0h1m4 0h1m2 0h1m18 0h1M156 784.5h1m2 0h1m3 0h1m3 0h2m1 0h1m12 0h1m6 0h1m4 0h1m23 0h1m3 0h1m1 0h2m1 0h1m12 0h1m16 0h1m19 0h1m2 0h1m4 0h2M148 785.5h1m21 0h1m9 0h1m7 0h1m5 0h2m23 0h1m2 0h1m2 0h1m2 0h1m5 0h1m3 0h1m1 0h1m23 0h1m10 0h1m4 0h1m6 0h1M154 786.5h1m3 0h1m8 0h2m6 0h3m7 0h1m4 0h1m1 0h2m17 0h1m1 0h1m7 0h1m10 0h1m4 0h1m17 0h1m1 0h2m2 0h2m1 0h2m2 0h1m3 0h1m2 0h1m4 0h3m2 0h5m2 0h1M150 787.5h1m12 0h1m18 0h1m8 0h1m5 0h2m1 0h2m17 0h5m23 0h2m1 0h1m9 0h1M157 788.5h1m2 0h5m11 0h1m2 0h1m1 0h4m12 0h1m23 0h1m3 0h1m6 0h2m13 0h1m5 0h2m24 0h1M150 789.5h2m6 0h1m7 0h1m6 0h1m15 0h1m22 0h1m1 0h1m5 0h1m6 0h1m4 0h1m2 0h1m8 0h1M177 790.5h1m2 0h1m1 0h1m2 0h1m11 0h1m1 0h1m35 0h1m6 0h1m6 0h1m3 0h1m6 0h2m6 0h1m12 0h1m2 0h1m5 0h1M153 791.5h3m15 0h1m9 0h4m13 0h1m4 0h1m39 0h2m4 0h4m11 0h2M165 792.5h1m4 0h5m20 0h1m1 0h1m9 0h4m4 0h3m16 0h1m15 0h3m1 0h1m11 0h2m1 0h2m11 0h3m4 0h1M154 793.5h2m2 0h2m16 0h1m7 0h1m16 0h4m3 0h3m11 0h1m3 0h1m6 0h1m2 0h1m6 0h1m3 0h1m2 0h1m18 0h1m2 0h1m1 0h1m8 0h1m1 0h1M150 794.5h2m20 0h2m21 0h3m5 0h1m2 0h1m2 0h1m2 0h3m5 0h1m16 0h2m9 0h1m1 0h2m36 0h1M164 795.5h1m6 0h1m21 0h1m7 0h1m2 0h1m4 0h1m4 0h1m7 0h1m19 0h1m5 0h1m19 0h1m3 0h4m12 0h3M149 796.5h1m3 0h1m7 0h2m7 0h1m3 0h1m4 0h2m3 0h1m2 0h4m16 0h1m5 0h1m8 0h1m19 0h1m5 0h1m15 0h1m5 0h1M150 797.5h3m15 0h1m24 0h1m7 0h1m19 0h1m15 0h2m9 0h1m23 0h1m6 0h1M167 798.5h1m25 0h1m4 0h1m20 0h1m1 0h1m11 0h1m13 0h1m6 0h3m1 0h1m3 0h1m2 0h2m4 0h1m5 0h2M151 799.5h1m1 0h1m7 0h1m1 0h1m12 0h1m12 0h2m4 0h2m6 0h1m10 0h1m42 0h1m13 0h2M149 800.5h1m2 0h2m3 0h1m11 0h1m6 0h1m2 0h1m1 0h4m6 0h1m3 0h1m12 0h1m10 0h1m12 0h1m4 0h1m16 0h1m1 0h2m3 0h1m6 0h1m3 0h1m3 0h1m8 0h1M152 801.5h1m9 0h2m11 0h1m11 0h2m5 0h1m11 0h1m52 0h1m8 0h1m21 0h1M156 802.5h1m1 0h2m14 0h2m15 0h4m10 0h1m22 0h2m20 0h1m4 0h1m6 0h2m10 0h1m7 0h1M176 803.5h1m2 0h1m17 0h3m2 0h1m12 0h2m5 0h2m5 0h1m20 0h1m5 0h1m9 0h1m3 0h1m6 0h2m6 0h1M148 804.5h2m21 0h3m11 0h1m16 0h1m1 0h1m2 0h1m4 0h1m17 0h2m4 0h2m3 0h1m10 0h2m3 0h3m12 0h1m11 0h1m1 0h1m1 0h1M150 805.5h2m3 0h1m5 0h1m1 0h1m38 0h1m17 0h1m6 0h1m16 0h1m4 0h1m7 0h3m31 0h1M150 806.5h2m7 0h2m26 0h1m1 0h1m14 0h1m17 0h1m11 0h1m4 0h1m2 0h3m6 0h2m10 0h3m5 0h2m12 0h1M153 807.5h1m22 0h1m34 0h1m30 0h1m4 0h1m21 0h2m7 0h1M159 808.5h4m18 0h1m7 0h1m4 0h1m10 0h2m6 0h1m12 0h1m1 0h3m5 0h1m6 0h1m13 0h3m8 0h3M179 809.5h1m6 0h2m2 0h1m9 0h2m6 0h1m20 0h1m18 0h1m15 0h1m3 0h2m3 0h1m6 0h1m3 0h1m4 0h1M167 810.5h1m5 0h2m12 0h1m3 0h2m2 0h2m12 0h1m4 0h1m10 0h2m9 0h1m9 0h1m9 0h3m10 0h1m4 0h2" stroke="#353535" stroke-width="1" fill="none"/>
<path d="M146.3 724.9L146.3 812.7" stroke="#000" stroke-width="2"/>
<path d="M145.3 811.7L294.7 811.7" stroke="#000" stroke-width="2"/>
<path d="M142.3 734.8L146.3 734.8" stroke="#000" stroke-width="1.6"/>
<text x="136.4" y="742.2" text-anchor="end">1</text>
<path d="M142.3 780.7L146.3 780.7" stroke="#000" stroke-width="1.6"/>
<text x="136.4" y="788.1" text-anchor="end">100</text>
<path d="M167.3 811.7L167.3 815.7" stroke="#000" stroke-width="1.6"/>
<path d="M209.3 811.7L209.3 815.7" stroke="#000" stroke-width="1.6"/>
<path d="M251 811.7L251 815.7" stroke="#000" stroke-width="1.6"/>
<path d="M293.7 811.7L293.7 815.7" stroke="#000" stroke-width="1.6"/>
<rect x="407.3" y="627" width="51.5" height="93" fill="#dcdcdc"/>
<clipPath id="cl2"><rect x="339" y="620" width="151" height="99.5"/></clipPath><g clip-path="url(#cl2)">
<path d="M338.8 670.8C340.2 671.8 343.4 672.5 346.9 676.5C350.5 680.5 356.2 693.4 359.9 694.6C363.7 695.8 366.4 686.9 369.5 683.8C372.7 680.8 376 676.9 378.6 676.5C381.2 676.1 382.9 677.8 385.4 681.6C387.8 685.3 390.6 698.8 393.3 699.1C395.9 699.4 398.5 687.3 401.2 683.3C403.8 679.2 407.2 676.1 409.1 674.8C411 673.5 410.8 678.5 412.5 675.4C414.2 672.3 416.6 663 419.3 656.2C421.9 649.3 425.9 637.7 428.3 634.1C430.8 630.5 432.1 633.3 434 634.7C435.8 636.1 437.5 636.6 439.6 642.6C441.7 648.6 444.3 664.2 446.4 670.8C448.5 677.5 450.2 680.1 452 682.7C453.9 685.3 455.6 684.9 457.7 686.7C459.8 688.5 462 694.2 464.5 693.4C466.9 692.7 470 685.3 472.4 682.1C474.7 679 477.6 676 478.6 674.8L478.6 700.8C477.6 701.6 474.7 703.4 472.4 705.9C470 708.3 466.9 714.9 464.5 715.5C462 716 459.8 710.9 457.7 709.3C455.6 707.7 453.9 707.9 452 705.9C450.2 703.8 448.5 702.7 446.4 696.8C444.3 691 441.7 676.4 439.6 670.8C437.5 665.3 435.8 664.8 434 663.5C432.1 662.2 430.8 660.3 428.3 662.9C425.9 665.6 421.9 673.7 419.3 679.3C416.6 685 414.2 693.7 412.5 696.8C410.8 699.9 411 696.6 409.1 698C407.2 699.3 403.8 701 401.2 704.7C398.5 708.5 395.9 720.4 393.3 720.6C390.6 720.8 387.8 709.3 385.4 705.9C382.9 702.5 381.2 700.1 378.6 700.2C376 700.3 372.7 703.6 369.5 706.4C366.4 709.3 363.7 718 359.9 717.2C356.2 716.3 350.5 705 346.9 701.4C343.4 697.7 340.2 696.2 338.8 695.1Z" fill="#e79016" fill-opacity="0.55"/>
<path d="M338.8 670.8C340.2 671.8 343.4 672.5 346.9 676.5C350.5 680.5 356.2 693.4 359.9 694.6C363.7 695.8 366.4 686.9 369.5 683.8C372.7 680.8 376 676.9 378.6 676.5C381.2 676.1 382.9 677.8 385.4 681.6C387.8 685.3 390.6 698.8 393.3 699.1C395.9 699.4 398.5 687.3 401.2 683.3C403.8 679.2 407.2 676.1 409.1 674.8C411 673.5 410.8 678.5 412.5 675.4C414.2 672.3 416.6 663 419.3 656.2C421.9 649.3 425.9 637.7 428.3 634.1C430.8 630.5 432.1 633.3 434 634.7C435.8 636.1 437.5 636.6 439.6 642.6C441.7 648.6 444.3 664.2 446.4 670.8C448.5 677.5 450.2 680.1 452 682.7C453.9 685.3 455.6 684.9 457.7 686.7C459.8 688.5 462 694.2 464.5 693.4C466.9 692.7 470 685.3 472.4 682.1C474.7 679 477.6 676 478.6 674.8M478.6 700.8C477.6 701.6 474.7 703.4 472.4 705.9C470 708.3 466.9 714.9 464.5 715.5C462 716 459.8 710.9 457.7 709.3C455.6 707.7 453.9 707.9 452 705.9C450.2 703.8 448.5 702.7 446.4 696.8C444.3 691 441.7 676.4 439.6 670.8C437.5 665.3 435.8 664.8 434 663.5C432.1 662.2 430.8 660.3 428.3 662.9C425.9 665.6 421.9 673.7 419.3 679.3C416.6 685 414.2 693.7 412.5 696.8C410.8 699.9 411 696.6 409.1 698C407.2 699.3 403.8 701 401.2 704.7C398.5 708.5 395.9 720.4 393.3 720.6C390.6 720.8 387.8 709.3 385.4 705.9C382.9 702.5 381.2 700.1 378.6 700.2C376 700.3 372.7 703.6 369.5 706.4C366.4 709.3 363.7 718 359.9 717.2C356.2 716.3 350.5 705 346.9 701.4C343.4 697.7 340.2 696.2 338.8 695.1" stroke="#eaa54a" stroke-width="1.4" fill="none" stroke-opacity="0.9"/>
<path d="M338.8 682.7C340.2 683.9 343.4 686.3 346.9 690.1C350.5 693.8 356.2 704.6 359.9 705.3C363.7 706.1 366.4 697.4 369.5 694.6C372.7 691.8 376 688.4 378.6 688.4C381.2 688.4 382.9 691 385.4 694.6C387.8 698.2 390.6 710.2 393.3 709.8C395.9 709.5 398.5 696.4 401.2 692.3C403.8 688.3 407.2 686.8 409.1 685.5C411 684.3 410.8 688 412.5 685C414.2 682 416.6 673.5 419.3 667.5C421.9 661.4 425.9 651.7 428.3 648.8C430.8 645.9 432.1 648.5 434 649.9C435.8 651.4 437.5 651.5 439.6 657.3C441.7 663 444.3 678.2 446.4 684.4C448.5 690.6 450.2 692.3 452 694.6C453.9 696.8 455.6 696.4 457.7 698C459.8 699.6 462 704.8 464.5 704.2C466.9 703.5 470 696.7 472.4 694C474.7 691.3 477.6 688.8 478.6 687.8" stroke="#e6890a" stroke-width="2" fill="none"/>
</g>
<path d="M401.6 634V811" stroke="#222" stroke-width="1.5" stroke-dasharray="9 3.5"/>
<path d="M337.9 633.6L337.9 721.3" stroke="#000" stroke-width="2"/>
<path d="M336.9 720.3L488 720.3" stroke="#000" stroke-width="2"/>
<path d="M333.9 663L337.9 663" stroke="#000" stroke-width="1.6"/>
<text x="329" y="670.4" text-anchor="end">30</text>
<path d="M333.9 719.5L337.9 719.5" stroke="#000" stroke-width="1.6"/>
<text x="329" y="726.9" text-anchor="end">20</text>
<path d="M358.6 720.3L358.6 724.3" stroke="#000" stroke-width="1.6"/>
<path d="M401.6 720.3L401.6 724.3" stroke="#000" stroke-width="1.6"/>
<path d="M443.5 720.3L443.5 724.3" stroke="#000" stroke-width="1.6"/>
<path d="M488 720.3L488 724.3" stroke="#000" stroke-width="1.6"/>
<path d="M341 726.5h4m5 0h3m1 0h1m1 0h1m4 0h2m2 0h1m2 0h4m1 0h1m1 0h2m6 0h1m8 0h3m3 0h1m7 0h1m1 0h1m1 0h3m1 0h4m4 0h1m2 0h1m2 0h2m3 0h2m4 0h2m10 0h2m11 0h1m19 0h1M344 727.5h3m4 0h1m7 0h3m5 0h1m2 0h1m5 0h6m3 0h2m21 0h2m2 0h1m8 0h1m12 0h3m2 0h1m6 0h1m2 0h1m1 0h5m2 0h3m2 0h1M341 728.5h8m6 0h2m2 0h1m5 0h1m10 0h2m9 0h1m3 0h2m1 0h1m5 0h1m2 0h1m10 0h6m7 0h1m1 0h2m3 0h3m1 0h2m12 0h1m8 0h1m5 0h1m5 0h6m5 0h2M342 729.5h1m7 0h1m1 0h1m4 0h1m3 0h1m10 0h1m4 0h2m9 0h3m1 0h1m1 0h1m2 0h1m3 0h2m10 0h2m2 0h1m12 0h2m3 0h2m1 0h3m7 0h1m4 0h4m12 0h7m7 0h1M339 730.5h1m1 0h2m1 0h2m3 0h2m4 0h1m3 0h2m1 0h1m2 0h3m4 0h1m1 0h3m1 0h2m1 0h1m1 0h4m3 0h3m2 0h2m1 0h3m3 0h1m1 0h1m9 0h2m2 0h1m2 0h4m8 0h1m1 0h2m6 0h1m5 0h4m2 0h10m5 0h2m3 0h1m2 0h2m2 0h2M340 731.5h2m2 0h7m4 0h4m1 0h1m3 0h1m16 0h1m3 0h3m1 0h1m3 0h1m3 0h1m7 0h1m1 0h1m2 0h1m7 0h1m5 0h2m1 0h1m1 0h2m1 0h2m2 0h2m1 0h1m5 0h2m1 0h1m7 0h1m4 0h2m3 0h3m1 0h1m2 0h2m3 0h1m5 0h2M343 732.5h1m1 0h1m4 0h1m5 0h3m7 0h3m5 0h1m1 0h1m4 0h1m1 0h1m10 0h1m8 0h2m2 0h1m1 0h1m1 0h1m4 0h2m21 0h1m4 0h1m3 0h1m3 0h1m1 0h1m4 0h2m5 0h1m5 0h2m3 0h1m4 0h1m3 0h1M349 733.5h1m4 0h1m2 0h2m4 0h1m7 0h1m1 0h2m6 0h2m2 0h2m20 0h1m1 0h1m3 0h2m2 0h1m1 0h2m4 0h1m9 0h1m11 0h1m11 0h1m7 0h2m2 0h2m5 0h1m1 0h1M341 734.5h5m7 0h1m1 0h1m11 0h1m2 0h1m1 0h1m10 0h1m7 0h2m15 0h2m46 0h2m3 0h1m4 0h2m2 0h3M341 735.5h1m2 0h5m5 0h2m5 0h1m10 0h1m9 0h1m2 0h1m4 0h2m3 0h2m5 0h1m11 0h4m3 0h1m1 0h4m5 0h2m7 0h3m4 0h1m1 0h2m1 0h3m4 0h1m14 0h1m1 0h4M348 736.5h1m17 0h3m1 0h1m1 0h1m1 0h3m1 0h2m2 0h4m5 0h2m8 0h4m15 0h2m7 0h3m2 0h1m5 0h3m1 0h1m10 0h1m2 0h3m6 0h1m3 0h1m2 0h1m1 0h2M340 737.5h1m4 0h1m2 0h2m1 0h1m2 0h4m12 0h3m2 0h2m4 0h2m5 0h1m6 0h1m11 0h1m4 0h1m6 0h1m6 0h2m6 0h1m1 0h2m9 0h3m6 0h2m1 0h3m12 0h1m1 0h2m5 0h2M342 738.5h1m9 0h5m2 0h1m6 0h4m7 0h1m3 0h1m2 0h1m16 0h1m6 0h6m1 0h3m9 0h3m2 0h1m12 0h3m1 0h1m2 0h3m6 0h4m5 0h1m8 0h3m1 0h4M358 739.5h2m11 0h3m12 0h2m1 0h1m1 0h1m1 0h1m4 0h1m15 0h1m7 0h5m3 0h4m5 0h2m2 0h1m12 0h3m2 0h1m1 0h2m6 0h7m2 0h1m1 0h1M342 740.5h1m12 0h1m1 0h1m1 0h3m1 0h1m30 0h1m1 0h3m2 0h2m2 0h2m14 0h1m6 0h3m31 0h2m1 0h2m8 0h1m3 0h1M343 741.5h3m3 0h4m11 0h1m9 0h1m2 0h3m19 0h7m7 0h1m1 0h1m8 0h1m3 0h1m4 0h1m19 0h1m23 0h1m6 0h2M340 742.5h1m4 0h1m2 0h2m3 0h2m5 0h7m3 0h1m3 0h1m6 0h1m7 0h1m2 0h1m8 0h1m13 0h2m3 0h2m7 0h1m16 0h2m3 0h3m3 0h3m4 0h2m4 0h2m2 0h2m6 0h3M340 743.5h1m1 0h1m3 0h3m15 0h1m12 0h2m13 0h2m3 0h1m4 0h1m2 0h1m10 0h2m16 0h3m16 0h1m3 0h2m7 0h2m2 0h3m1 0h3m7 0h1m1 0h1M343 744.5h2m1 0h2m2 0h2m1 0h3m6 0h1m4 0h1m2 0h3m10 0h5m2 0h2m2 0h2m6 0h1m5 0h1m1 0h3m6 0h1m5 0h1m1 0h2m5 0h1m10 0h1m2 0h2m3 0h2m1 0h3m1 0h2m11 0h1m7 0h1M372 745.5h1m6 0h1m1 0h3m4 0h1m24 0h1m2 0h1m4 0h4m4 0h1m17 0h4m5 0h1m12 0h3m10 0h1m2 0h1M340 746.5h1m8 0h1m7 0h4m2 0h2m1 0h2m2 0h1m13 0h6m11 0h2m6 0h2m10 0h1m1 0h1m2 0h4m4 0h2m3 0h1m1 0h1m10 0h1m3 0h2m1 0h1m5 0h4m14 0h1M342 747.5h1m9 0h4m16 0h4m4 0h1m4 0h1m4 0h1m2 0h2m1 0h1m1 0h1m5 0h3m10 0h1m4 0h2m1 0h2m1 0h2m1 0h1m2 0h1m1 0h1m6 0h1m4 0h4m3 0h1m2 0h1m1 0h1m2 0h1m6 0h1m8 0h2m2 0h2m1 0h1M339 748.5h1m1 0h1m13 0h1m16 0h1m1 0h3m3 0h1m1 0h2m1 0h1m3 0h2m2 0h3m5 0h1m4 0h2m8 0h1m12 0h3m2 0h5m2 0h3m8 0h3m3 0h1m3 0h1m4 0h2m3 0h3m2 0h1m4 0h1m1 0h1M339 749.5h1m9 0h1m2 0h3m2 0h3m5 0h3m8 0h4m5 0h1m7 0h2m2 0h1m2 0h3m1 0h1m5 0h7m1 0h2m2 0h1m2 0h1m1 0h2m3 0h3m5 0h1m1 0h1m1 0h2m5 0h2m1 0h1m2 0h5m1 0h5m3 0h5m5 0h1m1 0h1M340 750.5h1m1 0h1m6 0h2m2 0h1m2 0h1m3 0h2m2 0h1m1 0h2m5 0h1m4 0h1m1 0h1m1 0h1m3 0h1m1 0h3m2 0h1m1 0h1m3 0h2m3 0h3m13 0h3m4 0h1m3 0h3m1 0h2m2 0h2m4 0h2m3 0h1m1 0h8m1 0h1m2 0h6m1 0h1m6 0h3m2 0h1M349 751.5h2m8 0h1m1 0h2m1 0h1m1 0h2m3 0h3m6 0h5m7 0h3m11 0h2m3 0h1m3 0h1m5 0h1m6 0h1m4 0h1m3 0h2m6 0h2m8 0h1m2 0h4m1 0h4m5 0h3m7 0h3m1 0h1M339 752.5h3m10 0h3m1 0h6m2 0h3m1 0h1m2 0h2m1 0h1m1 0h2m1 0h2m1 0h4m2 0h2m1 0h1m7 0h1m9 0h2m1 0h1m6 0h4m1 0h2m3 0h1m1 0h2m11 0h3m5 0h1m2 0h1m2 0h1m2 0h1m4 0h1m3 0h1m4 0h2m2 0h1m2 0h1m1 0h1m1 0h1M339 753.5h1m2 0h1m3 0h3m7 0h2m4 0h5m6 0h1m4 0h1m1 0h1m1 0h1m4 0h2m3 0h4m1 0h1m1 0h1m2 0h2m9 0h1m9 0h1m1 0h2m8 0h1m1 0h1m3 0h1m5 0h2m1 0h1m2 0h1m6 0h1m4 0h1m1 0h1m7 0h1m4 0h4M346 754.5h1m1 0h1m1 0h3m7 0h1m3 0h1m1 0h1m1 0h1m1 0h2m1 0h1m9 0h10m5 0h4m2 0h1m1 0h1m1 0h6m5 0h1m8 0h2m2 0h1m1 0h2m11 0h1m6 0h2m4 0h1m1 0h2m2 0h1m2 0h1m1 0h1m1 0h1m2 0h1m5 0h1m1 0h3M339 755.5h1m2 0h1m2 0h1m3 0h3m1 0h1m1 0h1m8 0h2m2 0h1m3 0h1m5 0h1m2 0h1m6 0h1m1 0h2m16 0h3m3 0h1m1 0h3m2 0h1m6 0h2m2 0h1m3 0h9m1 0h4m2 0h1m1 0h1m5 0h3m3 0h2m9 0h1m2 0h2m2 0h1M351 756.5h2m1 0h4m6 0h1m2 0h1m8 0h2m3 0h1m1 0h1m1 0h1m7 0h4m11 0h2m1 0h4m7 0h1m10 0h1m2 0h1m1 0h1m6 0h1m1 0h4m3 0h1m14 0h2m5 0h2M343 757.5h4m4 0h1m13 0h3m1 0h1m4 0h3m14 0h2m1 0h1m1 0h1m4 0h1m9 0h1m2 0h1m3 0h2m1 0h1m5 0h2m2 0h2m1 0h1m4 0h1m16 0h4m6 0h1m1 0h1m3 0h2m4 0h1m4 0h1m1 0h1M354 758.5h1m5 0h2m8 0h2m25 0h2m5 0h3m2 0h1m1 0h2m1 0h2m6 0h1m3 0h2m2 0h3m3 0h1m1 0h2m2 0h1m7 0h1m9 0h1m7 0h2m1 0h2m2 0h2m3 0h1M339 759.5h3m2 0h4m3 0h1m3 0h2m2 0h3m4 0h2m1 0h1m4 0h2m2 0h2m4 0h2m4 0h1m2 0h1m7 0h2m1 0h1m3 0h3m4 0h1m5 0h4m13 0h2m15 0h1m3 0h3m4 0h2m1 0h1m2 0h2m2 0h2m4 0h2m1 0h1M340 760.5h5m7 0h6m3 0h1m10 0h1m1 0h1m2 0h5m4 0h1m8 0h3m6 0h2m1 0h2m1 0h1m1 0h1m17 0h1m2 0h4m6 0h1m3 0h1m1 0h1m2 0h2m8 0h1m1 0h2m2 0h1m2 0h2m1 0h1m2 0h2m4 0h2m1 0h1M339 761.5h2m2 0h1m2 0h1m1 0h1m4 0h3m1 0h1m1 0h1m2 0h2m1 0h1m3 0h1m4 0h1m1 0h1m7 0h2m2 0h2m2 0h3m1 0h1m2 0h3m2 0h4m2 0h1m5 0h1m3 0h1m1 0h3m2 0h2m2 0h4m2 0h1m6 0h1m4 0h1m1 0h2m2 0h1m1 0h1m1 0h2m2 0h1m2 0h2m1 0h1m3 0h4m1 0h1m1 0h1m2 0h2M341 762.5h2m3 0h2m4 0h1m2 0h2m2 0h1m12 0h3m18 0h1m1 0h1m10 0h5m5 0h1m17 0h1m9 0h2m9 0h1m15 0h4m7 0h2m2 0h1M339 763.5h1m8 0h1m3 0h2m1 0h1m3 0h1m4 0h1m1 0h2m6 0h1m1 0h1m1 0h1m1 0h1m1 0h4m2 0h2m1 0h1m1 0h1m2 0h2m1 0h1m3 0h2m2 0h5m2 0h3m4 0h3m1 0h1m1 0h1m1 0h1m1 0h1m4 0h1m3 0h5m4 0h1m3 0h2m5 0h2m2 0h1m2 0h1m4 0h1m1 0h9m1 0h2M341 764.5h1m3 0h4m4 0h1m1 0h1m1 0h1m1 0h1m6 0h4m2 0h1m1 0h1m2 0h1m2 0h1m1 0h2m1 0h2m3 0h1m2 0h1m2 0h1m1 0h2m2 0h3m2 0h3m1 0h1m1 0h5m2 0h2m2 0h2m3 0h2m1 0h1m1 0h1m1 0h1m2 0h2m1 0h3m2 0h7m1 0h2m1 0h2m7 0h2m3 0h1m4 0h3m1 0h1M339 765.5h2m1 0h1m1 0h1m2 0h1m3 0h1m1 0h3m2 0h1m1 0h1m3 0h3m1 0h5m3 0h1m3 0h2m2 0h1m1 0h1m3 0h1m5 0h2m1 0h3m1 0h3m2 0h1m1 0h4m6 0h1m2 0h2m1 0h1m2 0h1m4 0h2m1 0h4m3 0h1m1 0h2m3 0h2m3 0h1m5 0h1m1 0h2m1 0h1m4 0h3m1 0h2m2 0h1m4 0h1M339 766.5h1m1 0h4m3 0h2m1 0h1m2 0h2m2 0h3m2 0h3m1 0h1m6 0h2m3 0h2m1 0h3m2 0h2m1 0h2m2 0h1m1 0h2m3 0h2m1 0h1m2 0h2m1 0h1m1 0h3m1 0h1m1 0h4m1 0h2m1 0h1m1 0h1m1 0h1m1 0h1m2 0h4m2 0h1m2 0h1m1 0h2m1 0h1m2 0h3m2 0h1m1 0h4m3 0h1m1 0h4m4 0h1m2 0h2m1 0h2m1 0h2M339 767.5h2m1 0h1m1 0h1m1 0h2m1 0h1m2 0h2m1 0h1m1 0h3m1 0h3m1 0h2m2 0h2m1 0h4m1 0h2m5 0h2m1 0h5m2 0h2m3 0h1m1 0h1m4 0h1m2 0h1m1 0h3m2 0h6m3 0h1m1 0h1m2 0h1m3 0h3m1 0h6m1 0h5m6 0h4m3 0h2m2 0h2m1 0h2m6 0h1m1 0h1m5 0h1M340 768.5h3m4 0h3m3 0h2m1 0h1m1 0h2m3 0h3m3 0h2m1 0h2m2 0h2m2 0h1m2 0h3m3 0h2m3 0h4m1 0h1m2 0h2m1 0h1m3 0h1m2 0h3m1 0h1m1 0h1m4 0h1m1 0h1m1 0h6m1 0h2m3 0h2m1 0h2m1 0h2m1 0h1m1 0h2m1 0h1m4 0h1m1 0h3m1 0h4m1 0h1m1 0h1m1 0h1m1 0h1m4 0h1m1 0h2m2 0h1M339 769.5h1m5 0h1m3 0h1m1 0h1m3 0h4m4 0h3m5 0h1m2 0h2m1 0h1m2 0h1m1 0h1m5 0h1m1 0h1m2 0h2m1 0h1m1 0h3m5 0h1m5 0h6m6 0h1m7 0h1m3 0h2m2 0h1m2 0h1m6 0h2m6 0h1m10 0h3m2 0h2m1 0h2m4 0h1m1 0h2M339 770.5h1m1 0h1m1 0h2m1 0h1m2 0h1m2 0h1m1 0h1m7 0h4m2 0h2m1 0h2m1 0h1m2 0h1m1 0h1m3 0h3m1 0h3m1 0h2m2 0h1m4 0h6m2 0h1m2 0h1m2 0h2m1 0h1m1 0h2m3 0h4m2 0h2m1 0h1m1 0h2m2 0h2m3 0h1m3 0h2m2 0h1m1 0h1m3 0h1m1 0h1m1 0h9m1 0h1m1 0h6m2 0h3m1 0h1M339 771.5h1m3 0h1m1 0h1m5 0h3m2 0h1m1 0h2m1 0h1m5 0h5m5 0h1m11 0h2m4 0h1m4 0h2m6 0h2m1 0h6m1 0h2m3 0h4m1 0h1m4 0h9m1 0h1m6 0h1m1 0h1m1 0h1m2 0h3m2 0h2m2 0h2m2 0h2m1 0h1m1 0h1m3 0h1m3 0h1m1 0h1M339 772.5h1m1 0h3m2 0h1m1 0h1m4 0h3m1 0h1m1 0h1m4 0h4m1 0h1m2 0h1m2 0h1m4 0h7m1 0h1m1 0h1m2 0h2m1 0h3m1 0h6m6 0h1m2 0h2m1 0h2m1 0h1m7 0h1m2 0h3m2 0h1m1 0h4m1 0h1m4 0h1m3 0h1m4 0h1m3 0h1m1 0h2m2 0h1m4 0h1m1 0h3m2 0h1m3 0h1m1 0h1M340 773.5h1m2 0h2m2 0h1m4 0h2m1 0h1m7 0h1m2 0h1m3 0h1m1 0h2m2 0h1m3 0h1m1 0h1m1 0h6m2 0h1m1 0h2m3 0h1m2 0h1m5 0h3m1 0h5m3 0h1m1 0h1m2 0h2m1 0h4m2 0h1m1 0h1m1 0h5m2 0h1m1 0h1m1 0h1m1 0h1m5 0h3m1 0h3m1 0h3m2 0h3m1 0h2m2 0h3m1 0h2m1 0h1M339 774.5h3m1 0h1m1 0h1m1 0h1m1 0h1m5 0h1m1 0h1m1 0h2m2 0h4m1 0h4m3 0h5m3 0h2m5 0h1m1 0h1m1 0h2m2 0h4m3 0h1m3 0h1m3 0h3m1 0h3m1 0h3m10 0h1m1 0h2m1 0h1m8 0h2m1 0h1m1 0h3m3 0h1m1 0h1m2 0h3m2 0h2m2 0h1m5 0h1m3 0h4M342 775.5h2m2 0h1m2 0h3m1 0h1m3 0h2m1 0h4m1 0h1m1 0h1m1 0h3m1 0h1m1 0h4m3 0h1m3 0h1m1 0h1m3 0h7m2 0h1m1 0h2m2 0h1m5 0h3m5 0h1m1 0h3m3 0h1m1 0h1m2 0h1m2 0h2m5 0h3m1 0h2m4 0h2m2 0h5m2 0h3m1 0h3m1 0h2m3 0h3m2 0h1M342 776.5h3m5 0h1m2 0h1m2 0h1m11 0h2m1 0h1m8 0h2m3 0h1m2 0h1m2 0h2m9 0h4m3 0h4m1 0h2m2 0h2m1 0h2m4 0h2m8 0h2m13 0h2m3 0h5m3 0h2m6 0h1m1 0h1m1 0h2m1 0h1m1 0h2M340 777.5h1m1 0h2m1 0h2m1 0h1m1 0h2m2 0h1m1 0h2m1 0h1m1 0h2m1 0h3m1 0h2m1 0h1m4 0h2m4 0h1m2 0h1m1 0h2m1 0h1m4 0h9m3 0h1m3 0h1m4 0h1m5 0h1m3 0h1m6 0h1m2 0h1m2 0h1m2 0h1m3 0h3m2 0h1m2 0h1m1 0h1m1 0h1m3 0h1m4 0h3m1 0h2m1 0h3m1 0h1m4 0h1m1 0h1M339 778.5h2m2 0h1m3 0h4m3 0h1m2 0h2m1 0h1m1 0h1m8 0h1m3 0h1m1 0h1m3 0h1m4 0h3m1 0h3m2 0h7m4 0h7m2 0h1m1 0h1m1 0h1m2 0h5m1 0h2m3 0h1m4 0h5m1 0h5m6 0h3m2 0h2m2 0h3m4 0h1m4 0h3m2 0h1m4 0h1M339 779.5h1m1 0h1m1 0h1m1 0h1m3 0h6m2 0h1m2 0h3m2 0h2m1 0h1m1 0h1m2 0h1m1 0h3m4 0h1m2 0h1m1 0h3m3 0h1m1 0h2m6 0h1m1 0h1m3 0h2m1 0h3m1 0h1m2 0h1m2 0h2m1 0h3m1 0h1m2 0h3m2 0h1m3 0h2m2 0h1m1 0h1m1 0h1m1 0h2m1 0h3m4 0h1m1 0h3m4 0h2m1 0h1m1 0h1m1 0h1m1 0h2m2 0h4M339 780.5h1m1 0h1m1 0h1m1 0h2m1 0h1m1 0h1m1 0h3m1 0h1m1 0h4m2 0h1m1 0h3m1 0h3m1 0h1m1 0h1m1 0h1m1 0h4m1 0h1m1 0h1m1 0h1m1 0h2m1 0h1m1 0h1m1 0h2m1 0h1m1 0h1m1 0h1m1 0h1m1 0h3m1 0h4m1 0h1m1 0h3m1 0h1m1 0h1m1 0h2m1 0h2m2 0h2m1 0h2m1 0h2m1 0h1m2 0h1m1 0h2m1 0h5m1 0h2m1 0h1m1 0h1m2 0h3m2 0h2m1 0h1m1 0h1m2 0h3m1 0h4M340 781.5h2m2 0h1m1 0h1m1 0h4m1 0h2m4 0h6m1 0h2m1 0h1m1 0h1m9 0h1m3 0h1m4 0h10m1 0h1m3 0h1m2 0h1m1 0h5m1 0h2m1 0h1m3 0h2m4 0h2m1 0h5m3 0h1m4 0h2m1 0h1m3 0h2m1 0h2m1 0h2m2 0h1m2 0h1m1 0h2m3 0h1m2 0h4m1 0h1m3 0h1M339 782.5h1m1 0h1m1 0h1m3 0h5m5 0h1m1 0h1m1 0h1m3 0h5m2 0h2m1 0h2m4 0h3m2 0h2m5 0h2m3 0h3m7 0h1m2 0h4m4 0h1m1 0h1m2 0h2m1 0h1m1 0h9m5 0h1m1 0h3m2 0h1m2 0h1m3 0h7m2 0h2m5 0h1m4 0h3M341 783.5h1m1 0h2m2 0h1m3 0h3m1 0h1m4 0h2m6 0h1m2 0h1m1 0h1m2 0h3m2 0h2m2 0h1m1 0h2m1 0h1m1 0h1m3 0h2m3 0h1m1 0h1m1 0h1m1 0h1m4 0h1m1 0h2m1 0h1m3 0h1m3 0h5m1 0h2m1 0h1m1 0h1m1 0h4m1 0h4m1 0h2m1 0h4m1 0h1m2 0h1m2 0h4m2 0h1m1 0h1m2 0h1m1 0h1m1 0h1m3 0h1m1 0h1m1 0h2M339 784.5h1m1 0h1m1 0h1m4 0h1m1 0h1m3 0h1m2 0h2m1 0h1m3 0h5m2 0h4m1 0h1m2 0h1m1 0h3m1 0h1m2 0h5m1 0h2m1 0h3m1 0h1m1 0h2m1 0h4m3 0h1m1 0h1m2 0h2m3 0h4m4 0h1m2 0h1m1 0h1m4 0h2m1 0h1m2 0h2m1 0h4m3 0h1m1 0h1m2 0h1m3 0h1m1 0h2m1 0h1m2 0h4m1 0h1m1 0h3m2 0h1M339 785.5h1m1 0h1m1 0h1m2 0h1m1 0h1m2 0h1m1 0h1m1 0h1m1 0h2m1 0h2m1 0h5m2 0h1m1 0h1m2 0h1m1 0h1m1 0h1m1 0h1m1 0h4m1 0h1m1 0h5m1 0h1m2 0h5m1 0h4m1 0h1m2 0h1m1 0h2m1 0h1m1 0h1m1 0h3m2 0h4m1 0h1m2 0h2m1 0h5m1 0h1m1 0h1m2 0h3m1 0h4m1 0h3m1 0h4m1 0h3m3 0h1m1 0h1m1 0h2m1 0h1m1 0h1m1 0h3M339 786.5h1m1 0h1m1 0h1m1 0h4m3 0h1m2 0h4m3 0h1m2 0h1m1 0h1m7 0h1m3 0h1m1 0h2m1 0h1m1 0h8m8 0h4m1 0h2m1 0h2m2 0h2m2 0h1m1 0h3m7 0h2m1 0h1m2 0h2m2 0h5m1 0h1m1 0h1m1 0h1m1 0h1m5 0h3m1 0h1m1 0h2m2 0h2m1 0h1m2 0h4m1 0h1m2 0h4M341 787.5h2m2 0h2m2 0h1m1 0h4m1 0h1m1 0h2m1 0h1m4 0h1m2 0h1m2 0h2m5 0h5m1 0h1m2 0h1m2 0h2m1 0h3m3 0h2m3 0h1m2 0h2m1 0h3m3 0h1m1 0h2m1 0h1m4 0h2m4 0h1m1 0h1m3 0h1m4 0h1m1 0h1m1 0h2m1 0h1m1 0h3m1 0h2m1 0h3m1 0h1m3 0h1m2 0h1m1 0h2m1 0h1m1 0h2m1 0h1m2 0h2M339 788.5h2m2 0h3m1 0h3m2 0h4m5 0h1m3 0h1m1 0h2m1 0h2m2 0h2m5 0h1m4 0h1m1 0h1m1 0h2m1 0h3m1 0h1m1 0h4m4 0h2m1 0h1m4 0h2m9 0h1m1 0h1m7 0h1m3 0h1m1 0h1m2 0h1m3 0h1m1 0h2m1 0h1m2 0h2m1 0h2m6 0h2m1 0h1m1 0h1m3 0h1M342 789.5h1m2 0h1m3 0h2m2 0h1m4 0h1m2 0h2m1 0h2m2 0h4m6 0h2m1 0h5m4 0h1m3 0h3m2 0h1m4 0h5m2 0h2m6 0h1m1 0h1m1 0h2m1 0h1m4 0h1m3 0h2m5 0h1m2 0h1m1 0h1m1 0h1m1 0h1m3 0h2m3 0h1m1 0h1m3 0h2m5 0h1m1 0h3m3 0h1m1 0h1M341 790.5h1m4 0h1m2 0h2m6 0h2m2 0h1m3 0h1m1 0h1m1 0h2m4 0h1m2 0h1m6 0h2m1 0h1m3 0h1m2 0h2m6 0h7m2 0h1m5 0h2m4 0h1m1 0h1m3 0h1m3 0h2m6 0h4m1 0h3m2 0h1m10 0h1m6 0h3m2 0h1m8 0h3M339 791.5h2m1 0h1m10 0h1m2 0h2m6 0h2m4 0h1m6 0h1m4 0h2m19 0h1m1 0h1m14 0h1m3 0h1m10 0h1m1 0h1m1 0h1m2 0h4m4 0h2m6 0h1m2 0h1m1 0h1m3 0h1m1 0h1m5 0h3m1 0h2m1 0h2m2 0h1M341 792.5h1m11 0h3m3 0h2m6 0h1m2 0h2m3 0h2m3 0h1m1 0h4m2 0h2m3 0h1m9 0h2m5 0h2m1 0h2m1 0h2m11 0h1m10 0h1m2 0h2m1 0h1m4 0h2m3 0h3m2 0h1m7 0h1m2 0h1m1 0h1m7 0h3M341 793.5h1m1 0h3m3 0h1m7 0h3m5 0h1m2 0h1m6 0h2m1 0h2m4 0h1m2 0h2m2 0h2m5 0h2m5 0h1m1 0h1m4 0h2m2 0h4m2 0h2m7 0h1m2 0h1m4 0h1m7 0h1m6 0h1m7 0h1m2 0h1m4 0h1m7 0h2m4 0h1M339 794.5h3m1 0h3m6 0h1m11 0h2m2 0h1m3 0h1m2 0h1m6 0h2m10 0h4m1 0h1m3 0h4m11 0h1m4 0h1m5 0h3m1 0h1m5 0h1m1 0h1m2 0h1m1 0h7m5 0h1m4 0h3m9 0h6m5 0h1M343 795.5h1m7 0h4m12 0h1m10 0h1m5 0h2m8 0h1m4 0h1m5 0h1m10 0h1m3 0h1m2 0h1m9 0h1m5 0h1m6 0h1m4 0h1m3 0h2m11 0h1M341 796.5h1m10 0h2m4 0h1m2 0h1m4 0h1m3 0h1m1 0h2m1 0h1m3 0h2m7 0h1m16 0h2m1 0h2m8 0h2m4 0h3m2 0h1m8 0h1m5 0h1m5 0h1m12 0h2m6 0h1m4 0h1M340 797.5h2m3 0h1m1 0h1m2 0h1m1 0h2m3 0h1m1 0h2m6 0h1m1 0h3m4 0h4m2 0h1m5 0h1m17 0h1m6 0h1m19 0h2m2 0h1m2 0h2m2 0h2m2 0h1m3 0h2m4 0h3m1 0h2m2 0h2m6 0h1m3 0h1m5 0h1m1 0h1M358 798.5h2m1 0h1m2 0h1m1 0h1m8 0h1m4 0h2m3 0h1m5 0h1m6 0h2m5 0h1m5 0h4m1 0h1m4 0h1m2 0h1m1 0h1m8 0h1m10 0h1m11 0h7m11 0h4M341 799.5h2m1 0h2m1 0h6m6 0h1m1 0h3m1 0h2m3 0h2m1 0h2m2 0h5m2 0h2m3 0h2m2 0h1m4 0h1m3 0h1m7 0h5m3 0h1m9 0h1m1 0h3m1 0h2m4 0h2m1 0h2m1 0h7m6 0h1m5 0h1m4 0h1m2 0h1m4 0h1m7 0h1M341 800.5h1m1 0h1m5 0h1m5 0h4m1 0h4m2 0h1m3 0h2m3 0h2m4 0h2m3 0h2m1 0h5m2 0h1m1 0h1m1 0h5m3 0h3m2 0h1m1 0h1m2 0h3m2 0h3m1 0h1m1 0h1m5 0h4m1 0h1m2 0h1m2 0h1m5 0h3m1 0h2m1 0h3m4 0h1m1 0h2m2 0h1m1 0h1m2 0h2m1 0h1m3 0h1m1 0h1M343 801.5h1m5 0h6m1 0h1m2 0h1m1 0h2m6 0h2m1 0h1m3 0h1m1 0h1m1 0h1m1 0h1m1 0h2m1 0h1m6 0h1m3 0h3m3 0h2m5 0h2m5 0h1m6 0h2m1 0h1m6 0h2m1 0h6m1 0h5m3 0h2m4 0h1m1 0h1m2 0h1m1 0h2m1 0h1m2 0h1m4 0h2m3 0h1m1 0h1m1 0h1M340 802.5h3m4 0h1m8 0h1m8 0h3m7 0h2m2 0h2m3 0h10m3 0h4m2 0h1m2 0h1m2 0h2m3 0h10m1 0h3m1 0h1m10 0h1m4 0h5m1 0h1m7 0h1m1 0h5m10 0h1m1 0h3M340 803.5h1m5 0h5m10 0h1m2 0h2m1 0h5m2 0h4m4 0h3m1 0h1m2 0h6m5 0h1m1 0h5m7 0h2m2 0h4m7 0h3m1 0h1m10 0h3m1 0h1m3 0h4m3 0h1m2 0h2m3 0h2m1 0h1m5 0h1m2 0h1m2 0h1m2 0h1M342 804.5h1m2 0h3m13 0h2m1 0h1m3 0h3m2 0h2m2 0h3m5 0h6m2 0h1m5 0h1m1 0h1m1 0h2m1 0h2m2 0h1m8 0h1m6 0h1m3 0h2m1 0h1m4 0h3m4 0h1m1 0h3m2 0h1m1 0h2m1 0h1m14 0h1m3 0h1M345 805.5h1m2 0h2m7 0h1m6 0h4m9 0h3m4 0h3m6 0h1m7 0h7m10 0h1m11 0h3m2 0h1m2 0h1m2 0h2m1 0h1m13 0h3m4 0h1m1 0h1m10 0h2m6 0h1M339 806.5h1m1 0h3m1 0h1m3 0h1m3 0h1m1 0h1m1 0h4m1 0h2m3 0h2m2 0h2m3 0h2m3 0h1m1 0h2m6 0h2m13 0h1m3 0h1m1 0h1m19 0h1m1 0h2m7 0h4m8 0h1m5 0h1m4 0h1m1 0h5M343 807.5h1m4 0h4m6 0h3m16 0h1m9 0h1m14 0h3m1 0h1m2 0h5m2 0h2m14 0h1m8 0h1m2 0h3m2 0h1m4 0h2m2 0h2m4 0h2m6 0h2m1 0h3M341 808.5h4m2 0h1m5 0h1m1 0h1m13 0h1m2 0h1m4 0h2m5 0h1m1 0h1m3 0h1m24 0h1m2 0h1m13 0h2m9 0h1m4 0h5m4 0h1m19 0h1m3 0h1m3 0h1M340 809.5h1m1 0h1m2 0h2m3 0h1m5 0h8m5 0h1m3 0h1m4 0h2m5 0h1m11 0h2m3 0h6m7 0h1m3 0h4m5 0h1m5 0h1m4 0h1m2 0h6m9 0h1m1 0h1m18 0h1M339 810.5h1m2 0h1m3 0h2m8 0h1m1 0h2m2 0h1m23 0h1m4 0h3m2 0h1m2 0h2m2 0h1m11 0h1m20 0h1m1 0h3m2 0h2m6 0h1m13 0h2m2 0h1m9 0h1m2 0h2m1 0h2" stroke="#353535" stroke-width="1" fill="none"/>
<path d="M337.9 726.2L337.9 812.6" stroke="#000" stroke-width="2"/>
<path d="M336.9 811.6L488 811.6" stroke="#000" stroke-width="2"/>
<path d="M333.9 736.3L337.9 736.3" stroke="#000" stroke-width="1.6"/>
<text x="329" y="743.7" text-anchor="end">1</text>
<path d="M333.9 808.7L337.9 808.7" stroke="#000" stroke-width="1.6"/>
<text x="329" y="816.1" text-anchor="end">500</text>
<path d="M358.6 811.6L358.6 815.6" stroke="#000" stroke-width="1.6"/>
<path d="M401.6 811.6L401.6 815.6" stroke="#000" stroke-width="1.6"/>
<path d="M443.5 811.6L443.5 815.6" stroke="#000" stroke-width="1.6"/>
<path d="M488 811.6L488 815.6" stroke="#000" stroke-width="1.6"/>
<rect x="569.7" y="625" width="37.5" height="95" fill="#dcdcdc"/>
<clipPath id="cl3"><rect x="536" y="620" width="146" height="99.5"/></clipPath><g clip-path="url(#cl3)">
<path d="M535.9 641.5C536.7 640.9 538.7 639.2 540.4 638.1C542.1 636.9 544.5 634.5 546.1 634.7C547.7 634.9 548.5 638.7 550 639.2C551.5 639.7 553.1 637.3 555.1 637.5C557.1 637.7 559.6 639.2 561.9 640.3C564.2 641.5 566.8 643.1 568.7 644.3C570.6 645.5 571.7 646.8 573.2 647.7C574.7 648.5 575.8 648.2 577.7 649.4C579.6 650.6 582.6 653 584.5 655C586.4 657.1 587.3 659.5 589 661.8C590.7 664.1 593.2 665.8 594.7 668.6C596.2 671.4 596.7 675.6 598.1 678.8C599.4 682 601.1 685.9 602.6 687.8C604.1 689.7 605.4 689.1 607.1 690.1C608.8 691 611.1 692.6 612.7 693.4C614.4 694.3 615.6 695 617.3 695.1C619 695.2 620.8 693.5 622.9 694C625 694.5 627.4 698.2 629.7 698C632 697.8 634.6 693.9 636.5 692.9C638.4 691.8 638.7 691.8 641 691.8C643.3 691.7 647.2 691.1 650 692.3C652.9 693.5 655.7 697.9 657.9 699.1C660.2 700.3 661.5 698.9 663.6 699.7C665.7 700.4 668.5 703 670.4 703.6C672.3 704.3 673.8 703.2 674.9 703.6C676 704 676.1 705.9 677.2 705.9C678.2 705.9 680.4 704 681.1 703.6L681.1 717.2C680.4 717.4 678.2 718.3 677.2 718.3C676.1 718.3 676 717.6 674.9 717.2C673.8 716.8 672.3 716.6 670.4 716C668.5 715.5 665.7 714.4 663.6 713.8C661.5 713.2 660.2 713.6 657.9 712.7C655.7 711.7 652.9 709.1 650 708.1C647.2 707.2 643.3 707 641 707C638.7 707 638.4 707.4 636.5 708.1C634.6 708.9 632 711.4 629.7 711.5C627.4 711.6 625 708.9 622.9 708.7C620.8 708.5 619 710.7 617.3 710.4C615.6 710.1 614.4 707.9 612.7 707C611.1 706.1 608.8 705.3 607.1 704.7C605.4 704.2 604.1 704.7 602.6 703.6C601.1 702.5 599.4 700.2 598.1 698C596.7 695.7 596.2 692.5 594.7 690.1C593.2 687.6 590.7 685.3 589 683.3C587.3 681.2 586.4 679.7 584.5 677.6C582.6 675.6 579.6 672.4 577.7 670.8C575.8 669.3 574.7 669.3 573.2 668.6C571.7 667.8 570.6 667.3 568.7 666.3C566.8 665.4 564.2 664.1 561.9 662.9C559.6 661.8 557.1 659.8 555.1 659.5C553.1 659.3 551.5 661.6 550 661.2C548.5 660.9 547.7 657.6 546.1 657.3C544.5 657 542.1 658.6 540.4 659.5C538.7 660.5 536.7 662.4 535.9 662.9Z" fill="#42b147" fill-opacity="0.55"/>
<path d="M535.9 641.5C536.7 640.9 538.7 639.2 540.4 638.1C542.1 636.9 544.5 634.5 546.1 634.7C547.7 634.9 548.5 638.7 550 639.2C551.5 639.7 553.1 637.3 555.1 637.5C557.1 637.7 559.6 639.2 561.9 640.3C564.2 641.5 566.8 643.1 568.7 644.3C570.6 645.5 571.7 646.8 573.2 647.7C574.7 648.5 575.8 648.2 577.7 649.4C579.6 650.6 582.6 653 584.5 655C586.4 657.1 587.3 659.5 589 661.8C590.7 664.1 593.2 665.8 594.7 668.6C596.2 671.4 596.7 675.6 598.1 678.8C599.4 682 601.1 685.9 602.6 687.8C604.1 689.7 605.4 689.1 607.1 690.1C608.8 691 611.1 692.6 612.7 693.4C614.4 694.3 615.6 695 617.3 695.1C619 695.2 620.8 693.5 622.9 694C625 694.5 627.4 698.2 629.7 698C632 697.8 634.6 693.9 636.5 692.9C638.4 691.8 638.7 691.8 641 691.8C643.3 691.7 647.2 691.1 650 692.3C652.9 693.5 655.7 697.9 657.9 699.1C660.2 700.3 661.5 698.9 663.6 699.7C665.7 700.4 668.5 703 670.4 703.6C672.3 704.3 673.8 703.2 674.9 703.6C676 704 676.1 705.9 677.2 705.9C678.2 705.9 680.4 704 681.1 703.6M681.1 717.2C680.4 717.4 678.2 718.3 677.2 718.3C676.1 718.3 676 717.6 674.9 717.2C673.8 716.8 672.3 716.6 670.4 716C668.5 715.5 665.7 714.4 663.6 713.8C661.5 713.2 660.2 713.6 657.9 712.7C655.7 711.7 652.9 709.1 650 708.1C647.2 707.2 643.3 707 641 707C638.7 707 638.4 707.4 636.5 708.1C634.6 708.9 632 711.4 629.7 711.5C627.4 711.6 625 708.9 622.9 708.7C620.8 708.5 619 710.7 617.3 710.4C615.6 710.1 614.4 707.9 612.7 707C611.1 706.1 608.8 705.3 607.1 704.7C605.4 704.2 604.1 704.7 602.6 703.6C601.1 702.5 599.4 700.2 598.1 698C596.7 695.7 596.2 692.5 594.7 690.1C593.2 687.6 590.7 685.3 589 683.3C587.3 681.2 586.4 679.7 584.5 677.6C582.6 675.6 579.6 672.4 577.7 670.8C575.8 669.3 574.7 669.3 573.2 668.6C571.7 667.8 570.6 667.3 568.7 666.3C566.8 665.4 564.2 664.1 561.9 662.9C559.6 661.8 557.1 659.8 555.1 659.5C553.1 659.3 551.5 661.6 550 661.2C548.5 660.9 547.7 657.6 546.1 657.3C544.5 657 542.1 658.6 540.4 659.5C538.7 660.5 536.7 662.4 535.9 662.9" stroke="#6cc070" stroke-width="1.4" fill="none" stroke-opacity="0.9"/>
<path d="M535.9 652.2C536.7 651.6 538.7 649.8 540.4 648.8C542.1 647.8 544.5 645.8 546.1 646C547.7 646.2 548.5 649.6 550 649.9C551.5 650.3 553.1 648 555.1 648.2C557.1 648.5 559.6 650.4 561.9 651.6C564.2 652.9 566.8 654.5 568.7 655.6C570.6 656.7 571.7 657.7 573.2 658.4C574.7 659.2 575.8 658.8 577.7 660.1C579.6 661.4 582.6 664.4 584.5 666.3C586.4 668.3 587.3 669.9 589 672C590.7 674 593.2 676.1 594.7 678.8C596.2 681.4 596.7 685.1 598.1 687.8C599.4 690.5 601.1 693.4 602.6 695.1C604.1 696.8 605.4 697.1 607.1 698C608.8 698.8 611.1 699.4 612.7 700.2C614.4 701.1 615.6 702.9 617.3 703.1C619 703.2 620.8 701.1 622.9 701.4C625 701.6 627.4 704.8 629.7 704.7C632 704.7 634.6 701.6 636.5 700.8C638.4 699.9 638.7 699.8 641 699.7C643.3 699.6 647.2 699.2 650 700.2C652.9 701.3 655.7 704.7 657.9 705.9C660.2 707 661.5 706.3 663.6 707C665.7 707.7 668.5 709.4 670.4 709.8C672.3 710.3 673.8 709.5 674.9 709.8C676 710.2 676.1 712 677.2 712.1C678.2 712.2 680.4 710.7 681.1 710.4" stroke="#22a63a" stroke-width="2" fill="none"/>
</g>
<path d="M607.6 634V811" stroke="#222" stroke-width="1.5" stroke-dasharray="9 3.5"/>
<path d="M535.2 634.2L535.2 721.3" stroke="#000" stroke-width="2"/>
<path d="M534.2 720.3L681.3 720.3" stroke="#000" stroke-width="2"/>
<path d="M531.2 649.8L535.2 649.8" stroke="#000" stroke-width="1.6"/>
<text x="526.8" y="657.2" text-anchor="end">30</text>
<path d="M531.2 684.9L535.2 684.9" stroke="#000" stroke-width="1.6"/>
<text x="526.8" y="692.3" text-anchor="end">20</text>
<path d="M531.2 720L535.2 720" stroke="#000" stroke-width="1.6"/>
<text x="526.8" y="727.4" text-anchor="end">10</text>
<path d="M607.6 720.3L607.6 724.3" stroke="#000" stroke-width="1.6"/>
<path d="M681.3 720.3L681.3 724.3" stroke="#000" stroke-width="1.6"/>
<path d="M536 725.5h1m1 0h4m1 0h5m1 0h4m1 0h1m1 0h1m1 0h1m1 0h1m1 0h1m1 0h6m1 0h1m1 0h1m1 0h2m1 0h6m1 0h8m1 0h2m1 0h3m1 0h1m1 0h2m1 0h1m1 0h1m1 0h1m1 0h1m1 0h1m1 0h1m1 0h1m1 0h1m1 0h3m1 0h3m1 0h7m1 0h3m1 0h3m1 0h3m1 0h2m1 0h3m2 0h1m2 0h1m1 0h8m1 0h2m1 0h2m1 0h3M536 726.5h1m1 0h7m1 0h4m1 0h1m1 0h4m1 0h4m1 0h1m1 0h1m1 0h1m1 0h1m1 0h1m1 0h4m1 0h2m1 0h4m1 0h1m1 0h1m1 0h2m1 0h1m1 0h1m1 0h2m1 0h2m1 0h5m1 0h1m1 0h2m1 0h4m1 0h5m1 0h1m1 0h2m1 0h1m1 0h2m1 0h1m1 0h2m1 0h1m1 0h1m1 0h3m1 0h2m1 0h4m1 0h3m1 0h1m1 0h2m2 0h1m1 0h1m1 0h1m1 0h2m1 0h2m1 0h2M536 727.5h1m1 0h1m1 0h1m1 0h1m1 0h1m1 0h1m1 0h4m1 0h1m1 0h2m1 0h6m1 0h1m1 0h2m1 0h8m1 0h2m1 0h1m1 0h1m1 0h1m1 0h2m1 0h2m1 0h1m1 0h4m1 0h1m1 0h1m1 0h1m1 0h1m2 0h1m1 0h5m2 0h1m1 0h4m1 0h2m2 0h7m1 0h2m2 0h1m11 0h2m1 0h3m1 0h1m4 0h2m6 0h4m1 0h2M536 728.5h1m1 0h1m1 0h1m1 0h2m1 0h1m1 0h2m1 0h1m1 0h2m1 0h1m1 0h1m1 0h2m1 0h3m1 0h4m1 0h3m1 0h1m1 0h1m1 0h1m1 0h2m1 0h1m1 0h1m1 0h1m1 0h3m1 0h3m1 0h2m1 0h1m1 0h1m1 0h1m1 0h5m3 0h1m2 0h1m1 0h3m1 0h3m2 0h1m1 0h4m2 0h1m2 0h3m1 0h2m1 0h2m1 0h2m3 0h1m2 0h1m1 0h1m2 0h1m1 0h1m6 0h1m1 0h1m2 0h1m1 0h2M536 729.5h3m1 0h1m1 0h2m1 0h2m1 0h2m1 0h3m1 0h1m1 0h1m1 0h1m1 0h2m1 0h1m1 0h1m1 0h3m1 0h3m1 0h1m1 0h2m1 0h1m1 0h2m1 0h2m1 0h2m1 0h2m1 0h2m1 0h5m1 0h4m2 0h7m1 0h3m1 0h1m3 0h1m1 0h2m1 0h2m4 0h1m1 0h1m1 0h4m2 0h5m2 0h3m1 0h6m2 0h2m1 0h2m1 0h8M536 730.5h2m3 0h5m1 0h1m1 0h2m1 0h2m1 0h1m1 0h1m1 0h3m1 0h1m1 0h6m1 0h4m1 0h1m1 0h2m1 0h1m1 0h3m2 0h2m2 0h2m1 0h2m1 0h1m1 0h2m1 0h2m2 0h3m4 0h2m6 0h2m1 0h3m1 0h1m2 0h2m1 0h4m1 0h1m4 0h2m4 0h1m3 0h1m1 0h1m1 0h10m2 0h1m1 0h2m1 0h2M536 731.5h4m1 0h4m1 0h1m1 0h4m1 0h1m1 0h1m1 0h3m1 0h2m1 0h4m1 0h2m1 0h1m1 0h2m1 0h2m1 0h1m1 0h3m1 0h1m1 0h5m1 0h3m1 0h1m1 0h1m1 0h2m1 0h1m1 0h1m1 0h2m1 0h5m1 0h2m2 0h3m1 0h2m3 0h2m2 0h2m2 0h5m1 0h1m1 0h1m1 0h1m4 0h4m1 0h1m5 0h1m1 0h1m1 0h3m6 0h1m1 0h1M536 732.5h2m1 0h1m1 0h2m2 0h1m1 0h1m3 0h3m1 0h1m1 0h4m1 0h2m1 0h2m1 0h1m6 0h1m1 0h4m1 0h2m1 0h3m1 0h2m1 0h1m1 0h3m1 0h3m1 0h3m2 0h2m2 0h5m1 0h1m7 0h2m2 0h1m1 0h1m3 0h3m13 0h1m12 0h1m1 0h1m1 0h1m1 0h2m1 0h1m1 0h3M536 733.5h3m1 0h1m1 0h1m1 0h4m1 0h5m1 0h1m1 0h1m1 0h3m1 0h4m1 0h3m1 0h1m1 0h1m1 0h3m1 0h1m1 0h3m1 0h2m1 0h3m1 0h1m1 0h3m1 0h1m1 0h1m1 0h5m1 0h4m1 0h2m2 0h1m6 0h1m2 0h1m5 0h4m3 0h1m2 0h1m1 0h1m6 0h1m2 0h3m1 0h1m1 0h1m1 0h1m3 0h2m1 0h1m7 0h2M537 734.5h3m1 0h2m1 0h2m2 0h2m1 0h3m1 0h2m1 0h3m1 0h1m2 0h3m1 0h1m2 0h1m1 0h3m1 0h1m6 0h2m1 0h2m1 0h2m1 0h2m1 0h1m1 0h3m3 0h1m1 0h3m4 0h1m2 0h1m7 0h1m13 0h4m8 0h1m4 0h3m4 0h1m2 0h1m4 0h1m2 0h1M536 735.5h2m1 0h1m1 0h2m1 0h1m1 0h1m1 0h5m1 0h1m1 0h3m1 0h2m1 0h4m1 0h2m1 0h1m1 0h1m1 0h1m1 0h1m1 0h1m1 0h1m1 0h3m1 0h1m1 0h3m1 0h3m1 0h4m1 0h1m1 0h1m1 0h2m2 0h6m1 0h6m1 0h3m1 0h5m1 0h1m1 0h2m5 0h1m1 0h2m3 0h1m2 0h1m8 0h1m1 0h6m1 0h4m1 0h1m2 0h2M536 736.5h1m1 0h2m1 0h1m1 0h2m1 0h2m1 0h2m1 0h3m1 0h1m1 0h2m1 0h1m1 0h2m1 0h1m1 0h1m1 0h4m1 0h1m1 0h1m1 0h2m1 0h1m1 0h2m1 0h2m1 0h1m1 0h2m1 0h1m1 0h1m1 0h2m1 0h1m1 0h2m1 0h7m3 0h2m2 0h2m2 0h1m3 0h5m3 0h1m3 0h1m1 0h2m1 0h3m1 0h2m1 0h1m2 0h1m1 0h1m3 0h3m1 0h1m3 0h1m1 0h2m1 0h2m1 0h1M536 737.5h2m1 0h1m1 0h1m1 0h2m1 0h2m1 0h3m1 0h1m1 0h6m1 0h1m1 0h2m1 0h4m1 0h2m1 0h2m1 0h1m1 0h1m1 0h1m1 0h1m1 0h3m1 0h1m1 0h2m1 0h2m1 0h4m1 0h1m1 0h3m1 0h1m1 0h2m1 0h2m1 0h1m1 0h2m1 0h1m1 0h3m2 0h3m1 0h2m2 0h1m1 0h8m1 0h2m1 0h1m2 0h1m1 0h6m1 0h1m2 0h3m1 0h4m2 0h1m1 0h2M537 738.5h1m2 0h1m2 0h3m2 0h1m3 0h3m1 0h1m1 0h1m1 0h5m1 0h1m1 0h1m1 0h2m1 0h1m1 0h2m1 0h1m1 0h11m1 0h2m1 0h4m1 0h1m1 0h1m1 0h4m1 0h1m1 0h1m1 0h2m1 0h2m2 0h2m1 0h1m1 0h2m1 0h1m1 0h1m4 0h3m1 0h2m8 0h3m2 0h2m1 0h2m2 0h1m5 0h2m2 0h1m1 0h3m3 0h2M537 739.5h3m1 0h4m1 0h2m3 0h2m5 0h2m4 0h2m1 0h1m2 0h2m3 0h1m4 0h3m3 0h3m1 0h4m1 0h1m1 0h1m4 0h1m1 0h1m2 0h8m3 0h2m1 0h1m1 0h1m20 0h1m4 0h2m1 0h2m3 0h2m1 0h1m7 0h1m3 0h1m1 0h2m2 0h1M536 740.5h3m1 0h1m1 0h2m1 0h1m1 0h1m1 0h2m1 0h2m1 0h1m1 0h1m1 0h2m1 0h4m1 0h1m1 0h1m1 0h1m1 0h1m1 0h2m1 0h2m1 0h1m1 0h2m1 0h1m1 0h1m1 0h2m1 0h2m1 0h1m1 0h1m1 0h1m1 0h1m1 0h1m1 0h3m1 0h2m1 0h3m1 0h4m1 0h1m1 0h2m1 0h5m1 0h2m1 0h2m1 0h6m1 0h1m1 0h5m1 0h5m1 0h1m1 0h4m1 0h5m1 0h1m1 0h1m1 0h1m1 0h2M536 741.5h2m1 0h1m1 0h4m1 0h1m1 0h1m1 0h3m1 0h1m1 0h5m1 0h1m1 0h3m1 0h2m1 0h1m1 0h1m1 0h2m1 0h2m1 0h2m1 0h3m1 0h1m1 0h3m1 0h5m1 0h1m1 0h6m2 0h1m1 0h1m1 0h8m1 0h2m2 0h3m2 0h2m6 0h4m1 0h1m1 0h1m3 0h2m1 0h2m2 0h1m3 0h2m2 0h1m1 0h5m1 0h1m1 0h1m2 0h2M536 742.5h2m1 0h4m1 0h1m1 0h2m1 0h8m1 0h3m1 0h3m1 0h8m1 0h1m1 0h1m1 0h2m1 0h1m1 0h2m1 0h1m1 0h4m1 0h1m1 0h3m1 0h1m1 0h1m1 0h4m2 0h1m1 0h1m1 0h8m2 0h2m8 0h3m3 0h2m2 0h1m2 0h3m3 0h1m2 0h1m3 0h2m3 0h1m3 0h1m2 0h1M537 743.5h3m1 0h2m2 0h5m1 0h5m5 0h1m4 0h5m2 0h1m1 0h1m1 0h7m1 0h1m1 0h2m2 0h1m1 0h4m5 0h1m1 0h1m1 0h2m2 0h4m3 0h1m3 0h1m1 0h1m2 0h1m3 0h4m2 0h1m14 0h2m14 0h2m3 0h2m1 0h2M536 744.5h1m1 0h2m1 0h2m2 0h6m2 0h3m4 0h1m1 0h1m2 0h3m2 0h1m1 0h2m2 0h1m4 0h4m2 0h3m2 0h4m1 0h1m2 0h3m1 0h1m1 0h6m2 0h2m7 0h1m2 0h1m5 0h4m2 0h2m5 0h4m12 0h1m3 0h4m2 0h2m2 0h1m3 0h2M536 745.5h1m1 0h1m3 0h1m2 0h2m2 0h1m2 0h1m3 0h5m5 0h1m1 0h2m1 0h1m1 0h1m1 0h8m2 0h3m2 0h1m1 0h1m4 0h7m1 0h2m1 0h2m8 0h1m5 0h1m1 0h3m1 0h1m13 0h2m1 0h1m3 0h3m3 0h1m14 0h1m5 0h3M536 746.5h1m1 0h2m1 0h3m1 0h1m1 0h1m1 0h2m1 0h8m1 0h2m1 0h3m1 0h2m1 0h1m1 0h2m1 0h3m1 0h1m1 0h4m1 0h1m1 0h4m1 0h1m1 0h1m1 0h1m1 0h3m1 0h2m1 0h3m3 0h5m3 0h4m5 0h1m1 0h2m2 0h1m1 0h2m2 0h1m3 0h1m4 0h1m1 0h1m1 0h4m1 0h1m1 0h2m3 0h1m2 0h2m1 0h3m4 0h1M536 747.5h2m1 0h1m1 0h2m1 0h2m1 0h4m1 0h1m1 0h1m1 0h2m1 0h2m1 0h1m1 0h2m1 0h3m1 0h3m1 0h3m1 0h2m1 0h3m1 0h2m1 0h4m1 0h2m1 0h1m1 0h2m1 0h2m1 0h2m1 0h1m2 0h1m2 0h9m2 0h2m1 0h3m1 0h1m3 0h2m2 0h10m1 0h2m2 0h2m1 0h5m3 0h1m1 0h1m1 0h1m2 0h4m1 0h3M536 748.5h1m1 0h2m1 0h3m1 0h3m1 0h2m1 0h4m1 0h1m1 0h4m1 0h1m1 0h1m1 0h2m1 0h1m1 0h1m1 0h1m2 0h1m1 0h1m1 0h2m1 0h1m1 0h1m2 0h3m2 0h2m1 0h1m1 0h3m1 0h2m1 0h6m2 0h1m2 0h5m4 0h1m4 0h2m3 0h1m1 0h1m1 0h1m1 0h3m4 0h3m4 0h2m1 0h3m2 0h1m2 0h3m1 0h1m1 0h1m1 0h4M536 749.5h2m1 0h7m1 0h3m1 0h1m1 0h1m1 0h1m1 0h3m1 0h3m1 0h5m1 0h2m1 0h1m1 0h1m1 0h2m1 0h4m1 0h1m1 0h1m1 0h1m1 0h2m1 0h2m1 0h3m1 0h3m1 0h1m1 0h2m1 0h3m2 0h3m2 0h1m1 0h1m4 0h1m5 0h2m1 0h1m2 0h1m1 0h4m1 0h3m2 0h1m1 0h2m2 0h2m2 0h2m1 0h1m1 0h5m1 0h2m1 0h4M536 750.5h3m1 0h2m1 0h2m1 0h2m1 0h1m1 0h2m1 0h2m1 0h2m1 0h1m1 0h2m1 0h4m1 0h2m1 0h2m1 0h2m1 0h2m1 0h3m1 0h1m1 0h1m1 0h1m1 0h1m1 0h1m1 0h1m1 0h3m1 0h1m1 0h2m1 0h3m1 0h2m3 0h2m2 0h1m2 0h1m1 0h2m1 0h1m4 0h4m2 0h2m1 0h2m1 0h1m2 0h1m1 0h12m2 0h2m1 0h4m4 0h1m2 0h1M536 751.5h1m1 0h4m1 0h1m1 0h3m3 0h2m2 0h6m1 0h2m1 0h2m1 0h1m1 0h2m1 0h5m1 0h4m1 0h1m1 0h1m1 0h5m1 0h1m1 0h6m1 0h1m1 0h1m1 0h5m1 0h2m4 0h1m1 0h2m1 0h4m1 0h1m4 0h1m4 0h2m4 0h1m6 0h1m2 0h2m2 0h2m2 0h1m1 0h3m3 0h1m1 0h1m1 0h6M536 752.5h4m1 0h4m1 0h1m1 0h2m1 0h2m1 0h2m1 0h2m1 0h1m1 0h6m1 0h3m1 0h3m1 0h1m1 0h1m1 0h1m1 0h1m1 0h3m1 0h5m1 0h1m1 0h1m1 0h3m1 0h2m1 0h2m1 0h1m1 0h1m2 0h3m2 0h1m1 0h5m3 0h2m1 0h1m1 0h2m1 0h1m1 0h1m1 0h1m1 0h1m2 0h2m2 0h1m1 0h3m3 0h1m1 0h1m1 0h4m1 0h3m2 0h3m3 0h3M537 753.5h1m1 0h2m1 0h2m1 0h1m3 0h1m1 0h1m1 0h7m9 0h2m1 0h1m4 0h1m1 0h1m1 0h4m7 0h2m4 0h3m4 0h1m2 0h1m4 0h1m4 0h1m5 0h3m1 0h4m5 0h2m9 0h2m12 0h1m7 0h1m4 0h4M536 754.5h2m1 0h1m1 0h1m1 0h5m1 0h2m1 0h2m1 0h2m1 0h2m2 0h3m1 0h3m1 0h1m1 0h6m1 0h1m2 0h2m1 0h1m1 0h2m1 0h2m1 0h1m2 0h2m1 0h2m1 0h1m1 0h1m1 0h1m1 0h3m1 0h1m1 0h3m2 0h1m1 0h2m1 0h2m1 0h1m3 0h1m3 0h6m1 0h2m5 0h2m3 0h3m1 0h1m2 0h4m4 0h1m1 0h4m2 0h1M536 755.5h2m1 0h1m1 0h2m2 0h1m1 0h1m1 0h3m1 0h1m1 0h3m1 0h2m2 0h1m2 0h3m1 0h1m1 0h1m1 0h3m1 0h5m1 0h1m2 0h1m1 0h1m1 0h3m1 0h1m1 0h2m1 0h2m1 0h2m1 0h3m1 0h1m3 0h1m2 0h2m3 0h4m3 0h1m1 0h6m2 0h1m1 0h1m6 0h1m1 0h2m1 0h4m3 0h1m6 0h1m2 0h1m1 0h2m1 0h1m1 0h1m1 0h2M536 756.5h1m1 0h1m1 0h2m1 0h1m2 0h4m1 0h2m1 0h2m1 0h1m1 0h1m1 0h1m1 0h2m1 0h1m1 0h3m1 0h4m1 0h1m1 0h1m1 0h2m1 0h1m1 0h3m1 0h1m1 0h4m1 0h1m1 0h1m1 0h4m2 0h2m2 0h2m1 0h7m3 0h4m1 0h1m1 0h2m2 0h2m1 0h1m1 0h4m2 0h4m1 0h2m4 0h2m1 0h1m7 0h4m3 0h1m1 0h1M536 757.5h1m2 0h2m1 0h3m1 0h1m1 0h1m2 0h2m1 0h3m1 0h2m2 0h3m3 0h1m1 0h3m1 0h3m3 0h8m2 0h3m1 0h2m3 0h4m2 0h1m1 0h2m1 0h1m7 0h1m4 0h2m7 0h8m2 0h7m2 0h2m2 0h1m4 0h1m2 0h3m3 0h2m2 0h8M536 758.5h2m1 0h6m1 0h2m1 0h1m1 0h4m1 0h3m1 0h1m1 0h1m1 0h3m1 0h2m1 0h1m1 0h2m1 0h1m1 0h1m1 0h4m1 0h1m1 0h1m1 0h1m1 0h3m1 0h2m1 0h2m1 0h1m2 0h1m1 0h3m7 0h3m4 0h1m1 0h1m1 0h1m1 0h1m1 0h1m1 0h2m2 0h2m5 0h2m1 0h4m8 0h1m6 0h1m4 0h4m1 0h3m1 0h1M537 759.5h2m1 0h2m1 0h1m1 0h1m2 0h1m1 0h1m2 0h1m1 0h2m1 0h1m1 0h4m1 0h4m1 0h2m1 0h6m1 0h2m1 0h1m1 0h1m2 0h4m2 0h3m1 0h1m1 0h1m1 0h1m1 0h1m1 0h2m1 0h1m1 0h1m4 0h2m3 0h1m3 0h3m1 0h1m2 0h1m1 0h1m2 0h2m3 0h3m1 0h1m2 0h3m3 0h4m4 0h4m1 0h1m4 0h1m1 0h4M536 760.5h3m1 0h2m1 0h2m1 0h2m1 0h1m1 0h2m3 0h1m1 0h1m1 0h1m1 0h1m1 0h1m1 0h2m1 0h3m1 0h1m1 0h1m1 0h1m1 0h1m1 0h2m1 0h3m1 0h2m1 0h5m1 0h3m1 0h1m1 0h4m2 0h2m1 0h3m3 0h2m1 0h5m3 0h11m3 0h2m2 0h1m1 0h1m5 0h1m2 0h1m2 0h1m2 0h1m3 0h4m2 0h1m3 0h2M539 761.5h2m2 0h1m3 0h2m1 0h3m4 0h1m2 0h1m1 0h3m3 0h1m3 0h2m3 0h2m1 0h1m1 0h1m3 0h1m1 0h1m1 0h2m1 0h1m3 0h1m1 0h1m1 0h2m2 0h1m2 0h1m3 0h2m2 0h2m2 0h1m1 0h2m6 0h3m4 0h1m2 0h3m6 0h1m5 0h1m7 0h2m11 0h1M536 762.5h3m1 0h1m1 0h2m1 0h2m1 0h1m3 0h1m1 0h2m1 0h1m1 0h1m1 0h4m1 0h1m3 0h2m1 0h2m1 0h1m1 0h1m1 0h3m1 0h1m1 0h5m1 0h5m1 0h1m3 0h4m2 0h1m1 0h4m1 0h2m5 0h2m1 0h1m1 0h1m2 0h5m1 0h3m2 0h4m2 0h3m1 0h2m1 0h4m2 0h1m1 0h5m1 0h1m2 0h1m3 0h1m1 0h1m1 0h2M536 763.5h2m1 0h1m1 0h6m2 0h1m1 0h2m1 0h4m1 0h3m1 0h1m1 0h4m1 0h5m1 0h2m1 0h3m1 0h3m1 0h1m1 0h3m1 0h1m1 0h2m1 0h1m1 0h2m1 0h5m3 0h1m1 0h1m4 0h8m6 0h4m1 0h1m1 0h2m1 0h2m4 0h4m6 0h1m7 0h1m1 0h3m1 0h4M536 764.5h2m1 0h3m1 0h5m1 0h1m1 0h1m1 0h4m1 0h5m1 0h1m1 0h8m1 0h4m1 0h3m1 0h6m1 0h2m1 0h1m1 0h1m1 0h1m1 0h1m1 0h4m1 0h6m1 0h3m1 0h2m1 0h3m2 0h3m2 0h2m1 0h3m1 0h4m2 0h1m2 0h3m1 0h1m2 0h1m4 0h5m2 0h1m3 0h3m1 0h1m1 0h5M536 765.5h1m1 0h3m1 0h1m2 0h2m1 0h1m1 0h3m1 0h1m1 0h1m1 0h2m1 0h9m1 0h3m1 0h1m2 0h3m1 0h6m1 0h1m2 0h4m1 0h2m1 0h8m2 0h1m4 0h1m1 0h2m1 0h1m1 0h1m1 0h1m1 0h3m3 0h3m3 0h1m4 0h3m6 0h1m3 0h3m3 0h1m1 0h1m2 0h3m3 0h1m1 0h3M536 766.5h1m2 0h1m1 0h2m1 0h1m1 0h3m1 0h1m1 0h1m1 0h1m1 0h4m1 0h1m2 0h2m1 0h1m1 0h1m1 0h3m1 0h1m1 0h2m1 0h1m1 0h1m1 0h21m1 0h3m1 0h1m2 0h2m1 0h4m1 0h1m10 0h1m4 0h4m1 0h1m1 0h2m5 0h1m6 0h1m1 0h1m3 0h2m2 0h1m2 0h2m3 0h1M536 767.5h4m1 0h1m2 0h2m1 0h2m1 0h1m1 0h3m1 0h2m1 0h1m1 0h1m1 0h1m1 0h3m1 0h1m1 0h1m2 0h4m2 0h1m2 0h1m1 0h2m1 0h1m1 0h1m1 0h2m1 0h2m2 0h4m2 0h1m1 0h1m6 0h4m2 0h1m1 0h4m1 0h2m2 0h2m4 0h3m1 0h1m1 0h8m1 0h2m2 0h5m2 0h1m3 0h1m1 0h4m2 0h5M536 768.5h1m1 0h1m1 0h1m1 0h1m1 0h2m1 0h1m1 0h2m2 0h4m1 0h5m1 0h2m1 0h1m1 0h3m2 0h3m1 0h1m1 0h8m1 0h2m1 0h1m1 0h1m1 0h5m1 0h1m1 0h4m1 0h3m2 0h1m2 0h4m8 0h1m2 0h1m1 0h8m1 0h1m1 0h1m1 0h1m1 0h5m3 0h2m1 0h5m1 0h1m1 0h1m4 0h1m1 0h6M536 769.5h4m1 0h2m1 0h6m1 0h5m1 0h2m2 0h3m1 0h1m1 0h2m1 0h3m1 0h1m1 0h1m1 0h3m1 0h6m2 0h5m2 0h2m1 0h1m1 0h1m1 0h4m1 0h2m1 0h1m1 0h1m3 0h1m10 0h4m2 0h1m2 0h1m10 0h1m2 0h2m2 0h2m3 0h1m3 0h4m1 0h4m1 0h3m1 0h1M536 770.5h1m1 0h2m1 0h2m1 0h3m1 0h1m2 0h1m1 0h1m1 0h1m1 0h5m1 0h1m2 0h1m1 0h4m1 0h2m1 0h2m1 0h2m1 0h1m1 0h3m1 0h1m2 0h1m2 0h7m1 0h1m1 0h2m3 0h3m3 0h1m6 0h2m1 0h2m1 0h2m1 0h1m2 0h1m1 0h1m5 0h1m1 0h2m4 0h4m3 0h2m1 0h4m1 0h1m3 0h1m3 0h2m3 0h3M536 771.5h1m1 0h1m1 0h1m1 0h3m1 0h1m1 0h2m1 0h5m1 0h1m1 0h1m1 0h2m1 0h4m1 0h1m1 0h1m1 0h1m1 0h1m1 0h8m1 0h1m1 0h2m1 0h2m1 0h3m1 0h2m1 0h5m1 0h1m3 0h6m1 0h3m1 0h3m2 0h3m1 0h2m2 0h6m1 0h1m1 0h1m1 0h1m1 0h1m1 0h5m1 0h1m1 0h2m1 0h2m1 0h3m2 0h2m2 0h1m1 0h5M536 772.5h1m1 0h1m2 0h1m1 0h3m1 0h1m1 0h2m1 0h4m2 0h4m1 0h2m2 0h1m1 0h2m1 0h2m1 0h1m1 0h2m1 0h1m1 0h3m2 0h2m1 0h2m1 0h1m1 0h1m1 0h1m1 0h3m1 0h5m2 0h1m1 0h6m2 0h2m2 0h1m1 0h4m1 0h1m2 0h2m2 0h1m1 0h1m1 0h4m6 0h2m1 0h1m2 0h3m1 0h1m4 0h2m4 0h3M536 773.5h1m1 0h4m1 0h1m1 0h2m1 0h1m1 0h2m1 0h1m1 0h3m2 0h4m1 0h1m1 0h1m1 0h2m1 0h2m1 0h1m1 0h3m1 0h2m1 0h2m1 0h2m1 0h1m1 0h4m2 0h2m1 0h1m1 0h1m1 0h4m3 0h1m4 0h7m8 0h2m1 0h1m2 0h3m4 0h2m8 0h1m6 0h3m4 0h7m2 0h2M536 774.5h1m3 0h4m1 0h4m1 0h3m1 0h1m1 0h2m1 0h4m1 0h1m1 0h1m1 0h2m1 0h3m1 0h2m1 0h1m1 0h1m1 0h4m1 0h4m1 0h1m2 0h1m1 0h3m2 0h5m1 0h5m3 0h4m2 0h2m3 0h1m5 0h1m3 0h2m2 0h3m1 0h1m3 0h2m4 0h1m6 0h3m5 0h2m3 0h1M536 775.5h1m3 0h1m3 0h4m2 0h4m3 0h1m3 0h4m1 0h5m3 0h4m3 0h5m1 0h5m1 0h1m5 0h2m4 0h2m6 0h2m5 0h2m2 0h2m3 0h3m1 0h3m3 0h4m6 0h3m2 0h1m3 0h4m3 0h1m1 0h1m1 0h3m1 0h3m1 0h1m2 0h1M536 776.5h1m1 0h3m1 0h5m1 0h1m2 0h4m2 0h2m2 0h1m1 0h2m1 0h2m1 0h1m1 0h1m1 0h3m4 0h1m1 0h3m1 0h3m1 0h1m1 0h1m1 0h1m1 0h1m1 0h2m1 0h2m1 0h2m1 0h1m1 0h1m5 0h3m2 0h1m1 0h2m6 0h1m2 0h1m1 0h1m2 0h2m1 0h1m3 0h2m1 0h2m1 0h2m1 0h1m3 0h2m2 0h1m1 0h3m3 0h3m1 0h1M536 777.5h1m1 0h1m1 0h6m1 0h2m1 0h3m1 0h7m1 0h1m1 0h3m1 0h2m1 0h2m1 0h2m1 0h1m2 0h6m1 0h4m1 0h1m1 0h1m1 0h3m1 0h1m1 0h2m1 0h4m2 0h1m1 0h8m6 0h3m1 0h4m5 0h1m1 0h1m6 0h4m2 0h1m5 0h4m3 0h1m1 0h1m2 0h1m4 0h1M536 778.5h1m1 0h1m1 0h2m1 0h1m1 0h1m1 0h3m1 0h1m1 0h1m1 0h1m1 0h1m1 0h1m1 0h4m1 0h3m1 0h1m1 0h5m1 0h1m1 0h1m1 0h4m1 0h3m2 0h1m1 0h2m1 0h2m1 0h8m1 0h2m1 0h2m1 0h1m3 0h4m2 0h1m2 0h2m2 0h1m6 0h2m1 0h1m3 0h1m4 0h4m2 0h2m1 0h2m2 0h2m4 0h3m4 0h2m1 0h1M536 779.5h1m1 0h2m1 0h2m1 0h2m1 0h1m1 0h1m1 0h3m1 0h4m1 0h1m1 0h4m1 0h5m1 0h2m1 0h3m1 0h5m1 0h1m1 0h1m1 0h6m1 0h1m1 0h3m1 0h1m1 0h3m8 0h2m1 0h1m3 0h2m1 0h2m3 0h2m3 0h2m5 0h4m1 0h1m1 0h2m2 0h2m1 0h2m8 0h1m7 0h2m2 0h1M538 780.5h2m4 0h1m3 0h2m6 0h1m6 0h1m1 0h2m2 0h1m3 0h2m2 0h1m3 0h2m2 0h3m4 0h2m1 0h4m2 0h2m2 0h2m4 0h2m2 0h1m2 0h2m8 0h3m2 0h3m2 0h2m6 0h4m5 0h1m2 0h3m3 0h2m1 0h1m5 0h6m1 0h1M536 781.5h2m2 0h2m1 0h1m1 0h4m1 0h8m1 0h2m1 0h3m1 0h2m1 0h2m1 0h3m1 0h1m1 0h2m1 0h3m1 0h1m1 0h6m1 0h3m1 0h1m1 0h9m2 0h1m5 0h2m4 0h1m1 0h1m5 0h3m4 0h1m1 0h4m1 0h1m10 0h1m1 0h2m2 0h1m1 0h1m4 0h3m1 0h2m1 0h1m1 0h1M536 782.5h1m1 0h2m1 0h5m1 0h1m1 0h1m1 0h2m1 0h2m1 0h5m1 0h2m1 0h1m1 0h1m1 0h2m1 0h6m1 0h1m1 0h1m1 0h3m1 0h1m1 0h2m1 0h3m1 0h5m1 0h1m1 0h2m1 0h4m1 0h3m5 0h1m1 0h4m1 0h1m3 0h1m2 0h2m1 0h1m1 0h1m2 0h3m1 0h3m1 0h3m2 0h3m2 0h3m7 0h3m1 0h4m1 0h1M537 783.5h1m1 0h5m1 0h1m1 0h1m1 0h1m1 0h2m1 0h2m1 0h4m1 0h3m2 0h3m1 0h3m1 0h2m1 0h1m1 0h1m1 0h2m1 0h3m1 0h2m2 0h1m1 0h1m1 0h2m1 0h1m1 0h1m2 0h1m1 0h1m1 0h1m3 0h2m2 0h2m2 0h3m4 0h2m1 0h1m3 0h1m5 0h3m4 0h2m1 0h2m1 0h4m5 0h2m2 0h1m2 0h1m1 0h1m2 0h2m2 0h1M536 784.5h1m1 0h1m1 0h1m1 0h1m1 0h3m1 0h3m2 0h2m1 0h4m1 0h6m1 0h2m1 0h2m1 0h1m1 0h2m1 0h7m1 0h2m2 0h1m1 0h1m1 0h4m2 0h5m1 0h2m2 0h3m1 0h2m2 0h1m2 0h1m2 0h1m2 0h1m3 0h1m5 0h2m2 0h1m2 0h2m6 0h2m4 0h2m8 0h1m2 0h5m1 0h3M536 785.5h1m1 0h2m1 0h2m1 0h1m1 0h5m1 0h1m1 0h5m1 0h3m1 0h2m1 0h1m1 0h1m1 0h1m1 0h2m1 0h7m1 0h1m1 0h2m1 0h1m1 0h2m1 0h5m1 0h1m1 0h1m1 0h4m1 0h5m5 0h1m3 0h1m1 0h2m1 0h1m4 0h1m1 0h1m2 0h1m2 0h1m2 0h2m4 0h1m1 0h1m2 0h1m1 0h5m1 0h2m1 0h2m1 0h2m2 0h1m6 0h1M536 786.5h1m1 0h2m1 0h1m1 0h1m1 0h3m1 0h3m1 0h3m1 0h1m1 0h2m3 0h2m1 0h1m1 0h3m1 0h2m1 0h1m1 0h1m1 0h6m1 0h2m2 0h1m1 0h1m1 0h5m2 0h1m1 0h1m1 0h1m1 0h1m3 0h4m5 0h1m7 0h1m1 0h1m3 0h2m1 0h5m6 0h2m2 0h2m1 0h1m3 0h6m1 0h4m3 0h1m1 0h2M536 787.5h4m1 0h2m1 0h10m1 0h1m1 0h2m1 0h1m1 0h6m1 0h5m1 0h4m1 0h2m1 0h1m1 0h1m1 0h1m1 0h1m1 0h1m1 0h1m1 0h5m1 0h2m1 0h1m1 0h1m1 0h2m1 0h2m1 0h2m1 0h1m3 0h2m1 0h2m1 0h2m2 0h6m1 0h1m1 0h1m5 0h1m2 0h4m5 0h3m1 0h2m1 0h4m1 0h1m1 0h3m1 0h4M536 788.5h1m1 0h1m1 0h1m1 0h3m1 0h2m1 0h6m2 0h4m1 0h9m2 0h2m1 0h4m1 0h2m1 0h1m1 0h3m2 0h4m1 0h2m1 0h3m1 0h4m1 0h3m1 0h1m2 0h3m2 0h1m3 0h4m1 0h2m1 0h1m1 0h1m1 0h4m3 0h1m2 0h2m2 0h2m5 0h4m1 0h1m2 0h3m2 0h3m1 0h3M537 789.5h2m1 0h1m1 0h4m1 0h1m1 0h1m1 0h1m1 0h2m1 0h3m1 0h1m1 0h1m1 0h1m1 0h2m1 0h2m1 0h3m1 0h2m1 0h2m1 0h2m1 0h1m1 0h1m2 0h3m1 0h1m1 0h4m1 0h4m1 0h1m2 0h9m2 0h2m6 0h1m2 0h1m1 0h2m1 0h1m1 0h1m2 0h1m5 0h1m5 0h2m2 0h1m1 0h2m1 0h1m1 0h2m1 0h1m10 0h2M537 790.5h4m1 0h1m2 0h1m3 0h5m3 0h2m2 0h2m2 0h1m1 0h1m1 0h1m1 0h1m1 0h3m2 0h1m1 0h1m1 0h1m1 0h1m1 0h2m1 0h2m3 0h1m1 0h3m1 0h6m1 0h1m1 0h3m4 0h1m2 0h1m3 0h3m1 0h1m1 0h4m7 0h1m1 0h2m1 0h1m4 0h1m2 0h5m5 0h2m2 0h1m1 0h1M536 791.5h1m1 0h2m2 0h1m1 0h2m1 0h9m1 0h1m1 0h2m1 0h1m1 0h3m1 0h12m1 0h1m1 0h12m2 0h2m1 0h1m1 0h1m1 0h1m1 0h1m1 0h4m5 0h5m2 0h1m7 0h2m4 0h1m1 0h1m3 0h1m1 0h1m1 0h3m1 0h4m11 0h3m1 0h1m1 0h3m4 0h1M536 792.5h1m2 0h2m1 0h3m2 0h1m1 0h3m1 0h1m1 0h2m2 0h2m2 0h2m1 0h2m1 0h1m1 0h1m1 0h5m1 0h1m1 0h2m1 0h1m1 0h1m1 0h1m1 0h1m1 0h1m1 0h1m1 0h1m1 0h5m1 0h5m7 0h1m2 0h2m1 0h5m5 0h4m3 0h2m4 0h2m7 0h1m2 0h1m9 0h1m1 0h1m3 0h1m3 0h1M536 793.5h1m1 0h2m1 0h5m1 0h3m1 0h3m1 0h1m1 0h2m1 0h1m1 0h2m1 0h5m1 0h1m1 0h1m2 0h1m1 0h2m2 0h2m2 0h3m1 0h1m1 0h1m1 0h1m1 0h4m2 0h2m1 0h3m1 0h1m1 0h1m3 0h1m2 0h1m1 0h1m4 0h1m6 0h4m4 0h2m1 0h4m6 0h3m2 0h1m3 0h2m1 0h2m3 0h3m1 0h4m2 0h1M536 794.5h1m1 0h1m1 0h1m1 0h3m1 0h1m1 0h6m1 0h4m1 0h1m1 0h2m3 0h2m3 0h2m1 0h5m2 0h3m1 0h3m1 0h1m1 0h1m1 0h4m1 0h1m1 0h2m1 0h1m1 0h1m1 0h2m1 0h2m1 0h4m3 0h2m1 0h1m5 0h1m1 0h1m4 0h1m2 0h1m4 0h3m1 0h1m1 0h4m3 0h1m5 0h4m3 0h3m3 0h1M536 795.5h1m1 0h1m1 0h1m2 0h4m1 0h1m1 0h1m1 0h4m1 0h2m1 0h3m1 0h2m1 0h1m1 0h1m1 0h1m1 0h4m1 0h2m2 0h4m1 0h4m1 0h1m1 0h1m1 0h3m3 0h2m1 0h3m2 0h1m4 0h1m1 0h2m1 0h1m1 0h6m3 0h8m1 0h1m1 0h1m6 0h3m3 0h3m3 0h4m2 0h1m6 0h1m2 0h2M536 796.5h2m1 0h1m1 0h1m2 0h3m1 0h2m1 0h1m1 0h2m1 0h3m2 0h1m1 0h5m2 0h1m1 0h2m1 0h1m1 0h2m1 0h1m1 0h3m1 0h2m1 0h1m1 0h6m1 0h2m1 0h1m1 0h1m1 0h1m1 0h1m2 0h1m1 0h1m4 0h1m1 0h2m2 0h11m4 0h1m6 0h1m2 0h2m1 0h4m2 0h1m2 0h2m1 0h1m1 0h3m1 0h2m1 0h3m1 0h1m1 0h3M536 797.5h1m1 0h1m1 0h3m1 0h3m1 0h3m1 0h5m1 0h1m1 0h1m1 0h2m1 0h3m1 0h1m1 0h1m1 0h1m1 0h4m1 0h1m1 0h2m1 0h1m1 0h2m1 0h2m1 0h1m1 0h1m1 0h7m1 0h1m1 0h5m1 0h1m2 0h1m1 0h2m2 0h1m1 0h4m1 0h3m1 0h1m1 0h2m2 0h1m2 0h2m1 0h1m1 0h4m1 0h3m1 0h1m1 0h4m3 0h5m1 0h2m1 0h2m2 0h1m1 0h1M536 798.5h6m1 0h4m1 0h1m1 0h5m1 0h6m1 0h2m1 0h6m1 0h1m1 0h1m1 0h2m1 0h3m1 0h1m1 0h5m1 0h3m1 0h1m1 0h1m1 0h1m1 0h2m1 0h2m1 0h1m1 0h5m1 0h1m1 0h1m1 0h1m2 0h4m5 0h1m1 0h2m1 0h1m1 0h3m1 0h2m1 0h1m3 0h2m1 0h2m2 0h1m2 0h1m2 0h1m1 0h1m1 0h1m1 0h2m1 0h2m3 0h2m1 0h1M536 799.5h6m1 0h1m1 0h7m2 0h1m2 0h2m1 0h6m1 0h5m1 0h1m1 0h1m1 0h3m1 0h2m1 0h1m1 0h1m1 0h1m1 0h1m1 0h1m2 0h3m1 0h1m1 0h1m1 0h2m1 0h1m1 0h1m3 0h1m1 0h1m2 0h2m1 0h2m3 0h3m1 0h1m2 0h1m2 0h4m5 0h1m1 0h7m3 0h2m5 0h2m1 0h2m1 0h1m2 0h1m1 0h2m2 0h1m1 0h1M536 800.5h1m1 0h1m1 0h1m1 0h3m1 0h3m1 0h3m1 0h1m1 0h1m2 0h4m1 0h3m2 0h3m1 0h6m2 0h3m2 0h1m1 0h1m2 0h1m2 0h1m2 0h1m1 0h6m2 0h2m3 0h3m3 0h1m2 0h1m1 0h1m5 0h2m4 0h4m2 0h5m2 0h1m3 0h3m8 0h1m1 0h1m2 0h1m1 0h2m1 0h1m2 0h1m1 0h2M536 801.5h1m1 0h4m1 0h1m1 0h2m1 0h3m1 0h4m1 0h5m2 0h3m1 0h2m1 0h1m1 0h1m1 0h5m1 0h2m1 0h2m1 0h1m1 0h1m1 0h2m1 0h4m1 0h2m1 0h2m3 0h2m1 0h1m8 0h6m2 0h1m2 0h4m6 0h2m1 0h1m1 0h1m1 0h1m1 0h3m1 0h5m3 0h1m2 0h1m1 0h1m1 0h1m2 0h6m1 0h3M542 802.5h1m2 0h4m2 0h2m3 0h1m1 0h1m1 0h3m2 0h3m1 0h3m2 0h2m1 0h2m1 0h1m1 0h2m1 0h6m2 0h3m2 0h2m3 0h1m1 0h4m2 0h2m3 0h1m5 0h2m3 0h1m2 0h1m1 0h4m3 0h1m4 0h2m1 0h2m2 0h2m1 0h4m1 0h1m2 0h4m4 0h2m5 0h1M536 803.5h1m1 0h1m1 0h2m1 0h1m1 0h1m1 0h1m1 0h1m1 0h2m1 0h1m1 0h3m1 0h1m1 0h2m1 0h4m1 0h1m1 0h3m1 0h4m1 0h1m1 0h4m1 0h1m1 0h1m1 0h1m1 0h1m1 0h3m2 0h1m1 0h1m1 0h2m1 0h3m3 0h3m2 0h1m4 0h3m2 0h1m6 0h1m1 0h1m2 0h3m1 0h3m1 0h1m1 0h3m2 0h2m5 0h1m5 0h1m1 0h1m8 0h1M536 804.5h3m3 0h2m1 0h3m1 0h2m1 0h1m1 0h4m1 0h1m1 0h1m1 0h1m1 0h5m1 0h4m1 0h1m1 0h4m1 0h6m1 0h1m1 0h7m1 0h1m1 0h1m1 0h2m1 0h2m2 0h1m6 0h2m1 0h1m2 0h2m1 0h2m2 0h1m2 0h1m3 0h3m2 0h7m1 0h1m2 0h1m1 0h4m9 0h1m4 0h2m1 0h2M536 805.5h1m1 0h1m1 0h1m1 0h5m2 0h6m1 0h3m1 0h2m1 0h2m1 0h2m1 0h2m1 0h6m1 0h2m1 0h1m1 0h1m1 0h1m2 0h1m1 0h2m1 0h1m1 0h2m1 0h2m1 0h3m1 0h2m2 0h3m2 0h1m2 0h1m1 0h1m7 0h3m3 0h2m2 0h4m6 0h3m2 0h1m9 0h3m1 0h4m1 0h1m1 0h6M536 806.5h4m2 0h2m1 0h1m1 0h6m1 0h1m2 0h1m1 0h1m2 0h2m1 0h4m1 0h2m1 0h3m1 0h1m1 0h3m1 0h6m2 0h1m1 0h1m1 0h4m3 0h1m1 0h1m3 0h1m5 0h2m3 0h1m2 0h1m3 0h1m1 0h4m6 0h4m4 0h3m3 0h1m1 0h2m2 0h3m5 0h1m4 0h4m1 0h5M536 807.5h1m1 0h2m1 0h2m1 0h1m1 0h2m1 0h1m1 0h1m1 0h1m1 0h1m1 0h2m1 0h1m1 0h2m1 0h4m1 0h1m1 0h1m2 0h1m1 0h1m1 0h2m1 0h1m1 0h3m1 0h1m2 0h1m1 0h3m1 0h5m1 0h1m1 0h1m1 0h4m3 0h3m3 0h1m2 0h5m1 0h3m1 0h1m6 0h1m4 0h2m1 0h3m1 0h3m2 0h1m2 0h2m1 0h1m3 0h1m5 0h2m5 0h1M537 808.5h2m1 0h1m3 0h3m4 0h1m1 0h1m5 0h1m1 0h1m1 0h2m1 0h2m2 0h7m2 0h1m3 0h2m1 0h1m1 0h1m1 0h1m2 0h3m3 0h1m1 0h1m1 0h2m1 0h1m3 0h4m3 0h1m3 0h1m3 0h3m6 0h1m3 0h2m9 0h1m2 0h1m3 0h2m6 0h2m8 0h1m2 0h1M536 809.5h5m1 0h1m1 0h3m1 0h5m1 0h1m1 0h1m1 0h1m1 0h6m1 0h1m1 0h3m1 0h6m1 0h4m1 0h2m1 0h5m1 0h2m1 0h4m1 0h1m1 0h1m1 0h5m1 0h1m1 0h1m3 0h1m1 0h1m4 0h1m3 0h4m1 0h3m2 0h2m1 0h4m1 0h3m1 0h2m1 0h1m1 0h1m1 0h1m1 0h2m2 0h1m1 0h3m3 0h1m6 0h2M536 810.5h2m1 0h1m3 0h1m2 0h4m1 0h7m4 0h2m1 0h3m1 0h5m1 0h7m2 0h2m3 0h1m2 0h1m2 0h1m3 0h2m1 0h1m1 0h1m2 0h2m4 0h3m1 0h1m1 0h1m2 0h2m5 0h1m1 0h3m3 0h1m2 0h1m11 0h2m3 0h3m1 0h1m2 0h1m3 0h1m2 0h1m3 0h1m1 0h4" stroke="#353535" stroke-width="1" fill="none"/>
<path d="M535.2 726L535.2 812.6" stroke="#000" stroke-width="2"/>
<path d="M534.2 811.6L681.3 811.6" stroke="#000" stroke-width="2"/>
<path d="M531.2 733.5L535.2 733.5" stroke="#000" stroke-width="1.6"/>
<text x="526.8" y="740.9" text-anchor="end">1</text>
<path d="M531.2 795.7L535.2 795.7" stroke="#000" stroke-width="1.6"/>
<text x="526.8" y="803.1" text-anchor="end">100</text>
<path d="M607.6 811.6L607.6 815.6" stroke="#000" stroke-width="1.6"/>
<path d="M681.3 811.6L681.3 815.6" stroke="#000" stroke-width="1.6"/>
<rect x="755.2" y="627" width="37.5" height="92.5" fill="#dcdcdc"/>
<clipPath id="cl4"><rect x="716" y="620" width="154" height="99"/></clipPath><g clip-path="url(#cl4)">
<path d="M716.4 662.6C717.6 662 721 660.2 723.6 659C726.2 657.9 730.2 656.2 732 655.7C733.8 655.2 733.3 655 734.4 656C735.5 657.1 737.2 661.5 738.6 662C740 662.5 740.9 661.3 742.8 659C744.7 656.7 748.1 650 750 648.2C751.9 646.4 752.8 649.5 754.2 648.2C755.6 646.9 757.2 642.2 758.4 640.4C759.6 638.7 760.4 638.1 761.4 637.8C762.4 637.5 763 637.7 764.4 638.6C765.8 639.6 767.7 642.9 769.8 643.4C771.9 643.9 775.3 641.7 777 641.6C778.7 641.5 778.7 641.6 780 642.8C781.3 644 783.2 646.2 784.8 648.8C786.4 651.4 788.2 655.2 789.6 658.4C791 661.6 791.6 664.2 793.2 668C794.8 671.8 797.3 677.8 799.2 681.2C801.1 684.6 802.5 688.5 804.7 688.4C806.8 688.3 809.4 681.7 811.9 680.6C814.4 679.5 817.4 681.2 819.7 681.8C822 682.4 823.2 682.7 825.7 684.2C828.2 685.7 831.9 691.2 834.7 690.8C837.5 690.4 840.4 683.7 842.5 681.8C844.6 679.9 845.3 681.1 847.3 679.4C849.3 677.7 852.6 672.3 854.5 671.6C856.4 671 857.4 674.8 858.7 675.5C860 676.1 861 672.9 862.3 675.5C863.6 678 865.8 688.3 866.5 690.8L866.5 718.5C865.8 715.3 863.6 702.5 862.3 699.8C861 697.1 860 702.4 858.7 702.2C857.4 702 856.4 698 854.5 698.6C852.6 699.2 849.3 704.3 847.3 705.8C845.3 707.3 844.6 706 842.5 707.6C840.4 709.2 837.5 715.2 834.7 715.4C831.9 715.6 828.2 710.3 825.7 708.8C823.2 707.3 822 707 819.7 706.4C817.4 705.8 814.4 704.3 811.9 705.2C809.4 706.1 806.8 711.8 804.7 711.8C802.5 711.8 801.1 708 799.2 705.2C797.3 702.4 794.8 698 793.2 695C791.6 692 791 690.3 789.6 687.2C788.2 684.1 786.4 679.1 784.8 676.4C783.2 673.7 781.3 672.2 780 671C778.7 669.9 778.7 669.6 777 669.5C775.3 669.4 771.9 671 769.8 670.4C767.7 669.9 765.9 667.1 764.4 666.2C762.9 665.3 762.5 663.7 760.8 665C759.1 666.3 756 672.3 754.2 674C752.4 675.7 751.9 673.3 750 675.2C748.1 677.1 744.7 683.1 742.8 685.4C740.9 687.7 740 689.1 738.6 689C737.2 688.9 735.5 685.5 734.4 684.8C733.3 684.1 733.8 684 732 684.8C730.2 685.6 726.2 688 723.6 689.6C721 691.2 717.6 693.6 716.4 694.4Z" fill="#776fb5" fill-opacity="0.55"/>
<path d="M716.4 662.6C717.6 662 721 660.2 723.6 659C726.2 657.9 730.2 656.2 732 655.7C733.8 655.2 733.3 655 734.4 656C735.5 657.1 737.2 661.5 738.6 662C740 662.5 740.9 661.3 742.8 659C744.7 656.7 748.1 650 750 648.2C751.9 646.4 752.8 649.5 754.2 648.2C755.6 646.9 757.2 642.2 758.4 640.4C759.6 638.7 760.4 638.1 761.4 637.8C762.4 637.5 763 637.7 764.4 638.6C765.8 639.6 767.7 642.9 769.8 643.4C771.9 643.9 775.3 641.7 777 641.6C778.7 641.5 778.7 641.6 780 642.8C781.3 644 783.2 646.2 784.8 648.8C786.4 651.4 788.2 655.2 789.6 658.4C791 661.6 791.6 664.2 793.2 668C794.8 671.8 797.3 677.8 799.2 681.2C801.1 684.6 802.5 688.5 804.7 688.4C806.8 688.3 809.4 681.7 811.9 680.6C814.4 679.5 817.4 681.2 819.7 681.8C822 682.4 823.2 682.7 825.7 684.2C828.2 685.7 831.9 691.2 834.7 690.8C837.5 690.4 840.4 683.7 842.5 681.8C844.6 679.9 845.3 681.1 847.3 679.4C849.3 677.7 852.6 672.3 854.5 671.6C856.4 671 857.4 674.8 858.7 675.5C860 676.1 861 672.9 862.3 675.5C863.6 678 865.8 688.3 866.5 690.8M866.5 718.5C865.8 715.3 863.6 702.5 862.3 699.8C861 697.1 860 702.4 858.7 702.2C857.4 702 856.4 698 854.5 698.6C852.6 699.2 849.3 704.3 847.3 705.8C845.3 707.3 844.6 706 842.5 707.6C840.4 709.2 837.5 715.2 834.7 715.4C831.9 715.6 828.2 710.3 825.7 708.8C823.2 707.3 822 707 819.7 706.4C817.4 705.8 814.4 704.3 811.9 705.2C809.4 706.1 806.8 711.8 804.7 711.8C802.5 711.8 801.1 708 799.2 705.2C797.3 702.4 794.8 698 793.2 695C791.6 692 791 690.3 789.6 687.2C788.2 684.1 786.4 679.1 784.8 676.4C783.2 673.7 781.3 672.2 780 671C778.7 669.9 778.7 669.6 777 669.5C775.3 669.4 771.9 671 769.8 670.4C767.7 669.9 765.9 667.1 764.4 666.2C762.9 665.3 762.5 663.7 760.8 665C759.1 666.3 756 672.3 754.2 674C752.4 675.7 751.9 673.3 750 675.2C748.1 677.1 744.7 683.1 742.8 685.4C740.9 687.7 740 689.1 738.6 689C737.2 688.9 735.5 685.5 734.4 684.8C733.3 684.1 733.8 684 732 684.8C730.2 685.6 726.2 688 723.6 689.6C721 691.2 717.6 693.6 716.4 694.4" stroke="#9490c8" stroke-width="1.4" fill="none" stroke-opacity="0.9"/>
<path d="M716.4 678.8C717.6 678 721 675.5 723.6 674C726.2 672.5 730.2 670.5 732 669.8C733.8 669.2 733.3 669.3 734.4 670.2C735.5 671.1 737.2 675 738.6 675.2C740 675.5 740.9 673.9 742.8 671.6C744.7 669.3 748.1 663.2 750 661.4C751.9 659.6 752.4 662.5 754.2 660.8C756 659.2 759.1 652.8 760.8 651.5C762.5 650.1 762.9 651.8 764.4 652.7C765.9 653.5 767.7 656.1 769.8 656.6C771.9 657.1 775.3 655.6 777 655.7C778.7 655.8 778.7 656 780 657.2C781.3 658.5 783.2 660.6 784.8 663.2C786.4 665.8 788.2 669.8 789.6 672.8C791 675.8 791.6 678 793.2 681.2C794.8 684.4 797.3 688.9 799.2 692C801.1 695.1 802.5 699.7 804.7 699.8C806.8 699.9 809.4 693.5 811.9 692.6C814.4 691.7 817.4 693.6 819.7 694.4C822 695.2 823.2 696 825.7 697.4C828.2 698.8 831.9 703.2 834.7 702.8C837.5 702.4 840.4 696.7 842.5 695C844.6 693.3 845.3 694.2 847.3 692.6C849.3 691 852.6 686 854.5 685.4C856.4 684.8 857.4 688.5 858.7 689C860 689.5 861 686.1 862.3 688.4C863.6 690.7 865.8 700.4 866.5 702.8" stroke="#5e58aa" stroke-width="2" fill="none"/>
</g>
<path d="M793 634V811" stroke="#222" stroke-width="1.5" stroke-dasharray="9 3.5"/>
<path d="M715.2 633.5L715.2 720.7" stroke="#000" stroke-width="2"/>
<path d="M714.2 719.7L868.7 719.7" stroke="#000" stroke-width="2"/>
<path d="M711.2 633.7L715.2 633.7" stroke="#000" stroke-width="1.6"/>
<text x="708.3" y="641.1" text-anchor="end">60</text>
<path d="M711.2 662.4L715.2 662.4" stroke="#000" stroke-width="1.6"/>
<path d="M711.2 691L715.2 691" stroke="#000" stroke-width="1.6"/>
<text x="708.3" y="698.4" text-anchor="end">40</text>
<path d="M793 719.7L793 723.7" stroke="#000" stroke-width="1.6"/>
<path d="M868.7 719.7L868.7 723.7" stroke="#000" stroke-width="1.6"/>
<path d="M719 724.5h1m1 0h2m1 0h2m1 0h1m1 0h2m1 0h2m1 0h2m1 0h2m1 0h4m1 0h1m1 0h1m2 0h2m1 0h3m1 0h4m1 0h2m1 0h3m1 0h4m1 0h4m1 0h3m2 0h2m1 0h2m2 0h2m2 0h3m1 0h5m1 0h2m1 0h6m1 0h2m2 0h1m1 0h1m1 0h1m1 0h2m1 0h2m1 0h1m1 0h1m1 0h2m1 0h5m1 0h5m1 0h6m1 0h1m1 0h1m1 0h2m1 0h1m1 0h1M719 725.5h2m2 0h1m2 0h2m1 0h1m4 0h1m1 0h3m1 0h2m1 0h3m1 0h1m2 0h1m1 0h1m4 0h3m1 0h2m4 0h1m1 0h1m1 0h2m2 0h1m2 0h3m1 0h7m1 0h2m1 0h2m4 0h2m3 0h2m1 0h1m1 0h1m1 0h2m1 0h2m1 0h1m1 0h1m1 0h3m1 0h1m1 0h1m1 0h1m1 0h4m2 0h3m1 0h2m1 0h2m2 0h3m1 0h2m1 0h1m1 0h2m1 0h1m1 0h1m2 0h1M719 726.5h2m1 0h3m1 0h1m1 0h1m1 0h1m1 0h1m1 0h5m2 0h1m1 0h3m1 0h1m1 0h8m3 0h2m1 0h2m1 0h1m1 0h1m1 0h1m1 0h1m1 0h4m1 0h2m1 0h5m1 0h2m1 0h2m1 0h1m2 0h1m1 0h2m1 0h3m1 0h1m1 0h1m3 0h1m1 0h2m1 0h1m1 0h5m1 0h3m1 0h2m1 0h4m1 0h2m1 0h1m1 0h1m3 0h3m1 0h1m1 0h3m1 0h2m3 0h2m1 0h2M720 727.5h3m1 0h4m1 0h2m1 0h3m1 0h1m2 0h1m1 0h3m1 0h3m1 0h1m1 0h3m3 0h2m3 0h1m1 0h1m1 0h1m1 0h4m1 0h2m1 0h2m2 0h1m1 0h2m1 0h1m1 0h4m3 0h6m1 0h2m1 0h1m1 0h1m1 0h1m3 0h1m1 0h1m2 0h2m1 0h2m1 0h1m1 0h1m1 0h4m1 0h3m1 0h1m2 0h5m1 0h1m2 0h2m1 0h2m1 0h4m1 0h1m1 0h3m1 0h1m1 0h1M719 728.5h3m4 0h1m1 0h1m1 0h1m1 0h1m1 0h1m1 0h1m1 0h3m1 0h2m1 0h5m1 0h1m1 0h1m2 0h1m1 0h3m1 0h1m1 0h3m1 0h1m1 0h4m1 0h6m2 0h5m1 0h3m1 0h2m1 0h1m2 0h1m1 0h1m1 0h4m1 0h1m1 0h1m3 0h7m1 0h5m3 0h1m2 0h1m1 0h2m1 0h2m2 0h1m1 0h1m2 0h2m1 0h4m1 0h1m1 0h2m2 0h1m1 0h3m1 0h1M719 729.5h1m1 0h3m1 0h1m2 0h2m2 0h1m2 0h1m1 0h1m1 0h1m1 0h4m1 0h4m2 0h5m1 0h1m3 0h2m1 0h1m1 0h3m1 0h2m4 0h3m1 0h1m4 0h1m4 0h1m1 0h1m2 0h5m3 0h3m1 0h1m3 0h1m1 0h6m2 0h1m1 0h3m5 0h1m3 0h5m6 0h5m2 0h2m5 0h1m3 0h1m1 0h1M719 730.5h1m1 0h1m1 0h3m1 0h2m1 0h2m1 0h2m1 0h2m1 0h1m1 0h1m1 0h7m1 0h4m1 0h1m1 0h1m1 0h5m1 0h5m1 0h5m1 0h1m1 0h4m1 0h1m1 0h1m1 0h8m1 0h2m1 0h1m1 0h2m1 0h1m1 0h2m1 0h5m1 0h2m1 0h2m1 0h1m1 0h1m1 0h2m1 0h1m1 0h1m1 0h4m1 0h2m1 0h1m1 0h1m1 0h8m1 0h3m1 0h1m1 0h1m1 0h1m1 0h3M719 731.5h1m1 0h2m1 0h5m2 0h2m2 0h6m2 0h3m1 0h1m2 0h1m1 0h2m1 0h3m1 0h1m1 0h7m1 0h4m1 0h1m1 0h1m1 0h3m2 0h2m1 0h1m1 0h2m1 0h1m1 0h1m1 0h4m1 0h1m1 0h2m1 0h1m2 0h3m1 0h2m1 0h1m1 0h1m1 0h1m1 0h2m1 0h1m2 0h2m1 0h6m1 0h9m2 0h1m1 0h2m1 0h1m1 0h3m1 0h4m1 0h1m1 0h1M719 732.5h3m1 0h2m1 0h2m1 0h1m1 0h1m1 0h1m1 0h4m1 0h2m1 0h9m1 0h6m1 0h2m1 0h3m1 0h2m1 0h1m1 0h3m1 0h2m1 0h7m1 0h1m1 0h4m1 0h1m1 0h1m1 0h4m1 0h3m1 0h2m1 0h1m1 0h1m2 0h3m1 0h4m1 0h3m1 0h6m1 0h3m1 0h2m1 0h2m1 0h4m1 0h3m3 0h1m1 0h2m2 0h3m1 0h1M719 733.5h1m1 0h5m1 0h3m1 0h5m1 0h1m1 0h8m2 0h1m5 0h6m1 0h3m2 0h4m6 0h1m1 0h2m1 0h3m2 0h5m2 0h2m2 0h1m1 0h1m1 0h2m6 0h1m1 0h3m1 0h2m2 0h1m2 0h3m1 0h1m1 0h4m2 0h1m7 0h7m2 0h1m1 0h2m3 0h3m1 0h2M719 734.5h1m1 0h2m1 0h4m1 0h1m1 0h1m1 0h2m1 0h1m3 0h3m1 0h1m1 0h2m2 0h2m1 0h1m1 0h1m1 0h6m1 0h2m1 0h5m1 0h1m1 0h1m2 0h1m1 0h2m1 0h1m1 0h1m1 0h1m2 0h1m1 0h1m2 0h3m1 0h1m1 0h1m1 0h2m1 0h2m3 0h4m1 0h2m2 0h2m2 0h5m1 0h7m1 0h1m1 0h4m1 0h2m1 0h2m2 0h2m1 0h1m1 0h3m2 0h2m1 0h1m1 0h1M719 735.5h2m3 0h1m1 0h1m2 0h3m1 0h3m1 0h3m1 0h2m6 0h1m1 0h2m1 0h1m2 0h1m1 0h1m2 0h2m1 0h1m1 0h1m1 0h2m1 0h4m1 0h2m1 0h3m1 0h1m2 0h1m1 0h2m3 0h3m1 0h1m3 0h1m2 0h1m1 0h1m1 0h2m1 0h2m1 0h1m3 0h3m1 0h2m5 0h5m2 0h2m1 0h2m1 0h3m1 0h3m2 0h7m1 0h3m3 0h2M722 736.5h13m3 0h3m1 0h3m2 0h1m6 0h4m4 0h1m2 0h2m8 0h1m7 0h3m2 0h1m3 0h4m5 0h2m3 0h1m4 0h2m2 0h2m4 0h5m1 0h1m1 0h1m14 0h1m1 0h1m1 0h1m1 0h3m2 0h1m1 0h2m5 0h3M719 737.5h3m3 0h3m1 0h1m1 0h2m1 0h4m1 0h3m1 0h1m1 0h1m1 0h2m2 0h1m1 0h4m3 0h1m1 0h3m2 0h2m1 0h3m1 0h1m1 0h1m2 0h4m2 0h3m1 0h2m1 0h1m1 0h1m1 0h2m3 0h1m1 0h2m2 0h2m1 0h2m2 0h1m1 0h4m1 0h5m2 0h1m1 0h2m1 0h2m1 0h2m1 0h1m1 0h2m1 0h1m1 0h1m1 0h3m1 0h1m1 0h1m1 0h1m3 0h1m2 0h3M722 738.5h2m1 0h7m3 0h1m6 0h6m2 0h1m2 0h1m3 0h2m5 0h3m4 0h5m1 0h3m4 0h2m2 0h1m2 0h3m3 0h4m3 0h1m1 0h6m3 0h10m4 0h1m1 0h1m3 0h2m2 0h1m1 0h6m1 0h1m6 0h2m2 0h2m2 0h1m2 0h2M719 739.5h1m8 0h1m2 0h2m3 0h1m6 0h1m1 0h2m1 0h2m1 0h1m2 0h2m1 0h4m1 0h1m1 0h1m2 0h3m1 0h3m2 0h1m1 0h2m3 0h2m1 0h1m1 0h2m1 0h1m2 0h1m1 0h1m1 0h2m1 0h1m2 0h2m1 0h4m1 0h2m1 0h2m2 0h1m1 0h1m2 0h1m1 0h2m7 0h1m2 0h1m1 0h1m1 0h1m1 0h3m3 0h2m2 0h1m1 0h2m2 0h4m2 0h2M722 740.5h1m2 0h6m2 0h1m5 0h1m1 0h2m4 0h3m1 0h2m1 0h2m5 0h1m7 0h2m3 0h4m5 0h6m3 0h1m2 0h4m2 0h1m9 0h3m1 0h2m2 0h2m1 0h4m4 0h2m5 0h3m5 0h4m2 0h1m1 0h2m2 0h1m4 0h2m1 0h3M719 741.5h2m4 0h3m3 0h1m3 0h3m1 0h1m2 0h1m3 0h3m1 0h1m2 0h1m1 0h1m2 0h1m1 0h4m2 0h2m2 0h1m3 0h1m3 0h2m1 0h1m4 0h8m5 0h1m9 0h1m1 0h1m1 0h1m2 0h2m3 0h3m1 0h1m1 0h2m2 0h4m2 0h1m1 0h3m6 0h1m1 0h3m1 0h3m3 0h2m2 0h1m1 0h2M726 742.5h3m3 0h1m1 0h2m1 0h2m1 0h4m5 0h1m1 0h2m1 0h4m1 0h2m1 0h1m2 0h1m1 0h2m2 0h2m2 0h2m1 0h1m1 0h2m3 0h2m1 0h2m8 0h3m1 0h1m2 0h3m1 0h4m2 0h2m2 0h1m1 0h3m4 0h2m1 0h1m2 0h1m1 0h3m1 0h1m2 0h4m3 0h4m2 0h2m4 0h1m1 0h2M719 743.5h2m2 0h3m1 0h3m2 0h3m1 0h1m12 0h1m1 0h1m1 0h2m4 0h1m2 0h1m1 0h1m5 0h2m1 0h2m4 0h2m2 0h1m4 0h1m3 0h1m4 0h1m4 0h1m1 0h1m2 0h2m3 0h2m6 0h1m8 0h2m6 0h1m1 0h1m1 0h2m1 0h2m2 0h2m8 0h1m2 0h1m1 0h1M727 744.5h1m1 0h1m2 0h3m1 0h4m1 0h1m1 0h1m2 0h1m2 0h1m1 0h2m2 0h1m7 0h1m5 0h1m1 0h1m4 0h1m2 0h5m6 0h1m4 0h2m2 0h1m2 0h2m4 0h2m4 0h2m1 0h2m13 0h1m1 0h1m1 0h4m2 0h6m4 0h1m3 0h1m2 0h4m2 0h1m1 0h1M719 745.5h1m8 0h5m6 0h3m6 0h3m1 0h1m2 0h4m2 0h1m1 0h2m7 0h2m4 0h2m1 0h1m6 0h1m3 0h2m2 0h3m9 0h2m1 0h2m1 0h3m4 0h1m1 0h1m1 0h2m4 0h1m1 0h3m1 0h1m2 0h1m2 0h1m1 0h1m2 0h1m5 0h1m2 0h3m1 0h1m1 0h2M719 746.5h2m1 0h3m1 0h3m1 0h1m2 0h2m1 0h2m1 0h9m1 0h1m3 0h4m1 0h10m1 0h4m2 0h5m2 0h5m2 0h5m3 0h1m1 0h2m1 0h1m1 0h2m2 0h3m2 0h3m1 0h1m1 0h1m2 0h2m2 0h2m2 0h3m1 0h1m1 0h4m3 0h1m1 0h3m1 0h1m3 0h3m1 0h3m1 0h4M722 747.5h1m3 0h5m2 0h3m1 0h1m3 0h2m1 0h2m5 0h1m2 0h6m1 0h2m1 0h1m7 0h1m2 0h2m2 0h1m2 0h3m2 0h2m6 0h4m2 0h2m1 0h1m1 0h1m2 0h1m2 0h3m1 0h2m3 0h1m1 0h1m1 0h1m3 0h5m4 0h2m2 0h2m2 0h2m2 0h1m2 0h3m4 0h2m1 0h3M719 748.5h1m3 0h3m3 0h2m2 0h2m5 0h3m1 0h1m2 0h2m3 0h1m1 0h1m3 0h4m4 0h2m2 0h5m1 0h1m5 0h1m1 0h2m1 0h6m1 0h1m3 0h2m2 0h5m2 0h3m6 0h1m1 0h1m3 0h2m1 0h1m2 0h1m3 0h1m3 0h3m3 0h2m1 0h1m1 0h2m4 0h3m2 0h2m1 0h1m2 0h2M721 749.5h1m1 0h1m7 0h1m1 0h1m1 0h1m1 0h1m1 0h3m1 0h1m1 0h1m1 0h1m1 0h1m3 0h3m3 0h3m1 0h3m3 0h1m1 0h1m3 0h1m2 0h3m2 0h4m4 0h3m1 0h2m4 0h2m1 0h2m2 0h2m3 0h1m4 0h2m1 0h8m1 0h1m2 0h1m1 0h5m1 0h1m3 0h2m1 0h2m1 0h1m1 0h3m2 0h1m2 0h4m2 0h1M721 750.5h1m1 0h1m1 0h4m1 0h4m6 0h2m4 0h1m2 0h5m1 0h7m1 0h4m2 0h2m1 0h1m1 0h1m1 0h1m2 0h1m1 0h1m3 0h2m2 0h1m1 0h2m1 0h1m1 0h3m2 0h2m1 0h5m1 0h2m3 0h3m3 0h1m2 0h1m3 0h1m1 0h2m2 0h3m2 0h1m4 0h1m3 0h2m1 0h1m3 0h3m2 0h4m1 0h1M719 751.5h2m1 0h1m2 0h1m3 0h1m1 0h3m1 0h3m1 0h4m2 0h3m1 0h1m2 0h1m2 0h6m2 0h1m1 0h1m1 0h1m1 0h1m3 0h1m1 0h1m1 0h2m3 0h1m2 0h7m3 0h1m1 0h2m1 0h3m1 0h8m3 0h1m4 0h1m1 0h1m2 0h3m1 0h1m2 0h1m1 0h1m1 0h1m5 0h1m2 0h1m1 0h5m3 0h1m1 0h5m3 0h3M719 752.5h1m2 0h5m1 0h2m2 0h1m1 0h1m1 0h2m2 0h1m2 0h4m1 0h2m1 0h2m1 0h4m2 0h5m2 0h1m4 0h1m1 0h4m2 0h1m2 0h2m1 0h4m1 0h4m3 0h3m2 0h2m1 0h1m1 0h4m1 0h1m1 0h1m1 0h1m1 0h1m1 0h2m1 0h1m1 0h1m1 0h1m2 0h3m2 0h7m3 0h3m5 0h1m2 0h2m3 0h4M719 753.5h2m1 0h3m3 0h1m2 0h4m2 0h1m2 0h7m2 0h1m1 0h1m1 0h6m1 0h1m2 0h1m1 0h1m2 0h1m1 0h1m1 0h2m1 0h1m1 0h4m1 0h1m1 0h1m1 0h1m1 0h3m2 0h1m1 0h1m1 0h1m1 0h1m3 0h1m1 0h3m2 0h1m1 0h2m2 0h5m1 0h1m1 0h2m2 0h1m1 0h2m1 0h1m1 0h1m1 0h1m1 0h4m1 0h1m1 0h1m1 0h1m1 0h7m1 0h4m1 0h1m1 0h2M721 754.5h1m2 0h1m1 0h1m1 0h4m1 0h1m1 0h4m2 0h2m2 0h3m1 0h1m1 0h1m1 0h3m1 0h1m3 0h1m2 0h2m1 0h1m1 0h1m1 0h1m1 0h3m1 0h1m1 0h3m1 0h1m1 0h1m1 0h1m1 0h3m2 0h4m1 0h3m1 0h2m1 0h2m1 0h1m1 0h4m1 0h2m1 0h3m1 0h1m1 0h1m2 0h1m3 0h4m1 0h1m1 0h3m5 0h3m1 0h5m1 0h4m2 0h1m3 0h1M720 755.5h1m1 0h1m1 0h1m1 0h5m1 0h1m1 0h1m1 0h7m3 0h3m3 0h1m4 0h6m1 0h1m1 0h2m1 0h1m3 0h3m3 0h5m1 0h1m1 0h6m2 0h3m1 0h2m1 0h5m2 0h4m1 0h1m2 0h6m1 0h3m1 0h1m1 0h3m1 0h3m2 0h3m4 0h1m1 0h1m1 0h3m1 0h5m4 0h1m1 0h3M719 756.5h4m2 0h5m1 0h3m1 0h7m1 0h2m1 0h1m2 0h1m1 0h1m1 0h1m2 0h1m2 0h4m2 0h1m1 0h4m1 0h1m2 0h4m2 0h1m1 0h2m1 0h3m2 0h1m1 0h3m3 0h3m1 0h2m1 0h1m2 0h1m1 0h1m1 0h2m1 0h2m1 0h2m3 0h4m2 0h1m3 0h2m1 0h4m1 0h1m1 0h6m1 0h3m1 0h1m1 0h1m1 0h1m3 0h2m1 0h1M719 757.5h1m1 0h4m1 0h3m1 0h3m6 0h1m3 0h3m2 0h2m1 0h2m2 0h1m2 0h5m2 0h1m1 0h2m1 0h1m1 0h4m1 0h5m1 0h1m4 0h2m2 0h1m1 0h7m1 0h2m1 0h1m1 0h5m1 0h1m1 0h1m1 0h3m1 0h1m2 0h2m2 0h2m1 0h3m1 0h1m4 0h1m2 0h1m3 0h1m1 0h1m1 0h2m2 0h2m1 0h5m1 0h2m1 0h1M719 758.5h1m1 0h3m2 0h2m1 0h4m1 0h1m1 0h5m1 0h2m1 0h2m1 0h1m2 0h1m1 0h2m3 0h1m2 0h2m1 0h4m1 0h2m1 0h3m1 0h2m1 0h2m1 0h2m1 0h3m1 0h1m1 0h3m1 0h1m1 0h2m1 0h1m1 0h2m1 0h2m1 0h1m1 0h2m2 0h1m1 0h1m1 0h5m1 0h1m1 0h8m1 0h5m1 0h1m1 0h2m1 0h1m2 0h1m1 0h1m2 0h1m1 0h2m1 0h1m1 0h2m1 0h1m1 0h2M720 759.5h3m2 0h1m1 0h1m1 0h1m1 0h1m2 0h3m1 0h3m1 0h1m1 0h1m1 0h10m1 0h2m1 0h1m1 0h1m1 0h1m1 0h2m1 0h1m1 0h3m1 0h1m1 0h3m4 0h1m1 0h2m1 0h1m1 0h1m1 0h1m2 0h3m1 0h5m2 0h5m1 0h4m1 0h1m1 0h1m1 0h1m2 0h2m1 0h1m1 0h1m2 0h2m1 0h2m1 0h1m1 0h3m2 0h1m1 0h1m1 0h1m2 0h9m1 0h1m1 0h3M721 760.5h1m1 0h1m6 0h1m1 0h3m1 0h1m1 0h3m2 0h3m2 0h1m4 0h1m1 0h1m4 0h2m2 0h4m1 0h1m3 0h4m1 0h1m2 0h1m1 0h1m2 0h1m1 0h4m1 0h1m2 0h2m2 0h1m1 0h1m2 0h1m3 0h1m5 0h1m1 0h2m1 0h4m6 0h1m3 0h3m4 0h1m3 0h1m1 0h1m1 0h1m2 0h1m2 0h1m1 0h5m2 0h2M719 761.5h1m1 0h1m1 0h1m1 0h3m1 0h2m1 0h1m1 0h2m1 0h3m1 0h1m1 0h1m1 0h1m1 0h1m1 0h2m2 0h7m1 0h1m2 0h1m1 0h2m1 0h3m1 0h1m1 0h3m1 0h4m1 0h3m1 0h1m1 0h1m1 0h1m1 0h1m1 0h1m1 0h2m1 0h1m1 0h1m2 0h2m1 0h1m1 0h1m2 0h1m1 0h2m1 0h2m2 0h1m1 0h3m1 0h5m1 0h3m1 0h3m5 0h1m1 0h2m1 0h1m3 0h1m1 0h2m1 0h6M719 762.5h1m1 0h1m2 0h1m1 0h1m1 0h4m1 0h9m2 0h8m1 0h3m2 0h1m2 0h1m1 0h3m1 0h3m1 0h1m1 0h1m3 0h1m2 0h1m1 0h2m1 0h6m1 0h1m1 0h5m1 0h4m1 0h2m3 0h2m1 0h1m2 0h1m1 0h1m1 0h1m1 0h4m1 0h3m1 0h7m1 0h1m4 0h1m1 0h2m1 0h2m1 0h1m4 0h5m1 0h1m1 0h1m1 0h1M720 763.5h2m1 0h1m1 0h4m2 0h1m4 0h1m4 0h1m2 0h4m3 0h2m1 0h1m1 0h7m1 0h3m1 0h1m1 0h1m1 0h1m1 0h3m1 0h2m1 0h3m2 0h1m2 0h1m3 0h1m1 0h1m1 0h4m2 0h1m3 0h4m1 0h3m1 0h2m1 0h3m2 0h4m4 0h2m1 0h1m1 0h2m1 0h3m1 0h5m1 0h1m2 0h3m3 0h1m2 0h1m3 0h1M719 764.5h6m2 0h1m1 0h5m4 0h1m1 0h3m1 0h1m4 0h1m1 0h1m3 0h4m2 0h1m5 0h2m3 0h1m1 0h1m1 0h2m3 0h1m3 0h1m1 0h1m2 0h2m3 0h1m1 0h2m1 0h1m1 0h2m1 0h1m1 0h1m1 0h2m3 0h2m3 0h1m1 0h1m1 0h3m3 0h1m2 0h1m1 0h1m1 0h1m1 0h1m1 0h2m1 0h3m2 0h1m3 0h1m1 0h2m1 0h2m1 0h2m2 0h1m1 0h2M720 765.5h2m2 0h1m1 0h1m1 0h1m1 0h3m1 0h4m1 0h8m1 0h2m2 0h1m2 0h1m2 0h1m2 0h6m5 0h7m3 0h1m4 0h6m1 0h2m1 0h2m1 0h3m1 0h2m3 0h1m1 0h2m1 0h5m1 0h2m2 0h1m1 0h1m1 0h3m1 0h2m2 0h1m2 0h4m1 0h1m6 0h1m1 0h6m2 0h4m1 0h2M719 766.5h1m2 0h1m3 0h2m2 0h2m1 0h2m1 0h2m2 0h1m1 0h1m1 0h4m1 0h3m1 0h2m2 0h1m7 0h1m1 0h1m2 0h2m2 0h1m1 0h1m1 0h5m1 0h1m1 0h1m1 0h1m1 0h1m3 0h2m1 0h2m1 0h1m1 0h4m1 0h1m5 0h3m1 0h2m3 0h1m1 0h5m1 0h2m1 0h4m1 0h1m1 0h1m1 0h2m2 0h4m2 0h1m1 0h5m1 0h1m2 0h1m1 0h1M723 767.5h1m1 0h1m3 0h2m1 0h3m1 0h2m2 0h3m1 0h2m2 0h1m1 0h2m3 0h7m1 0h2m3 0h4m4 0h2m1 0h7m2 0h2m1 0h1m3 0h3m1 0h4m1 0h1m2 0h1m2 0h2m1 0h2m2 0h5m2 0h11m2 0h2m1 0h1m1 0h1m1 0h3m1 0h2m1 0h2m3 0h1m2 0h4m3 0h2M719 768.5h2m2 0h1m3 0h2m1 0h2m1 0h5m4 0h2m2 0h2m2 0h1m8 0h6m1 0h5m2 0h2m2 0h1m1 0h2m2 0h1m9 0h2m1 0h5m2 0h1m2 0h2m1 0h4m2 0h9m2 0h1m1 0h1m4 0h1m1 0h4m3 0h2m1 0h5m1 0h8m5 0h2m1 0h1M720 769.5h1m1 0h1m2 0h1m2 0h1m1 0h1m3 0h1m2 0h1m4 0h2m1 0h2m3 0h1m1 0h5m2 0h1m2 0h4m2 0h3m1 0h3m3 0h1m3 0h2m6 0h1m1 0h1m1 0h2m2 0h1m4 0h1m1 0h1m1 0h6m2 0h2m1 0h2m1 0h1m1 0h1m3 0h2m2 0h4m1 0h1m3 0h7m4 0h2m1 0h2m1 0h4m1 0h3M719 770.5h1m3 0h3m2 0h1m4 0h1m2 0h2m2 0h1m1 0h1m2 0h3m12 0h2m1 0h1m2 0h2m2 0h2m1 0h1m7 0h2m1 0h1m2 0h2m1 0h4m1 0h1m5 0h2m1 0h1m1 0h2m2 0h3m4 0h6m3 0h1m2 0h1m2 0h1m4 0h2m1 0h1m1 0h1m1 0h1m3 0h1m1 0h2m9 0h6M721 771.5h3m2 0h4m1 0h2m7 0h2m1 0h1m2 0h2m2 0h1m8 0h1m1 0h1m4 0h1m7 0h2m1 0h1m1 0h4m3 0h2m1 0h3m1 0h2m1 0h2m1 0h2m4 0h1m5 0h1m1 0h1m4 0h1m9 0h1m2 0h2m9 0h1m4 0h1m9 0h1m2 0h1m2 0h1m1 0h1M719 772.5h4m2 0h1m1 0h2m2 0h2m3 0h1m1 0h3m3 0h4m4 0h1m1 0h5m5 0h1m1 0h4m3 0h2m2 0h4m2 0h3m1 0h1m1 0h2m1 0h5m1 0h2m1 0h2m2 0h2m2 0h3m2 0h1m1 0h2m2 0h3m3 0h8m2 0h6m3 0h1m1 0h1m1 0h1m3 0h2m1 0h1m2 0h1m1 0h1m2 0h3M719 773.5h1m14 0h1m4 0h3m4 0h1m3 0h2m4 0h1m2 0h4m6 0h2m2 0h4m4 0h2m1 0h6m3 0h3m3 0h1m1 0h2m2 0h1m6 0h1m14 0h1m1 0h8m5 0h1m3 0h1m3 0h2m1 0h1m1 0h2m4 0h3m1 0h3M719 774.5h1m2 0h1m1 0h1m1 0h3m5 0h1m2 0h2m1 0h1m1 0h4m3 0h2m1 0h5m4 0h1m2 0h1m3 0h4m1 0h1m3 0h4m1 0h1m5 0h1m2 0h4m1 0h2m1 0h1m4 0h3m2 0h1m3 0h3m1 0h2m2 0h3m1 0h6m3 0h2m1 0h1m5 0h1m1 0h1m1 0h2m2 0h4m3 0h3m3 0h4M719 775.5h6m1 0h1m1 0h2m2 0h1m2 0h2m2 0h1m1 0h1m1 0h8m1 0h1m1 0h3m1 0h2m1 0h3m2 0h1m1 0h4m1 0h2m3 0h4m2 0h1m2 0h2m4 0h1m2 0h6m3 0h3m1 0h4m1 0h2m1 0h2m3 0h1m1 0h1m1 0h1m2 0h1m2 0h1m2 0h2m1 0h1m1 0h4m1 0h1m1 0h2m3 0h2m1 0h2m2 0h4m1 0h1m1 0h1M726 776.5h1m3 0h5m3 0h2m4 0h3m1 0h1m1 0h2m3 0h1m1 0h2m1 0h1m3 0h1m4 0h2m1 0h2m1 0h3m8 0h1m1 0h1m1 0h1m3 0h1m1 0h1m1 0h3m4 0h2m3 0h1m5 0h1m3 0h1m4 0h1m1 0h1m3 0h2m9 0h1m3 0h2m2 0h1m2 0h2m1 0h1m3 0h2m3 0h3M723 777.5h1m1 0h6m1 0h2m1 0h1m3 0h2m1 0h4m2 0h1m1 0h3m4 0h2m1 0h1m3 0h1m3 0h1m1 0h3m2 0h2m2 0h3m2 0h1m2 0h2m2 0h4m3 0h2m2 0h2m2 0h2m8 0h3m6 0h1m4 0h1m1 0h3m2 0h1m1 0h1m5 0h2m1 0h1m1 0h2m1 0h3m2 0h2m1 0h2m2 0h3M719 778.5h1m1 0h3m1 0h1m1 0h1m2 0h4m1 0h1m2 0h1m2 0h1m1 0h3m1 0h1m5 0h3m5 0h3m2 0h1m3 0h2m2 0h1m1 0h1m1 0h1m2 0h2m1 0h2m1 0h4m4 0h3m1 0h1m3 0h1m1 0h2m2 0h3m2 0h1m1 0h5m1 0h1m2 0h2m3 0h1m1 0h1m2 0h1m1 0h2m1 0h1m2 0h4m1 0h2m1 0h1m3 0h2m2 0h2m2 0h5M719 779.5h1m1 0h5m1 0h1m1 0h4m1 0h1m1 0h2m1 0h1m1 0h1m1 0h3m2 0h1m1 0h4m1 0h2m1 0h3m1 0h2m1 0h1m1 0h1m1 0h1m1 0h2m1 0h1m1 0h1m1 0h7m1 0h1m1 0h10m1 0h1m1 0h1m1 0h3m1 0h1m1 0h4m1 0h3m1 0h2m1 0h1m1 0h1m2 0h2m1 0h1m1 0h4m1 0h2m1 0h2m1 0h2m1 0h2m1 0h1m1 0h4m1 0h7m1 0h5M719 780.5h2m1 0h3m1 0h3m1 0h1m1 0h2m1 0h4m1 0h1m1 0h1m1 0h1m1 0h4m1 0h1m1 0h2m1 0h5m1 0h1m1 0h4m1 0h1m1 0h2m1 0h2m1 0h3m1 0h3m1 0h1m1 0h2m1 0h1m1 0h1m1 0h1m1 0h4m1 0h1m1 0h1m1 0h1m1 0h4m1 0h1m1 0h2m1 0h1m1 0h3m1 0h2m1 0h2m1 0h1m1 0h1m1 0h3m1 0h1m1 0h1m1 0h4m1 0h5m1 0h4m1 0h5m1 0h1m1 0h3M721 781.5h3m1 0h1m1 0h1m2 0h3m3 0h2m5 0h2m2 0h2m6 0h1m1 0h1m3 0h1m1 0h5m1 0h1m1 0h1m1 0h2m1 0h1m1 0h1m1 0h2m2 0h1m1 0h1m2 0h3m1 0h2m1 0h1m1 0h3m1 0h1m2 0h1m2 0h2m2 0h3m1 0h3m2 0h2m1 0h2m4 0h6m1 0h1m2 0h3m2 0h1m2 0h1m1 0h3m1 0h1m1 0h1m1 0h4m1 0h3m1 0h1M719 782.5h4m2 0h2m2 0h1m2 0h1m2 0h1m1 0h1m4 0h3m1 0h3m2 0h3m1 0h1m1 0h4m1 0h5m1 0h2m3 0h1m1 0h1m1 0h3m1 0h1m1 0h3m1 0h5m1 0h5m1 0h1m1 0h1m1 0h1m3 0h3m1 0h2m1 0h2m1 0h1m1 0h1m2 0h1m2 0h1m1 0h1m1 0h1m1 0h6m1 0h3m2 0h5m1 0h1m1 0h3m1 0h1m2 0h1m1 0h2m1 0h1m2 0h2M720 783.5h2m1 0h5m3 0h1m1 0h3m1 0h4m1 0h2m2 0h2m1 0h1m1 0h1m1 0h1m1 0h3m2 0h1m1 0h2m1 0h2m1 0h4m1 0h1m1 0h4m1 0h2m1 0h5m1 0h1m1 0h5m1 0h1m1 0h3m3 0h2m1 0h2m2 0h4m2 0h5m2 0h1m1 0h1m1 0h1m1 0h1m1 0h1m1 0h2m2 0h3m1 0h1m1 0h1m1 0h1m2 0h2m1 0h2m3 0h4m1 0h5M719 784.5h1m1 0h4m2 0h5m1 0h3m1 0h2m1 0h1m1 0h4m1 0h2m1 0h1m1 0h1m1 0h1m1 0h1m1 0h6m1 0h1m1 0h2m1 0h1m1 0h3m1 0h1m1 0h1m1 0h1m1 0h1m1 0h1m1 0h1m1 0h1m1 0h4m1 0h4m1 0h2m1 0h2m1 0h4m1 0h2m1 0h3m1 0h1m1 0h1m1 0h1m2 0h2m1 0h1m1 0h1m1 0h1m1 0h1m1 0h2m1 0h1m1 0h5m1 0h5m1 0h2m1 0h1m1 0h1m1 0h1m1 0h3m1 0h2M719 785.5h1m2 0h1m1 0h1m1 0h4m1 0h3m1 0h2m1 0h1m1 0h6m1 0h1m1 0h4m1 0h5m1 0h3m2 0h4m1 0h5m1 0h1m1 0h6m1 0h2m1 0h2m1 0h8m1 0h1m1 0h1m2 0h1m1 0h1m1 0h1m1 0h3m1 0h1m1 0h2m1 0h1m2 0h1m1 0h2m1 0h2m1 0h2m1 0h8m2 0h8m2 0h2m1 0h4m1 0h1m1 0h2m1 0h1M719 786.5h1m1 0h1m1 0h1m1 0h3m1 0h1m1 0h3m1 0h1m1 0h3m1 0h2m1 0h1m1 0h1m1 0h2m1 0h1m1 0h2m1 0h1m1 0h2m1 0h1m1 0h3m1 0h2m1 0h2m1 0h3m1 0h1m1 0h5m1 0h5m1 0h1m1 0h1m1 0h3m1 0h2m1 0h1m1 0h3m1 0h1m1 0h1m1 0h2m1 0h1m1 0h2m1 0h2m1 0h3m1 0h1m1 0h1m1 0h3m1 0h1m1 0h1m1 0h2m1 0h2m1 0h3m1 0h1m1 0h1m1 0h3m1 0h1m1 0h1m1 0h2m1 0h1m1 0h1M719 787.5h4m1 0h1m1 0h4m1 0h1m1 0h3m1 0h1m1 0h3m1 0h1m1 0h2m1 0h2m1 0h1m1 0h1m1 0h1m1 0h2m1 0h2m2 0h1m1 0h1m1 0h7m2 0h1m3 0h1m1 0h2m2 0h3m1 0h1m1 0h3m1 0h3m1 0h1m1 0h1m1 0h2m1 0h1m1 0h2m1 0h1m1 0h2m1 0h3m1 0h6m2 0h2m1 0h2m3 0h1m1 0h2m1 0h1m2 0h1m1 0h1m1 0h1m1 0h3m1 0h4m1 0h2m1 0h1m2 0h1M719 788.5h1m1 0h2m1 0h2m1 0h1m1 0h1m1 0h1m1 0h1m1 0h1m1 0h4m2 0h4m1 0h3m1 0h1m1 0h1m1 0h1m1 0h1m1 0h5m2 0h3m1 0h1m1 0h1m1 0h1m1 0h2m1 0h1m1 0h3m1 0h1m2 0h4m1 0h1m1 0h7m1 0h2m1 0h1m1 0h3m1 0h4m1 0h4m1 0h1m3 0h1m1 0h2m1 0h1m2 0h7m1 0h6m1 0h2m2 0h2m2 0h1m1 0h1m1 0h1m1 0h1m2 0h1M719 789.5h2m1 0h1m2 0h6m2 0h1m2 0h3m7 0h1m2 0h4m3 0h1m3 0h1m1 0h1m5 0h1m1 0h1m1 0h1m3 0h2m1 0h1m1 0h1m6 0h3m2 0h1m2 0h2m1 0h3m1 0h2m1 0h3m3 0h1m1 0h1m2 0h1m1 0h1m1 0h2m1 0h4m3 0h1m2 0h1m2 0h2m3 0h1m1 0h1m1 0h1m2 0h1m1 0h1m3 0h3m1 0h8M719 790.5h6m5 0h1m1 0h2m1 0h2m3 0h1m1 0h2m1 0h1m1 0h3m1 0h4m1 0h1m1 0h1m1 0h1m2 0h1m3 0h4m1 0h1m2 0h3m1 0h1m1 0h2m1 0h1m1 0h3m1 0h4m2 0h3m1 0h1m2 0h1m3 0h1m1 0h2m1 0h2m1 0h1m1 0h2m1 0h1m2 0h1m1 0h1m1 0h3m2 0h1m1 0h1m1 0h1m2 0h2m1 0h2m1 0h1m1 0h1m4 0h2m1 0h7m4 0h1M719 791.5h1m2 0h1m1 0h1m1 0h1m1 0h4m1 0h3m1 0h3m1 0h4m3 0h2m1 0h1m1 0h3m1 0h5m2 0h1m2 0h2m1 0h2m1 0h1m1 0h1m1 0h2m2 0h1m2 0h1m1 0h1m2 0h1m1 0h1m1 0h2m1 0h2m1 0h1m1 0h1m2 0h1m1 0h1m2 0h3m1 0h3m1 0h3m1 0h2m2 0h2m3 0h4m1 0h2m1 0h1m1 0h1m1 0h2m1 0h3m1 0h2m1 0h2m1 0h1m1 0h2m1 0h1m1 0h1m2 0h1m1 0h1M719 792.5h1m1 0h3m1 0h2m1 0h2m2 0h2m1 0h3m1 0h1m1 0h2m1 0h1m1 0h1m3 0h1m1 0h4m2 0h1m1 0h2m1 0h3m1 0h6m2 0h1m3 0h2m3 0h3m2 0h3m1 0h3m1 0h2m1 0h2m1 0h2m1 0h1m1 0h1m2 0h2m1 0h1m1 0h2m2 0h2m4 0h1m1 0h1m2 0h2m1 0h1m1 0h2m2 0h1m2 0h4m2 0h5m1 0h1m3 0h2m3 0h2M719 793.5h2m1 0h1m3 0h5m1 0h1m1 0h3m3 0h1m1 0h4m1 0h2m3 0h1m1 0h2m4 0h3m2 0h3m1 0h1m3 0h2m1 0h2m1 0h4m2 0h3m2 0h1m2 0h1m1 0h1m3 0h1m1 0h5m2 0h3m1 0h1m1 0h1m2 0h1m1 0h4m1 0h1m1 0h1m2 0h1m5 0h4m1 0h1m2 0h3m7 0h3m4 0h1m3 0h4M719 794.5h2m2 0h2m1 0h2m1 0h3m1 0h1m3 0h1m1 0h1m2 0h1m1 0h2m1 0h1m4 0h2m2 0h1m2 0h1m5 0h2m1 0h1m1 0h1m6 0h3m2 0h1m1 0h3m6 0h2m1 0h1m1 0h1m2 0h1m2 0h5m3 0h3m3 0h1m1 0h2m1 0h2m2 0h1m1 0h1m5 0h1m3 0h2m1 0h1m4 0h1m1 0h2m1 0h2m1 0h1m1 0h2m1 0h3m2 0h3M722 795.5h2m5 0h2m1 0h3m2 0h2m2 0h1m2 0h7m8 0h2m1 0h1m1 0h2m1 0h1m1 0h1m5 0h1m5 0h5m1 0h1m2 0h1m6 0h2m3 0h4m3 0h3m1 0h6m3 0h1m2 0h2m2 0h3m4 0h1m3 0h2m2 0h1m2 0h2m2 0h4m2 0h1m1 0h4m3 0h1M720 796.5h1m1 0h2m2 0h1m1 0h1m1 0h1m3 0h9m1 0h3m1 0h6m3 0h3m1 0h1m2 0h1m1 0h1m1 0h6m2 0h2m2 0h1m2 0h3m1 0h1m1 0h1m1 0h2m2 0h1m1 0h1m1 0h3m2 0h1m3 0h3m1 0h1m2 0h1m1 0h1m1 0h6m1 0h4m3 0h5m1 0h3m1 0h2m1 0h2m2 0h2m3 0h5m1 0h2m1 0h1m1 0h1M719 797.5h1m1 0h1m1 0h2m1 0h2m2 0h3m4 0h3m20 0h1m1 0h1m1 0h3m1 0h2m1 0h1m2 0h1m1 0h2m4 0h1m2 0h1m3 0h1m2 0h2m5 0h2m2 0h1m3 0h1m3 0h1m2 0h2m1 0h3m2 0h3m2 0h1m1 0h7m2 0h1m1 0h4m15 0h2m3 0h1m1 0h2M719 798.5h2m2 0h3m1 0h3m1 0h1m2 0h4m3 0h5m3 0h1m2 0h3m1 0h3m1 0h1m4 0h2m1 0h6m2 0h5m1 0h5m2 0h2m1 0h2m1 0h1m1 0h1m1 0h1m3 0h7m1 0h2m1 0h1m2 0h2m3 0h3m1 0h1m6 0h1m3 0h3m1 0h2m1 0h1m1 0h1m4 0h1m3 0h1m3 0h3m2 0h3M719 799.5h2m3 0h2m1 0h2m1 0h3m12 0h1m4 0h1m2 0h3m2 0h1m1 0h1m3 0h3m4 0h2m4 0h1m2 0h3m2 0h3m1 0h1m2 0h3m1 0h1m1 0h2m4 0h1m1 0h1m2 0h3m2 0h4m5 0h1m3 0h2m1 0h7m4 0h3m3 0h3m3 0h1m3 0h1m2 0h1m1 0h2M720 800.5h1m1 0h1m1 0h1m1 0h3m3 0h3m1 0h1m4 0h2m3 0h2m1 0h1m3 0h1m6 0h1m3 0h1m6 0h9m1 0h1m1 0h1m2 0h2m2 0h2m1 0h2m1 0h1m2 0h1m2 0h3m2 0h2m3 0h6m5 0h3m4 0h1m1 0h4m1 0h2m4 0h9m4 0h1m3 0h1m4 0h1M721 801.5h2m6 0h2m1 0h2m1 0h1m2 0h1m1 0h4m10 0h1m13 0h3m1 0h2m1 0h1m3 0h2m5 0h4m3 0h1m4 0h2m3 0h1m2 0h1m4 0h2m1 0h1m2 0h5m2 0h2m4 0h2m2 0h1m3 0h1m1 0h1m10 0h1m3 0h2m6 0h1m1 0h3M719 802.5h4m3 0h2m1 0h1m4 0h3m1 0h4m4 0h2m2 0h1m2 0h5m11 0h1m3 0h1m4 0h1m3 0h2m2 0h3m2 0h5m1 0h1m2 0h2m3 0h3m4 0h1m7 0h2m4 0h2m1 0h2m1 0h1m1 0h1m1 0h3m3 0h2m2 0h3m1 0h4m1 0h1m1 0h3m3 0h5M721 803.5h1m1 0h1m3 0h4m1 0h5m1 0h3m3 0h1m5 0h5m5 0h4m1 0h4m3 0h1m4 0h1m5 0h10m4 0h1m1 0h1m9 0h2m3 0h2m2 0h2m3 0h3m2 0h4m6 0h1m3 0h3m3 0h4m4 0h4m2 0h1m1 0h2m1 0h1M721 804.5h4m2 0h1m3 0h3m4 0h2m1 0h5m3 0h1m2 0h2m6 0h2m1 0h4m2 0h2m3 0h3m1 0h2m1 0h3m6 0h2m2 0h6m1 0h2m2 0h6m1 0h1m1 0h1m1 0h1m2 0h4m4 0h2m1 0h1m3 0h3m1 0h1m2 0h10m1 0h1m3 0h2m1 0h2m1 0h1m1 0h1m1 0h1M720 805.5h1m5 0h3m5 0h1m2 0h1m1 0h1m4 0h1m2 0h2m2 0h2m1 0h3m2 0h1m2 0h1m1 0h2m3 0h5m9 0h1m2 0h1m1 0h1m2 0h3m1 0h3m2 0h3m1 0h2m1 0h2m3 0h1m1 0h2m3 0h7m1 0h1m1 0h3m2 0h1m3 0h3m1 0h2m1 0h1m3 0h2m3 0h1m4 0h1m5 0h3M719 806.5h1m1 0h2m8 0h1m2 0h1m4 0h3m2 0h1m1 0h1m3 0h3m1 0h2m1 0h3m4 0h3m2 0h2m5 0h1m4 0h4m1 0h4m1 0h1m2 0h3m2 0h1m1 0h1m1 0h1m1 0h3m1 0h1m1 0h1m1 0h2m1 0h3m2 0h3m5 0h1m2 0h2m1 0h1m2 0h5m2 0h2m1 0h1m1 0h1m4 0h1m3 0h2m1 0h2m1 0h3M721 807.5h1m1 0h1m3 0h1m1 0h3m1 0h3m1 0h2m1 0h3m1 0h2m2 0h3m1 0h4m1 0h1m2 0h4m1 0h2m1 0h1m1 0h5m1 0h1m1 0h4m1 0h3m1 0h8m1 0h1m1 0h1m1 0h5m1 0h3m1 0h1m1 0h1m1 0h1m3 0h1m1 0h1m1 0h3m2 0h1m3 0h1m2 0h2m1 0h5m2 0h1m1 0h1m1 0h1m1 0h1m1 0h3m1 0h1m1 0h1m1 0h1m1 0h2m1 0h1m1 0h1M719 808.5h3m1 0h1m1 0h1m1 0h1m1 0h1m1 0h2m1 0h2m1 0h2m1 0h2m1 0h2m1 0h2m1 0h1m1 0h1m1 0h2m1 0h2m1 0h1m1 0h3m1 0h2m1 0h1m1 0h1m1 0h1m1 0h1m1 0h1m1 0h1m1 0h1m1 0h1m1 0h1m1 0h3m1 0h1m1 0h4m1 0h3m1 0h1m1 0h2m1 0h1m1 0h1m1 0h1m1 0h2m1 0h1m1 0h1m1 0h1m1 0h1m1 0h3m1 0h2m1 0h2m1 0h1m1 0h2m1 0h1m1 0h5m1 0h2m1 0h1m1 0h1m1 0h2m1 0h4m1 0h1m1 0h3m1 0h1M721 809.5h2m1 0h3m3 0h1m1 0h1m1 0h7m1 0h2m1 0h2m1 0h2m1 0h1m1 0h2m3 0h1m1 0h4m3 0h1m1 0h2m3 0h2m1 0h1m1 0h1m1 0h2m2 0h1m1 0h2m1 0h1m2 0h2m1 0h1m1 0h2m1 0h5m1 0h2m1 0h2m3 0h2m4 0h3m1 0h5m3 0h1m1 0h3m1 0h5m3 0h2m1 0h5m2 0h2m2 0h2m1 0h4M720 810.5h1m5 0h4m8 0h1m5 0h1m7 0h1m4 0h2m2 0h2m1 0h2m5 0h1m6 0h3m4 0h2m1 0h2m3 0h1m10 0h6m1 0h2m2 0h1m1 0h7m3 0h2m1 0h2m2 0h1m4 0h4m2 0h2m6 0h1m2 0h3m4 0h1M719 811.5h1m1 0h1m1 0h3m1 0h1m1 0h5m1 0h3m3 0h1m1 0h2m2 0h1m1 0h1m1 0h9m1 0h5m1 0h2m1 0h2m1 0h2m1 0h2m1 0h9m1 0h1m1 0h3m2 0h1m1 0h2m1 0h2m1 0h1m1 0h3m1 0h1m3 0h2m1 0h1m1 0h3m1 0h2m1 0h2m1 0h2m1 0h1m1 0h2m1 0h1m1 0h1m1 0h5m1 0h1m1 0h3m1 0h3m1 0h3m1 0h1m1 0h1m1 0h1" stroke="#353535" stroke-width="1" fill="none"/>
<path d="M718 723.9L718 813.5" stroke="#000" stroke-width="2"/>
<path d="M717 812.5L868.7 812.5" stroke="#000" stroke-width="2"/>
<path d="M714 727.2L718 727.2" stroke="#000" stroke-width="1.6"/>
<text x="708.3" y="734.6" text-anchor="end">1</text>
<path d="M714 789.2L718 789.2" stroke="#000" stroke-width="1.6"/>
<text x="708.3" y="796.6" text-anchor="end">50</text>
<path d="M793 812.5L793 816.5" stroke="#000" stroke-width="1.6"/>
<path d="M868.7 812.5L868.7 816.5" stroke="#000" stroke-width="1.6"/>
<rect x="223.3" y="836.1" width="51.7" height="92" fill="#dcdcdc"/>
<clipPath id="cl5"><rect x="146" y="830" width="154" height="98"/></clipPath><g clip-path="url(#cl5)">
<path d="M146.2 889.9C147.1 888.3 149.5 882.3 151.3 880.3C153.1 878.3 155.4 878.1 156.9 878C158.5 877.9 158.6 876.8 160.3 879.7C162 882.6 164.9 891 167.1 895.5C169.4 900.1 172 907.2 173.9 906.8C175.8 906.5 176.6 897.8 178.4 893.3C180.2 888.8 182.7 880.1 184.6 879.7C186.5 879.3 188 886.9 189.7 891C191.4 895.2 193.3 902.9 194.8 904.6C196.3 906.3 197.4 902.9 198.8 901.2C200.1 899.5 201.4 895.2 202.7 894.4C204 893.7 205.2 895.7 206.7 896.7C208.2 897.6 209.7 900.9 211.8 900.1C213.8 899.2 216.7 894.6 219.1 891.6C221.5 888.6 223.8 885.2 225.9 882C227.9 878.8 229.6 875 231.5 872.4C233.4 869.7 234.7 870.3 237.2 866.2C239.6 862 243.9 849.6 246.2 847.5C248.6 845.4 249.6 851.2 251.3 853.7C253 856.3 254.8 861.2 256.4 862.8C258 864.4 259.4 863.7 260.9 863.3C262.4 863 263.5 861 265.4 860.5C267.3 860 270.2 861.5 272.2 860.5C274.2 859.5 275.8 855.8 277.3 854.3C278.8 852.8 279.9 851.2 281.2 851.5C282.6 851.8 284.5 855.2 285.2 856L285.2 886.5C284.5 885.1 282.6 879 281.2 878C279.9 877.1 278.8 879.5 277.3 880.8C275.8 882.2 274.2 885 272.2 885.9C270.2 886.9 267.3 886 265.4 886.5C263.5 887 262.4 888.4 260.9 888.8C259.4 889.1 258 889.9 256.4 888.8C254.8 887.6 253 884.2 251.3 882C249.6 879.7 248.6 873.5 246.2 875.2C243.9 876.9 239.6 888.2 237.2 892.1C234.7 896.1 233.4 896.5 231.5 898.9C229.6 901.4 227.9 904 225.9 906.8C223.8 909.7 221.5 913.1 219.1 915.9C216.7 918.7 213.8 922.8 211.8 923.8C209.7 924.7 208.2 922.3 206.7 921.5C205.2 920.8 204 918.5 202.7 919.3C201.4 920 200.1 924.5 198.8 926C197.4 927.6 196.3 929.6 194.8 928.3C193.3 927 191.4 921.5 189.7 918.1C188 914.7 186.5 907.6 184.6 908C182.7 908.3 180.2 917 178.4 920.4C176.6 923.8 175.8 928.3 173.9 928.3C172 928.3 169.4 924.2 167.1 920.4C164.9 916.6 162 908.4 160.3 905.7C158.6 903 158.5 903.8 156.9 904C155.4 904.2 153.1 904.5 151.3 906.8C149.5 909.2 147.1 916.3 146.2 918.1Z" fill="#c52654" fill-opacity="0.55"/>
<path d="M146.2 889.9C147.1 888.3 149.5 882.3 151.3 880.3C153.1 878.3 155.4 878.1 156.9 878C158.5 877.9 158.6 876.8 160.3 879.7C162 882.6 164.9 891 167.1 895.5C169.4 900.1 172 907.2 173.9 906.8C175.8 906.5 176.6 897.8 178.4 893.3C180.2 888.8 182.7 880.1 184.6 879.7C186.5 879.3 188 886.9 189.7 891C191.4 895.2 193.3 902.9 194.8 904.6C196.3 906.3 197.4 902.9 198.8 901.2C200.1 899.5 201.4 895.2 202.7 894.4C204 893.7 205.2 895.7 206.7 896.7C208.2 897.6 209.7 900.9 211.8 900.1C213.8 899.2 216.7 894.6 219.1 891.6C221.5 888.6 223.8 885.2 225.9 882C227.9 878.8 229.6 875 231.5 872.4C233.4 869.7 234.7 870.3 237.2 866.2C239.6 862 243.9 849.6 246.2 847.5C248.6 845.4 249.6 851.2 251.3 853.7C253 856.3 254.8 861.2 256.4 862.8C258 864.4 259.4 863.7 260.9 863.3C262.4 863 263.5 861 265.4 860.5C267.3 860 270.2 861.5 272.2 860.5C274.2 859.5 275.8 855.8 277.3 854.3C278.8 852.8 279.9 851.2 281.2 851.5C282.6 851.8 284.5 855.2 285.2 856M285.2 886.5C284.5 885.1 282.6 879 281.2 878C279.9 877.1 278.8 879.5 277.3 880.8C275.8 882.2 274.2 885 272.2 885.9C270.2 886.9 267.3 886 265.4 886.5C263.5 887 262.4 888.4 260.9 888.8C259.4 889.1 258 889.9 256.4 888.8C254.8 887.6 253 884.2 251.3 882C249.6 879.7 248.6 873.5 246.2 875.2C243.9 876.9 239.6 888.2 237.2 892.1C234.7 896.1 233.4 896.5 231.5 898.9C229.6 901.4 227.9 904 225.9 906.8C223.8 909.7 221.5 913.1 219.1 915.9C216.7 918.7 213.8 922.8 211.8 923.8C209.7 924.7 208.2 922.3 206.7 921.5C205.2 920.8 204 918.5 202.7 919.3C201.4 920 200.1 924.5 198.8 926C197.4 927.6 196.3 929.6 194.8 928.3C193.3 927 191.4 921.5 189.7 918.1C188 914.7 186.5 907.6 184.6 908C182.7 908.3 180.2 917 178.4 920.4C176.6 923.8 175.8 928.3 173.9 928.3C172 928.3 169.4 924.2 167.1 920.4C164.9 916.6 162 908.4 160.3 905.7C158.6 903 158.5 903.8 156.9 904C155.4 904.2 153.1 904.5 151.3 906.8C149.5 909.2 147.1 916.3 146.2 918.1" stroke="#d25278" stroke-width="1.4" fill="none" stroke-opacity="0.9"/>
<path d="M146.2 902.3C147.1 900.8 149.5 895.2 151.3 893.3C153.1 891.4 155.4 891.1 156.9 891C158.5 890.9 158.6 890.1 160.3 892.7C162 895.3 164.9 902.7 167.1 906.8C169.4 911 172 917.6 173.9 917.6C175.8 917.6 176.6 910.8 178.4 906.8C180.2 902.9 182.7 894.2 184.6 893.8C186.5 893.5 188 900.7 189.7 904.6C191.4 908.4 193.3 915.5 194.8 917C196.3 918.5 197.4 915.3 198.8 913.6C200.1 911.9 201.4 907.4 202.7 906.8C204 906.3 205.2 909.4 206.7 910.2C208.2 911.1 209.7 913.2 211.8 911.9C213.8 910.6 216.7 905.4 219.1 902.3C221.5 899.2 223.8 896.1 225.9 893.3C227.9 890.5 229.6 887.7 231.5 885.4C233.4 883 234.7 883.1 237.2 879.2C239.6 875.2 243.9 863.4 246.2 861.6C248.6 859.8 249.6 866.1 251.3 868.4C253 870.8 254.8 874.5 256.4 875.8C258 877 259.4 876.1 260.9 875.8C262.4 875.4 263.5 874 265.4 873.5C267.3 873 270.2 874 272.2 872.9C274.2 871.9 275.8 868.7 277.3 867.3C278.8 865.9 279.9 864.2 281.2 864.5C282.6 864.7 284.5 868.2 285.2 869" stroke="#c20f48" stroke-width="2" fill="none"/>
</g>
<path d="M208.7 853.3V1018" stroke="#222" stroke-width="1.5" stroke-dasharray="9 3.5"/>
<path d="M145.1 846.6L145.1 929.7" stroke="#000" stroke-width="2"/>
<path d="M144.1 928.7L294.4 928.7" stroke="#000" stroke-width="2"/>
<path d="M141.1 847L145.1 847" stroke="#000" stroke-width="1.6"/>
<text x="135.8" y="854.4" text-anchor="end">35</text>
<path d="M141.1 874.6L145.1 874.6" stroke="#000" stroke-width="1.6"/>
<path d="M141.1 901.8L145.1 901.8" stroke="#000" stroke-width="1.6"/>
<text x="135.8" y="909.2" text-anchor="end">25</text>
<path d="M166.9 928.7L166.9 932.7" stroke="#000" stroke-width="1.6"/>
<path d="M208.7 928.7L208.7 932.7" stroke="#000" stroke-width="1.6"/>
<path d="M250.9 928.7L250.9 932.7" stroke="#000" stroke-width="1.6"/>
<path d="M293.5 928.7L293.5 932.7" stroke="#000" stroke-width="1.6"/>
<path d="M146 933.5h1m3 0h1m19 0h1m10 0h3m6 0h3m15 0h1m3 0h1m6 0h1m6 0h2m7 0h2m12 0h1m4 0h2m9 0h2m2 0h1m4 0h2m7 0h1m1 0h1M147 934.5h1m2 0h1m8 0h2m1 0h1m3 0h1m10 0h1m16 0h1m7 0h1m28 0h1m5 0h1m2 0h1m20 0h3m3 0h1m21 0h1M153 935.5h1m5 0h1m2 0h1m1 0h1m7 0h2m4 0h1m1 0h1m15 0h1m8 0h3m16 0h1m2 0h1m2 0h1m2 0h1m6 0h1m19 0h2m2 0h2m2 0h1m1 0h1m4 0h1m3 0h1m13 0h1M152 936.5h2m14 0h1m1 0h1m1 0h1m5 0h1m3 0h1m6 0h1m3 0h1m5 0h3m5 0h1m6 0h3m1 0h1m2 0h2m3 0h1m11 0h1m7 0h1m5 0h4m17 0h1m3 0h1m3 0h1M157 937.5h1m5 0h1m10 0h4m1 0h1m2 0h1m4 0h2m9 0h2m3 0h1m4 0h1m8 0h1m10 0h1m3 0h2m6 0h2m8 0h1m3 0h2m5 0h1m2 0h1m2 0h1m4 0h2m1 0h1m2 0h2m7 0h2m2 0h1M147 938.5h1m6 0h1m27 0h1m6 0h1m1 0h1m17 0h1m3 0h1m1 0h1m15 0h1m15 0h2m4 0h1m3 0h1m3 0h1m1 0h1m1 0h1m2 0h1m5 0h1m2 0h2m13 0h2M146 939.5h1m16 0h1m3 0h2m5 0h1m8 0h3m4 0h1m1 0h2m1 0h4m4 0h3m43 0h1m6 0h1m29 0h3M158 940.5h1m3 0h4m7 0h1m29 0h2m10 0h1m5 0h1m2 0h2m2 0h1m3 0h1m2 0h1m3 0h1m2 0h2m5 0h1m1 0h1m7 0h3m1 0h1m1 0h1m11 0h1m15 0h1M147 941.5h1m1 0h2m3 0h1m4 0h1m5 0h1m1 0h3m3 0h4m3 0h2m19 0h1m1 0h1m2 0h1m2 0h1m4 0h2m12 0h1m4 0h1m14 0h1m1 0h1m1 0h2m3 0h1m1 0h1m4 0h1m12 0h1M164 942.5h1m1 0h1m3 0h2m9 0h1m2 0h2m19 0h4m5 0h3m8 0h1m6 0h2m7 0h2m5 0h3m1 0h1m24 0h3m11 0h1m1 0h1M167 943.5h1m6 0h3m28 0h2m9 0h2m16 0h2m9 0h1m14 0h1m6 0h1m3 0h1m4 0h1m12 0h1m1 0h1M148 944.5h1m1 0h1m13 0h1m6 0h2m1 0h2m10 0h1m3 0h1m4 0h1m8 0h4m3 0h1m2 0h1m1 0h2m4 0h1m15 0h1m3 0h1m3 0h1m9 0h1m8 0h1m16 0h1m1 0h3m6 0h1M148 945.5h1m12 0h1m5 0h1m9 0h3m34 0h1m4 0h1m5 0h1m8 0h1m2 0h1m13 0h1m9 0h1m3 0h3m21 0h1m3 0h1M147 946.5h2m1 0h1m6 0h1m4 0h1m1 0h1m2 0h2m4 0h4m1 0h1m21 0h1m10 0h1m4 0h1m5 0h2m6 0h1m4 0h1m14 0h1m2 0h1m4 0h1m3 0h1m11 0h1m5 0h1m12 0h1M149 947.5h1m3 0h2m6 0h5m1 0h1m16 0h1m2 0h1m3 0h2m3 0h1m1 0h3m2 0h1m5 0h2m1 0h2m3 0h2m3 0h1m5 0h2m6 0h1m1 0h1m11 0h1m1 0h3m6 0h1m3 0h1m4 0h3m1 0h1m3 0h1m1 0h1m4 0h2M146 948.5h1m20 0h2m4 0h4m6 0h1m14 0h1m2 0h3m2 0h1m2 0h2m10 0h1m5 0h1m9 0h2m4 0h1m9 0h1m10 0h1m7 0h1m1 0h1m2 0h3m4 0h1m8 0h1M147 949.5h1m3 0h1m2 0h2m11 0h1m7 0h1m13 0h1m16 0h1m4 0h1m11 0h1m3 0h4m3 0h1m9 0h1m4 0h1m6 0h1m9 0h1m16 0h1M150 950.5h1m2 0h1m11 0h1m15 0h3m2 0h2m2 0h1m2 0h1m14 0h1m4 0h1m15 0h1m4 0h1m5 0h1m4 0h1m3 0h1m5 0h1m9 0h1m6 0h1m6 0h1m4 0h3m4 0h1M147 951.5h1m8 0h1m2 0h1m3 0h3m6 0h1m2 0h2m1 0h1m1 0h1m1 0h3m7 0h1m1 0h2m4 0h1m9 0h1m1 0h1m4 0h1m23 0h2m5 0h3m1 0h1m1 0h1m1 0h1m2 0h1m4 0h4m8 0h4m3 0h1M147 952.5h1m1 0h1m24 0h1m9 0h2m12 0h2m12 0h3m13 0h1m27 0h1m2 0h2m10 0h1m1 0h1m2 0h2m6 0h1m3 0h1M147 953.5h1m3 0h1m2 0h4m1 0h3m14 0h1m8 0h1m9 0h1m6 0h1m3 0h1m1 0h1m1 0h1m2 0h1m3 0h3m5 0h4m2 0h2m2 0h1m1 0h2m7 0h4m7 0h1m5 0h2m1 0h1m1 0h2m3 0h1m1 0h2m2 0h1m1 0h1m6 0h1m1 0h2M147 954.5h1m6 0h1m2 0h1m1 0h1m3 0h1m12 0h7m8 0h1m6 0h1m6 0h1m12 0h1m5 0h1m2 0h3m1 0h2m4 0h1m3 0h1m2 0h1m2 0h2m1 0h2m5 0h1m3 0h1m4 0h2m4 0h1m1 0h1m13 0h1m1 0h1m2 0h1M152 955.5h1m33 0h1m1 0h1m3 0h2m3 0h2m1 0h1m3 0h1m4 0h1m1 0h1m7 0h2m8 0h1m1 0h1m9 0h2m14 0h1m23 0h1M149 956.5h2m12 0h1m6 0h1m3 0h1m4 0h1m15 0h3m8 0h1m4 0h1m12 0h1m22 0h1M148 957.5h1m8 0h2m6 0h1m2 0h1m14 0h2m1 0h2m1 0h1m3 0h1m11 0h1m3 0h1m4 0h1m2 0h3m3 0h1m5 0h1m4 0h3m3 0h1m3 0h1m5 0h1m1 0h1m30 0h1m6 0h2M150 958.5h1m13 0h1m31 0h1m2 0h1m9 0h2m2 0h2m3 0h1m13 0h1m3 0h1m8 0h1m1 0h2m12 0h1m7 0h3m3 0h1m1 0h2m4 0h1m3 0h2m4 0h1M148 959.5h2m11 0h1m3 0h1m2 0h1m2 0h1m10 0h1m1 0h1m8 0h1m4 0h3m9 0h1m1 0h1m8 0h2m4 0h1m1 0h1m1 0h1m1 0h2m5 0h1m7 0h1m1 0h1m3 0h1m7 0h1m6 0h1m17 0h1m3 0h1M146 960.5h1m20 0h1m4 0h1m1 0h1m3 0h1m1 0h3m5 0h1m11 0h1m12 0h1m2 0h1m4 0h1m1 0h1m23 0h1m30 0h1m7 0h1M155 961.5h2m2 0h1m8 0h1m12 0h1m1 0h1m12 0h1m1 0h3m11 0h1m6 0h1m7 0h1m5 0h1m5 0h2m4 0h1m7 0h1m9 0h1m13 0h1M149 962.5h2m9 0h2m6 0h1m5 0h2m4 0h2m1 0h1m2 0h1m1 0h1m2 0h1m3 0h1m1 0h1m1 0h2m4 0h1m4 0h1m1 0h1m8 0h1m5 0h1m1 0h1m4 0h2m2 0h1m1 0h1m1 0h2m5 0h3m4 0h1m3 0h1m1 0h1m6 0h1m17 0h1M147 963.5h1m1 0h1m4 0h1m1 0h1m6 0h1m6 0h3m8 0h1m4 0h1m12 0h3m4 0h1m4 0h1m2 0h1m2 0h1m8 0h1m16 0h2m4 0h1m3 0h1m3 0h1m6 0h1m2 0h1m6 0h1m15 0h2M157 964.5h2m19 0h1m1 0h2m4 0h1m1 0h1m4 0h1m2 0h1m13 0h1m18 0h1m7 0h1m31 0h1m1 0h1m12 0h1m4 0h1M165 965.5h1m10 0h1m1 0h1m9 0h2m17 0h1m7 0h1m11 0h1m22 0h2m2 0h2m1 0h1m15 0h1m6 0h1m1 0h1m1 0h1M157 966.5h2m3 0h1m3 0h1m2 0h1m11 0h1m1 0h1m3 0h2m6 0h1m2 0h1m5 0h2m2 0h1m2 0h2m3 0h1m16 0h1m8 0h1m10 0h1m12 0h3m1 0h1m2 0h2m7 0h1m1 0h1m3 0h2M148 967.5h2m2 0h1m4 0h1m3 0h1m2 0h1m3 0h1m8 0h1m10 0h1m14 0h1m7 0h1m3 0h1m19 0h1m12 0h1m20 0h1m11 0h1m4 0h1m3 0h1M146 968.5h2m4 0h1m6 0h2m5 0h1m8 0h1m5 0h1m1 0h1m5 0h2m8 0h1m9 0h1m1 0h4m10 0h1m16 0h2m4 0h1m3 0h1m7 0h1m3 0h1m1 0h2m10 0h2m5 0h1m2 0h1m1 0h1M155 969.5h1m2 0h1m1 0h1m1 0h1m1 0h2m4 0h2m1 0h1m6 0h1m1 0h1m13 0h1m3 0h1m2 0h2m3 0h1m10 0h2m15 0h2m8 0h1m6 0h1m5 0h1m2 0h1m10 0h2m6 0h1m4 0h1m2 0h1m1 0h1M155 970.5h2m4 0h2m3 0h4m1 0h2m1 0h1m9 0h2m1 0h2m9 0h3m1 0h1m8 0h1m3 0h1m2 0h1m11 0h2m26 0h1m19 0h1m8 0h1M150 971.5h1m8 0h1m7 0h1m5 0h2m14 0h1m5 0h1m3 0h2m5 0h1m8 0h1m6 0h1m19 0h1m5 0h1m2 0h1m10 0h1m10 0h2m6 0h1m2 0h2m6 0h2M146 972.5h1m2 0h3m9 0h1m4 0h1m6 0h1m7 0h1m6 0h2m2 0h1m3 0h1m3 0h1m10 0h1m8 0h1m3 0h1m6 0h1m2 0h1m1 0h3m2 0h1m3 0h1m6 0h2m10 0h1m8 0h1m3 0h1m2 0h1m1 0h2m2 0h1m1 0h1m3 0h1M146 973.5h1m3 0h2m8 0h1m3 0h2m7 0h1m1 0h2m1 0h1m9 0h1m12 0h2m5 0h1m6 0h1m11 0h1m1 0h1m1 0h1m1 0h3m3 0h1m11 0h1m1 0h1m7 0h2m10 0h2m9 0h1m1 0h1M169 974.5h1m25 0h1m1 0h1m7 0h2m10 0h1m6 0h1m13 0h1m4 0h1m9 0h2m2 0h1m1 0h2m2 0h1m8 0h2m4 0h1m2 0h2m6 0h1M148 975.5h3m6 0h2m10 0h2m16 0h1m4 0h1m2 0h1m1 0h4m1 0h3m2 0h2m2 0h2m8 0h1m2 0h1m8 0h1m31 0h1m4 0h1M149 976.5h2m5 0h1m2 0h1m3 0h4m18 0h1m1 0h1m1 0h1m4 0h2m3 0h1m6 0h1m1 0h1m2 0h1m2 0h1m5 0h1m6 0h1m11 0h2m10 0h1m3 0h1m2 0h1m3 0h1m5 0h2m2 0h1m4 0h1m6 0h2m4 0h1M154 977.5h1m4 0h3m8 0h1m2 0h1m23 0h1m2 0h1m8 0h1m1 0h1m20 0h1m17 0h1m3 0h1m6 0h1m14 0h1m2 0h1m1 0h1m4 0h1m2 0h5M147 978.5h3m7 0h2m5 0h1m4 0h1m7 0h1m3 0h2m19 0h1m6 0h1m13 0h1m4 0h1m3 0h2m3 0h1m5 0h2m17 0h1m3 0h1m1 0h1m10 0h3m3 0h1m7 0h1M150 979.5h1m1 0h1m8 0h3m17 0h3m2 0h1m4 0h1m3 0h3m4 0h1m1 0h1m9 0h2m5 0h3m8 0h1m2 0h1m37 0h1m2 0h1m2 0h2m8 0h1M155 980.5h3m7 0h1m2 0h1m3 0h1m24 0h1m1 0h1m2 0h3m2 0h1m13 0h1m8 0h1m6 0h1m2 0h1m8 0h1m1 0h2m6 0h1m1 0h2m9 0h1m5 0h2m1 0h1m5 0h2M146 981.5h1m11 0h1m11 0h1m3 0h1m6 0h1m1 0h1m5 0h2m11 0h2m3 0h1m7 0h3m14 0h1m6 0h3m2 0h1m9 0h4m1 0h3m8 0h1m1 0h1m14 0h1m1 0h1M162 982.5h1m11 0h3m5 0h1m3 0h1m14 0h2m5 0h1m1 0h2m3 0h3m1 0h3m24 0h1m2 0h2m2 0h2m7 0h1m2 0h1m2 0h1m5 0h1m7 0h1m6 0h1M148 983.5h1m2 0h1m5 0h1m4 0h4m6 0h1m2 0h1m1 0h2m2 0h1m5 0h2m1 0h2m2 0h1m6 0h1m15 0h1m4 0h2m10 0h2m23 0h1m15 0h1m14 0h3M154 984.5h1m5 0h2m5 0h3m4 0h1m5 0h1m4 0h1m1 0h2m10 0h1m8 0h1m6 0h1m3 0h1m11 0h1m1 0h1m3 0h2m2 0h1m1 0h2m2 0h2m1 0h2m2 0h2m4 0h1m16 0h1m2 0h4m3 0h1M164 985.5h2m9 0h2m1 0h1m5 0h1m16 0h3m5 0h1m3 0h1m9 0h1m1 0h2m8 0h4m4 0h1m12 0h2m6 0h1m1 0h1m3 0h1m3 0h1m2 0h1m3 0h1m1 0h1m1 0h4M146 986.5h2m1 0h1m4 0h2m7 0h1m4 0h1m4 0h1m6 0h1m3 0h1m23 0h3m10 0h1m9 0h3m25 0h1m1 0h1m1 0h1m14 0h1m1 0h1M155 987.5h1m33 0h1m14 0h1m15 0h1m17 0h1m4 0h1m22 0h1m3 0h1m10 0h2m10 0h1M153 988.5h1m1 0h1m4 0h2m12 0h1m3 0h2m7 0h1m6 0h2m2 0h1m15 0h2m3 0h1m11 0h1m1 0h1m2 0h1m1 0h1m7 0h1m12 0h1m5 0h2m1 0h1m6 0h1M152 989.5h2m16 0h2m4 0h2m1 0h1m23 0h2m3 0h1m3 0h1m5 0h2m22 0h1m3 0h1m5 0h1m5 0h4m13 0h1m2 0h1m2 0h1M146 990.5h1m8 0h1m1 0h3m11 0h2m3 0h2m5 0h1m6 0h1m2 0h3m4 0h1m7 0h2m3 0h1m1 0h1m23 0h2m7 0h1m13 0h1m2 0h1m14 0h1m3 0h1M149 991.5h1m3 0h1m7 0h1m5 0h2m1 0h1m7 0h2m1 0h2m5 0h2m1 0h1m1 0h1m2 0h1m1 0h1m5 0h1m1 0h1m2 0h1m1 0h2m4 0h1m4 0h1m2 0h1m2 0h1m3 0h1m4 0h1m1 0h2m2 0h1m18 0h2m2 0h1m7 0h4m2 0h1m1 0h1m2 0h1m1 0h1m5 0h1M153 992.5h1m11 0h1m1 0h1m1 0h3m1 0h1m2 0h1m4 0h1m1 0h1m6 0h1m5 0h1m4 0h1m7 0h1m23 0h1m6 0h2m2 0h1m5 0h2m6 0h2m21 0h2m1 0h1M147 993.5h1m7 0h1m10 0h1m3 0h1m2 0h1m5 0h1m1 0h2m3 0h1m4 0h1m3 0h1m14 0h1m7 0h2m3 0h1m9 0h1m7 0h1m3 0h1m11 0h1m4 0h2m4 0h2m2 0h1m5 0h2M146 994.5h2m6 0h1m4 0h1m6 0h2m10 0h1m2 0h1m2 0h2m6 0h4m4 0h1m3 0h1m4 0h1m1 0h1m3 0h2m10 0h1m7 0h1m9 0h2m17 0h1m7 0h1m7 0h2m2 0h1m3 0h1m1 0h1M148 995.5h1m5 0h1m12 0h1m3 0h1m9 0h1m1 0h1m14 0h1m9 0h1m37 0h1m7 0h1m1 0h2m6 0h1m3 0h1m14 0h1m3 0h3M163 996.5h1m3 0h4m6 0h1m2 0h1m9 0h1m17 0h1m1 0h1m7 0h1m8 0h3m1 0h2m9 0h1m2 0h2m4 0h1m6 0h1m2 0h1m17 0h1M149 997.5h1m5 0h1m1 0h2m4 0h1m4 0h1m4 0h4m6 0h2m1 0h1m2 0h1m4 0h1m4 0h1m1 0h1m3 0h1m1 0h1m1 0h1m3 0h1m12 0h1m2 0h1m4 0h1m3 0h1m3 0h1m4 0h2m6 0h1m1 0h1m13 0h3m2 0h1m5 0h1m7 0h2M148 998.5h1m2 0h1m1 0h1m13 0h2m12 0h1m3 0h1m9 0h1m12 0h1m5 0h1m9 0h1m5 0h2m8 0h1m14 0h1m6 0h3m2 0h1m5 0h1m3 0h2m3 0h1m4 0h1M148 999.5h1m6 0h1m2 0h1m6 0h1m13 0h1m2 0h1m5 0h4m2 0h1m4 0h1m9 0h4m3 0h1m2 0h2m1 0h2m1 0h2m9 0h1m3 0h5m2 0h1m12 0h2m1 0h3m6 0h1m5 0h5m3 0h2m4 0h2M148 1000.5h1m8 0h1m8 0h1m3 0h1m3 0h1m5 0h1m3 0h1m1 0h3m3 0h1m4 0h2m9 0h1m4 0h1m10 0h1m3 0h2m3 0h1m8 0h2m2 0h1m25 0h2M146 1001.5h2m1 0h1m11 0h1m1 0h1m3 0h1m16 0h1m5 0h1m3 0h2m1 0h1m12 0h1m13 0h1m4 0h2m3 0h1m3 0h1m13 0h1m8 0h1m6 0h1m7 0h1m2 0h2m2 0h1m2 0h1M155 1002.5h2m4 0h2m4 0h2m1 0h1m6 0h2m15 0h1m1 0h2m3 0h2m13 0h1m4 0h2m3 0h3m6 0h2m5 0h1m11 0h2m10 0h1m4 0h1m9 0h1m2 0h1m2 0h1m4 0h2M149 1003.5h1m3 0h2m5 0h1m6 0h2m1 0h1m2 0h1m18 0h4m5 0h1m5 0h1m4 0h1m7 0h1m25 0h2m3 0h1m8 0h1m21 0h1m3 0h1M148 1004.5h1m10 0h1m2 0h1m1 0h1m4 0h2m6 0h1m3 0h1m7 0h1m1 0h1m1 0h1m2 0h1m2 0h1m13 0h1m2 0h1m11 0h2m43 0h2m15 0h1M147 1005.5h1m11 0h1m1 0h2m2 0h3m6 0h1m9 0h2m2 0h1m5 0h1m3 0h1m1 0h1m9 0h1m11 0h1m2 0h1m4 0h1m11 0h3m16 0h1m1 0h1m5 0h2m17 0h1M148 1006.5h1m7 0h1m9 0h1m4 0h1m3 0h1m4 0h1m1 0h1m1 0h5m1 0h1m12 0h1m15 0h1m7 0h1m11 0h1m2 0h2m16 0h1m9 0h1m7 0h1m1 0h2m5 0h1m4 0h1M153 1007.5h1m2 0h1m5 0h3m6 0h1m4 0h1m6 0h1m6 0h2m1 0h2m4 0h1m5 0h1m4 0h2m7 0h1m1 0h1m6 0h1m2 0h1m1 0h1m6 0h1m2 0h2m4 0h2m1 0h2m2 0h3m5 0h1m2 0h1m3 0h1m4 0h1m9 0h1m3 0h3M163 1008.5h1m7 0h1m3 0h2m1 0h1m28 0h1m3 0h1m1 0h1m1 0h1m7 0h1m1 0h1m1 0h2m11 0h1m18 0h2m2 0h2m16 0h1m11 0h1M163 1009.5h3m10 0h1m16 0h1m10 0h1m4 0h1m3 0h2m2 0h1m7 0h1m2 0h2m8 0h2m1 0h1m1 0h2m2 0h1m3 0h1m5 0h1m10 0h4m2 0h1m2 0h1m2 0h1m10 0h1M160 1010.5h1m2 0h1m6 0h1m2 0h1m11 0h1m2 0h1m1 0h1m5 0h1m5 0h1m15 0h1m6 0h1m4 0h3m24 0h1m4 0h2m1 0h2m4 0h1m4 0h3m4 0h2m4 0h1M146 1011.5h1m17 0h1m3 0h1m1 0h1m1 0h1m2 0h1m3 0h1m4 0h1m2 0h1m1 0h5m2 0h1m10 0h1m1 0h3m11 0h2m11 0h1m1 0h2m1 0h1m5 0h1m1 0h1m11 0h1m2 0h2m3 0h1m1 0h1m1 0h1m1 0h1m1 0h1m5 0h1m1 0h1m1 0h3M147 1012.5h1m1 0h1m2 0h2m7 0h1m1 0h1m9 0h1m5 0h1m2 0h1m14 0h1m4 0h1m3 0h2m5 0h1m14 0h1m1 0h1m5 0h1m9 0h2m3 0h1m10 0h1m15 0h3m1 0h1M146 1013.5h1m16 0h1m15 0h1m2 0h3m8 0h1m1 0h1m1 0h1m1 0h2m1 0h5m1 0h2m3 0h1m1 0h1m4 0h2m3 0h1m6 0h1m5 0h1m1 0h1m6 0h2m3 0h5m5 0h1m4 0h1m11 0h1m12 0h1M151 1014.5h2m7 0h1m1 0h1m14 0h2m8 0h1m6 0h1m3 0h1m3 0h1m1 0h1m19 0h2m8 0h1m6 0h2m1 0h1m4 0h2m7 0h1m6 0h1m1 0h3m2 0h2m7 0h1m5 0h1M152 1015.5h2m2 0h1m1 0h1m1 0h1m11 0h1m2 0h2m8 0h1m3 0h1m4 0h1m5 0h1m7 0h1m7 0h1m10 0h1m2 0h2m3 0h2m2 0h1m2 0h1m2 0h2m2 0h4m4 0h1m7 0h1m4 0h1m3 0h2m1 0h1m1 0h1m3 0h1m6 0h1M146 1016.5h1m15 0h1m3 0h1m20 0h3m4 0h1m2 0h3m12 0h2m1 0h1m7 0h1m8 0h1m6 0h1m13 0h5m9 0h1m14 0h1m6 0h1M151 1017.5h1m1 0h3m8 0h5m4 0h1m12 0h2m18 0h1m7 0h1m32 0h1m12 0h3m3 0h1m4 0h1m3 0h1m16 0h1" stroke="#353535" stroke-width="1" fill="none"/>
<path d="M145.1 932.8L145.1 1019.4" stroke="#000" stroke-width="2"/>
<path d="M144.1 1018.4L294.4 1018.4" stroke="#000" stroke-width="2"/>
<path d="M141.1 936.3L145.1 936.3" stroke="#000" stroke-width="1.6"/>
<text x="135.8" y="943.7" text-anchor="end">1</text>
<path d="M141.1 965L145.1 965" stroke="#000" stroke-width="1.6"/>
<path d="M141.1 997.3L145.1 997.3" stroke="#000" stroke-width="1.6"/>
<text x="135.8" y="1004.7" text-anchor="end">300</text>
<path d="M166.9 1018.4L166.9 1022.4" stroke="#000" stroke-width="1.6"/>
<path d="M208.7 1018.4L208.7 1022.4" stroke="#000" stroke-width="1.6"/>
<path d="M250.9 1018.4L250.9 1022.4" stroke="#000" stroke-width="1.6"/>
<path d="M293.5 1018.4L293.5 1022.4" stroke="#000" stroke-width="1.6"/>
<rect x="413.2" y="836.1" width="51.9" height="91.5" fill="#dcdcdc"/>
<clipPath id="cl6"><rect x="337.5" y="830" width="152.5" height="97.5"/></clipPath><g clip-path="url(#cl6)">
<path d="M336.8 891.9C337.9 890.4 341.5 885 343.6 882.9C345.6 880.7 347.4 878.9 349.2 878.9C351 878.9 352.4 881.8 354.3 882.9C356.2 883.9 358 885.5 360.5 885.1C363.1 884.8 367.1 880.3 369.5 880.6C372 880.9 373.3 884.6 375.2 886.8C377.1 889.1 379 892.5 380.8 894.2C382.7 895.8 384.6 896.1 386.5 896.7C388.4 897.2 390.3 896.9 392.1 897.6C394 898.2 395.9 899.5 397.8 900.4C399.7 901.3 401.6 903.5 403.4 903.2C405.3 902.9 407 902.3 409.1 898.7C411.2 895.1 413.8 886.9 415.9 881.8C417.9 876.6 419.5 871.5 421.5 867.6C423.6 863.8 426 860.9 428.3 858.8C430.7 856.7 433.4 854.7 435.6 854.9C437.9 855 439.9 857 441.9 859.9C443.8 862.9 445.4 869.1 447.5 872.7C449.6 876.3 452.2 878.9 454.3 881.8C456.4 884.6 458.1 887.3 459.9 889.7C461.8 892 463.5 894.6 465.6 895.9C467.7 897.2 470.9 897.5 472.4 897.6C473.9 897.7 473.7 896.3 474.6 896.4C475.6 896.6 477.1 897.8 478 898.7C479 899.6 479.9 901.5 480.3 902.1L480.3 913.8C479.9 912.9 479 909.5 478 908.2C477.1 906.9 475.6 906.1 474.6 905.9C473.7 905.7 473.9 907.2 472.4 907.1C470.9 907 467.7 906.7 465.6 905.4C463.5 904 461.8 901.5 459.9 899.2C458.1 896.8 456.4 894.1 454.3 891.2C452.2 888.4 449.6 885.3 447.5 882.2C445.4 879.1 443.8 874.9 441.9 872.4C439.9 869.9 437.9 867.5 435.6 867.3C433.4 867.1 430.7 869.6 428.3 871.2C426 872.9 423.6 873.8 421.5 877.1C419.5 880.5 417.9 886.1 415.9 891.2C413.8 896.4 411.2 904.6 409.1 908.2C407 911.8 405.3 912.4 403.4 912.7C401.6 913 399.7 910.8 397.8 909.9C395.9 908.9 394 907.7 392.1 907.1C390.3 906.4 388.4 906.7 386.5 906.2C384.6 905.6 382.7 905.3 380.8 903.7C379 902 377.1 898.6 375.2 896.3C373.3 894.1 372 890.4 369.5 890.1C367.1 889.8 363.1 894.3 360.5 894.6C358 895 356.2 893.4 354.3 892.4C352.4 891.3 351 888.4 349.2 888.4C347.4 888.4 345.6 890.2 343.6 892.4C341.5 894.5 337.9 899.9 336.8 901.4Z" fill="#e79016" fill-opacity="0.55"/>
<path d="M336.8 891.9C337.9 890.4 341.5 885 343.6 882.9C345.6 880.7 347.4 878.9 349.2 878.9C351 878.9 352.4 881.8 354.3 882.9C356.2 883.9 358 885.5 360.5 885.1C363.1 884.8 367.1 880.3 369.5 880.6C372 880.9 373.3 884.6 375.2 886.8C377.1 889.1 379 892.5 380.8 894.2C382.7 895.8 384.6 896.1 386.5 896.7C388.4 897.2 390.3 896.9 392.1 897.6C394 898.2 395.9 899.5 397.8 900.4C399.7 901.3 401.6 903.5 403.4 903.2C405.3 902.9 407 902.3 409.1 898.7C411.2 895.1 413.8 886.9 415.9 881.8C417.9 876.6 419.5 871.5 421.5 867.6C423.6 863.8 426 860.9 428.3 858.8C430.7 856.7 433.4 854.7 435.6 854.9C437.9 855 439.9 857 441.9 859.9C443.8 862.9 445.4 869.1 447.5 872.7C449.6 876.3 452.2 878.9 454.3 881.8C456.4 884.6 458.1 887.3 459.9 889.7C461.8 892 463.5 894.6 465.6 895.9C467.7 897.2 470.9 897.5 472.4 897.6C473.9 897.7 473.7 896.3 474.6 896.4C475.6 896.6 477.1 897.8 478 898.7C479 899.6 479.9 901.5 480.3 902.1M480.3 913.8C479.9 912.9 479 909.5 478 908.2C477.1 906.9 475.6 906.1 474.6 905.9C473.7 905.7 473.9 907.2 472.4 907.1C470.9 907 467.7 906.7 465.6 905.4C463.5 904 461.8 901.5 459.9 899.2C458.1 896.8 456.4 894.1 454.3 891.2C452.2 888.4 449.6 885.3 447.5 882.2C445.4 879.1 443.8 874.9 441.9 872.4C439.9 869.9 437.9 867.5 435.6 867.3C433.4 867.1 430.7 869.6 428.3 871.2C426 872.9 423.6 873.8 421.5 877.1C419.5 880.5 417.9 886.1 415.9 891.2C413.8 896.4 411.2 904.6 409.1 908.2C407 911.8 405.3 912.4 403.4 912.7C401.6 913 399.7 910.8 397.8 909.9C395.9 908.9 394 907.7 392.1 907.1C390.3 906.4 388.4 906.7 386.5 906.2C384.6 905.6 382.7 905.3 380.8 903.7C379 902 377.1 898.6 375.2 896.3C373.3 894.1 372 890.4 369.5 890.1C367.1 889.8 363.1 894.3 360.5 894.6C358 895 356.2 893.4 354.3 892.4C352.4 891.3 351 888.4 349.2 888.4C347.4 888.4 345.6 890.2 343.6 892.4C341.5 894.5 337.9 899.9 336.8 901.4" stroke="#eaa54a" stroke-width="1.4" fill="none" stroke-opacity="0.9"/>
<path d="M336.8 896.7C337.9 895.2 341.5 889.8 343.6 887.6C345.6 885.5 347.4 883.7 349.2 883.7C351 883.7 352.4 886.6 354.3 887.6C356.2 888.7 358 890.3 360.5 889.9C363.1 889.5 367.1 885.1 369.5 885.4C372 885.6 373.3 889.3 375.2 891.6C377.1 893.8 379 897.3 380.8 898.9C382.7 900.6 384.6 900.8 386.5 901.4C388.4 902 390.3 901.7 392.1 902.3C394 902.9 395.9 904.2 397.8 905.1C399.7 906.1 401.6 908.2 403.4 908C405.3 907.7 407 907 409.1 903.4C411.2 899.9 413.8 891.7 415.9 886.5C417.9 881.3 419.5 876 421.5 872.4C423.6 868.8 426 866.9 428.3 865C430.7 863.1 433.4 860.9 435.6 861.1C437.9 861.3 439.9 863.4 441.9 866.2C443.8 868.9 445.4 874.1 447.5 877.5C449.6 880.8 452.2 883.7 454.3 886.5C456.4 889.3 458.1 892.1 459.9 894.4C461.8 896.8 463.5 899.3 465.6 900.6C467.7 901.9 470.9 902.2 472.4 902.3C473.9 902.4 473.7 901 474.6 901.2C475.6 901.4 477.1 902.3 478 903.4C479 904.6 479.9 907.2 480.3 908" stroke="#e6890a" stroke-width="2" fill="none"/>
</g>
<path d="M401.1 846.4V1019" stroke="#222" stroke-width="1.5" stroke-dasharray="9 3.5"/>
<path d="M336.5 843.8L336.5 929" stroke="#000" stroke-width="2"/>
<path d="M335.5 928L489.5 928" stroke="#000" stroke-width="2"/>
<path d="M332.5 858.2L336.5 858.2" stroke="#000" stroke-width="1.6"/>
<text x="330.5" y="865.6" text-anchor="end">10</text>
<path d="M332.5 893L336.5 893" stroke="#000" stroke-width="1.6"/>
<text x="330.5" y="900.4" text-anchor="end">5</text>
<path d="M357.9 928L357.9 932" stroke="#000" stroke-width="1.6"/>
<path d="M401.1 928L401.1 932" stroke="#000" stroke-width="1.6"/>
<path d="M443 928L443 932" stroke="#000" stroke-width="1.6"/>
<path d="M489.5 928L489.5 932" stroke="#000" stroke-width="1.6"/>
<path d="M345 934.5h1m11 0h1m12 0h1m11 0h1m8 0h3m15 0h1m10 0h1m5 0h1m3 0h3m21 0h1m20 0h1m12 0h1M338 935.5h1m23 0h1m17 0h2m13 0h3m7 0h1m6 0h2m14 0h1m30 0h2m8 0h3M338 936.5h5m5 0h3m30 0h2m7 0h3m11 0h1m24 0h1m6 0h1m6 0h1m1 0h1m37 0h3M432 937.5h1m11 0h1m5 0h1m1 0h2M362 938.5h2m10 0h2m2 0h1m2 0h1m1 0h3m8 0h1m3 0h2m2 0h1m42 0h1m34 0h1m6 0h2M385 939.5h1m4 0h1m4 0h2m55 0h1m6 0h2m5 0h3m10 0h1M339 940.5h1m8 0h1m2 0h3m12 0h1m5 0h1m31 0h3m25 0h1m11 0h1m19 0h1m17 0h2M352 941.5h1m25 0h2m16 0h1m9 0h1m18 0h2m9 0h1m25 0h1m14 0h2m5 0h1M359 942.5h1m14 0h3m7 0h2m2 0h1m26 0h1m13 0h3m2 0h1m43 0h1M351 943.5h1m13 0h1m9 0h1m11 0h1m6 0h1m23 0h1m7 0h1m16 0h1m7 0h2m7 0h1M350 944.5h2m11 0h1m61 0h1m16 0h1m1 0h3m4 0h2m2 0h2m4 0h1m19 0h1M351 945.5h2m6 0h1m9 0h3m73 0h1m36 0h2M362 946.5h1m5 0h1m6 0h1m106 0h2M342 947.5h1m12 0h1m3 0h4m36 0h3m21 0h1m44 0h2M356 948.5h1m1 0h2m1 0h2m64 0h2m30 0h1m6 0h1m6 0h3m3 0h4m4 0h1M350 949.5h1m10 0h1m10 0h1m69 0h5m24 0h4M386 950.5h1m9 0h1m4 0h1m2 0h2m39 0h1m2 0h1m31 0h1M341 951.5h7m59 0h1m3 0h1m21 0h2M378 952.5h1m13 0h2m19 0h1m4 0h2m1 0h1m4 0h2m13 0h1m32 0h1m11 0h2M422 953.5h1m1 0h1m12 0h1m5 0h1m22 0h1m6 0h2M340 954.5h1m2 0h1m5 0h1m1 0h1m54 0h1m38 0h1m4 0h2m21 0h2m3 0h1M358 955.5h1m18 0h1m11 0h1m14 0h2m52 0h1m6 0h1m4 0h1m11 0h2m1 0h1M343 956.5h1m34 0h1m24 0h1M356 957.5h1m24 0h1m1 0h1m2 0h2m5 0h1m4 0h2m7 0h1m4 0h1m5 0h1m3 0h1m25 0h2m15 0h2m12 0h1m5 0h1M344 958.5h1m22 0h1m6 0h1m37 0h1m9 0h2m15 0h1m4 0h1m11 0h1M352 959.5h3m46 0h2m43 0h1m26 0h1M407 960.5h2m3 0h1m15 0h1m10 0h1m36 0h1M343 961.5h1m17 0h1m17 0h3m4 0h1m1 0h1m48 0h1m31 0h2m3 0h1m11 0h1M339 962.5h2m3 0h3m11 0h1m1 0h1m1 0h1m28 0h1m14 0h1m7 0h3m5 0h1m10 0h1m4 0h1M357 963.5h1m13 0h2m26 0h1m7 0h3m1 0h2m16 0h1m4 0h1m9 0h1m20 0h2m6 0h1m6 0h1M340 964.5h1m1 0h1m22 0h1m9 0h1m27 0h5m40 0h2m4 0h1m25 0h1M351 965.5h1m13 0h1m32 0h1m8 0h1m18 0h2m39 0h1m15 0h1M389 966.5h2m13 0h2m28 0h1M354 967.5h1m9 0h1m4 0h2m40 0h1m9 0h1m8 0h1m23 0h1m6 0h1m13 0h2m8 0h1M338 968.5h1m7 0h1m4 0h1m14 0h1m2 0h1m11 0h1m5 0h1m2 0h1m6 0h2m18 0h2m2 0h1m22 0h1m1 0h1m5 0h1m11 0h1m2 0h3m9 0h9M373 969.5h1m13 0h1m5 0h1m3 0h2m14 0h1m18 0h1m17 0h3m5 0h3m17 0h1m3 0h4M338 970.5h1m4 0h1m7 0h1m4 0h1m34 0h2m15 0h1m5 0h1m1 0h1m11 0h1m3 0h1m18 0h1M381 971.5h2m16 0h3m5 0h1m17 0h2m3 0h1m10 0h1m24 0h1m5 0h3m8 0h3m1 0h1M370 972.5h2m20 0h2m11 0h1m7 0h1m1 0h3m17 0h1m11 0h2m10 0h1m25 0h3M342 973.5h1m4 0h2m22 0h1m3 0h1m35 0h1m19 0h1m12 0h3m6 0h1m22 0h2m3 0h1M338 974.5h2m4 0h1m23 0h1m7 0h1m16 0h1m33 0h1m22 0h1m17 0h2m4 0h1M346 975.5h1m11 0h1m21 0h1m7 0h3m4 0h1m10 0h4m27 0h1m5 0h1m1 0h1m24 0h1m1 0h2M361 976.5h1m8 0h1m18 0h1m22 0h2m1 0h1m9 0h1m1 0h1m8 0h1m22 0h1m11 0h2m9 0h1M342 977.5h1m5 0h2m6 0h1m3 0h1m4 0h1m25 0h1m9 0h4m2 0h2m19 0h2m1 0h1m2 0h1m4 0h2m23 0h2m4 0h1m4 0h1m3 0h1M345 978.5h1m20 0h1m13 0h3m12 0h1m2 0h1m1 0h2m7 0h1m6 0h1m5 0h1m6 0h1m9 0h1m5 0h1m30 0h1m1 0h1M343 979.5h1m22 0h1m27 0h1m2 0h1m1 0h1m2 0h1m11 0h1m29 0h1m14 0h1m4 0h1m4 0h1m6 0h1m1 0h1m3 0h1M339 980.5h3m6 0h1m1 0h2m3 0h3m22 0h2m2 0h2m29 0h1m21 0h1m17 0h3m9 0h2m4 0h1m6 0h1M345 981.5h1m30 0h1m36 0h1m1 0h2m6 0h1m11 0h1m4 0h1m12 0h1m3 0h2m8 0h1m1 0h1M344 982.5h1m2 0h1m8 0h1m36 0h1m8 0h2m10 0h2m16 0h1m34 0h1m17 0h1m2 0h1M343 983.5h1m40 0h1m7 0h2m2 0h1m10 0h1m1 0h1m4 0h2m6 0h1m6 0h2m2 0h2m31 0h1m9 0h1m1 0h1M355 984.5h2m22 0h1m50 0h1m16 0h1m19 0h1m13 0h1M388 985.5h1m26 0h4m1 0h1m1 0h1m1 0h1m20 0h1m17 0h1m3 0h1m18 0h1M366 986.5h1m5 0h2m29 0h1m3 0h1m11 0h2m5 0h1m5 0h1m1 0h1m24 0h2m3 0h3m4 0h1m15 0h1M349 987.5h1m28 0h3m16 0h2m4 0h1m2 0h1m9 0h3m37 0h1m2 0h1m1 0h1m3 0h1m12 0h2M344 988.5h2m3 0h1m13 0h4m46 0h1m14 0h1m16 0h1m6 0h3m25 0h2M341 989.5h4m6 0h1m29 0h2m13 0h1m1 0h1m12 0h2m13 0h1m2 0h1m12 0h1m2 0h1m4 0h6m6 0h1m2 0h1m2 0h2m4 0h2m1 0h1m2 0h1m3 0h1M340 990.5h1m49 0h2m22 0h2m5 0h1m13 0h1m30 0h2m6 0h1M352 991.5h2m6 0h1m9 0h1m14 0h1m17 0h1m21 0h1m3 0h2m1 0h1m14 0h2m1 0h1m16 0h3m7 0h3M341 992.5h1m8 0h1m20 0h1m44 0h1m18 0h1m2 0h1m8 0h1m3 0h2m11 0h3m18 0h1M341 993.5h1m3 0h1m2 0h1m9 0h1m13 0h1m27 0h1m9 0h1m27 0h2m22 0h1m8 0h1m5 0h1M350 994.5h1m6 0h1m27 0h2m7 0h1m3 0h1m20 0h2m3 0h2m5 0h2m18 0h2m5 0h2m11 0h1m8 0h1m4 0h1M404 995.5h1m2 0h2m17 0h1m26 0h1m11 0h1m13 0h3m6 0h1M375 996.5h1m28 0h1m8 0h2m17 0h1m1 0h2m16 0h1m12 0h1m2 0h1M340 997.5h1m11 0h3m7 0h2m17 0h1m30 0h1m12 0h1m14 0h2m7 0h1m8 0h2m7 0h1m18 0h1M341 998.5h1m27 0h1m14 0h1m6 0h2m8 0h1m28 0h1m7 0h1m3 0h1m19 0h1m1 0h1m6 0h2m9 0h1m3 0h3M359 999.5h2m52 0h1m9 0h1m33 0h1m7 0h1M341 1000.5h1m12 0h1m15 0h1m13 0h1m7 0h1m11 0h2m22 0h1m7 0h1M375 1001.5h1m7 0h1m22 0h1m19 0h1m1 0h3m2 0h2m4 0h1m23 0h3m13 0h1m1 0h3M339 1002.5h2m5 0h1m2 0h1m7 0h1m9 0h1m12 0h2m14 0h2m9 0h2m18 0h1m6 0h1m4 0h3m2 0h1m4 0h1m1 0h1m1 0h1m11 0h1m1 0h2m9 0h1m3 0h1m4 0h1M409 1003.5h1m4 0h1m17 0h2m13 0h1m17 0h2m5 0h3m5 0h1M407 1004.5h2m9 0h1m3 0h1m1 0h1m7 0h1m13 0h2m9 0h1m7 0h1m3 0h1m4 0h2M393 1005.5h2m8 0h3m1 0h1m3 0h1m9 0h1M342 1006.5h1m21 0h1m9 0h1m11 0h2m37 0h1m36 0h2m6 0h1m9 0h1m3 0h2M349 1007.5h2m16 0h1m6 0h1m3 0h1m17 0h2m27 0h1m4 0h2m3 0h1m17 0h2m7 0h1m1 0h5m13 0h1m4 0h1M339 1008.5h3m20 0h1m31 0h1m4 0h1m4 0h1m11 0h1m3 0h2m1 0h3m21 0h1m6 0h1m9 0h2m6 0h1m7 0h1M346 1009.5h1m7 0h1m36 0h1m20 0h2m6 0h1m30 0h1m6 0h2m14 0h1m5 0h1M350 1010.5h1m49 0h2m3 0h1m17 0h1m4 0h2m24 0h1m6 0h1m8 0h1M355 1011.5h1m22 0h2m5 0h1m14 0h1m2 0h2m40 0h1m5 0h1m7 0h1m7 0h4m11 0h2m2 0h1M340 1012.5h5m3 0h1m22 0h1m14 0h2m22 0h1m1 0h1m18 0h1m12 0h3m1 0h1m14 0h1m3 0h1m4 0h3m11 0h1M350 1013.5h1m2 0h2m19 0h1m4 0h1m19 0h1m3 0h1m12 0h1m3 0h1m1 0h1m6 0h1m7 0h1m4 0h1m1 0h1m3 0h2m6 0h1m14 0h1m7 0h1m5 0h4M348 1014.5h2m7 0h3m5 0h1m4 0h1m1 0h1m33 0h1m20 0h1m2 0h1m28 0h1m10 0h1m1 0h2m8 0h1M369 1015.5h1m8 0h1m16 0h4m8 0h1m2 0h1m16 0h1m3 0h1m5 0h2m25 0h1m5 0h1m15 0h1m1 0h1M338 1016.5h3m16 0h1m24 0h1m3 0h1m18 0h1m8 0h1m2 0h1m8 0h1m10 0h2m4 0h1m1 0h1m9 0h1m11 0h1m7 0h1M343 1017.5h1m7 0h1m10 0h2m2 0h1m49 0h1m20 0h3m1 0h1m22 0h1m6 0h1" stroke="#353535" stroke-width="1" fill="none"/>
<path d="M336.5 933L336.5 1020.2" stroke="#000" stroke-width="2"/>
<path d="M335.5 1019.2L489.5 1019.2" stroke="#000" stroke-width="2"/>
<path d="M332.5 938.7L336.5 938.7" stroke="#000" stroke-width="1.6"/>
<text x="330.5" y="946.1" text-anchor="end">1</text>
<path d="M332.5 1018.3L336.5 1018.3" stroke="#000" stroke-width="1.6"/>
<text x="330.5" y="1025.7" text-anchor="end">500</text>
<path d="M357.9 1019.2L357.9 1023.2" stroke="#000" stroke-width="1.6"/>
<path d="M401.1 1019.2L401.1 1023.2" stroke="#000" stroke-width="1.6"/>
<path d="M443 1019.2L443 1023.2" stroke="#000" stroke-width="1.6"/>
<path d="M489.5 1019.2L489.5 1023.2" stroke="#000" stroke-width="1.6"/>
<rect x="572.2" y="836.1" width="37.3" height="92.5" fill="#dcdcdc"/>
<clipPath id="cl7"><rect x="534.5" y="830" width="151.5" height="98"/></clipPath><g clip-path="url(#cl7)">
<path d="M534.2 908C534.7 908.5 536 911.5 537 911.4C538.1 911.2 539.1 908 540.4 906.8C541.7 905.7 543.4 905 544.9 904.6C546.5 904.1 547.6 904.6 549.5 904C551.4 903.4 554.4 901.6 556.2 901.2C558.1 900.8 559.5 901.4 560.8 901.8C562.1 902.1 562.8 904.5 564.2 903.4C565.5 902.4 567.4 897.6 568.7 895.5C570 893.5 570.7 892.5 572.1 891C573.4 889.5 575.1 889.3 576.6 886.5C578.1 883.7 579.4 878.8 581.1 874.1C582.8 869.4 585.1 862.4 586.8 858.2C588.5 854.1 589.9 851.5 591.3 849.2C592.7 846.9 593.9 844.7 595.2 844.7C596.5 844.7 597.8 847.9 599.2 849.2C600.6 850.5 602.2 850.9 603.7 852.6C605.2 854.3 606.9 855.8 608.2 859.4C609.5 863 610.5 869.7 611.6 874.1C612.7 878.4 613.7 882.9 615 885.4C616.3 887.8 617.8 885.9 619.5 888.8C621.2 891.6 623.3 900.2 625.2 902.3C627.1 904.4 629.3 901.3 630.8 901.2C632.3 901.1 632.5 900.6 634.2 901.8C635.9 902.9 638.7 906.7 641 908C643.3 909.2 645.7 908.7 647.8 909.1C649.8 909.5 651.9 910.4 653.4 910.2C654.9 910 655.5 908.2 656.8 908C658.1 907.8 659.5 909 661.3 909.1C663.2 909.2 666.2 909.2 668.1 908.5C670 907.9 671.3 905.3 672.6 905.1C674 905 674.7 907.7 676 907.4C677.3 907.1 679.1 903.4 680.5 903.4C682 903.5 683.8 907.2 684.5 908L684.5 927.2C683.8 926.3 682 922.5 680.5 922.1C679.1 921.7 677.3 924.7 676 924.9C674.7 925.1 674 922.9 672.6 923.2C671.3 923.5 670 926 668.1 926.6C666.2 927.2 663.2 926.9 661.3 926.6C659.5 926.3 658.1 924.9 656.8 924.9C655.5 924.9 654.9 926.6 653.4 926.6C651.9 926.6 649.8 925.4 647.8 924.9C645.7 924.4 643.3 924.7 641 923.8C638.7 922.8 635.9 920.1 634.2 919.3C632.5 918.4 632.3 918.5 630.8 918.7C629.3 918.9 627.1 921.8 625.2 920.4C623.3 919 621.2 912.7 619.5 910.2C617.8 907.8 616.3 908 615 905.7C613.7 903.4 612.7 900.2 611.6 896.7C610.5 893.1 609.5 887.4 608.2 884.2C606.9 881 605.2 879.2 603.7 877.5C602.2 875.8 600.6 875.4 599.2 874.1C597.8 872.7 596.5 869.4 595.2 869.5C593.9 869.7 592.7 873.1 591.3 875.2C589.9 877.3 588.5 878.6 586.8 882C585.1 885.4 582.8 891.6 581.1 895.5C579.4 899.5 578.1 903.4 576.6 905.7C575.1 908 573.4 907.8 572.1 909.1C570.7 910.4 570 911.8 568.7 913.6C567.4 915.4 565.5 919 564.2 919.8C562.8 920.7 562.1 919.1 560.8 918.7C559.5 918.3 558.1 917.3 556.2 917.6C554.4 917.9 551.4 919.7 549.5 920.4C547.6 921.1 546.5 920.8 544.9 921.5C543.4 922.3 541.7 923.8 540.4 924.9C539.1 926 538.1 927.9 537 928.3C536 928.7 534.7 927.4 534.2 927.2Z" fill="#42b147" fill-opacity="0.55"/>
<path d="M534.2 908C534.7 908.5 536 911.5 537 911.4C538.1 911.2 539.1 908 540.4 906.8C541.7 905.7 543.4 905 544.9 904.6C546.5 904.1 547.6 904.6 549.5 904C551.4 903.4 554.4 901.6 556.2 901.2C558.1 900.8 559.5 901.4 560.8 901.8C562.1 902.1 562.8 904.5 564.2 903.4C565.5 902.4 567.4 897.6 568.7 895.5C570 893.5 570.7 892.5 572.1 891C573.4 889.5 575.1 889.3 576.6 886.5C578.1 883.7 579.4 878.8 581.1 874.1C582.8 869.4 585.1 862.4 586.8 858.2C588.5 854.1 589.9 851.5 591.3 849.2C592.7 846.9 593.9 844.7 595.2 844.7C596.5 844.7 597.8 847.9 599.2 849.2C600.6 850.5 602.2 850.9 603.7 852.6C605.2 854.3 606.9 855.8 608.2 859.4C609.5 863 610.5 869.7 611.6 874.1C612.7 878.4 613.7 882.9 615 885.4C616.3 887.8 617.8 885.9 619.5 888.8C621.2 891.6 623.3 900.2 625.2 902.3C627.1 904.4 629.3 901.3 630.8 901.2C632.3 901.1 632.5 900.6 634.2 901.8C635.9 902.9 638.7 906.7 641 908C643.3 909.2 645.7 908.7 647.8 909.1C649.8 909.5 651.9 910.4 653.4 910.2C654.9 910 655.5 908.2 656.8 908C658.1 907.8 659.5 909 661.3 909.1C663.2 909.2 666.2 909.2 668.1 908.5C670 907.9 671.3 905.3 672.6 905.1C674 905 674.7 907.7 676 907.4C677.3 907.1 679.1 903.4 680.5 903.4C682 903.5 683.8 907.2 684.5 908M684.5 927.2C683.8 926.3 682 922.5 680.5 922.1C679.1 921.7 677.3 924.7 676 924.9C674.7 925.1 674 922.9 672.6 923.2C671.3 923.5 670 926 668.1 926.6C666.2 927.2 663.2 926.9 661.3 926.6C659.5 926.3 658.1 924.9 656.8 924.9C655.5 924.9 654.9 926.6 653.4 926.6C651.9 926.6 649.8 925.4 647.8 924.9C645.7 924.4 643.3 924.7 641 923.8C638.7 922.8 635.9 920.1 634.2 919.3C632.5 918.4 632.3 918.5 630.8 918.7C629.3 918.9 627.1 921.8 625.2 920.4C623.3 919 621.2 912.7 619.5 910.2C617.8 907.8 616.3 908 615 905.7C613.7 903.4 612.7 900.2 611.6 896.7C610.5 893.1 609.5 887.4 608.2 884.2C606.9 881 605.2 879.2 603.7 877.5C602.2 875.8 600.6 875.4 599.2 874.1C597.8 872.7 596.5 869.4 595.2 869.5C593.9 869.7 592.7 873.1 591.3 875.2C589.9 877.3 588.5 878.6 586.8 882C585.1 885.4 582.8 891.6 581.1 895.5C579.4 899.5 578.1 903.4 576.6 905.7C575.1 908 573.4 907.8 572.1 909.1C570.7 910.4 570 911.8 568.7 913.6C567.4 915.4 565.5 919 564.2 919.8C562.8 920.7 562.1 919.1 560.8 918.7C559.5 918.3 558.1 917.3 556.2 917.6C554.4 917.9 551.4 919.7 549.5 920.4C547.6 921.1 546.5 920.8 544.9 921.5C543.4 922.3 541.7 923.8 540.4 924.9C539.1 926 538.1 927.9 537 928.3C536 928.7 534.7 927.4 534.2 927.2" stroke="#6cc070" stroke-width="1.4" fill="none" stroke-opacity="0.9"/>
<path d="M534.2 918.1C534.7 918.5 536 920.8 537 920.4C538.1 920 539.1 917.1 540.4 915.9C541.7 914.7 543.4 913.6 544.9 913.1C546.5 912.5 547.6 913.1 549.5 912.5C551.4 911.9 554.4 910 556.2 909.7C558.1 909.3 559.5 909.9 560.8 910.2C562.1 910.5 562.8 912.3 564.2 911.4C565.5 910.4 567.4 906.5 568.7 904.6C570 902.7 570.7 901.5 572.1 900.1C573.4 898.6 575.1 898.7 576.6 896.1C578.1 893.5 579.4 888.5 581.1 884.2C582.8 880 585.1 874.3 586.8 870.7C588.5 867.1 589.9 865 591.3 862.8C592.7 860.5 593.9 857.1 595.2 857.1C596.5 857.1 597.8 861.3 599.2 862.8C600.6 864.3 602.2 864.4 603.7 866.2C605.2 867.9 606.9 870.3 608.2 873.5C609.5 876.7 610.5 881.7 611.6 885.4C612.7 889 613.7 893.1 615 895.5C616.3 898 617.8 897.4 619.5 900.1C621.2 902.7 623.3 909.7 625.2 911.4C627.1 913.1 629.3 910.3 630.8 910.2C632.3 910.1 632.5 909.8 634.2 910.8C635.9 911.7 638.7 914.7 641 915.9C643.3 917 645.7 917.1 647.8 917.6C649.8 918 651.9 918.9 653.4 918.7C654.9 918.5 655.5 916.6 656.8 916.4C658.1 916.3 659.5 917.4 661.3 917.6C663.2 917.8 666.2 918.1 668.1 917.6C670 917 671.3 914.5 672.6 914.2C674 913.9 674.7 916.1 676 915.9C677.3 915.7 679.1 912.8 680.5 913.1C682 913.3 683.8 916.8 684.5 917.6" stroke="#22a63a" stroke-width="2" fill="none"/>
</g>
<path d="M608.6 853.3V1019" stroke="#222" stroke-width="1.5" stroke-dasharray="9 3.5"/>
<path d="M533.5 844.3L533.5 929.8" stroke="#000" stroke-width="2"/>
<path d="M532.5 928.8L684.4 928.8" stroke="#000" stroke-width="2"/>
<path d="M529.5 848.5L533.5 848.5" stroke="#000" stroke-width="1.6"/>
<text x="527.4" y="855.9" text-anchor="end">10</text>
<path d="M529.5 909.7L533.5 909.7" stroke="#000" stroke-width="1.6"/>
<text x="527.4" y="917.1" text-anchor="end">5</text>
<path d="M608.6 928.8L608.6 932.8" stroke="#000" stroke-width="1.6"/>
<path d="M684.4 928.8L684.4 932.8" stroke="#000" stroke-width="1.6"/>
<path d="M541 934.5h2m9 0h1m2 0h1m8 0h1m3 0h1m3 0h1m1 0h1m13 0h1m3 0h1m2 0h1m3 0h2m3 0h1m3 0h1m2 0h1m9 0h3m5 0h1m1 0h1m4 0h2m4 0h1m14 0h1M543 935.5h1m4 0h1m2 0h1m7 0h1m9 0h1m4 0h1m8 0h2m7 0h1m6 0h1m1 0h1m7 0h1m11 0h2m6 0h1m10 0h1m11 0h1m4 0h1m1 0h1M536 936.5h1m4 0h1m9 0h2m1 0h4m1 0h1m8 0h1m9 0h1m6 0h1m1 0h1m1 0h1m3 0h1m1 0h1m1 0h2m1 0h1m1 0h1m1 0h2m1 0h1m1 0h1m1 0h3m7 0h1m7 0h1m1 0h2m2 0h1m2 0h1m2 0h1m4 0h1m2 0h1m6 0h3m1 0h1m3 0h5m3 0h1m2 0h1m6 0h1M540 937.5h3m3 0h2m15 0h2m7 0h1m2 0h1m2 0h3m2 0h2m3 0h1m1 0h1m7 0h2m1 0h1m2 0h1m1 0h1m22 0h1m1 0h1m2 0h1m1 0h2m6 0h1m11 0h1m5 0h1m8 0h1m3 0h1m1 0h2M552 938.5h2m9 0h1m7 0h1m12 0h2m1 0h1m4 0h2m4 0h1m5 0h1m3 0h1m3 0h2m8 0h2m9 0h1m29 0h2m10 0h1M548 939.5h1m11 0h1m2 0h1m3 0h2m7 0h2m1 0h2m3 0h2m2 0h2m5 0h1m1 0h1m4 0h1m1 0h2m6 0h1m3 0h2m2 0h1m4 0h1m1 0h1m23 0h1m2 0h1m2 0h1m3 0h1m7 0h1m4 0h2m4 0h1m1 0h1M540 940.5h1m11 0h1m8 0h1m7 0h1m6 0h1m1 0h1m2 0h1m4 0h1m2 0h1m3 0h1m4 0h1m2 0h1m3 0h2m3 0h1m7 0h1m3 0h2m1 0h2m5 0h1m1 0h1m21 0h1m3 0h3M537 941.5h3m15 0h1m2 0h1m6 0h2m6 0h1m3 0h3m9 0h1m1 0h6m2 0h1m4 0h1m1 0h1m2 0h2m2 0h1m2 0h1m10 0h1m3 0h1m6 0h1m1 0h1m3 0h1m3 0h1m3 0h2m1 0h1m3 0h1m1 0h1M541 942.5h1m13 0h1m2 0h1m2 0h1m7 0h1m1 0h1m16 0h1m1 0h1m1 0h1m4 0h2m2 0h1m1 0h1m7 0h1m5 0h1m6 0h1m12 0h1m15 0h1m9 0h2m3 0h1m4 0h1m7 0h1M535 943.5h3m9 0h1m1 0h1m4 0h2m9 0h3m1 0h1m3 0h1m7 0h1m5 0h4m3 0h2m2 0h2m2 0h1m3 0h1m1 0h2m4 0h1m2 0h1m4 0h1m1 0h1m2 0h3m3 0h1m1 0h1m6 0h2m1 0h1m1 0h1m5 0h1m2 0h1m18 0h1m1 0h1m3 0h1M540 944.5h1m1 0h1m1 0h1m3 0h1m16 0h2m4 0h1m9 0h1m7 0h1m4 0h2m1 0h1m1 0h1m1 0h1m1 0h1m1 0h1m1 0h3m1 0h1m5 0h1m5 0h1m2 0h1m5 0h1m8 0h2m2 0h1m5 0h1m2 0h1m2 0h2m1 0h1m3 0h1m4 0h1m2 0h1M541 945.5h2m12 0h1m8 0h1m3 0h3m1 0h1m7 0h3m1 0h2m4 0h1m13 0h1m37 0h2M541 946.5h1m3 0h1m5 0h4m7 0h1m4 0h1m2 0h1m17 0h1m3 0h1m4 0h1m1 0h1m1 0h3m4 0h1m3 0h1m7 0h2m8 0h1m4 0h1m10 0h1m8 0h1m7 0h1m2 0h1m5 0h4M536 947.5h1m1 0h2m17 0h1m6 0h1m17 0h1m1 0h1m5 0h2m6 0h1m2 0h1m19 0h1m7 0h2m2 0h3m3 0h1m5 0h3m2 0h1m19 0h1m9 0h1M537 948.5h1m6 0h1m4 0h1m15 0h4m21 0h1m3 0h1m2 0h1m7 0h1m10 0h3m1 0h2m1 0h1m4 0h2m6 0h1m3 0h2m3 0h1m2 0h1m7 0h1m14 0h1m1 0h4M542 949.5h2m4 0h1m6 0h2m2 0h1m5 0h1m6 0h2m11 0h1m3 0h2m2 0h1m3 0h1m7 0h1m31 0h1m2 0h2m4 0h1m2 0h1m2 0h1m2 0h1m10 0h1m1 0h1m6 0h2m4 0h1M538 950.5h1m15 0h2m6 0h4m3 0h2m4 0h1m2 0h1m1 0h1m2 0h2m5 0h1m3 0h1m8 0h1m5 0h1m4 0h1m24 0h1m4 0h2m5 0h1m3 0h1m4 0h2m1 0h1m7 0h1m9 0h1M553 951.5h1m4 0h2m5 0h1m2 0h1m7 0h1m8 0h1m4 0h1m4 0h1m1 0h1m1 0h1m5 0h1m5 0h1m9 0h1m4 0h2m8 0h1m1 0h1m4 0h3m13 0h3m6 0h1m2 0h1m4 0h2m4 0h1M535 952.5h1m10 0h1m6 0h1m8 0h1m1 0h1m3 0h1m1 0h1m2 0h1m1 0h1m6 0h2m3 0h1m6 0h1m3 0h1m13 0h1m1 0h1m9 0h1m6 0h1m1 0h1m7 0h2m4 0h1m1 0h1m1 0h1m11 0h1m1 0h1m4 0h2m4 0h1m1 0h1M553 953.5h1m6 0h2m2 0h2m5 0h1m5 0h1m11 0h1m5 0h1m9 0h2m8 0h1m1 0h2m1 0h1m6 0h1m6 0h2m9 0h1m1 0h1m9 0h1m5 0h2m3 0h1m2 0h2m2 0h1m6 0h1M536 954.5h1m1 0h4m2 0h1m2 0h2m1 0h1m11 0h2m3 0h1m11 0h1m6 0h1m4 0h2m7 0h4m4 0h2m3 0h1m1 0h2m15 0h2m1 0h2m5 0h2m4 0h1m5 0h1m4 0h1m2 0h1m3 0h1m4 0h3m2 0h1M566 955.5h3m5 0h1m4 0h2m35 0h1m7 0h1m24 0h1m3 0h3m10 0h1m5 0h1M535 956.5h1m3 0h3m7 0h1m11 0h1m11 0h2m1 0h1m2 0h1m12 0h1m4 0h1m2 0h1m1 0h1m4 0h1m1 0h1m1 0h1m5 0h1m3 0h1m9 0h1m4 0h1m2 0h1m1 0h1m10 0h2m3 0h1m1 0h4m6 0h1m2 0h1m10 0h1M548 957.5h1m10 0h1m11 0h2m5 0h3m1 0h1m4 0h1m6 0h2m2 0h2m2 0h1m1 0h1m1 0h2m7 0h1m2 0h1m8 0h3m1 0h1m2 0h1m1 0h2m4 0h2m5 0h1m2 0h1m3 0h2m3 0h1m14 0h1M550 958.5h1m1 0h1m4 0h1m1 0h2m2 0h3m13 0h1m4 0h2m2 0h1m3 0h2m2 0h1m5 0h1m3 0h1m5 0h1m8 0h1m4 0h1m4 0h1m8 0h1m7 0h1m7 0h1m18 0h1m2 0h1M541 959.5h2m17 0h1m2 0h1m2 0h1m5 0h2m5 0h1m5 0h1m3 0h1m2 0h1m7 0h2m9 0h4m17 0h1m2 0h1m9 0h2m2 0h1m5 0h2m10 0h1M537 960.5h2m8 0h2m4 0h1m4 0h1m4 0h1m2 0h1m10 0h1m5 0h1m9 0h1m5 0h2m1 0h1m2 0h2m6 0h1m6 0h1m2 0h1m17 0h1m5 0h1m10 0h1m7 0h2m2 0h1m7 0h1M552 961.5h1m3 0h1m3 0h3m9 0h1m1 0h1m1 0h1m3 0h1m4 0h1m1 0h2m2 0h1m2 0h1m7 0h1m4 0h1m4 0h1m20 0h1m14 0h1m14 0h1m2 0h1m6 0h1m1 0h1m6 0h1M546 962.5h1m1 0h1m10 0h2m2 0h1m2 0h1m2 0h1m11 0h1m2 0h1m2 0h2m2 0h1m2 0h2m1 0h2m4 0h1m3 0h1m5 0h1m1 0h1m3 0h1m2 0h1m38 0h1m4 0h1m6 0h1m1 0h1m4 0h2m1 0h1M538 963.5h1m4 0h1m5 0h1m13 0h1m9 0h1m7 0h1m5 0h1m3 0h2m4 0h2m3 0h1m1 0h1m10 0h1m2 0h1m5 0h3m4 0h1m7 0h1m2 0h1m4 0h3m1 0h1m4 0h1m5 0h2m4 0h3m3 0h1m4 0h1m1 0h2M539 964.5h1m10 0h1m7 0h1m3 0h1m3 0h1m1 0h1m2 0h1m5 0h2m6 0h1m6 0h1m1 0h2m2 0h1m1 0h1m1 0h1m2 0h1m2 0h1m1 0h1m1 0h3m6 0h1m9 0h1m3 0h2m2 0h2m5 0h1m10 0h2m5 0h1m1 0h1m2 0h2M547 965.5h1m3 0h1m1 0h1m7 0h1m3 0h1m1 0h1m11 0h1m6 0h1m1 0h2m5 0h1m1 0h1m3 0h1m13 0h2m5 0h1m1 0h1m2 0h1m12 0h6m1 0h2m2 0h1m20 0h1M535 966.5h3m4 0h1m10 0h1m1 0h2m11 0h1m1 0h1m4 0h2m3 0h2m4 0h4m3 0h4m2 0h1m3 0h1m3 0h2m1 0h2m2 0h1m44 0h1m1 0h3m10 0h1M535 967.5h2m2 0h1m14 0h1m1 0h1m2 0h4m3 0h3m3 0h1m4 0h1m3 0h1m3 0h1m15 0h2m4 0h3m2 0h2m56 0h1M544 968.5h2m1 0h1m23 0h1m6 0h1m3 0h1m2 0h1m5 0h2m1 0h1m4 0h1m2 0h1m2 0h2m3 0h1m4 0h1m2 0h1m1 0h1m3 0h1m11 0h1m1 0h3m7 0h1m1 0h1m5 0h1m14 0h1m7 0h1M538 969.5h1m2 0h3m1 0h1m10 0h1m3 0h1m2 0h1m3 0h1m1 0h1m2 0h1m19 0h1m2 0h1m3 0h1m1 0h1m2 0h1m2 0h2m1 0h1m1 0h3m6 0h1m4 0h1m2 0h4m6 0h1m1 0h2m12 0h1m2 0h1m13 0h1m9 0h1M556 970.5h1m3 0h2m15 0h2m10 0h3m2 0h1m2 0h1m1 0h1m10 0h1m14 0h4m2 0h1m2 0h1m1 0h1m5 0h1m1 0h1m5 0h1m3 0h1m10 0h1m5 0h2m1 0h1M535 971.5h1m7 0h1m1 0h2m4 0h2m1 0h3m1 0h1m1 0h1m4 0h1m2 0h1m1 0h1m1 0h1m1 0h1m4 0h1m6 0h1m1 0h3m1 0h1m3 0h1m4 0h1m2 0h1m1 0h1m4 0h2m1 0h2m2 0h1m4 0h1m4 0h2m2 0h1m11 0h2m1 0h1m1 0h1m2 0h1m8 0h1m1 0h1m1 0h2m3 0h1m12 0h1M544 972.5h2m1 0h1m6 0h1m1 0h1m11 0h2m2 0h1m9 0h1m2 0h2m1 0h1m1 0h1m9 0h1m1 0h1m2 0h1m4 0h1m1 0h1m1 0h1m2 0h1m4 0h1m2 0h1m4 0h1m1 0h1m7 0h1m2 0h4m2 0h1m1 0h1m6 0h3m12 0h1m1 0h1m6 0h2M538 973.5h3m3 0h3m3 0h1m4 0h2m2 0h1m9 0h1m1 0h1m7 0h3m1 0h1m4 0h2m1 0h1m4 0h1m2 0h1m2 0h1m1 0h1m4 0h1m2 0h3m5 0h2m3 0h4m3 0h1m1 0h1m24 0h3m8 0h1m4 0h2m3 0h1m1 0h1M537 974.5h3m4 0h1m1 0h1m2 0h1m10 0h1m5 0h1m1 0h1m20 0h1m3 0h1m1 0h1m2 0h1m7 0h1m2 0h1m7 0h2m4 0h1m1 0h1m10 0h1m2 0h3m6 0h2m9 0h1m1 0h3m4 0h1m6 0h2m4 0h1M537 975.5h2m3 0h1m3 0h1m3 0h2m12 0h2m5 0h2m1 0h1m2 0h1m3 0h1m5 0h1m4 0h2m1 0h1m1 0h2m3 0h1m4 0h2m12 0h2m2 0h2m1 0h1m8 0h1m1 0h1m3 0h1m18 0h4m14 0h1M536 976.5h1m1 0h1m12 0h1m1 0h1m4 0h1m1 0h3m2 0h2m2 0h1m11 0h2m1 0h1m5 0h1m5 0h1m2 0h1m3 0h1m19 0h3m1 0h3m5 0h1m7 0h1m5 0h2m11 0h1m3 0h1m12 0h1m1 0h1M536 977.5h1m2 0h1m16 0h1m4 0h1m9 0h1m2 0h1m4 0h2m4 0h1m1 0h2m5 0h1m1 0h1m1 0h1m1 0h2m1 0h1m4 0h2m3 0h4m11 0h1m5 0h1m2 0h1m8 0h1m8 0h2m4 0h1m2 0h1m8 0h1m1 0h2m2 0h1m1 0h1M537 978.5h1m2 0h1m2 0h1m11 0h1m5 0h2m5 0h1m5 0h1m1 0h1m11 0h1m11 0h1m1 0h1m3 0h1m3 0h1m10 0h1m1 0h2m1 0h2m5 0h1m1 0h1m1 0h2m9 0h1m1 0h1m18 0h1m8 0h1m1 0h2M546 979.5h1m1 0h2m2 0h1m5 0h1m6 0h2m10 0h2m7 0h1m1 0h1m1 0h1m2 0h1m1 0h3m2 0h3m3 0h1m1 0h1m1 0h1m3 0h1m3 0h1m1 0h1m12 0h1m1 0h1m14 0h1m13 0h2m16 0h1M536 980.5h1m15 0h2m4 0h2m5 0h2m2 0h1m2 0h1m1 0h1m10 0h3m1 0h2m1 0h2m1 0h4m2 0h1m1 0h1m1 0h3m1 0h2m3 0h1m3 0h1m11 0h2m8 0h1m2 0h1m5 0h1m1 0h2m1 0h1m3 0h1m1 0h1m8 0h1m1 0h1m1 0h2M540 981.5h1m3 0h1m4 0h1m3 0h2m4 0h1m2 0h2m8 0h1m3 0h2m5 0h2m8 0h1m5 0h3m1 0h3m1 0h2m1 0h1m5 0h2m1 0h2m3 0h1m11 0h1m2 0h1m4 0h1m16 0h1m5 0h2m5 0h1m2 0h1m2 0h3M548 982.5h1m10 0h1m3 0h1m1 0h1m2 0h1m1 0h5m8 0h2m4 0h1m5 0h3m2 0h1m3 0h5m2 0h2m2 0h3m3 0h1m10 0h1m3 0h4m1 0h1m1 0h1m2 0h2m1 0h1m5 0h2m2 0h1m2 0h1m7 0h1m3 0h1m5 0h1M536 983.5h1m4 0h1m15 0h1m18 0h1m17 0h1m2 0h1m3 0h1m1 0h2m1 0h2m17 0h1m10 0h1m22 0h2m1 0h1m11 0h1m3 0h1M536 984.5h1m3 0h2m2 0h1m1 0h1m2 0h1m1 0h1m5 0h3m1 0h1m10 0h1m4 0h1m3 0h1m7 0h2m1 0h1m2 0h1m1 0h1m1 0h5m4 0h1m11 0h1m2 0h1m1 0h1m7 0h1m2 0h1m7 0h1m1 0h1m3 0h1m1 0h1m7 0h1m1 0h1m7 0h1m2 0h1m6 0h1M535 985.5h1m1 0h1m14 0h1m2 0h1m14 0h1m2 0h2m3 0h2m1 0h1m4 0h2m3 0h1m1 0h1m1 0h3m2 0h1m2 0h1m12 0h1m4 0h1m2 0h1m6 0h1m4 0h2m7 0h2m1 0h1m1 0h2m7 0h1m1 0h1m9 0h1m6 0h1m1 0h1m2 0h1M540 986.5h1m2 0h1m1 0h1m1 0h2m9 0h1m1 0h1m6 0h1m1 0h1m3 0h2m4 0h1m3 0h1m3 0h2m3 0h1m8 0h1m2 0h1m1 0h1m3 0h1m10 0h2m3 0h1m20 0h1m3 0h2m10 0h1m1 0h3m6 0h1m1 0h3M543 987.5h1m1 0h1m4 0h4m14 0h1m2 0h2m12 0h3m5 0h1m10 0h2m3 0h1m13 0h1m11 0h3m3 0h1m11 0h3m1 0h2m2 0h1m2 0h1m8 0h1m9 0h1M544 988.5h1m11 0h2m13 0h1m3 0h2m1 0h1m3 0h2m4 0h1m4 0h1m4 0h1m1 0h2m3 0h1m2 0h1m2 0h1m1 0h1m1 0h2m1 0h1m1 0h1m1 0h2m13 0h1m6 0h2m2 0h1m12 0h1m3 0h2m1 0h1m12 0h1M537 989.5h1m12 0h3m4 0h2m11 0h2m1 0h1m1 0h2m13 0h1m6 0h2m2 0h2m14 0h1m4 0h1m3 0h1m8 0h2m1 0h1m2 0h3m5 0h1m7 0h2m4 0h1m12 0h1M537 990.5h1m2 0h1m4 0h2m3 0h1m6 0h2m1 0h1m15 0h2m1 0h1m5 0h1m1 0h1m1 0h2m1 0h2m2 0h2m2 0h1m2 0h1m1 0h4m1 0h3m4 0h1m4 0h3m2 0h1m1 0h1m1 0h1m4 0h3m3 0h1m4 0h1m1 0h1m6 0h1m2 0h1m3 0h1m1 0h1m9 0h2m5 0h1M539 991.5h3m4 0h1m4 0h3m1 0h2m3 0h2m1 0h1m3 0h1m4 0h1m6 0h1m4 0h2m13 0h1m3 0h1m7 0h1m1 0h1m11 0h1m11 0h1m5 0h1m22 0h1m2 0h2m2 0h1m7 0h2M542 992.5h1m2 0h1m4 0h1m2 0h1m19 0h1m3 0h1m11 0h1m2 0h1m2 0h2m3 0h2m1 0h1m3 0h2m4 0h1m1 0h2m1 0h1m12 0h2m1 0h1m21 0h1m8 0h1m1 0h1m3 0h3m1 0h1m2 0h1m1 0h1M535 993.5h1m6 0h1m5 0h1m9 0h3m2 0h1m2 0h1m1 0h2m2 0h1m4 0h2m8 0h1m2 0h2m1 0h2m4 0h1m3 0h2m3 0h1m1 0h1m2 0h1m12 0h2m7 0h1m3 0h1m6 0h1m5 0h3m5 0h1m1 0h2m3 0h1m5 0h1m7 0h1M540 994.5h1m4 0h1m2 0h1m6 0h1m11 0h1m9 0h2m8 0h1m8 0h1m3 0h1m1 0h1m1 0h1m3 0h1m1 0h3m7 0h1m7 0h1m9 0h3m3 0h1m2 0h1m2 0h1m2 0h1m10 0h1m4 0h2M552 995.5h3m7 0h2m5 0h3m2 0h4m3 0h2m1 0h1m3 0h1m3 0h1m2 0h1m2 0h1m1 0h2m3 0h1m5 0h4m1 0h1m2 0h1m15 0h1m4 0h1m2 0h2m9 0h1m7 0h1m2 0h1m7 0h1M537 996.5h1m1 0h1m4 0h1m1 0h1m8 0h1m7 0h1m13 0h3m5 0h1m1 0h4m8 0h1m4 0h1m2 0h1m1 0h1m1 0h2m4 0h2m2 0h1m1 0h1m2 0h1m3 0h1m4 0h1m2 0h1m5 0h2m6 0h2m4 0h2m4 0h3m3 0h2m7 0h1m3 0h1M537 997.5h1m19 0h1m3 0h1m3 0h1m1 0h2m15 0h1m5 0h1m6 0h1m5 0h1m6 0h2m2 0h1m2 0h2m9 0h2m3 0h2m6 0h1m1 0h1m3 0h1m3 0h1m1 0h1m4 0h1m3 0h2m2 0h2m6 0h2M536 998.5h2m10 0h1m23 0h1m5 0h1m3 0h1m1 0h3m8 0h1m1 0h1m5 0h1m18 0h2m6 0h1m8 0h2m2 0h1m11 0h3m3 0h1m5 0h1m12 0h1m1 0h1M538 999.5h1m4 0h1m3 0h1m4 0h1m1 0h2m2 0h2m1 0h3m5 0h1m8 0h1m2 0h1m1 0h2m2 0h3m3 0h2m4 0h1m3 0h1m6 0h1m4 0h1m3 0h1m23 0h1m17 0h1m1 0h1m9 0h1m2 0h3m1 0h1M536 1000.5h1m1 0h2m3 0h1m11 0h1m2 0h2m1 0h1m8 0h1m4 0h1m2 0h3m2 0h1m4 0h1m2 0h1m1 0h2m3 0h1m2 0h2m1 0h2m1 0h1m3 0h1m4 0h3m2 0h1m4 0h1m1 0h2m4 0h2m2 0h1m1 0h1m3 0h1m10 0h1m5 0h2m5 0h1m2 0h1M542 1001.5h3m6 0h1m1 0h1m6 0h1m18 0h1m1 0h1m4 0h1m3 0h3m1 0h1m3 0h1m1 0h4m13 0h1m1 0h1m17 0h1m4 0h1m3 0h2m6 0h1m1 0h2m2 0h7m8 0h1M537 1002.5h1m2 0h1m3 0h1m1 0h2m4 0h3m8 0h1m13 0h1m1 0h1m10 0h1m2 0h1m1 0h1m1 0h1m1 0h1m1 0h1m4 0h1m1 0h2m38 0h1m3 0h1m5 0h1m2 0h1m12 0h1m5 0h1M536 1003.5h1m1 0h1m2 0h1m3 0h1m2 0h2m2 0h1m7 0h1m4 0h1m1 0h1m1 0h1m1 0h3m6 0h4m9 0h1m2 0h1m1 0h1m1 0h1m1 0h1m4 0h1m1 0h1m4 0h1m19 0h2m8 0h1m15 0h1m2 0h1m12 0h1m5 0h2M540 1004.5h1m1 0h2m1 0h1m6 0h1m4 0h1m9 0h1m7 0h1m1 0h1m6 0h2m3 0h1m4 0h1m2 0h5m1 0h1m5 0h3m14 0h1m3 0h1m10 0h2m2 0h2m29 0h3M536 1005.5h1m2 0h3m14 0h1m1 0h3m11 0h1m2 0h1m6 0h2m5 0h1m6 0h1m3 0h1m3 0h2m1 0h1m3 0h2m5 0h1m2 0h1m29 0h2m8 0h1m1 0h1m13 0h1m3 0h1M562 1006.5h1m4 0h2m11 0h3m5 0h3m2 0h1m9 0h2m22 0h1m14 0h2m8 0h1m14 0h1m7 0h1m7 0h1M536 1007.5h1m21 0h1m1 0h1m1 0h1m13 0h2m6 0h1m2 0h1m2 0h2m4 0h2m2 0h2m8 0h1m6 0h2m1 0h1m3 0h1m1 0h2m10 0h1m10 0h3m4 0h1m4 0h1m4 0h1m2 0h1m1 0h2m1 0h1m2 0h2m4 0h1M547 1008.5h1m6 0h1m2 0h1m1 0h2m5 0h1m3 0h1m8 0h1m2 0h1m2 0h1m1 0h1m3 0h1m1 0h1m3 0h1m1 0h1m1 0h1m5 0h1m3 0h2m11 0h1m7 0h1m1 0h1m2 0h2m17 0h1m6 0h1m1 0h1m13 0h2M539 1009.5h2m2 0h1m12 0h1m3 0h1m19 0h1m6 0h1m1 0h1m2 0h2m4 0h2m3 0h1m7 0h1m2 0h2m7 0h2m12 0h2m18 0h1m5 0h2m1 0h2m1 0h1M536 1010.5h1m12 0h1m4 0h1m3 0h1m7 0h2m5 0h1m4 0h1m7 0h2m5 0h1m6 0h3m5 0h1m6 0h1m3 0h1m3 0h1m2 0h1m11 0h1m4 0h2m6 0h1m11 0h1m5 0h2m1 0h2M538 1011.5h1m2 0h2m3 0h1m1 0h1m2 0h4m7 0h1m3 0h2m1 0h1m1 0h1m2 0h1m2 0h2m1 0h2m8 0h1m3 0h2m2 0h1m4 0h1m6 0h1m3 0h3m15 0h1m7 0h1m1 0h1m2 0h1m3 0h1m5 0h1m3 0h1m9 0h2m2 0h1M538 1012.5h2m16 0h1m4 0h1m6 0h1m4 0h1m11 0h3m3 0h1m1 0h1m3 0h1m2 0h1m1 0h1m1 0h1m3 0h1m2 0h1m3 0h1m5 0h2m2 0h1m3 0h1m3 0h1m11 0h3m4 0h1m2 0h1m3 0h1m12 0h1m1 0h1m1 0h1m2 0h3M538 1013.5h1m1 0h1m18 0h1m1 0h1m2 0h1m2 0h1m7 0h1m2 0h2m5 0h5m2 0h1m3 0h1m2 0h1m1 0h2m1 0h2m1 0h1m5 0h1m1 0h1m2 0h1m4 0h1m6 0h3m2 0h1m16 0h1m8 0h1m1 0h1m18 0h2M546 1014.5h1m2 0h1m3 0h2m3 0h3m5 0h1m1 0h1m4 0h1m14 0h1m13 0h1m4 0h1m2 0h1m4 0h1m5 0h1m8 0h1m22 0h1m2 0h1m6 0h1m2 0h2m1 0h1m11 0h1M542 1015.5h3m13 0h1m12 0h1m11 0h1m1 0h1m9 0h2m1 0h1m1 0h1m8 0h4m1 0h1m5 0h2m3 0h2m2 0h1m2 0h1m1 0h1m18 0h1m4 0h1m5 0h1m2 0h1m2 0h1m1 0h1m5 0h1M538 1016.5h1m3 0h2m8 0h2m15 0h1m16 0h3m12 0h1m4 0h2m4 0h1m25 0h1m12 0h3m5 0h1m9 0h3m2 0h1M543 1017.5h1m3 0h2m1 0h1m3 0h1m18 0h1m1 0h1m9 0h1m5 0h1m2 0h2m5 0h1m10 0h1m20 0h1m8 0h2m9 0h1m10 0h1m6 0h2m1 0h1m8 0h1" stroke="#353535" stroke-width="1" fill="none"/>
<path d="M533.5 933L533.5 1020" stroke="#000" stroke-width="2"/>
<path d="M532.5 1019L684.4 1019" stroke="#000" stroke-width="2"/>
<path d="M529.5 935.8L533.5 935.8" stroke="#000" stroke-width="1.6"/>
<text x="527.4" y="943.2" text-anchor="end">1</text>
<path d="M529.5 973.4L533.5 973.4" stroke="#000" stroke-width="1.6"/>
<text x="527.4" y="980.8" text-anchor="end">50</text>
<path d="M529.5 1012.5L533.5 1012.5" stroke="#000" stroke-width="1.6"/>
<text x="527.4" y="1019.9" text-anchor="end">100</text>
<path d="M608.6 1019L608.6 1023" stroke="#000" stroke-width="1.6"/>
<path d="M684.4 1019L684.4 1023" stroke="#000" stroke-width="1.6"/>
<rect x="759.9" y="836" width="37.8" height="92" fill="#dcdcdc"/>
<clipPath id="cl8"><rect x="721" y="830" width="155" height="97"/></clipPath><g clip-path="url(#cl8)">
<path d="M721 902C721.9 901.3 724.5 899.6 726.4 897.8C728.3 896 730.2 892.9 732.4 891.2C734.6 889.5 737.1 888.9 739.6 887.6C742.1 886.3 744.8 883.1 747.4 883.4C750 883.7 753.1 888.6 755.2 889.4C757.3 890.3 758 888.9 760 888.6C762 888.3 764.6 890.8 767.2 887.6C769.8 884.5 773.2 874.1 775.6 869.6C778 865.1 779.7 864.1 781.6 860.6C783.5 857.1 784.6 851 787 848.6C789.4 846.2 794 847 796 846.2C798 845.4 797.8 843.9 799 843.8C800.2 843.7 801.7 842.9 803.2 845.6C804.7 848.3 806.2 854.8 808 860C809.9 865.2 812.3 870.8 814.1 876.8C815.9 882.8 817.3 891.1 818.9 896C820.5 900.9 821.1 903.3 823.7 906.2C826.3 909.1 831.3 914.6 834.5 913.4C837.7 912.2 840.7 901.9 842.9 899C845.1 896.1 845.8 898 847.7 896C849.6 894 851.9 887.1 854.3 887C856.7 886.9 860 893.7 862.1 895.4C864.2 897.1 864.8 896.3 866.9 897.2C869 898.1 873.4 900.2 874.7 900.8L874.7 917C873.4 916.7 869 915.7 866.9 915.2C864.8 914.7 864.2 915 862.1 914C860 913 856.7 908.8 854.3 909.2C851.9 909.6 849.6 914.9 847.7 916.4C845.8 917.9 845.1 916.5 842.9 918.2C840.7 919.9 837.7 925.9 834.5 926.7C831.3 927.4 826.3 924.5 823.7 922.4C821.1 920.3 820.5 917.6 818.9 914C817.3 910.4 815.9 905.2 814.1 900.8C812.3 896.4 809.9 891.8 808 887.6C806.2 883.4 804.7 878 803.2 875.6C801.7 873.2 800.2 873.2 799 873.2C797.8 873.2 798 874.7 796 875.6C794 876.5 789.4 876.8 787 878.6C784.6 880.4 783.5 884.1 781.6 886.4C779.7 888.7 778 888.6 775.6 892.4C773.2 896.2 769.8 906.6 767.2 909.2C764.6 911.8 762 908 760 908C758 908 757.3 910 755.2 909.2C753.1 908.4 750 903.4 747.4 903.2C744.8 903 742.1 906.8 739.6 908C737.1 909.2 734.6 909.1 732.4 910.4C730.2 911.7 728.3 914 726.4 915.8C724.5 917.6 721.9 920.3 721 921.2Z" fill="#776fb5" fill-opacity="0.55"/>
<path d="M721 902C721.9 901.3 724.5 899.6 726.4 897.8C728.3 896 730.2 892.9 732.4 891.2C734.6 889.5 737.1 888.9 739.6 887.6C742.1 886.3 744.8 883.1 747.4 883.4C750 883.7 753.1 888.6 755.2 889.4C757.3 890.3 758 888.9 760 888.6C762 888.3 764.6 890.8 767.2 887.6C769.8 884.5 773.2 874.1 775.6 869.6C778 865.1 779.7 864.1 781.6 860.6C783.5 857.1 784.6 851 787 848.6C789.4 846.2 794 847 796 846.2C798 845.4 797.8 843.9 799 843.8C800.2 843.7 801.7 842.9 803.2 845.6C804.7 848.3 806.2 854.8 808 860C809.9 865.2 812.3 870.8 814.1 876.8C815.9 882.8 817.3 891.1 818.9 896C820.5 900.9 821.1 903.3 823.7 906.2C826.3 909.1 831.3 914.6 834.5 913.4C837.7 912.2 840.7 901.9 842.9 899C845.1 896.1 845.8 898 847.7 896C849.6 894 851.9 887.1 854.3 887C856.7 886.9 860 893.7 862.1 895.4C864.2 897.1 864.8 896.3 866.9 897.2C869 898.1 873.4 900.2 874.7 900.8M874.7 917C873.4 916.7 869 915.7 866.9 915.2C864.8 914.7 864.2 915 862.1 914C860 913 856.7 908.8 854.3 909.2C851.9 909.6 849.6 914.9 847.7 916.4C845.8 917.9 845.1 916.5 842.9 918.2C840.7 919.9 837.7 925.9 834.5 926.7C831.3 927.4 826.3 924.5 823.7 922.4C821.1 920.3 820.5 917.6 818.9 914C817.3 910.4 815.9 905.2 814.1 900.8C812.3 896.4 809.9 891.8 808 887.6C806.2 883.4 804.7 878 803.2 875.6C801.7 873.2 800.2 873.2 799 873.2C797.8 873.2 798 874.7 796 875.6C794 876.5 789.4 876.8 787 878.6C784.6 880.4 783.5 884.1 781.6 886.4C779.7 888.7 778 888.6 775.6 892.4C773.2 896.2 769.8 906.6 767.2 909.2C764.6 911.8 762 908 760 908C758 908 757.3 910 755.2 909.2C753.1 908.4 750 903.4 747.4 903.2C744.8 903 742.1 906.8 739.6 908C737.1 909.2 734.6 909.1 732.4 910.4C730.2 911.7 728.3 914 726.4 915.8C724.5 917.6 721.9 920.3 721 921.2" stroke="#9490c8" stroke-width="1.4" fill="none" stroke-opacity="0.9"/>
<path d="M721 911.6C721.9 910.8 724.5 908.6 726.4 906.8C728.3 905 730.2 902.3 732.4 900.8C734.6 899.3 737.1 899 739.6 897.8C742.1 896.6 744.8 893.4 747.4 893.6C750 893.9 753.1 898.6 755.2 899.4C757.3 900.2 758 898.4 760 898.2C762 898 764.6 901.4 767.2 898.4C769.8 895.5 773.2 884.7 775.6 880.4C778 876.1 779.7 875.3 781.6 872.6C783.5 869.9 784.6 866.1 787 864.2C789.4 862.4 794 862.4 796 861.5C798 860.6 797.8 859 799 858.8C800.2 858.7 801.7 858.4 803.2 860.6C804.7 862.8 806.2 867.5 808 872C809.9 876.5 812.3 882.2 814.1 887.6C815.9 893 817.3 900 818.9 904.4C820.5 908.8 821.1 911.3 823.7 914C826.3 916.7 831.3 921.5 834.5 920.6C837.7 919.7 840.7 910.9 842.9 908.6C845.1 906.3 845.8 908.5 847.7 906.8C849.6 905.2 851.9 899.1 854.3 898.7C856.7 898.3 860 903.3 862.1 904.4C864.2 905.6 864.8 904.8 866.9 905.6C869 906.4 873.4 908.6 874.7 909.2" stroke="#5e58aa" stroke-width="2" fill="none"/>
</g>
<path d="M797.2 844V1018" stroke="#222" stroke-width="1.5" stroke-dasharray="9 3.5"/>
<path d="M720.2 843.1L720.2 929" stroke="#000" stroke-width="2"/>
<path d="M719.2 928L875 928" stroke="#000" stroke-width="2"/>
<path d="M716.2 849.7L720.2 849.7" stroke="#000" stroke-width="1.6"/>
<text x="711.8" y="857.1" text-anchor="end">15</text>
<path d="M716.2 886.3L720.2 886.3" stroke="#000" stroke-width="1.6"/>
<text x="711.8" y="893.7" text-anchor="end">10</text>
<path d="M716.2 923L720.2 923" stroke="#000" stroke-width="1.6"/>
<text x="711.8" y="930.4" text-anchor="end">5</text>
<path d="M797.2 928L797.2 932" stroke="#000" stroke-width="1.6"/>
<path d="M875 928L875 932" stroke="#000" stroke-width="1.6"/>
<path d="M723 934.5h1m12 0h2m2 0h1m3 0h3m1 0h1m7 0h1m2 0h1m2 0h2m4 0h1m7 0h4m2 0h1m7 0h1m4 0h4m1 0h2m2 0h1m2 0h1m1 0h2m6 0h1m9 0h2m4 0h1m8 0h1m3 0h2m1 0h2m8 0h1m2 0h6m2 0h1M724 935.5h1m4 0h1m1 0h2m8 0h1m2 0h1m1 0h2m5 0h1m1 0h2m2 0h2m3 0h1m3 0h1m8 0h1m4 0h1m6 0h1m2 0h1m7 0h1m7 0h1m1 0h1m3 0h1m18 0h1m3 0h1m16 0h1M725 936.5h1m1 0h1m4 0h1m6 0h1m19 0h3m1 0h1m3 0h1m9 0h3m3 0h2m3 0h1m2 0h3m10 0h3m4 0h2m2 0h1m3 0h1m2 0h1m1 0h3m6 0h2m7 0h1m12 0h5m4 0h1M734 937.5h1m3 0h1m3 0h3m4 0h2m7 0h1m1 0h1m4 0h1m3 0h2m7 0h2m23 0h3m3 0h2m5 0h2m5 0h3m7 0h1m8 0h1m6 0h3m2 0h1m4 0h1m13 0h1M731 938.5h1m1 0h1m3 0h2m1 0h5m4 0h1m5 0h2m3 0h1m4 0h2m4 0h1m1 0h5m2 0h2m19 0h1m2 0h2m2 0h3m2 0h1m10 0h1m2 0h2m6 0h1m12 0h1m1 0h1M724 939.5h1m1 0h3m10 0h2m2 0h4m8 0h1m3 0h1m10 0h1m5 0h3m1 0h2m4 0h1m3 0h2m15 0h2m4 0h1m2 0h1m2 0h5m12 0h1m18 0h1m6 0h1m4 0h2M722 940.5h1m2 0h2m7 0h3m5 0h3m1 0h1m1 0h4m19 0h2m1 0h1m6 0h1m10 0h1m15 0h2m2 0h1m7 0h6m25 0h2m9 0h1M730 941.5h1m3 0h2m9 0h1m1 0h2m3 0h1m4 0h1m1 0h1m3 0h5m1 0h1m7 0h1m1 0h1m11 0h1m8 0h2m2 0h1m3 0h1m8 0h3m2 0h5m4 0h6m6 0h2m26 0h1M722 942.5h1m1 0h1m5 0h1m2 0h1m6 0h2m1 0h3m2 0h5m3 0h1m2 0h7m2 0h1m4 0h3m13 0h2m2 0h1m1 0h1m1 0h1m4 0h1m2 0h1m7 0h1m18 0h1m1 0h1m5 0h1m4 0h2m2 0h1m1 0h2m15 0h2m3 0h1M725 943.5h1m2 0h3m2 0h1m3 0h1m1 0h1m2 0h1m9 0h1m3 0h1m8 0h2m1 0h2m10 0h3m1 0h4m1 0h3m10 0h2m1 0h2m1 0h1m5 0h2m16 0h1m2 0h2m6 0h3m2 0h2m1 0h2m6 0h1m5 0h2m3 0h1M723 944.5h1m2 0h3m4 0h2m4 0h3m3 0h1m15 0h2m6 0h1m1 0h1m1 0h2m9 0h1m3 0h2m5 0h1m8 0h1m7 0h2m4 0h5m4 0h1m14 0h2m1 0h2m14 0h3m4 0h1M738 945.5h1m4 0h3m1 0h1m1 0h1m8 0h3m1 0h3m4 0h1m7 0h1m2 0h2m4 0h1m13 0h4m1 0h2m4 0h1m1 0h1m11 0h1m5 0h2m7 0h2m13 0h1m7 0h1m2 0h1M724 946.5h2m8 0h1m2 0h1m3 0h1m5 0h2m2 0h5m5 0h3m2 0h2m2 0h1m5 0h1m9 0h5m1 0h1m2 0h3m2 0h3m3 0h2m3 0h3m2 0h1m8 0h2m11 0h1m12 0h1m6 0h1m5 0h2m6 0h2M725 947.5h2m5 0h1m1 0h3m1 0h2m3 0h1m1 0h1m2 0h5m4 0h1m1 0h2m1 0h1m2 0h1m4 0h1m2 0h3m2 0h2m2 0h4m1 0h1m3 0h1m1 0h1m1 0h1m1 0h3m1 0h3m1 0h1m2 0h6m2 0h7m10 0h1m9 0h1m4 0h1m5 0h4m6 0h3M722 948.5h2m13 0h1m2 0h1m4 0h1m6 0h1m2 0h1m1 0h1m4 0h2m3 0h2m6 0h1m2 0h2m1 0h2m12 0h1m5 0h6m6 0h1m2 0h1m5 0h1m2 0h1m5 0h1m8 0h2m3 0h2M728 949.5h1m5 0h1m1 0h1m1 0h1m5 0h2m6 0h5m2 0h3m3 0h2m8 0h1m7 0h1m5 0h2m5 0h2m5 0h1m1 0h1m1 0h1m4 0h1m4 0h3m5 0h1m11 0h3m3 0h1m6 0h1m10 0h1m5 0h1M724 950.5h2m3 0h3m5 0h2m2 0h1m5 0h1m7 0h1m19 0h2m4 0h1m9 0h1m3 0h1m5 0h1m6 0h3m3 0h2m4 0h1m5 0h2m4 0h1m3 0h8m3 0h1m1 0h1m13 0h1M722 951.5h1m4 0h4m12 0h1m7 0h1m4 0h3m3 0h2m2 0h6m1 0h5m1 0h1m3 0h1m2 0h3m6 0h1m1 0h1m5 0h1m9 0h5m4 0h1m9 0h3m3 0h2m16 0h1M722 952.5h2m11 0h1m7 0h1m4 0h4m4 0h1m2 0h1m18 0h1m3 0h2m6 0h1m17 0h2m4 0h1m4 0h1m2 0h1m18 0h2m1 0h1m16 0h3m4 0h3M739 953.5h3m2 0h3m1 0h4m2 0h2m1 0h1m4 0h4m5 0h1m2 0h1m3 0h1m3 0h4m2 0h3m4 0h2m2 0h1m11 0h1m10 0h2m14 0h1m5 0h2m1 0h1m4 0h1m8 0h2M730 954.5h1m8 0h1m16 0h1m11 0h2m2 0h2m12 0h1m3 0h1m5 0h1m2 0h1m1 0h1m4 0h1m1 0h1m1 0h2m3 0h1m2 0h2m16 0h2m6 0h1m1 0h2m1 0h1m2 0h1m2 0h3m4 0h1m4 0h2m1 0h1M729 955.5h1m1 0h1m11 0h1m1 0h1m1 0h4m6 0h1m2 0h2m2 0h1m5 0h1m3 0h1m2 0h3m1 0h1m3 0h1m1 0h1m1 0h1m2 0h1m4 0h2m5 0h1m2 0h1m1 0h1m3 0h2m3 0h2m2 0h1m12 0h2m3 0h1m1 0h3m3 0h1m2 0h1m5 0h1m3 0h1m2 0h1m1 0h4m2 0h2M725 956.5h1m9 0h3m2 0h2m6 0h3m5 0h1m4 0h1m5 0h1m8 0h5m8 0h1m6 0h1m3 0h3m11 0h2m6 0h4m15 0h1m2 0h1m20 0h1M723 957.5h1m8 0h1m1 0h4m2 0h3m3 0h1m2 0h1m7 0h1m4 0h5m1 0h1m2 0h3m6 0h2m4 0h1m1 0h1m5 0h4m7 0h3m3 0h1m6 0h1m2 0h2m18 0h1m1 0h2m19 0h1m7 0h1M726 958.5h1m4 0h2m3 0h1m6 0h3m2 0h1m4 0h1m2 0h1m4 0h1m3 0h3m2 0h1m2 0h1m12 0h3m1 0h1m1 0h2m1 0h1m1 0h3m3 0h1m1 0h2m3 0h1m3 0h2m20 0h1m35 0h2M724 959.5h2m7 0h1m2 0h1m4 0h1m1 0h1m3 0h1m1 0h1m2 0h2m10 0h1m7 0h2m6 0h2m2 0h1m4 0h2m1 0h1m2 0h2m4 0h1m1 0h3m1 0h3m3 0h1m1 0h6m6 0h1m1 0h2m4 0h1m5 0h2m8 0h2m11 0h1m2 0h1M730 960.5h1m6 0h1m2 0h4m5 0h1m1 0h2m1 0h2m2 0h3m14 0h3m3 0h1m3 0h3m12 0h1m7 0h1m2 0h1m3 0h1m5 0h1m5 0h2m3 0h1m2 0h3m17 0h3m2 0h1M728 961.5h1m16 0h6m8 0h1m15 0h1m1 0h1m14 0h2m10 0h2m3 0h1m3 0h2m1 0h2m12 0h2m17 0h1m22 0h2M731 962.5h2m8 0h2m9 0h4m5 0h1m5 0h3m6 0h2m7 0h1m2 0h2m2 0h4m4 0h6m3 0h1m7 0h1m13 0h10m5 0h2m4 0h1m7 0h2M724 963.5h4m3 0h1m4 0h2m4 0h2m1 0h4m2 0h2m2 0h1m1 0h4m2 0h1m5 0h2m6 0h2m11 0h2m4 0h1m1 0h1m7 0h1m4 0h2m1 0h3m1 0h1m19 0h4m2 0h1m5 0h5m12 0h1m1 0h3M723 964.5h2m6 0h1m1 0h1m1 0h3m3 0h2m4 0h2m4 0h3m2 0h1m2 0h1m2 0h1m5 0h2m12 0h1m2 0h4m5 0h1m2 0h5m2 0h1m2 0h2m5 0h1m11 0h1m1 0h2m7 0h1m6 0h2m2 0h1m11 0h1m3 0h2m2 0h2m1 0h1M722 965.5h1m19 0h2m2 0h1m2 0h3m10 0h2m17 0h1m2 0h3m1 0h1m1 0h3m4 0h3m1 0h1m1 0h1m9 0h2m19 0h3m24 0h3m9 0h1M723 966.5h1m10 0h3m9 0h1m4 0h2m1 0h3m1 0h2m4 0h4m7 0h1m1 0h1m1 0h3m13 0h1m5 0h1m7 0h2m3 0h1m11 0h3m12 0h1m4 0h2m2 0h1m22 0h1M735 967.5h1m1 0h1m6 0h2m12 0h1m1 0h1m9 0h2m4 0h1m1 0h2m4 0h1m5 0h2m1 0h1m2 0h2m12 0h1m1 0h4m5 0h2m5 0h5m6 0h2m17 0h1m3 0h2m9 0h1M725 968.5h1m3 0h1m4 0h2m3 0h1m6 0h3m7 0h1m4 0h2m17 0h1m1 0h1m18 0h1m1 0h1m17 0h1m6 0h2m6 0h1m1 0h1m8 0h1m6 0h2m3 0h1m6 0h1m2 0h1m1 0h2M724 969.5h1m4 0h1m2 0h5m2 0h1m2 0h1m2 0h2m1 0h1m1 0h1m4 0h1m2 0h1m3 0h1m4 0h6m2 0h1m2 0h1m5 0h1m1 0h2m4 0h2m1 0h3m1 0h1m2 0h1m7 0h4m4 0h4m2 0h1m4 0h3m26 0h2m5 0h2m3 0h1M724 970.5h2m6 0h2m2 0h1m8 0h1m2 0h4m6 0h1m6 0h1m5 0h2m8 0h1m6 0h2m5 0h3m4 0h1m5 0h2m2 0h2m17 0h2m8 0h2m20 0h1m7 0h3M726 971.5h1m2 0h1m3 0h1m3 0h3m5 0h2m2 0h2m1 0h1m14 0h3m1 0h1m16 0h1m1 0h1m2 0h2m1 0h1m13 0h1m16 0h1m10 0h5m6 0h1m4 0h2m4 0h6M735 972.5h1m1 0h3m5 0h1m3 0h3m2 0h1m4 0h4m3 0h1m3 0h1m3 0h1m1 0h1m1 0h2m3 0h5m5 0h2m6 0h1m3 0h1m2 0h2m9 0h4m14 0h1m1 0h1m7 0h2m6 0h1m2 0h2m5 0h1M724 973.5h1m6 0h2m1 0h1m1 0h2m1 0h2m2 0h1m4 0h1m3 0h1m8 0h1m2 0h1m4 0h2m3 0h1m3 0h2m2 0h1m1 0h1m5 0h1m5 0h1m2 0h1m6 0h1m3 0h1m3 0h1m1 0h1m10 0h3m6 0h1m1 0h1m5 0h1m4 0h1m8 0h1m1 0h1m1 0h5M729 974.5h1m6 0h1m1 0h1m2 0h9m8 0h1m1 0h2m1 0h1m2 0h1m10 0h2m7 0h3m1 0h12m11 0h1m7 0h1m10 0h1m1 0h1m2 0h2m14 0h2m4 0h2m4 0h1m1 0h2M722 975.5h1m6 0h2m1 0h1m12 0h2m1 0h2m10 0h4m7 0h2m3 0h3m1 0h4m2 0h2m6 0h2m6 0h1m1 0h2m18 0h2m7 0h1m2 0h2m12 0h1m1 0h2m1 0h3m1 0h1m8 0h2M724 976.5h1m2 0h2m7 0h1m1 0h1m5 0h1m1 0h3m1 0h1m2 0h2m2 0h1m6 0h1m1 0h1m13 0h2m9 0h1m4 0h2m5 0h1m4 0h4m4 0h1m2 0h1m4 0h1m1 0h3m18 0h1m1 0h2m11 0h1m1 0h1m3 0h1m2 0h2M728 977.5h2m2 0h1m2 0h1m19 0h3m6 0h1m3 0h1m1 0h1m10 0h1m1 0h3m15 0h1m35 0h1m1 0h1m6 0h1m3 0h3M722 978.5h1m4 0h2m3 0h4m10 0h2m1 0h1m2 0h1m11 0h1m1 0h2m2 0h1m5 0h1m4 0h4m6 0h2m3 0h1m6 0h2m1 0h2m4 0h3m10 0h1m6 0h2m19 0h8m3 0h1M725 979.5h2m3 0h1m23 0h1m4 0h2m8 0h2m4 0h8m3 0h1m3 0h1m2 0h4m6 0h4m2 0h1m11 0h1m20 0h1m9 0h3m1 0h2M724 980.5h1m5 0h4m19 0h2m29 0h1m3 0h2m3 0h1m22 0h3m1 0h1m7 0h1m4 0h1m18 0h1m8 0h1m3 0h1m7 0h1M722 981.5h2m4 0h2m8 0h3m2 0h1m1 0h1m1 0h1m2 0h4m2 0h2m4 0h1m3 0h2m1 0h1m1 0h2m12 0h3m2 0h2m4 0h1m10 0h1m4 0h6m1 0h1m4 0h1m1 0h3m7 0h1m1 0h3m2 0h2m3 0h3m4 0h1m6 0h1m1 0h1m3 0h1m3 0h1M725 982.5h6m15 0h1m2 0h1m7 0h1m10 0h1m2 0h1m6 0h1m1 0h2m3 0h4m6 0h2m1 0h2m2 0h1m1 0h2m10 0h2m1 0h2m6 0h1m7 0h5m2 0h1m3 0h2m4 0h2m3 0h2m2 0h1m4 0h3M727 983.5h1m10 0h2m2 0h3m2 0h1m1 0h1m4 0h1m7 0h2m14 0h2m7 0h4m11 0h3m7 0h1m3 0h3m12 0h1m1 0h3m4 0h1m17 0h3m2 0h1m7 0h3M723 984.5h1m9 0h1m3 0h1m5 0h1m3 0h1m1 0h1m5 0h2m5 0h2m3 0h6m2 0h1m3 0h2m9 0h1m9 0h1m1 0h1m1 0h1m3 0h2m2 0h1m25 0h1m1 0h1m3 0h2m1 0h1m2 0h2m3 0h1m10 0h2m1 0h2m2 0h1M730 985.5h1m5 0h2m9 0h2m2 0h4m3 0h1m32 0h2m6 0h3m18 0h1m1 0h1m1 0h1m30 0h1m9 0h1m5 0h3M726 986.5h2m12 0h1m2 0h5m5 0h1m8 0h1m2 0h1m3 0h1m9 0h3m2 0h2m12 0h1m12 0h1m1 0h2m22 0h1m16 0h1m2 0h1m4 0h1m1 0h1M726 987.5h6m1 0h1m6 0h2m10 0h1m4 0h4m9 0h3m7 0h1m2 0h1m10 0h2m7 0h1m7 0h5m4 0h2m1 0h2m5 0h1m7 0h2m5 0h1m3 0h1m2 0h2m2 0h1m12 0h4M733 988.5h2m3 0h2m4 0h1m4 0h2m5 0h3m2 0h5m4 0h3m8 0h1m32 0h2m9 0h1m4 0h2m2 0h2m13 0h2m2 0h1m1 0h1m2 0h4m1 0h3M733 989.5h1m1 0h2m3 0h1m5 0h2m5 0h1m6 0h2m4 0h1m1 0h2m2 0h3m6 0h1m6 0h2m16 0h5m2 0h1m3 0h1m11 0h7m4 0h1m11 0h6m11 0h1M724 990.5h4m5 0h1m2 0h3m6 0h1m29 0h1m14 0h1m23 0h2m15 0h1m17 0h1m4 0h1m13 0h1M725 991.5h1m1 0h1m4 0h1m1 0h1m8 0h1m5 0h1m1 0h2m4 0h1m3 0h1m5 0h1m4 0h1m5 0h5m4 0h1m2 0h3m3 0h2m1 0h1m2 0h1m5 0h2m6 0h5m3 0h4m1 0h3m6 0h2m6 0h4M730 992.5h4m9 0h1m9 0h3m11 0h3m2 0h1m2 0h2m7 0h2m10 0h4m3 0h1m3 0h2m5 0h6m5 0h1m2 0h1m8 0h2m13 0h1m2 0h1m3 0h3m8 0h4M722 993.5h4m26 0h1m18 0h2m2 0h1m5 0h4m2 0h3m6 0h1m4 0h4m13 0h1m1 0h4m3 0h1m4 0h1m1 0h2m6 0h1m6 0h2m9 0h1m1 0h1m5 0h1m3 0h2M723 994.5h4m34 0h1m4 0h3m3 0h1m7 0h4m1 0h1m3 0h1m36 0h3m1 0h3m6 0h2m9 0h1m1 0h3m2 0h2m2 0h1M742 995.5h1m4 0h2m3 0h1m3 0h1m10 0h1m2 0h1m4 0h1m8 0h1m6 0h2m2 0h1m9 0h2m8 0h1m17 0h2m3 0h1m1 0h3m2 0h1m3 0h2m2 0h1m11 0h1m1 0h1m5 0h1M722 996.5h1m3 0h1m34 0h2m9 0h1m4 0h1m10 0h2m2 0h1m2 0h3m20 0h2m28 0h1m10 0h1m5 0h3m2 0h2m1 0h1M722 997.5h1m10 0h1m2 0h3m9 0h2m7 0h1m6 0h7m7 0h1m6 0h1m2 0h2m6 0h1m7 0h2m3 0h4m3 0h1m13 0h1m5 0h4m3 0h3m7 0h4m1 0h4m8 0h1m1 0h2M722 998.5h3m23 0h1m2 0h4m6 0h2m8 0h1m1 0h2m2 0h3m3 0h1m2 0h1m7 0h2m4 0h2m3 0h1m2 0h1m3 0h4m14 0h4m5 0h3m10 0h1m7 0h1m1 0h2m3 0h1M723 999.5h1m8 0h3m2 0h2m3 0h1m9 0h1m2 0h1m2 0h1m5 0h1m2 0h1m2 0h6m2 0h1m1 0h3m4 0h1m13 0h1m4 0h3m1 0h1m1 0h3m1 0h1m4 0h1m14 0h3m3 0h1M723 1000.5h1m6 0h2m10 0h1m2 0h1m7 0h3m2 0h1m3 0h1m1 0h2m3 0h1m6 0h1m1 0h1m1 0h1m8 0h7m7 0h1m4 0h5m2 0h1m9 0h1m18 0h1m1 0h2m4 0h2m9 0h1M740 1001.5h1m1 0h1m1 0h4m2 0h1m5 0h1m11 0h4m3 0h1m3 0h2m4 0h1m9 0h4m6 0h1m7 0h3m7 0h3m13 0h1m8 0h1m12 0h2m1 0h1m3 0h1M723 1002.5h1m1 0h1m2 0h1m1 0h2m2 0h3m12 0h1m5 0h2m1 0h4m3 0h2m5 0h1m17 0h2m6 0h1m5 0h1m4 0h2m3 0h2m23 0h2m6 0h1m7 0h2m4 0h5m3 0h1m1 0h2M723 1003.5h2m9 0h2m1 0h4m1 0h1m11 0h1m5 0h2m2 0h5m15 0h2m29 0h1m1 0h4m5 0h7m2 0h1m7 0h2m13 0h1m3 0h2M725 1004.5h2m3 0h3m5 0h1m1 0h3m1 0h1m7 0h2m1 0h2m3 0h1m1 0h1m2 0h1m14 0h4m4 0h7m16 0h3m4 0h1m4 0h1m6 0h1m4 0h2m2 0h3m4 0h1m9 0h2M726 1005.5h2m8 0h1m1 0h3m2 0h1m5 0h1m1 0h1m1 0h2m4 0h1m4 0h4m16 0h4m11 0h2m17 0h5m10 0h2m8 0h2m8 0h2m1 0h2M729 1006.5h2m4 0h4m4 0h1m9 0h1m3 0h1m2 0h2m4 0h2m19 0h2m18 0h1m8 0h2m2 0h1m6 0h4m5 0h2m8 0h2m3 0h2m10 0h2m1 0h4m1 0h3M730 1007.5h2m7 0h3m2 0h1m1 0h3m10 0h1m26 0h1m8 0h1m20 0h2m7 0h1M724 1008.5h3m1 0h2m1 0h1m1 0h1m8 0h1m9 0h1m4 0h2m5 0h3m3 0h3m37 0h1m3 0h2m2 0h1m1 0h1m5 0h2m5 0h2m1 0h1m4 0h1m18 0h1m2 0h1m3 0h1m3 0h2M731 1009.5h1m2 0h1m8 0h1m5 0h5m4 0h2m5 0h1m39 0h1m14 0h1m3 0h2m7 0h1m19 0h1m6 0h3m2 0h1m3 0h4M733 1010.5h1m7 0h1m5 0h1m9 0h1m5 0h2m1 0h1m22 0h1m13 0h2m4 0h1m3 0h1m5 0h1m8 0h2m5 0h1m3 0h3m2 0h1m9 0h1m5 0h1M723 1011.5h4m9 0h1m4 0h2m1 0h1m3 0h1m4 0h3m1 0h3m9 0h1m28 0h1m1 0h1m6 0h1m21 0h2m12 0h2m7 0h2m3 0h5m2 0h1M731 1012.5h1m4 0h2m2 0h3m11 0h2m9 0h1m55 0h1m6 0h1m4 0h1m1 0h1m8 0h4m14 0h1M723 1013.5h1m5 0h1m17 0h1m4 0h1m4 0h2m4 0h2m2 0h1m12 0h1m12 0h1m2 0h2m15 0h4m5 0h1m23 0h2m6 0h1m6 0h4m1 0h3M722 1014.5h1m1 0h1m5 0h2m1 0h1m5 0h3m2 0h1m3 0h2m6 0h2m25 0h1m33 0h1m5 0h1m1 0h1m1 0h1m3 0h1m3 0h1m10 0h3m10 0h3m6 0h1m1 0h1M731 1015.5h1m9 0h1m2 0h2m6 0h1m27 0h1m7 0h4m2 0h4m1 0h1m14 0h3m5 0h1m2 0h1m8 0h4m6 0h1m2 0h1m5 0h2m3 0h1m5 0h2m7 0h1M722 1016.5h1m1 0h2m6 0h2m2 0h1m1 0h1m3 0h1m5 0h2m3 0h2m1 0h2m5 0h3m17 0h2m2 0h2m3 0h5m10 0h2m6 0h2m3 0h4m4 0h2m12 0h1m1 0h1m2 0h1m2 0h1m13 0h1M726 1017.5h1m1 0h1m2 0h1m4 0h5m15 0h1m10 0h1m26 0h1m20 0h1m5 0h1m5 0h4m6 0h1m1 0h1m7 0h2m1 0h5m11 0h1m2 0h1m1 0h3" stroke="#353535" stroke-width="1" fill="none"/>
<path d="M720.2 934L720.2 1019.5" stroke="#000" stroke-width="2"/>
<path d="M719.2 1018.5L875 1018.5" stroke="#000" stroke-width="2"/>
<path d="M716.2 941L720.2 941" stroke="#000" stroke-width="1.6"/>
<text x="711.8" y="948.4" text-anchor="end">1</text>
<path d="M716.2 995L720.2 995" stroke="#000" stroke-width="1.6"/>
<text x="711.8" y="1002.4" text-anchor="end">50</text>
<path d="M797.2 1018.5L797.2 1022.5" stroke="#000" stroke-width="1.6"/>
<path d="M875 1018.5L875 1022.5" stroke="#000" stroke-width="1.6"/>
<text x="142.5" y="1041">−0.1</text>
<text x="201" y="1041">0</text>
<text x="233" y="1041">0.1</text>
<text x="276.7" y="1041">0.2</text>
<text x="335.6" y="1041">−0.1</text>
<text x="393.5" y="1041">0</text>
<text x="426.8" y="1041">0.1</text>
<text x="471" y="1041">0.2</text>
<text x="520.8" y="1041">−2</text>
<text x="600.6" y="1041">0</text>
<text x="675.5" y="1041">2</text>
<text x="708" y="1041">−2</text>
<text x="790.6" y="1041">0</text>
<text x="867" y="1041">2</text>
<text transform="translate(921,581.6) scale(1.1,1)" font-size="33" font-weight="bold" stroke="#000" stroke-width="1.3">e</text>
<text x="1147.5" y="611.5">V4</text>
<text x="1130.3" y="831.5">dlPFC</text>
<text transform="translate(938.8,807.4) rotate(-90)" text-anchor="middle" xml:space="preserve">Cells with significant responses  (%)</text>
<rect x="1002.7" y="732.6" width="32.7" height="70.3" fill="#d4517a" stroke="#c8164e" stroke-width="1"/>
<rect x="1041.8" y="701" width="32.5" height="101.9" fill="#eba645" stroke="#e89010" stroke-width="1"/>
<rect x="1081.2" y="754.1" width="32.9" height="48.8" fill="#66bf6a" stroke="#3aa848" stroke-width="1"/>
<rect x="1120.7" y="779.9" width="32.4" height="23" fill="#8b87c2" stroke="#6e68b2" stroke-width="1"/>
<g fill="#c8164e" fill-opacity="0.62"><circle cx="1024.7" cy="650.9" r="4.1"/><circle cx="1007.1" cy="680.7" r="4.1"/><circle cx="1014.1" cy="691.3" r="4.1"/><circle cx="1020.8" cy="693.1" r="4.1"/><circle cx="1020.3" cy="699.5" r="4.1"/><circle cx="1031.4" cy="702.5" r="4.1"/><circle cx="1011.6" cy="706.7" r="4.1"/><circle cx="1022.2" cy="715.6" r="4.1"/><circle cx="1023.2" cy="721.1" r="4.1"/><circle cx="1012.8" cy="722.8" r="4.1"/><circle cx="1016.5" cy="728.5" r="4.1"/><circle cx="1025.2" cy="728.5" r="4.1"/><circle cx="1018.5" cy="734" r="4.1"/><circle cx="1024" cy="736" r="4.1"/><circle cx="1015.3" cy="738.4" r="4.1"/><circle cx="1028.9" cy="738.9" r="4.1"/><circle cx="1006.6" cy="747.6" r="4.1"/><circle cx="1016.5" cy="748.9" r="4.1"/><circle cx="1026.5" cy="748.4" r="4.1"/><circle cx="1031.4" cy="745.9" r="4.1"/><circle cx="1021.5" cy="755.8" r="4.1"/><circle cx="1028.2" cy="754.6" r="4.1"/><circle cx="1031.4" cy="758.3" r="4.1"/><circle cx="1019" cy="763.2" r="4.1"/><circle cx="1014.1" cy="765.7" r="4.1"/><circle cx="1024" cy="764.5" r="4.1"/><circle cx="1028.9" cy="763.7" r="4.1"/><circle cx="1025.2" cy="776.9" r="4.1"/><circle cx="1025.2" cy="784.3" r="4.1"/><circle cx="1016.5" cy="750.8" r="4.1"/></g>
<g fill="#e89010" fill-opacity="0.62"><circle cx="1045.8" cy="630.6" r="4.1"/><circle cx="1048.3" cy="631.3" r="4.1"/><circle cx="1061.2" cy="631.8" r="4.1"/><circle cx="1070.6" cy="632.3" r="4.1"/><circle cx="1051.3" cy="638" r="4.1"/><circle cx="1058.7" cy="638" r="4.1"/><circle cx="1054.2" cy="642.2" r="4.1"/><circle cx="1062.4" cy="639.8" r="4.1"/><circle cx="1051.3" cy="656.6" r="4.1"/><circle cx="1070.6" cy="658.4" r="4.1"/><circle cx="1066.6" cy="669.5" r="4.1"/><circle cx="1048.8" cy="675.2" r="4.1"/><circle cx="1062.4" cy="677" r="4.1"/><circle cx="1060.7" cy="687.6" r="4.1"/><circle cx="1068.1" cy="687.6" r="4.1"/><circle cx="1046.3" cy="701.3" r="4.1"/><circle cx="1053.7" cy="703.7" r="4.1"/><circle cx="1054.2" cy="716.1" r="4.1"/><circle cx="1067.6" cy="721.1" r="4.1"/><circle cx="1057.5" cy="733.5" r="4.1"/><circle cx="1052.5" cy="737.2" r="4.1"/><circle cx="1061.2" cy="738.4" r="4.1"/><circle cx="1048.3" cy="745.9" r="4.1"/><circle cx="1058.7" cy="748.4" r="4.1"/><circle cx="1066.6" cy="754.6" r="4.1"/><circle cx="1069.8" cy="764.5" r="4.1"/><circle cx="1063.6" cy="771.9" r="4.1"/><circle cx="1063.6" cy="774.4" r="4.1"/><circle cx="1062.4" cy="778.6" r="4.1"/><circle cx="1050" cy="788.5" r="4.1"/><circle cx="1068.1" cy="791.8" r="4.1"/></g>
<g fill="#3aa848" fill-opacity="0.62"><circle cx="1091.4" cy="639.8" r="4.1"/><circle cx="1087.9" cy="707.9" r="4.1"/><circle cx="1093.4" cy="709.9" r="4.1"/><circle cx="1085.5" cy="721.1" r="4.1"/><circle cx="1087.7" cy="727.3" r="4.1"/><circle cx="1103.3" cy="726.8" r="4.1"/><circle cx="1110.3" cy="727.3" r="4.1"/><circle cx="1102.8" cy="731" r="4.1"/><circle cx="1098.4" cy="741.4" r="4.1"/><circle cx="1090.9" cy="745.9" r="4.1"/><circle cx="1084.7" cy="749.6" r="4.1"/><circle cx="1108.3" cy="749.1" r="4.1"/><circle cx="1092.2" cy="753.3" r="4.1"/><circle cx="1103.3" cy="757.8" r="4.1"/><circle cx="1085.5" cy="765.7" r="4.1"/><circle cx="1105.8" cy="765.7" r="4.1"/><circle cx="1090.9" cy="768.2" r="4.1"/><circle cx="1100.8" cy="768.2" r="4.1"/><circle cx="1088.4" cy="776.9" r="4.1"/><circle cx="1095.9" cy="778.1" r="4.1"/><circle cx="1105.8" cy="776.9" r="4.1"/><circle cx="1093.4" cy="782.6" r="4.1"/><circle cx="1098.4" cy="783.1" r="4.1"/><circle cx="1107" cy="785.6" r="4.1"/><circle cx="1084.7" cy="791.8" r="4.1"/><circle cx="1108.3" cy="791.8" r="4.1"/><circle cx="1108.3" cy="798" r="4.1"/><circle cx="1108.3" cy="802.9" r="4.1"/></g>
<g fill="#7a74bc" fill-opacity="0.62"><circle cx="1136.1" cy="693.3" r="4.1"/><circle cx="1135.6" cy="710.4" r="4.1"/><circle cx="1143" cy="743.4" r="4.1"/><circle cx="1148.5" cy="752.8" r="4.1"/><circle cx="1145" cy="762" r="4.1"/><circle cx="1140.5" cy="769.4" r="4.1"/><circle cx="1147.5" cy="768.2" r="4.1"/><circle cx="1144.2" cy="775.6" r="4.1"/><circle cx="1128.1" cy="780.6" r="4.1"/><circle cx="1136.8" cy="781.8" r="4.1"/><circle cx="1148" cy="784.3" r="4.1"/><circle cx="1124.4" cy="789.3" r="4.1"/><circle cx="1133.1" cy="791.8" r="4.1"/><circle cx="1145.5" cy="790.5" r="4.1"/><circle cx="1150.4" cy="796.7" r="4.1"/><circle cx="1128.1" cy="798" r="4.1"/><circle cx="1138" cy="798" r="4.1"/></g>
<path d="M1018.7 727.9L1018.7 737.8" stroke="#000" stroke-width="2.9"/>
<path d="M1057.9 691.2L1057.9 709.2" stroke="#000" stroke-width="2.9"/>
<path d="M1097.6 748.3L1097.6 759.3" stroke="#000" stroke-width="2.9"/>
<path d="M1136.8 776.2L1136.8 783.2" stroke="#000" stroke-width="2.9"/>
<path d="M991.7 615.5L991.7 803.9" stroke="#000" stroke-width="2.2"/>
<path d="M990.6 802.9L1164.1 802.9" stroke="#000" stroke-width="2.6"/>
<path d="M987.5 802.9L991.7 802.9" stroke="#000" stroke-width="1.6"/>
<text x="984.8" y="810.3" text-anchor="end">0</text>
<path d="M987.5 765.7L991.7 765.7" stroke="#000" stroke-width="1.6"/>
<text x="984.8" y="773.1" text-anchor="end">20</text>
<path d="M987.5 728.4L991.7 728.4" stroke="#000" stroke-width="1.6"/>
<text x="984.8" y="735.8" text-anchor="end">40</text>
<path d="M987.5 691.2L991.7 691.2" stroke="#000" stroke-width="1.6"/>
<text x="984.8" y="698.6" text-anchor="end">60</text>
<path d="M987.5 653.9L991.7 653.9" stroke="#000" stroke-width="1.6"/>
<text x="984.8" y="661.3" text-anchor="end">80</text>
<path d="M987.5 616.7L991.7 616.7" stroke="#000" stroke-width="1.6"/>
<text x="984.8" y="624.1" text-anchor="end">100</text>
<rect x="1002" y="932" width="32.5" height="94" fill="#d4517a" stroke="#c8164e" stroke-width="1"/>
<rect x="1041.3" y="933.9" width="33.1" height="92.1" fill="#eba645" stroke="#e89010" stroke-width="1"/>
<rect x="1080.7" y="886.8" width="33.1" height="139.2" fill="#66bf6a" stroke="#3aa848" stroke-width="1"/>
<rect x="1120.6" y="921.6" width="31.9" height="104.4" fill="#8b87c2" stroke="#6e68b2" stroke-width="1"/>
<g fill="#c8164e" fill-opacity="0.62"><circle cx="1005.5" cy="876.4" r="4.1"/><circle cx="1007.3" cy="879.3" r="4.1"/><circle cx="1017.2" cy="893.9" r="4.1"/><circle cx="1025.9" cy="888.9" r="4.1"/><circle cx="1031.2" cy="898.3" r="4.1"/><circle cx="1010.8" cy="901.5" r="4.1"/><circle cx="1025.9" cy="916.6" r="4.1"/><circle cx="1015.2" cy="928.3" r="4.1"/><circle cx="1022.4" cy="925.4" r="4.1"/><circle cx="1029.7" cy="928.3" r="4.1"/><circle cx="1006.4" cy="934.1" r="4.1"/><circle cx="1019.5" cy="937" r="4.1"/><circle cx="1028.3" cy="937" r="4.1"/><circle cx="1010.2" cy="944.9" r="4.1"/><circle cx="1022.4" cy="944.3" r="4.1"/><circle cx="1007" cy="951.6" r="4.1"/><circle cx="1025.4" cy="951.6" r="4.1"/><circle cx="1026.8" cy="953.9" r="4.1"/><circle cx="1019.5" cy="960.3" r="4.1"/><circle cx="1019" cy="983.7" r="4.1"/><circle cx="1012.2" cy="1009.3" r="4.1"/></g>
<g fill="#e89010" fill-opacity="0.62"><circle cx="1059.8" cy="881.6" r="4.1"/><circle cx="1044.9" cy="894.8" r="4.1"/><circle cx="1050.1" cy="903.5" r="4.1"/><circle cx="1059.8" cy="900.6" r="4.1"/><circle cx="1066.2" cy="905.5" r="4.1"/><circle cx="1047.2" cy="912.2" r="4.1"/><circle cx="1056" cy="915.2" r="4.1"/><circle cx="1067.6" cy="912.2" r="4.1"/><circle cx="1061.8" cy="918.1" r="4.1"/><circle cx="1045.8" cy="925.4" r="4.1"/><circle cx="1053.9" cy="927.7" r="4.1"/><circle cx="1059.8" cy="923.9" r="4.1"/><circle cx="1068.5" cy="925.9" r="4.1"/><circle cx="1044.3" cy="942.9" r="4.1"/><circle cx="1052.2" cy="948.7" r="4.1"/><circle cx="1058.9" cy="942.9" r="4.1"/><circle cx="1070.6" cy="951.6" r="4.1"/><circle cx="1061.8" cy="964.7" r="4.1"/><circle cx="1069.1" cy="966.8" r="4.1"/><circle cx="1054.5" cy="983.7" r="4.1"/><circle cx="1058.9" cy="988" r="4.1"/><circle cx="1053.1" cy="992.4" r="4.1"/><circle cx="1062.7" cy="991" r="4.1"/><circle cx="1064.7" cy="1021.6" r="4.1"/></g>
<g fill="#3aa848" fill-opacity="0.62"><circle cx="1089.5" cy="851.6" r="4.1"/><circle cx="1084.3" cy="858.3" r="4.1"/><circle cx="1092.4" cy="858.3" r="4.1"/><circle cx="1104.1" cy="856.9" r="4.1"/><circle cx="1107.6" cy="858.3" r="4.1"/><circle cx="1086.6" cy="867.1" r="4.1"/><circle cx="1093.9" cy="868.5" r="4.1"/><circle cx="1101.2" cy="867.1" r="4.1"/><circle cx="1109.3" cy="872.9" r="4.1"/><circle cx="1104.1" cy="870" r="4.1"/><circle cx="1098.3" cy="884.5" r="4.1"/><circle cx="1092.4" cy="888.9" r="4.1"/><circle cx="1109.9" cy="888.9" r="4.1"/><circle cx="1086.6" cy="894.8" r="4.1"/><circle cx="1093.9" cy="894.8" r="4.1"/><circle cx="1104.1" cy="897.7" r="4.1"/><circle cx="1104.1" cy="902" r="4.1"/><circle cx="1086.6" cy="903.5" r="4.1"/><circle cx="1092.4" cy="907.9" r="4.1"/><circle cx="1101.2" cy="907.9" r="4.1"/><circle cx="1107" cy="907.9" r="4.1"/><circle cx="1085.1" cy="915.2" r="4.1"/><circle cx="1093.9" cy="916.6" r="4.1"/><circle cx="1104.1" cy="915.2" r="4.1"/><circle cx="1107.6" cy="916.6" r="4.1"/><circle cx="1085.1" cy="922.4" r="4.1"/><circle cx="1101.2" cy="922.4" r="4.1"/><circle cx="1107.6" cy="931.2" r="4.1"/></g>
<g fill="#7a74bc" fill-opacity="0.62"><circle cx="1132.4" cy="866.5" r="4.1"/><circle cx="1147.8" cy="864.7" r="4.1"/><circle cx="1147.8" cy="873.5" r="4.1"/><circle cx="1149.3" cy="894.8" r="4.1"/><circle cx="1146.4" cy="899.1" r="4.1"/><circle cx="1136.2" cy="901.5" r="4.1"/><circle cx="1125.9" cy="907.3" r="4.1"/><circle cx="1130.3" cy="909.3" r="4.1"/><circle cx="1139.7" cy="909.3" r="4.1"/><circle cx="1145.8" cy="910.8" r="4.1"/><circle cx="1133.2" cy="915.2" r="4.1"/><circle cx="1139.1" cy="916.6" r="4.1"/><circle cx="1124.5" cy="922.4" r="4.1"/><circle cx="1133.2" cy="928.3" r="4.1"/><circle cx="1146.4" cy="929.7" r="4.1"/><circle cx="1130.3" cy="934.7" r="4.1"/><circle cx="1124.5" cy="942.9" r="4.1"/><circle cx="1131.8" cy="945.8" r="4.1"/><circle cx="1144.9" cy="948.7" r="4.1"/><circle cx="1128.9" cy="957.4" r="4.1"/><circle cx="1127.4" cy="977.3" r="4.1"/><circle cx="1136.2" cy="974.9" r="4.1"/></g>
<path d="M1018.1 927.4L1018.1 936.2" stroke="#000" stroke-width="2.9"/>
<path d="M1057.4 928.3L1057.4 938.5" stroke="#000" stroke-width="2.9"/>
<path d="M1096.8 883.1L1096.8 891" stroke="#000" stroke-width="2.9"/>
<path d="M1136.2 916.6L1136.2 926" stroke="#000" stroke-width="2.9"/>
<path d="M991.3 838.4L991.3 1027" stroke="#000" stroke-width="2.2"/>
<path d="M990.2 1026L1163.8 1026" stroke="#000" stroke-width="2.6"/>
<path d="M987.1 1026L991.3 1026" stroke="#000" stroke-width="1.6"/>
<text x="984.8" y="1033.4" text-anchor="end">0</text>
<path d="M987.1 989L991.3 989" stroke="#000" stroke-width="1.6"/>
<text x="984.8" y="996.4" text-anchor="end">20</text>
<path d="M987.1 951.9L991.3 951.9" stroke="#000" stroke-width="1.6"/>
<text x="984.8" y="959.3" text-anchor="end">40</text>
<path d="M987.1 914.9L991.3 914.9" stroke="#000" stroke-width="1.6"/>
<text x="984.8" y="922.2" text-anchor="end">60</text>
<path d="M987.1 877.8L991.3 877.8" stroke="#000" stroke-width="1.6"/>
<text x="984.8" y="885.2" text-anchor="end">80</text>
<path d="M987.1 840.8L991.3 840.8" stroke="#000" stroke-width="1.6"/>
<text x="984.8" y="848.1" text-anchor="end">100</text>
<text transform="translate(1022,1042.5) rotate(-45)" text-anchor="end" font-size="20.9">View reward</text>
<text transform="translate(1061,1042) rotate(-45)" text-anchor="end" font-size="20.9">View part</text>
<text transform="translate(1104,1041) rotate(-45)" text-anchor="end" font-size="20.9">Self push</text>
<text transform="translate(1143,1042) rotate(-45)" text-anchor="end" font-size="20.9">Partner push</text>
<path d="M1254.7 718.2L1254.70 650.20A68 68 0 0 1 1294.67 663.19Z" fill="#82cfcb"/>
<path d="M1254.7 718.2L1294.67 663.19A68 68 0 0 1 1233.69 782.87Z" fill="#f5b8a0"/>
<path d="M1254.7 718.2L1233.69 782.87A68 68 0 0 1 1187.24 709.68Z" fill="#d7d800"/>
<path d="M1254.7 718.2L1187.24 709.68A68 68 0 0 1 1254.70 650.20Z" fill="#c6c6c6"/>
<path d="M1254.6 954.7L1254.60 886.70A68 68 0 0 1 1322.60 954.70Z" fill="#82cfcb"/>
<path d="M1254.6 954.7L1322.60 954.70A68 68 0 0 1 1301.15 1004.27Z" fill="#f5b8a0"/>
<path d="M1254.6 954.7L1301.15 1004.27A68 68 0 1 1 1225.65 893.17Z" fill="#d7d800"/>
<path d="M1254.6 954.7L1225.65 893.17A68 68 0 0 1 1254.60 886.70Z" fill="#c6c6c6"/>
<text x="1251" y="677.6">10%</text>
<text x="1205.8" y="690.7">23%</text>
<text x="1198.9" y="746.5">22%</text>
<text x="1272.8" y="743.5">45%</text>
<text x="1229.7" y="910.3">7%</text>
<text x="1263.2" y="930">25%</text>
<text x="1274.9" y="978.4">13%</text>
<text x="1201.7" y="988.7">55%</text>
<rect x="1282" y="792.4" width="11.2" height="11.2" fill="#11998e"/>
<text x="1305.1" y="804">Choice</text>
<rect x="1282" y="817.2" width="11.2" height="11.2" fill="#f5b8a0"/>
<text x="1305.1" y="828.8">Fixations</text>
<rect x="1282" y="842" width="11.2" height="11.2" fill="#d7d800"/>
<text x="1305.1" y="853.7">Mixed</text>
<rect x="1282" y="866.8" width="11.2" height="11.2" fill="#c6c6c6"/>
<text x="1305.1" y="878.5">Other</text>
</svg></body></html>
